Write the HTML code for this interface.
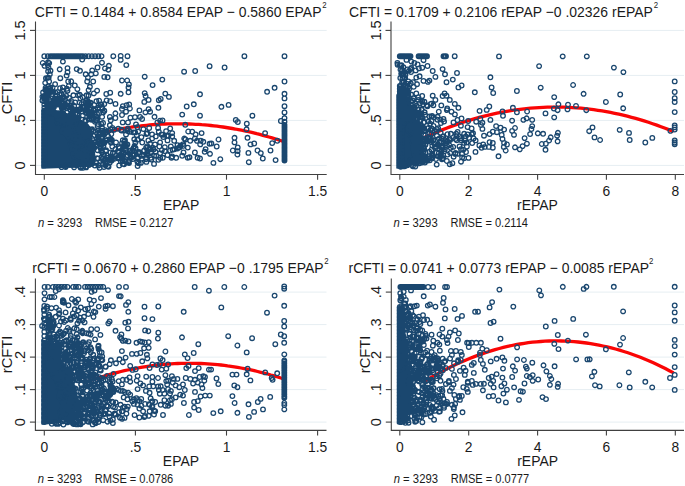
<!DOCTYPE html>
<html><head><meta charset="utf-8"><style>
html,body{margin:0;padding:0;background:#fff;width:685px;height:486px;overflow:hidden}
svg{display:block}
text{font-family:"Liberation Sans", sans-serif;fill:#1a1a1a}
.tk{font-size:14.6px}
.at{font-size:14.7px}
.tt{font-size:14.7px}
.sp{font-size:8.9px}
.nt{font-size:11.9px}
</style></head><body>
<svg width="685" height="486" viewBox="0 0 685 486">
<rect width="685" height="486" fill="#fff"/>
<line x1="36" y1="165.4" x2="326.7" y2="165.4" stroke="#e6eef2" stroke-width="1"/>
<line x1="36" y1="120.4" x2="326.7" y2="120.4" stroke="#e6eef2" stroke-width="1"/>
<line x1="36" y1="75.4" x2="326.7" y2="75.4" stroke="#e6eef2" stroke-width="1"/>
<line x1="36" y1="30.4" x2="326.7" y2="30.4" stroke="#e6eef2" stroke-width="1"/>
<path d="M100.8 133.2 L103.8 132.4 L106.9 131.7 L110.0 131.1 L113.0 130.4 L116.1 129.8 L119.1 129.2 L122.2 128.7 L125.2 128.1 L128.3 127.6 L131.4 127.2 L134.4 126.7 L137.5 126.3 L140.5 126.0 L143.6 125.6 L146.7 125.3 L149.7 125.0 L152.8 124.7 L155.8 124.5 L158.9 124.3 L161.9 124.1 L165.0 124.0 L168.1 123.9 L171.1 123.8 L174.2 123.8 L177.2 123.8 L180.3 123.8 L183.3 123.8 L186.4 123.9 L189.5 124.0 L192.5 124.1 L195.6 124.3 L198.6 124.4 L201.7 124.7 L204.8 124.9 L207.8 125.2 L210.9 125.5 L213.9 125.8 L217.0 126.2 L220.0 126.6 L223.1 127.0 L226.2 127.5 L229.2 128.0 L232.3 128.5 L235.3 129.0 L238.4 129.6 L241.4 130.2 L244.5 130.8 L247.6 131.5 L250.6 132.2 L253.7 132.9 L256.7 133.7 L259.8 134.4 L262.9 135.3 L265.9 136.1 L269.0 137.0 L272.0 137.9 L275.1 138.8 L278.1 139.8 L281.2 140.8 L284.3 141.8" fill="none" stroke="#fa0505" stroke-width="3.3"/>

<path d="M42.0 110.0 L52.0 110.0 L62.0 112.0 L72.0 116.0 L82.0 121.0 L89.0 131.0 L93.0 143.0 L95.0 158.0 L93.0 166.0 L70.0 167.0 L42.0 168.0Z" fill="#1a476f" stroke="#1a476f" stroke-width="1.5" stroke-linejoin="round"/>
<path d="M242.10 56.2a2.3 2.3 0 1 0 4.6 0a2.3 2.3 0 1 0 -4.6 0M282.20 56.2a2.3 2.3 0 1 0 4.6 0a2.3 2.3 0 1 0 -4.6 0M207.30 66.2a2.3 2.3 0 1 0 4.6 0a2.3 2.3 0 1 0 -4.6 0M222.30 67.5a2.3 2.3 0 1 0 4.6 0a2.3 2.3 0 1 0 -4.6 0M282.20 81.5a2.3 2.3 0 1 0 4.6 0a2.3 2.3 0 1 0 -4.6 0M272.30 87.8a2.3 2.3 0 1 0 4.6 0a2.3 2.3 0 1 0 -4.6 0M264.80 91.8a2.3 2.3 0 1 0 4.6 0a2.3 2.3 0 1 0 -4.6 0M282.20 93.8a2.3 2.3 0 1 0 4.6 0a2.3 2.3 0 1 0 -4.6 0M282.20 98.4a2.3 2.3 0 1 0 4.6 0a2.3 2.3 0 1 0 -4.6 0M282.20 106.2a2.3 2.3 0 1 0 4.6 0a2.3 2.3 0 1 0 -4.6 0M226.30 104.9a2.3 2.3 0 1 0 4.6 0a2.3 2.3 0 1 0 -4.6 0M219.10 106.8a2.3 2.3 0 1 0 4.6 0a2.3 2.3 0 1 0 -4.6 0M197.70 94.3a2.3 2.3 0 1 0 4.6 0a2.3 2.3 0 1 0 -4.6 0M197.70 115.7a2.3 2.3 0 1 0 4.6 0a2.3 2.3 0 1 0 -4.6 0M250.10 115.7a2.3 2.3 0 1 0 4.6 0a2.3 2.3 0 1 0 -4.6 0M233.50 120.0a2.3 2.3 0 1 0 4.6 0a2.3 2.3 0 1 0 -4.6 0M235.50 122.0a2.3 2.3 0 1 0 4.6 0a2.3 2.3 0 1 0 -4.6 0M244.50 123.7a2.3 2.3 0 1 0 4.6 0a2.3 2.3 0 1 0 -4.6 0M244.20 129.3a2.3 2.3 0 1 0 4.6 0a2.3 2.3 0 1 0 -4.6 0M278.60 121.0a2.3 2.3 0 1 0 4.6 0a2.3 2.3 0 1 0 -4.6 0M199.30 133.1a2.3 2.3 0 1 0 4.6 0a2.3 2.3 0 1 0 -4.6 0M262.80 133.1a2.3 2.3 0 1 0 4.6 0a2.3 2.3 0 1 0 -4.6 0M275.00 140.8a2.3 2.3 0 1 0 4.6 0a2.3 2.3 0 1 0 -4.6 0M232.20 137.8a2.3 2.3 0 1 0 4.6 0a2.3 2.3 0 1 0 -4.6 0M245.20 137.8a2.3 2.3 0 1 0 4.6 0a2.3 2.3 0 1 0 -4.6 0M216.20 139.5a2.3 2.3 0 1 0 4.6 0a2.3 2.3 0 1 0 -4.6 0M209.10 143.5a2.3 2.3 0 1 0 4.6 0a2.3 2.3 0 1 0 -4.6 0M201.00 141.8a2.3 2.3 0 1 0 4.6 0a2.3 2.3 0 1 0 -4.6 0M198.40 140.8a2.3 2.3 0 1 0 4.6 0a2.3 2.3 0 1 0 -4.6 0M232.20 142.4a2.3 2.3 0 1 0 4.6 0a2.3 2.3 0 1 0 -4.6 0M248.20 144.4a2.3 2.3 0 1 0 4.6 0a2.3 2.3 0 1 0 -4.6 0M251.90 143.5a2.3 2.3 0 1 0 4.6 0a2.3 2.3 0 1 0 -4.6 0M269.90 143.1a2.3 2.3 0 1 0 4.6 0a2.3 2.3 0 1 0 -4.6 0M214.40 146.5a2.3 2.3 0 1 0 4.6 0a2.3 2.3 0 1 0 -4.6 0M235.40 147.5a2.3 2.3 0 1 0 4.6 0a2.3 2.3 0 1 0 -4.6 0M230.50 150.5a2.3 2.3 0 1 0 4.6 0a2.3 2.3 0 1 0 -4.6 0M235.40 151.1a2.3 2.3 0 1 0 4.6 0a2.3 2.3 0 1 0 -4.6 0M235.10 154.5a2.3 2.3 0 1 0 4.6 0a2.3 2.3 0 1 0 -4.6 0M203.30 149.1a2.3 2.3 0 1 0 4.6 0a2.3 2.3 0 1 0 -4.6 0M202.40 151.8a2.3 2.3 0 1 0 4.6 0a2.3 2.3 0 1 0 -4.6 0M207.70 153.8a2.3 2.3 0 1 0 4.6 0a2.3 2.3 0 1 0 -4.6 0M255.20 150.5a2.3 2.3 0 1 0 4.6 0a2.3 2.3 0 1 0 -4.6 0M258.50 153.1a2.3 2.3 0 1 0 4.6 0a2.3 2.3 0 1 0 -4.6 0M268.20 150.5a2.3 2.3 0 1 0 4.6 0a2.3 2.3 0 1 0 -4.6 0M246.10 152.9a2.3 2.3 0 1 0 4.6 0a2.3 2.3 0 1 0 -4.6 0M260.50 158.5a2.3 2.3 0 1 0 4.6 0a2.3 2.3 0 1 0 -4.6 0M273.30 160.1a2.3 2.3 0 1 0 4.6 0a2.3 2.3 0 1 0 -4.6 0M246.50 162.2a2.3 2.3 0 1 0 4.6 0a2.3 2.3 0 1 0 -4.6 0M218.00 159.2a2.3 2.3 0 1 0 4.6 0a2.3 2.3 0 1 0 -4.6 0M211.10 162.9a2.3 2.3 0 1 0 4.6 0a2.3 2.3 0 1 0 -4.6 0M197.70 158.5a2.3 2.3 0 1 0 4.6 0a2.3 2.3 0 1 0 -4.6 0M282.20 112.4a2.3 2.3 0 1 0 4.6 0a2.3 2.3 0 1 0 -4.6 0M282.20 118.1a2.3 2.3 0 1 0 4.6 0a2.3 2.3 0 1 0 -4.6 0M282.20 121.7a2.3 2.3 0 1 0 4.6 0a2.3 2.3 0 1 0 -4.6 0M118.40 55.9a2.3 2.3 0 1 0 4.6 0a2.3 2.3 0 1 0 -4.6 0M118.40 59.9a2.3 2.3 0 1 0 4.6 0a2.3 2.3 0 1 0 -4.6 0M125.20 56.2a2.3 2.3 0 1 0 4.6 0a2.3 2.3 0 1 0 -4.6 0M124.00 65.1a2.3 2.3 0 1 0 4.6 0a2.3 2.3 0 1 0 -4.6 0M181.80 71.7a2.3 2.3 0 1 0 4.6 0a2.3 2.3 0 1 0 -4.6 0M192.90 71.0a2.3 2.3 0 1 0 4.6 0a2.3 2.3 0 1 0 -4.6 0M142.40 76.7a2.3 2.3 0 1 0 4.6 0a2.3 2.3 0 1 0 -4.6 0M119.70 80.5a2.3 2.3 0 1 0 4.6 0a2.3 2.3 0 1 0 -4.6 0M124.90 80.5a2.3 2.3 0 1 0 4.6 0a2.3 2.3 0 1 0 -4.6 0M126.60 84.4a2.3 2.3 0 1 0 4.6 0a2.3 2.3 0 1 0 -4.6 0M126.20 87.4a2.3 2.3 0 1 0 4.6 0a2.3 2.3 0 1 0 -4.6 0M126.20 92.3a2.3 2.3 0 1 0 4.6 0a2.3 2.3 0 1 0 -4.6 0M118.40 93.8a2.3 2.3 0 1 0 4.6 0a2.3 2.3 0 1 0 -4.6 0M160.00 79.6a2.3 2.3 0 1 0 4.6 0a2.3 2.3 0 1 0 -4.6 0M150.30 85.1a2.3 2.3 0 1 0 4.6 0a2.3 2.3 0 1 0 -4.6 0M142.40 93.1a2.3 2.3 0 1 0 4.6 0a2.3 2.3 0 1 0 -4.6 0M143.30 96.0a2.3 2.3 0 1 0 4.6 0a2.3 2.3 0 1 0 -4.6 0M146.30 99.9a2.3 2.3 0 1 0 4.6 0a2.3 2.3 0 1 0 -4.6 0M142.00 101.9a2.3 2.3 0 1 0 4.6 0a2.3 2.3 0 1 0 -4.6 0M163.00 93.6a2.3 2.3 0 1 0 4.6 0a2.3 2.3 0 1 0 -4.6 0M166.60 96.9a2.3 2.3 0 1 0 4.6 0a2.3 2.3 0 1 0 -4.6 0M158.40 98.9a2.3 2.3 0 1 0 4.6 0a2.3 2.3 0 1 0 -4.6 0M156.50 100.2a2.3 2.3 0 1 0 4.6 0a2.3 2.3 0 1 0 -4.6 0M191.50 104.3a2.3 2.3 0 1 0 4.6 0a2.3 2.3 0 1 0 -4.6 0M184.40 106.5a2.3 2.3 0 1 0 4.6 0a2.3 2.3 0 1 0 -4.6 0M124.30 105.2a2.3 2.3 0 1 0 4.6 0a2.3 2.3 0 1 0 -4.6 0M126.90 104.5a2.3 2.3 0 1 0 4.6 0a2.3 2.3 0 1 0 -4.6 0M119.70 108.9a2.3 2.3 0 1 0 4.6 0a2.3 2.3 0 1 0 -4.6 0M127.60 108.5a2.3 2.3 0 1 0 4.6 0a2.3 2.3 0 1 0 -4.6 0M146.30 109.1a2.3 2.3 0 1 0 4.6 0a2.3 2.3 0 1 0 -4.6 0M156.10 107.8a2.3 2.3 0 1 0 4.6 0a2.3 2.3 0 1 0 -4.6 0M137.10 110.4a2.3 2.3 0 1 0 4.6 0a2.3 2.3 0 1 0 -4.6 0M179.90 114.6a2.3 2.3 0 1 0 4.6 0a2.3 2.3 0 1 0 -4.6 0M152.20 116.8a2.3 2.3 0 1 0 4.6 0a2.3 2.3 0 1 0 -4.6 0M160.20 120.4a2.3 2.3 0 1 0 4.6 0a2.3 2.3 0 1 0 -4.6 0M155.10 122.4a2.3 2.3 0 1 0 4.6 0a2.3 2.3 0 1 0 -4.6 0M183.00 124.8a2.3 2.3 0 1 0 4.6 0a2.3 2.3 0 1 0 -4.6 0M155.80 128.0a2.3 2.3 0 1 0 4.6 0a2.3 2.3 0 1 0 -4.6 0M147.80 111.7a2.3 2.3 0 1 0 4.6 0a2.3 2.3 0 1 0 -4.6 0M143.10 112.4a2.3 2.3 0 1 0 4.6 0a2.3 2.3 0 1 0 -4.6 0M137.80 117.0a2.3 2.3 0 1 0 4.6 0a2.3 2.3 0 1 0 -4.6 0M139.80 119.0a2.3 2.3 0 1 0 4.6 0a2.3 2.3 0 1 0 -4.6 0M128.10 117.7a2.3 2.3 0 1 0 4.6 0a2.3 2.3 0 1 0 -4.6 0M125.70 122.4a2.3 2.3 0 1 0 4.6 0a2.3 2.3 0 1 0 -4.6 0M120.40 122.4a2.3 2.3 0 1 0 4.6 0a2.3 2.3 0 1 0 -4.6 0M123.70 111.7a2.3 2.3 0 1 0 4.6 0a2.3 2.3 0 1 0 -4.6 0M119.70 115.0a2.3 2.3 0 1 0 4.6 0a2.3 2.3 0 1 0 -4.6 0M133.70 124.4a2.3 2.3 0 1 0 4.6 0a2.3 2.3 0 1 0 -4.6 0M135.10 127.1a2.3 2.3 0 1 0 4.6 0a2.3 2.3 0 1 0 -4.6 0M141.10 129.1a2.3 2.3 0 1 0 4.6 0a2.3 2.3 0 1 0 -4.6 0M146.90 128.0a2.3 2.3 0 1 0 4.6 0a2.3 2.3 0 1 0 -4.6 0M145.10 133.1a2.3 2.3 0 1 0 4.6 0a2.3 2.3 0 1 0 -4.6 0M149.80 134.4a2.3 2.3 0 1 0 4.6 0a2.3 2.3 0 1 0 -4.6 0M149.80 138.4a2.3 2.3 0 1 0 4.6 0a2.3 2.3 0 1 0 -4.6 0M119.00 129.7a2.3 2.3 0 1 0 4.6 0a2.3 2.3 0 1 0 -4.6 0M127.70 131.7a2.3 2.3 0 1 0 4.6 0a2.3 2.3 0 1 0 -4.6 0M131.10 132.4a2.3 2.3 0 1 0 4.6 0a2.3 2.3 0 1 0 -4.6 0M123.70 134.4a2.3 2.3 0 1 0 4.6 0a2.3 2.3 0 1 0 -4.6 0M134.40 135.1a2.3 2.3 0 1 0 4.6 0a2.3 2.3 0 1 0 -4.6 0M139.10 137.1a2.3 2.3 0 1 0 4.6 0a2.3 2.3 0 1 0 -4.6 0M135.10 139.8a2.3 2.3 0 1 0 4.6 0a2.3 2.3 0 1 0 -4.6 0M133.10 142.4a2.3 2.3 0 1 0 4.6 0a2.3 2.3 0 1 0 -4.6 0M125.10 144.4a2.3 2.3 0 1 0 4.6 0a2.3 2.3 0 1 0 -4.6 0M121.70 146.5a2.3 2.3 0 1 0 4.6 0a2.3 2.3 0 1 0 -4.6 0M156.50 131.7a2.3 2.3 0 1 0 4.6 0a2.3 2.3 0 1 0 -4.6 0M159.20 134.4a2.3 2.3 0 1 0 4.6 0a2.3 2.3 0 1 0 -4.6 0M163.80 131.1a2.3 2.3 0 1 0 4.6 0a2.3 2.3 0 1 0 -4.6 0M164.50 135.8a2.3 2.3 0 1 0 4.6 0a2.3 2.3 0 1 0 -4.6 0M169.90 133.1a2.3 2.3 0 1 0 4.6 0a2.3 2.3 0 1 0 -4.6 0M169.90 136.4a2.3 2.3 0 1 0 4.6 0a2.3 2.3 0 1 0 -4.6 0M171.90 140.8a2.3 2.3 0 1 0 4.6 0a2.3 2.3 0 1 0 -4.6 0M165.20 140.4a2.3 2.3 0 1 0 4.6 0a2.3 2.3 0 1 0 -4.6 0M157.80 142.4a2.3 2.3 0 1 0 4.6 0a2.3 2.3 0 1 0 -4.6 0M147.80 143.8a2.3 2.3 0 1 0 4.6 0a2.3 2.3 0 1 0 -4.6 0M143.80 147.8a2.3 2.3 0 1 0 4.6 0a2.3 2.3 0 1 0 -4.6 0M147.10 149.1a2.3 2.3 0 1 0 4.6 0a2.3 2.3 0 1 0 -4.6 0M150.50 147.8a2.3 2.3 0 1 0 4.6 0a2.3 2.3 0 1 0 -4.6 0M157.10 146.5a2.3 2.3 0 1 0 4.6 0a2.3 2.3 0 1 0 -4.6 0M162.50 147.1a2.3 2.3 0 1 0 4.6 0a2.3 2.3 0 1 0 -4.6 0M168.50 146.5a2.3 2.3 0 1 0 4.6 0a2.3 2.3 0 1 0 -4.6 0M175.20 145.1a2.3 2.3 0 1 0 4.6 0a2.3 2.3 0 1 0 -4.6 0M181.20 145.8a2.3 2.3 0 1 0 4.6 0a2.3 2.3 0 1 0 -4.6 0M176.50 147.8a2.3 2.3 0 1 0 4.6 0a2.3 2.3 0 1 0 -4.6 0M185.90 131.5a2.3 2.3 0 1 0 4.6 0a2.3 2.3 0 1 0 -4.6 0M189.90 131.7a2.3 2.3 0 1 0 4.6 0a2.3 2.3 0 1 0 -4.6 0M193.30 134.4a2.3 2.3 0 1 0 4.6 0a2.3 2.3 0 1 0 -4.6 0M183.20 139.5a2.3 2.3 0 1 0 4.6 0a2.3 2.3 0 1 0 -4.6 0M187.90 140.8a2.3 2.3 0 1 0 4.6 0a2.3 2.3 0 1 0 -4.6 0M192.60 138.4a2.3 2.3 0 1 0 4.6 0a2.3 2.3 0 1 0 -4.6 0M194.60 140.8a2.3 2.3 0 1 0 4.6 0a2.3 2.3 0 1 0 -4.6 0M197.90 144.4a2.3 2.3 0 1 0 4.6 0a2.3 2.3 0 1 0 -4.6 0M207.30 143.8a2.3 2.3 0 1 0 4.6 0a2.3 2.3 0 1 0 -4.6 0M192.60 152.5a2.3 2.3 0 1 0 4.6 0a2.3 2.3 0 1 0 -4.6 0M181.20 152.5a2.3 2.3 0 1 0 4.6 0a2.3 2.3 0 1 0 -4.6 0M179.90 155.8a2.3 2.3 0 1 0 4.6 0a2.3 2.3 0 1 0 -4.6 0M187.20 157.2a2.3 2.3 0 1 0 4.6 0a2.3 2.3 0 1 0 -4.6 0M195.30 157.8a2.3 2.3 0 1 0 4.6 0a2.3 2.3 0 1 0 -4.6 0M173.90 157.8a2.3 2.3 0 1 0 4.6 0a2.3 2.3 0 1 0 -4.6 0M169.90 156.5a2.3 2.3 0 1 0 4.6 0a2.3 2.3 0 1 0 -4.6 0M167.80 150.5a2.3 2.3 0 1 0 4.6 0a2.3 2.3 0 1 0 -4.6 0M162.50 151.1a2.3 2.3 0 1 0 4.6 0a2.3 2.3 0 1 0 -4.6 0M157.80 153.1a2.3 2.3 0 1 0 4.6 0a2.3 2.3 0 1 0 -4.6 0M160.50 157.8a2.3 2.3 0 1 0 4.6 0a2.3 2.3 0 1 0 -4.6 0M157.80 157.8a2.3 2.3 0 1 0 4.6 0a2.3 2.3 0 1 0 -4.6 0M151.80 155.8a2.3 2.3 0 1 0 4.6 0a2.3 2.3 0 1 0 -4.6 0M148.50 157.8a2.3 2.3 0 1 0 4.6 0a2.3 2.3 0 1 0 -4.6 0M143.80 157.2a2.3 2.3 0 1 0 4.6 0a2.3 2.3 0 1 0 -4.6 0M139.80 155.8a2.3 2.3 0 1 0 4.6 0a2.3 2.3 0 1 0 -4.6 0M135.80 157.8a2.3 2.3 0 1 0 4.6 0a2.3 2.3 0 1 0 -4.6 0M131.70 151.1a2.3 2.3 0 1 0 4.6 0a2.3 2.3 0 1 0 -4.6 0M127.70 153.1a2.3 2.3 0 1 0 4.6 0a2.3 2.3 0 1 0 -4.6 0M123.70 156.5a2.3 2.3 0 1 0 4.6 0a2.3 2.3 0 1 0 -4.6 0M120.40 161.2a2.3 2.3 0 1 0 4.6 0a2.3 2.3 0 1 0 -4.6 0M137.80 152.5a2.3 2.3 0 1 0 4.6 0a2.3 2.3 0 1 0 -4.6 0M148.50 151.8a2.3 2.3 0 1 0 4.6 0a2.3 2.3 0 1 0 -4.6 0M153.10 151.8a2.3 2.3 0 1 0 4.6 0a2.3 2.3 0 1 0 -4.6 0M165.20 155.1a2.3 2.3 0 1 0 4.6 0a2.3 2.3 0 1 0 -4.6 0M60.60 61.6a2.3 2.3 0 1 0 4.6 0a2.3 2.3 0 1 0 -4.6 0M79.90 59.5a2.3 2.3 0 1 0 4.6 0a2.3 2.3 0 1 0 -4.6 0M99.70 62.7a2.3 2.3 0 1 0 4.6 0a2.3 2.3 0 1 0 -4.6 0M42.20 65.8a2.3 2.3 0 1 0 4.6 0a2.3 2.3 0 1 0 -4.6 0M45.50 65.1a2.3 2.3 0 1 0 4.6 0a2.3 2.3 0 1 0 -4.6 0M46.20 67.7a2.3 2.3 0 1 0 4.6 0a2.3 2.3 0 1 0 -4.6 0M48.20 70.8a2.3 2.3 0 1 0 4.6 0a2.3 2.3 0 1 0 -4.6 0M47.50 74.3a2.3 2.3 0 1 0 4.6 0a2.3 2.3 0 1 0 -4.6 0M57.40 69.3a2.3 2.3 0 1 0 4.6 0a2.3 2.3 0 1 0 -4.6 0M65.20 68.1a2.3 2.3 0 1 0 4.6 0a2.3 2.3 0 1 0 -4.6 0M65.20 72.3a2.3 2.3 0 1 0 4.6 0a2.3 2.3 0 1 0 -4.6 0M64.30 75.6a2.3 2.3 0 1 0 4.6 0a2.3 2.3 0 1 0 -4.6 0M74.40 69.1a2.3 2.3 0 1 0 4.6 0a2.3 2.3 0 1 0 -4.6 0M77.70 70.8a2.3 2.3 0 1 0 4.6 0a2.3 2.3 0 1 0 -4.6 0M83.40 74.3a2.3 2.3 0 1 0 4.6 0a2.3 2.3 0 1 0 -4.6 0M85.60 77.6a2.3 2.3 0 1 0 4.6 0a2.3 2.3 0 1 0 -4.6 0M89.90 70.4a2.3 2.3 0 1 0 4.6 0a2.3 2.3 0 1 0 -4.6 0M88.90 74.3a2.3 2.3 0 1 0 4.6 0a2.3 2.3 0 1 0 -4.6 0M93.50 73.4a2.3 2.3 0 1 0 4.6 0a2.3 2.3 0 1 0 -4.6 0M95.20 67.5a2.3 2.3 0 1 0 4.6 0a2.3 2.3 0 1 0 -4.6 0M102.70 68.4a2.3 2.3 0 1 0 4.6 0a2.3 2.3 0 1 0 -4.6 0M106.60 65.8a2.3 2.3 0 1 0 4.6 0a2.3 2.3 0 1 0 -4.6 0M106.00 69.7a2.3 2.3 0 1 0 4.6 0a2.3 2.3 0 1 0 -4.6 0M102.00 76.9a2.3 2.3 0 1 0 4.6 0a2.3 2.3 0 1 0 -4.6 0M105.30 77.3a2.3 2.3 0 1 0 4.6 0a2.3 2.3 0 1 0 -4.6 0M45.30 77.9a2.3 2.3 0 1 0 4.6 0a2.3 2.3 0 1 0 -4.6 0M42.90 82.8a2.3 2.3 0 1 0 4.6 0a2.3 2.3 0 1 0 -4.6 0M46.80 81.5a2.3 2.3 0 1 0 4.6 0a2.3 2.3 0 1 0 -4.6 0M52.80 84.2a2.3 2.3 0 1 0 4.6 0a2.3 2.3 0 1 0 -4.6 0M58.00 78.2a2.3 2.3 0 1 0 4.6 0a2.3 2.3 0 1 0 -4.6 0M65.90 81.5a2.3 2.3 0 1 0 4.6 0a2.3 2.3 0 1 0 -4.6 0M68.90 81.3a2.3 2.3 0 1 0 4.6 0a2.3 2.3 0 1 0 -4.6 0M72.50 85.5a2.3 2.3 0 1 0 4.6 0a2.3 2.3 0 1 0 -4.6 0M75.10 89.2a2.3 2.3 0 1 0 4.6 0a2.3 2.3 0 1 0 -4.6 0M84.90 81.5a2.3 2.3 0 1 0 4.6 0a2.3 2.3 0 1 0 -4.6 0M90.90 81.5a2.3 2.3 0 1 0 4.6 0a2.3 2.3 0 1 0 -4.6 0M87.60 86.8a2.3 2.3 0 1 0 4.6 0a2.3 2.3 0 1 0 -4.6 0M86.30 90.1a2.3 2.3 0 1 0 4.6 0a2.3 2.3 0 1 0 -4.6 0M94.80 90.7a2.3 2.3 0 1 0 4.6 0a2.3 2.3 0 1 0 -4.6 0M91.50 93.4a2.3 2.3 0 1 0 4.6 0a2.3 2.3 0 1 0 -4.6 0M104.00 94.0a2.3 2.3 0 1 0 4.6 0a2.3 2.3 0 1 0 -4.6 0M107.90 92.7a2.3 2.3 0 1 0 4.6 0a2.3 2.3 0 1 0 -4.6 0M42.90 90.1a2.3 2.3 0 1 0 4.6 0a2.3 2.3 0 1 0 -4.6 0M46.80 88.8a2.3 2.3 0 1 0 4.6 0a2.3 2.3 0 1 0 -4.6 0M46.80 92.7a2.3 2.3 0 1 0 4.6 0a2.3 2.3 0 1 0 -4.6 0M42.90 95.3a2.3 2.3 0 1 0 4.6 0a2.3 2.3 0 1 0 -4.6 0M55.40 92.0a2.3 2.3 0 1 0 4.6 0a2.3 2.3 0 1 0 -4.6 0M60.60 87.4a2.3 2.3 0 1 0 4.6 0a2.3 2.3 0 1 0 -4.6 0M64.60 88.8a2.3 2.3 0 1 0 4.6 0a2.3 2.3 0 1 0 -4.6 0M66.50 86.1a2.3 2.3 0 1 0 4.6 0a2.3 2.3 0 1 0 -4.6 0M60.00 90.7a2.3 2.3 0 1 0 4.6 0a2.3 2.3 0 1 0 -4.6 0M65.20 90.7a2.3 2.3 0 1 0 4.6 0a2.3 2.3 0 1 0 -4.6 0M53.40 96.0a2.3 2.3 0 1 0 4.6 0a2.3 2.3 0 1 0 -4.6 0M59.30 94.7a2.3 2.3 0 1 0 4.6 0a2.3 2.3 0 1 0 -4.6 0M63.90 96.0a2.3 2.3 0 1 0 4.6 0a2.3 2.3 0 1 0 -4.6 0M71.10 95.3a2.3 2.3 0 1 0 4.6 0a2.3 2.3 0 1 0 -4.6 0M75.70 95.3a2.3 2.3 0 1 0 4.6 0a2.3 2.3 0 1 0 -4.6 0M80.30 97.3a2.3 2.3 0 1 0 4.6 0a2.3 2.3 0 1 0 -4.6 0M84.30 95.3a2.3 2.3 0 1 0 4.6 0a2.3 2.3 0 1 0 -4.6 0M84.90 99.9a2.3 2.3 0 1 0 4.6 0a2.3 2.3 0 1 0 -4.6 0M94.10 101.2a2.3 2.3 0 1 0 4.6 0a2.3 2.3 0 1 0 -4.6 0M96.80 100.6a2.3 2.3 0 1 0 4.6 0a2.3 2.3 0 1 0 -4.6 0M102.00 103.9a2.3 2.3 0 1 0 4.6 0a2.3 2.3 0 1 0 -4.6 0M107.90 101.2a2.3 2.3 0 1 0 4.6 0a2.3 2.3 0 1 0 -4.6 0M113.20 103.9a2.3 2.3 0 1 0 4.6 0a2.3 2.3 0 1 0 -4.6 0M88.90 107.8a2.3 2.3 0 1 0 4.6 0a2.3 2.3 0 1 0 -4.6 0M95.50 107.8a2.3 2.3 0 1 0 4.6 0a2.3 2.3 0 1 0 -4.6 0M100.10 109.1a2.3 2.3 0 1 0 4.6 0a2.3 2.3 0 1 0 -4.6 0M111.00 56.2a2.3 2.3 0 1 0 4.6 0a2.3 2.3 0 1 0 -4.6 0M42.00 56.2a2.3 2.3 0 1 0 4.6 0a2.3 2.3 0 1 0 -4.6 0M45.50 56.2a2.3 2.3 0 1 0 4.6 0a2.3 2.3 0 1 0 -4.6 0M48.20 56.2a2.3 2.3 0 1 0 4.6 0a2.3 2.3 0 1 0 -4.6 0M49.61 56.2a2.3 2.3 0 1 0 4.6 0a2.3 2.3 0 1 0 -4.6 0M51.03 56.2a2.3 2.3 0 1 0 4.6 0a2.3 2.3 0 1 0 -4.6 0M52.44 56.2a2.3 2.3 0 1 0 4.6 0a2.3 2.3 0 1 0 -4.6 0M53.85 56.2a2.3 2.3 0 1 0 4.6 0a2.3 2.3 0 1 0 -4.6 0M55.27 56.2a2.3 2.3 0 1 0 4.6 0a2.3 2.3 0 1 0 -4.6 0M56.68 56.2a2.3 2.3 0 1 0 4.6 0a2.3 2.3 0 1 0 -4.6 0M58.09 56.2a2.3 2.3 0 1 0 4.6 0a2.3 2.3 0 1 0 -4.6 0M59.50 56.2a2.3 2.3 0 1 0 4.6 0a2.3 2.3 0 1 0 -4.6 0M60.92 56.2a2.3 2.3 0 1 0 4.6 0a2.3 2.3 0 1 0 -4.6 0M62.33 56.2a2.3 2.3 0 1 0 4.6 0a2.3 2.3 0 1 0 -4.6 0M63.74 56.2a2.3 2.3 0 1 0 4.6 0a2.3 2.3 0 1 0 -4.6 0M65.16 56.2a2.3 2.3 0 1 0 4.6 0a2.3 2.3 0 1 0 -4.6 0M66.57 56.2a2.3 2.3 0 1 0 4.6 0a2.3 2.3 0 1 0 -4.6 0M67.98 56.2a2.3 2.3 0 1 0 4.6 0a2.3 2.3 0 1 0 -4.6 0M69.40 56.2a2.3 2.3 0 1 0 4.6 0a2.3 2.3 0 1 0 -4.6 0M70.81 56.2a2.3 2.3 0 1 0 4.6 0a2.3 2.3 0 1 0 -4.6 0M72.22 56.2a2.3 2.3 0 1 0 4.6 0a2.3 2.3 0 1 0 -4.6 0M73.63 56.2a2.3 2.3 0 1 0 4.6 0a2.3 2.3 0 1 0 -4.6 0M75.05 56.2a2.3 2.3 0 1 0 4.6 0a2.3 2.3 0 1 0 -4.6 0M76.46 56.2a2.3 2.3 0 1 0 4.6 0a2.3 2.3 0 1 0 -4.6 0M77.87 56.2a2.3 2.3 0 1 0 4.6 0a2.3 2.3 0 1 0 -4.6 0M79.29 56.2a2.3 2.3 0 1 0 4.6 0a2.3 2.3 0 1 0 -4.6 0M80.70 56.2a2.3 2.3 0 1 0 4.6 0a2.3 2.3 0 1 0 -4.6 0M83.20 56.2a2.3 2.3 0 1 0 4.6 0a2.3 2.3 0 1 0 -4.6 0M86.40 56.2a2.3 2.3 0 1 0 4.6 0a2.3 2.3 0 1 0 -4.6 0M89.60 56.2a2.3 2.3 0 1 0 4.6 0a2.3 2.3 0 1 0 -4.6 0M92.80 56.2a2.3 2.3 0 1 0 4.6 0a2.3 2.3 0 1 0 -4.6 0M96.00 56.2a2.3 2.3 0 1 0 4.6 0a2.3 2.3 0 1 0 -4.6 0M99.20 56.2a2.3 2.3 0 1 0 4.6 0a2.3 2.3 0 1 0 -4.6 0M282.20 125.0a2.3 2.3 0 1 0 4.6 0a2.3 2.3 0 1 0 -4.6 0M282.20 126.3a2.3 2.3 0 1 0 4.6 0a2.3 2.3 0 1 0 -4.6 0M282.20 127.6a2.3 2.3 0 1 0 4.6 0a2.3 2.3 0 1 0 -4.6 0M282.20 128.9a2.3 2.3 0 1 0 4.6 0a2.3 2.3 0 1 0 -4.6 0M282.20 130.3a2.3 2.3 0 1 0 4.6 0a2.3 2.3 0 1 0 -4.6 0M282.20 131.6a2.3 2.3 0 1 0 4.6 0a2.3 2.3 0 1 0 -4.6 0M282.20 132.9a2.3 2.3 0 1 0 4.6 0a2.3 2.3 0 1 0 -4.6 0M282.20 134.2a2.3 2.3 0 1 0 4.6 0a2.3 2.3 0 1 0 -4.6 0M282.20 135.5a2.3 2.3 0 1 0 4.6 0a2.3 2.3 0 1 0 -4.6 0M282.20 136.8a2.3 2.3 0 1 0 4.6 0a2.3 2.3 0 1 0 -4.6 0M282.20 138.1a2.3 2.3 0 1 0 4.6 0a2.3 2.3 0 1 0 -4.6 0M282.20 139.5a2.3 2.3 0 1 0 4.6 0a2.3 2.3 0 1 0 -4.6 0M282.20 140.8a2.3 2.3 0 1 0 4.6 0a2.3 2.3 0 1 0 -4.6 0M282.20 142.1a2.3 2.3 0 1 0 4.6 0a2.3 2.3 0 1 0 -4.6 0M282.20 143.4a2.3 2.3 0 1 0 4.6 0a2.3 2.3 0 1 0 -4.6 0M282.20 144.7a2.3 2.3 0 1 0 4.6 0a2.3 2.3 0 1 0 -4.6 0M282.20 146.0a2.3 2.3 0 1 0 4.6 0a2.3 2.3 0 1 0 -4.6 0M282.20 147.4a2.3 2.3 0 1 0 4.6 0a2.3 2.3 0 1 0 -4.6 0M282.20 148.7a2.3 2.3 0 1 0 4.6 0a2.3 2.3 0 1 0 -4.6 0M282.20 150.0a2.3 2.3 0 1 0 4.6 0a2.3 2.3 0 1 0 -4.6 0M282.20 151.3a2.3 2.3 0 1 0 4.6 0a2.3 2.3 0 1 0 -4.6 0M282.20 152.6a2.3 2.3 0 1 0 4.6 0a2.3 2.3 0 1 0 -4.6 0M282.20 153.9a2.3 2.3 0 1 0 4.6 0a2.3 2.3 0 1 0 -4.6 0M282.20 155.2a2.3 2.3 0 1 0 4.6 0a2.3 2.3 0 1 0 -4.6 0M282.20 156.6a2.3 2.3 0 1 0 4.6 0a2.3 2.3 0 1 0 -4.6 0M282.20 157.9a2.3 2.3 0 1 0 4.6 0a2.3 2.3 0 1 0 -4.6 0M282.20 159.2a2.3 2.3 0 1 0 4.6 0a2.3 2.3 0 1 0 -4.6 0M282.20 160.5a2.3 2.3 0 1 0 4.6 0a2.3 2.3 0 1 0 -4.6 0M42.00 98.0a2.3 2.3 0 1 0 4.6 0a2.3 2.3 0 1 0 -4.6 0M42.00 101.2a2.3 2.3 0 1 0 4.6 0a2.3 2.3 0 1 0 -4.6 0M42.00 104.4a2.3 2.3 0 1 0 4.6 0a2.3 2.3 0 1 0 -4.6 0M42.00 107.6a2.3 2.3 0 1 0 4.6 0a2.3 2.3 0 1 0 -4.6 0M42.00 110.8a2.3 2.3 0 1 0 4.6 0a2.3 2.3 0 1 0 -4.6 0M42.00 114.0a2.3 2.3 0 1 0 4.6 0a2.3 2.3 0 1 0 -4.6 0M42.00 117.3a2.3 2.3 0 1 0 4.6 0a2.3 2.3 0 1 0 -4.6 0M42.00 120.5a2.3 2.3 0 1 0 4.6 0a2.3 2.3 0 1 0 -4.6 0M42.00 123.7a2.3 2.3 0 1 0 4.6 0a2.3 2.3 0 1 0 -4.6 0M42.00 126.9a2.3 2.3 0 1 0 4.6 0a2.3 2.3 0 1 0 -4.6 0M42.00 130.1a2.3 2.3 0 1 0 4.6 0a2.3 2.3 0 1 0 -4.6 0M42.00 133.3a2.3 2.3 0 1 0 4.6 0a2.3 2.3 0 1 0 -4.6 0M42.00 136.5a2.3 2.3 0 1 0 4.6 0a2.3 2.3 0 1 0 -4.6 0M42.00 139.7a2.3 2.3 0 1 0 4.6 0a2.3 2.3 0 1 0 -4.6 0M42.00 142.9a2.3 2.3 0 1 0 4.6 0a2.3 2.3 0 1 0 -4.6 0M42.00 146.1a2.3 2.3 0 1 0 4.6 0a2.3 2.3 0 1 0 -4.6 0M42.00 149.4a2.3 2.3 0 1 0 4.6 0a2.3 2.3 0 1 0 -4.6 0M42.00 152.6a2.3 2.3 0 1 0 4.6 0a2.3 2.3 0 1 0 -4.6 0M42.00 155.8a2.3 2.3 0 1 0 4.6 0a2.3 2.3 0 1 0 -4.6 0M42.00 159.0a2.3 2.3 0 1 0 4.6 0a2.3 2.3 0 1 0 -4.6 0M42.00 162.2a2.3 2.3 0 1 0 4.6 0a2.3 2.3 0 1 0 -4.6 0M42.00 165.4a2.3 2.3 0 1 0 4.6 0a2.3 2.3 0 1 0 -4.6 0M40.77 92.5a2.3 2.3 0 1 0 4.6 0a2.3 2.3 0 1 0 -4.6 0M45.81 71.2a2.3 2.3 0 1 0 4.6 0a2.3 2.3 0 1 0 -4.6 0M43.66 78.2a2.3 2.3 0 1 0 4.6 0a2.3 2.3 0 1 0 -4.6 0M44.91 90.4a2.3 2.3 0 1 0 4.6 0a2.3 2.3 0 1 0 -4.6 0M40.45 63.0a2.3 2.3 0 1 0 4.6 0a2.3 2.3 0 1 0 -4.6 0M46.39 77.6a2.3 2.3 0 1 0 4.6 0a2.3 2.3 0 1 0 -4.6 0M45.80 62.1a2.3 2.3 0 1 0 4.6 0a2.3 2.3 0 1 0 -4.6 0M43.26 88.0a2.3 2.3 0 1 0 4.6 0a2.3 2.3 0 1 0 -4.6 0M41.53 96.0a2.3 2.3 0 1 0 4.6 0a2.3 2.3 0 1 0 -4.6 0M46.91 63.1a2.3 2.3 0 1 0 4.6 0a2.3 2.3 0 1 0 -4.6 0M40.11 100.5a2.3 2.3 0 1 0 4.6 0a2.3 2.3 0 1 0 -4.6 0M54.73 98.6a2.3 2.3 0 1 0 4.6 0a2.3 2.3 0 1 0 -4.6 0M43.17 99.1a2.3 2.3 0 1 0 4.6 0a2.3 2.3 0 1 0 -4.6 0M40.16 96.7a2.3 2.3 0 1 0 4.6 0a2.3 2.3 0 1 0 -4.6 0M46.71 99.9a2.3 2.3 0 1 0 4.6 0a2.3 2.3 0 1 0 -4.6 0M43.43 96.8a2.3 2.3 0 1 0 4.6 0a2.3 2.3 0 1 0 -4.6 0M43.20 99.5a2.3 2.3 0 1 0 4.6 0a2.3 2.3 0 1 0 -4.6 0M44.34 94.3a2.3 2.3 0 1 0 4.6 0a2.3 2.3 0 1 0 -4.6 0M53.10 100.7a2.3 2.3 0 1 0 4.6 0a2.3 2.3 0 1 0 -4.6 0M49.98 96.2a2.3 2.3 0 1 0 4.6 0a2.3 2.3 0 1 0 -4.6 0M55.58 104.3a2.3 2.3 0 1 0 4.6 0a2.3 2.3 0 1 0 -4.6 0M41.63 98.0a2.3 2.3 0 1 0 4.6 0a2.3 2.3 0 1 0 -4.6 0M51.24 102.5a2.3 2.3 0 1 0 4.6 0a2.3 2.3 0 1 0 -4.6 0M54.68 99.1a2.3 2.3 0 1 0 4.6 0a2.3 2.3 0 1 0 -4.6 0M52.98 102.0a2.3 2.3 0 1 0 4.6 0a2.3 2.3 0 1 0 -4.6 0M44.55 101.1a2.3 2.3 0 1 0 4.6 0a2.3 2.3 0 1 0 -4.6 0M53.82 104.2a2.3 2.3 0 1 0 4.6 0a2.3 2.3 0 1 0 -4.6 0M92.85 108.9a2.3 2.3 0 1 0 4.6 0a2.3 2.3 0 1 0 -4.6 0M83.75 101.0a2.3 2.3 0 1 0 4.6 0a2.3 2.3 0 1 0 -4.6 0M77.38 94.8a2.3 2.3 0 1 0 4.6 0a2.3 2.3 0 1 0 -4.6 0M96.23 105.1a2.3 2.3 0 1 0 4.6 0a2.3 2.3 0 1 0 -4.6 0M86.59 102.9a2.3 2.3 0 1 0 4.6 0a2.3 2.3 0 1 0 -4.6 0M96.88 113.0a2.3 2.3 0 1 0 4.6 0a2.3 2.3 0 1 0 -4.6 0M102.01 110.7a2.3 2.3 0 1 0 4.6 0a2.3 2.3 0 1 0 -4.6 0M98.16 104.5a2.3 2.3 0 1 0 4.6 0a2.3 2.3 0 1 0 -4.6 0M85.77 101.9a2.3 2.3 0 1 0 4.6 0a2.3 2.3 0 1 0 -4.6 0M86.20 95.6a2.3 2.3 0 1 0 4.6 0a2.3 2.3 0 1 0 -4.6 0M88.32 102.8a2.3 2.3 0 1 0 4.6 0a2.3 2.3 0 1 0 -4.6 0M100.75 112.4a2.3 2.3 0 1 0 4.6 0a2.3 2.3 0 1 0 -4.6 0M185.45 157.8a2.3 2.3 0 1 0 4.6 0a2.3 2.3 0 1 0 -4.6 0M139.40 158.6a2.3 2.3 0 1 0 4.6 0a2.3 2.3 0 1 0 -4.6 0M119.12 130.5a2.3 2.3 0 1 0 4.6 0a2.3 2.3 0 1 0 -4.6 0M181.92 138.5a2.3 2.3 0 1 0 4.6 0a2.3 2.3 0 1 0 -4.6 0M127.01 151.2a2.3 2.3 0 1 0 4.6 0a2.3 2.3 0 1 0 -4.6 0M131.27 147.9a2.3 2.3 0 1 0 4.6 0a2.3 2.3 0 1 0 -4.6 0M131.99 139.3a2.3 2.3 0 1 0 4.6 0a2.3 2.3 0 1 0 -4.6 0M178.19 145.5a2.3 2.3 0 1 0 4.6 0a2.3 2.3 0 1 0 -4.6 0M145.07 146.1a2.3 2.3 0 1 0 4.6 0a2.3 2.3 0 1 0 -4.6 0M119.71 143.1a2.3 2.3 0 1 0 4.6 0a2.3 2.3 0 1 0 -4.6 0M153.48 136.4a2.3 2.3 0 1 0 4.6 0a2.3 2.3 0 1 0 -4.6 0M126.94 160.6a2.3 2.3 0 1 0 4.6 0a2.3 2.3 0 1 0 -4.6 0M161.06 137.1a2.3 2.3 0 1 0 4.6 0a2.3 2.3 0 1 0 -4.6 0M169.18 157.8a2.3 2.3 0 1 0 4.6 0a2.3 2.3 0 1 0 -4.6 0M119.47 130.6a2.3 2.3 0 1 0 4.6 0a2.3 2.3 0 1 0 -4.6 0M130.15 154.4a2.3 2.3 0 1 0 4.6 0a2.3 2.3 0 1 0 -4.6 0M131.32 154.0a2.3 2.3 0 1 0 4.6 0a2.3 2.3 0 1 0 -4.6 0M175.34 148.5a2.3 2.3 0 1 0 4.6 0a2.3 2.3 0 1 0 -4.6 0M136.45 163.2a2.3 2.3 0 1 0 4.6 0a2.3 2.3 0 1 0 -4.6 0M185.51 147.6a2.3 2.3 0 1 0 4.6 0a2.3 2.3 0 1 0 -4.6 0M136.67 152.0a2.3 2.3 0 1 0 4.6 0a2.3 2.3 0 1 0 -4.6 0M151.27 149.6a2.3 2.3 0 1 0 4.6 0a2.3 2.3 0 1 0 -4.6 0M145.01 151.5a2.3 2.3 0 1 0 4.6 0a2.3 2.3 0 1 0 -4.6 0M122.70 140.2a2.3 2.3 0 1 0 4.6 0a2.3 2.3 0 1 0 -4.6 0M143.74 159.2a2.3 2.3 0 1 0 4.6 0a2.3 2.3 0 1 0 -4.6 0M144.08 161.9a2.3 2.3 0 1 0 4.6 0a2.3 2.3 0 1 0 -4.6 0M180.93 144.1a2.3 2.3 0 1 0 4.6 0a2.3 2.3 0 1 0 -4.6 0M166.17 135.8a2.3 2.3 0 1 0 4.6 0a2.3 2.3 0 1 0 -4.6 0M177.54 147.3a2.3 2.3 0 1 0 4.6 0a2.3 2.3 0 1 0 -4.6 0M92.46 114.4a2.3 2.3 0 1 0 4.6 0a2.3 2.3 0 1 0 -4.6 0M81.89 127.0a2.3 2.3 0 1 0 4.6 0a2.3 2.3 0 1 0 -4.6 0M156.14 159.8a2.3 2.3 0 1 0 4.6 0a2.3 2.3 0 1 0 -4.6 0M69.61 112.9a2.3 2.3 0 1 0 4.6 0a2.3 2.3 0 1 0 -4.6 0M88.06 158.4a2.3 2.3 0 1 0 4.6 0a2.3 2.3 0 1 0 -4.6 0M106.20 166.8a2.3 2.3 0 1 0 4.6 0a2.3 2.3 0 1 0 -4.6 0M121.13 155.0a2.3 2.3 0 1 0 4.6 0a2.3 2.3 0 1 0 -4.6 0M61.16 131.2a2.3 2.3 0 1 0 4.6 0a2.3 2.3 0 1 0 -4.6 0M48.75 92.0a2.3 2.3 0 1 0 4.6 0a2.3 2.3 0 1 0 -4.6 0M123.06 150.1a2.3 2.3 0 1 0 4.6 0a2.3 2.3 0 1 0 -4.6 0M78.11 159.0a2.3 2.3 0 1 0 4.6 0a2.3 2.3 0 1 0 -4.6 0M145.22 153.9a2.3 2.3 0 1 0 4.6 0a2.3 2.3 0 1 0 -4.6 0M65.29 105.8a2.3 2.3 0 1 0 4.6 0a2.3 2.3 0 1 0 -4.6 0M92.50 165.6a2.3 2.3 0 1 0 4.6 0a2.3 2.3 0 1 0 -4.6 0M81.63 106.8a2.3 2.3 0 1 0 4.6 0a2.3 2.3 0 1 0 -4.6 0M81.83 134.9a2.3 2.3 0 1 0 4.6 0a2.3 2.3 0 1 0 -4.6 0M71.46 136.7a2.3 2.3 0 1 0 4.6 0a2.3 2.3 0 1 0 -4.6 0M113.74 142.4a2.3 2.3 0 1 0 4.6 0a2.3 2.3 0 1 0 -4.6 0M77.12 130.4a2.3 2.3 0 1 0 4.6 0a2.3 2.3 0 1 0 -4.6 0M126.71 163.1a2.3 2.3 0 1 0 4.6 0a2.3 2.3 0 1 0 -4.6 0M83.28 112.8a2.3 2.3 0 1 0 4.6 0a2.3 2.3 0 1 0 -4.6 0M86.83 130.6a2.3 2.3 0 1 0 4.6 0a2.3 2.3 0 1 0 -4.6 0M120.58 106.1a2.3 2.3 0 1 0 4.6 0a2.3 2.3 0 1 0 -4.6 0M52.85 92.2a2.3 2.3 0 1 0 4.6 0a2.3 2.3 0 1 0 -4.6 0M81.22 151.0a2.3 2.3 0 1 0 4.6 0a2.3 2.3 0 1 0 -4.6 0M47.80 111.9a2.3 2.3 0 1 0 4.6 0a2.3 2.3 0 1 0 -4.6 0M139.96 142.5a2.3 2.3 0 1 0 4.6 0a2.3 2.3 0 1 0 -4.6 0M113.54 155.8a2.3 2.3 0 1 0 4.6 0a2.3 2.3 0 1 0 -4.6 0M94.75 113.8a2.3 2.3 0 1 0 4.6 0a2.3 2.3 0 1 0 -4.6 0M97.45 132.8a2.3 2.3 0 1 0 4.6 0a2.3 2.3 0 1 0 -4.6 0M77.13 154.0a2.3 2.3 0 1 0 4.6 0a2.3 2.3 0 1 0 -4.6 0M95.44 136.2a2.3 2.3 0 1 0 4.6 0a2.3 2.3 0 1 0 -4.6 0M108.32 139.2a2.3 2.3 0 1 0 4.6 0a2.3 2.3 0 1 0 -4.6 0M132.26 146.0a2.3 2.3 0 1 0 4.6 0a2.3 2.3 0 1 0 -4.6 0M107.56 125.3a2.3 2.3 0 1 0 4.6 0a2.3 2.3 0 1 0 -4.6 0M96.88 132.0a2.3 2.3 0 1 0 4.6 0a2.3 2.3 0 1 0 -4.6 0M49.92 91.9a2.3 2.3 0 1 0 4.6 0a2.3 2.3 0 1 0 -4.6 0M66.44 106.5a2.3 2.3 0 1 0 4.6 0a2.3 2.3 0 1 0 -4.6 0M117.17 148.1a2.3 2.3 0 1 0 4.6 0a2.3 2.3 0 1 0 -4.6 0M75.72 147.5a2.3 2.3 0 1 0 4.6 0a2.3 2.3 0 1 0 -4.6 0M68.19 122.0a2.3 2.3 0 1 0 4.6 0a2.3 2.3 0 1 0 -4.6 0M70.35 109.4a2.3 2.3 0 1 0 4.6 0a2.3 2.3 0 1 0 -4.6 0M78.95 134.0a2.3 2.3 0 1 0 4.6 0a2.3 2.3 0 1 0 -4.6 0M93.14 109.3a2.3 2.3 0 1 0 4.6 0a2.3 2.3 0 1 0 -4.6 0M89.73 129.3a2.3 2.3 0 1 0 4.6 0a2.3 2.3 0 1 0 -4.6 0M100.76 122.9a2.3 2.3 0 1 0 4.6 0a2.3 2.3 0 1 0 -4.6 0M95.22 150.2a2.3 2.3 0 1 0 4.6 0a2.3 2.3 0 1 0 -4.6 0M107.21 139.1a2.3 2.3 0 1 0 4.6 0a2.3 2.3 0 1 0 -4.6 0M96.20 137.6a2.3 2.3 0 1 0 4.6 0a2.3 2.3 0 1 0 -4.6 0M135.73 152.8a2.3 2.3 0 1 0 4.6 0a2.3 2.3 0 1 0 -4.6 0M141.95 150.4a2.3 2.3 0 1 0 4.6 0a2.3 2.3 0 1 0 -4.6 0M100.92 160.9a2.3 2.3 0 1 0 4.6 0a2.3 2.3 0 1 0 -4.6 0M61.58 97.3a2.3 2.3 0 1 0 4.6 0a2.3 2.3 0 1 0 -4.6 0M90.28 147.6a2.3 2.3 0 1 0 4.6 0a2.3 2.3 0 1 0 -4.6 0M57.42 118.6a2.3 2.3 0 1 0 4.6 0a2.3 2.3 0 1 0 -4.6 0M56.60 101.3a2.3 2.3 0 1 0 4.6 0a2.3 2.3 0 1 0 -4.6 0M120.78 158.9a2.3 2.3 0 1 0 4.6 0a2.3 2.3 0 1 0 -4.6 0M87.88 154.7a2.3 2.3 0 1 0 4.6 0a2.3 2.3 0 1 0 -4.6 0M107.56 117.0a2.3 2.3 0 1 0 4.6 0a2.3 2.3 0 1 0 -4.6 0M73.59 153.3a2.3 2.3 0 1 0 4.6 0a2.3 2.3 0 1 0 -4.6 0M86.29 134.7a2.3 2.3 0 1 0 4.6 0a2.3 2.3 0 1 0 -4.6 0M118.55 161.3a2.3 2.3 0 1 0 4.6 0a2.3 2.3 0 1 0 -4.6 0M60.47 124.0a2.3 2.3 0 1 0 4.6 0a2.3 2.3 0 1 0 -4.6 0M58.85 93.5a2.3 2.3 0 1 0 4.6 0a2.3 2.3 0 1 0 -4.6 0M115.97 128.8a2.3 2.3 0 1 0 4.6 0a2.3 2.3 0 1 0 -4.6 0M89.27 119.8a2.3 2.3 0 1 0 4.6 0a2.3 2.3 0 1 0 -4.6 0M153.94 155.9a2.3 2.3 0 1 0 4.6 0a2.3 2.3 0 1 0 -4.6 0M134.99 158.3a2.3 2.3 0 1 0 4.6 0a2.3 2.3 0 1 0 -4.6 0M82.88 120.8a2.3 2.3 0 1 0 4.6 0a2.3 2.3 0 1 0 -4.6 0M101.57 167.0a2.3 2.3 0 1 0 4.6 0a2.3 2.3 0 1 0 -4.6 0M63.96 116.4a2.3 2.3 0 1 0 4.6 0a2.3 2.3 0 1 0 -4.6 0M56.26 114.3a2.3 2.3 0 1 0 4.6 0a2.3 2.3 0 1 0 -4.6 0M89.19 112.7a2.3 2.3 0 1 0 4.6 0a2.3 2.3 0 1 0 -4.6 0M108.34 129.1a2.3 2.3 0 1 0 4.6 0a2.3 2.3 0 1 0 -4.6 0M105.58 160.9a2.3 2.3 0 1 0 4.6 0a2.3 2.3 0 1 0 -4.6 0M90.34 163.3a2.3 2.3 0 1 0 4.6 0a2.3 2.3 0 1 0 -4.6 0M95.63 124.1a2.3 2.3 0 1 0 4.6 0a2.3 2.3 0 1 0 -4.6 0M67.51 119.7a2.3 2.3 0 1 0 4.6 0a2.3 2.3 0 1 0 -4.6 0M50.16 94.1a2.3 2.3 0 1 0 4.6 0a2.3 2.3 0 1 0 -4.6 0M125.25 129.2a2.3 2.3 0 1 0 4.6 0a2.3 2.3 0 1 0 -4.6 0M95.78 158.4a2.3 2.3 0 1 0 4.6 0a2.3 2.3 0 1 0 -4.6 0M82.74 158.7a2.3 2.3 0 1 0 4.6 0a2.3 2.3 0 1 0 -4.6 0M109.01 134.1a2.3 2.3 0 1 0 4.6 0a2.3 2.3 0 1 0 -4.6 0M91.22 119.0a2.3 2.3 0 1 0 4.6 0a2.3 2.3 0 1 0 -4.6 0M103.60 151.3a2.3 2.3 0 1 0 4.6 0a2.3 2.3 0 1 0 -4.6 0M77.27 156.3a2.3 2.3 0 1 0 4.6 0a2.3 2.3 0 1 0 -4.6 0M80.74 167.8a2.3 2.3 0 1 0 4.6 0a2.3 2.3 0 1 0 -4.6 0M109.98 146.6a2.3 2.3 0 1 0 4.6 0a2.3 2.3 0 1 0 -4.6 0M99.62 149.7a2.3 2.3 0 1 0 4.6 0a2.3 2.3 0 1 0 -4.6 0M76.37 125.3a2.3 2.3 0 1 0 4.6 0a2.3 2.3 0 1 0 -4.6 0M95.19 145.3a2.3 2.3 0 1 0 4.6 0a2.3 2.3 0 1 0 -4.6 0M88.42 163.6a2.3 2.3 0 1 0 4.6 0a2.3 2.3 0 1 0 -4.6 0M97.83 141.1a2.3 2.3 0 1 0 4.6 0a2.3 2.3 0 1 0 -4.6 0M77.93 108.9a2.3 2.3 0 1 0 4.6 0a2.3 2.3 0 1 0 -4.6 0M57.35 117.7a2.3 2.3 0 1 0 4.6 0a2.3 2.3 0 1 0 -4.6 0M69.65 128.7a2.3 2.3 0 1 0 4.6 0a2.3 2.3 0 1 0 -4.6 0M107.23 159.4a2.3 2.3 0 1 0 4.6 0a2.3 2.3 0 1 0 -4.6 0M71.39 148.3a2.3 2.3 0 1 0 4.6 0a2.3 2.3 0 1 0 -4.6 0M78.21 130.3a2.3 2.3 0 1 0 4.6 0a2.3 2.3 0 1 0 -4.6 0M141.72 155.1a2.3 2.3 0 1 0 4.6 0a2.3 2.3 0 1 0 -4.6 0M79.12 143.9a2.3 2.3 0 1 0 4.6 0a2.3 2.3 0 1 0 -4.6 0M60.50 102.0a2.3 2.3 0 1 0 4.6 0a2.3 2.3 0 1 0 -4.6 0M79.79 143.0a2.3 2.3 0 1 0 4.6 0a2.3 2.3 0 1 0 -4.6 0M71.36 116.2a2.3 2.3 0 1 0 4.6 0a2.3 2.3 0 1 0 -4.6 0M87.35 135.7a2.3 2.3 0 1 0 4.6 0a2.3 2.3 0 1 0 -4.6 0M51.20 112.7a2.3 2.3 0 1 0 4.6 0a2.3 2.3 0 1 0 -4.6 0M84.38 126.5a2.3 2.3 0 1 0 4.6 0a2.3 2.3 0 1 0 -4.6 0M60.20 97.5a2.3 2.3 0 1 0 4.6 0a2.3 2.3 0 1 0 -4.6 0M72.89 102.4a2.3 2.3 0 1 0 4.6 0a2.3 2.3 0 1 0 -4.6 0M157.77 120.6a2.3 2.3 0 1 0 4.6 0a2.3 2.3 0 1 0 -4.6 0M46.29 111.0a2.3 2.3 0 1 0 4.6 0a2.3 2.3 0 1 0 -4.6 0M54.61 104.4a2.3 2.3 0 1 0 4.6 0a2.3 2.3 0 1 0 -4.6 0M61.69 106.6a2.3 2.3 0 1 0 4.6 0a2.3 2.3 0 1 0 -4.6 0M61.64 118.7a2.3 2.3 0 1 0 4.6 0a2.3 2.3 0 1 0 -4.6 0M79.00 128.2a2.3 2.3 0 1 0 4.6 0a2.3 2.3 0 1 0 -4.6 0M125.32 131.0a2.3 2.3 0 1 0 4.6 0a2.3 2.3 0 1 0 -4.6 0M99.76 130.8a2.3 2.3 0 1 0 4.6 0a2.3 2.3 0 1 0 -4.6 0M78.65 129.5a2.3 2.3 0 1 0 4.6 0a2.3 2.3 0 1 0 -4.6 0M47.62 111.3a2.3 2.3 0 1 0 4.6 0a2.3 2.3 0 1 0 -4.6 0M71.60 155.0a2.3 2.3 0 1 0 4.6 0a2.3 2.3 0 1 0 -4.6 0M86.97 158.9a2.3 2.3 0 1 0 4.6 0a2.3 2.3 0 1 0 -4.6 0M78.50 140.7a2.3 2.3 0 1 0 4.6 0a2.3 2.3 0 1 0 -4.6 0M116.19 158.4a2.3 2.3 0 1 0 4.6 0a2.3 2.3 0 1 0 -4.6 0M43.78 89.4a2.3 2.3 0 1 0 4.6 0a2.3 2.3 0 1 0 -4.6 0M61.71 127.7a2.3 2.3 0 1 0 4.6 0a2.3 2.3 0 1 0 -4.6 0M78.65 166.7a2.3 2.3 0 1 0 4.6 0a2.3 2.3 0 1 0 -4.6 0M75.33 152.3a2.3 2.3 0 1 0 4.6 0a2.3 2.3 0 1 0 -4.6 0M172.16 149.3a2.3 2.3 0 1 0 4.6 0a2.3 2.3 0 1 0 -4.6 0M99.80 116.9a2.3 2.3 0 1 0 4.6 0a2.3 2.3 0 1 0 -4.6 0M125.61 128.6a2.3 2.3 0 1 0 4.6 0a2.3 2.3 0 1 0 -4.6 0M130.52 159.1a2.3 2.3 0 1 0 4.6 0a2.3 2.3 0 1 0 -4.6 0M135.35 166.0a2.3 2.3 0 1 0 4.6 0a2.3 2.3 0 1 0 -4.6 0M56.56 113.5a2.3 2.3 0 1 0 4.6 0a2.3 2.3 0 1 0 -4.6 0M57.76 88.2a2.3 2.3 0 1 0 4.6 0a2.3 2.3 0 1 0 -4.6 0M129.77 151.4a2.3 2.3 0 1 0 4.6 0a2.3 2.3 0 1 0 -4.6 0M63.76 165.7a2.3 2.3 0 1 0 4.6 0a2.3 2.3 0 1 0 -4.6 0M113.07 118.0a2.3 2.3 0 1 0 4.6 0a2.3 2.3 0 1 0 -4.6 0M66.35 134.0a2.3 2.3 0 1 0 4.6 0a2.3 2.3 0 1 0 -4.6 0M98.84 151.1a2.3 2.3 0 1 0 4.6 0a2.3 2.3 0 1 0 -4.6 0M93.62 131.9a2.3 2.3 0 1 0 4.6 0a2.3 2.3 0 1 0 -4.6 0M105.48 166.2a2.3 2.3 0 1 0 4.6 0a2.3 2.3 0 1 0 -4.6 0M83.95 108.8a2.3 2.3 0 1 0 4.6 0a2.3 2.3 0 1 0 -4.6 0M84.76 129.8a2.3 2.3 0 1 0 4.6 0a2.3 2.3 0 1 0 -4.6 0M108.40 120.2a2.3 2.3 0 1 0 4.6 0a2.3 2.3 0 1 0 -4.6 0M94.72 117.9a2.3 2.3 0 1 0 4.6 0a2.3 2.3 0 1 0 -4.6 0M116.83 155.3a2.3 2.3 0 1 0 4.6 0a2.3 2.3 0 1 0 -4.6 0M123.94 145.9a2.3 2.3 0 1 0 4.6 0a2.3 2.3 0 1 0 -4.6 0M62.11 106.9a2.3 2.3 0 1 0 4.6 0a2.3 2.3 0 1 0 -4.6 0M79.71 124.4a2.3 2.3 0 1 0 4.6 0a2.3 2.3 0 1 0 -4.6 0M60.50 106.7a2.3 2.3 0 1 0 4.6 0a2.3 2.3 0 1 0 -4.6 0M99.07 157.5a2.3 2.3 0 1 0 4.6 0a2.3 2.3 0 1 0 -4.6 0M93.06 142.0a2.3 2.3 0 1 0 4.6 0a2.3 2.3 0 1 0 -4.6 0M60.36 130.2a2.3 2.3 0 1 0 4.6 0a2.3 2.3 0 1 0 -4.6 0M74.82 117.3a2.3 2.3 0 1 0 4.6 0a2.3 2.3 0 1 0 -4.6 0M88.56 129.9a2.3 2.3 0 1 0 4.6 0a2.3 2.3 0 1 0 -4.6 0M81.15 152.4a2.3 2.3 0 1 0 4.6 0a2.3 2.3 0 1 0 -4.6 0M123.06 147.9a2.3 2.3 0 1 0 4.6 0a2.3 2.3 0 1 0 -4.6 0M84.41 152.6a2.3 2.3 0 1 0 4.6 0a2.3 2.3 0 1 0 -4.6 0M69.70 148.6a2.3 2.3 0 1 0 4.6 0a2.3 2.3 0 1 0 -4.6 0M105.88 136.3a2.3 2.3 0 1 0 4.6 0a2.3 2.3 0 1 0 -4.6 0M108.57 156.1a2.3 2.3 0 1 0 4.6 0a2.3 2.3 0 1 0 -4.6 0M60.42 131.9a2.3 2.3 0 1 0 4.6 0a2.3 2.3 0 1 0 -4.6 0M49.49 103.6a2.3 2.3 0 1 0 4.6 0a2.3 2.3 0 1 0 -4.6 0M100.69 164.5a2.3 2.3 0 1 0 4.6 0a2.3 2.3 0 1 0 -4.6 0M68.21 127.8a2.3 2.3 0 1 0 4.6 0a2.3 2.3 0 1 0 -4.6 0M69.12 115.5a2.3 2.3 0 1 0 4.6 0a2.3 2.3 0 1 0 -4.6 0M170.31 149.7a2.3 2.3 0 1 0 4.6 0a2.3 2.3 0 1 0 -4.6 0M104.41 162.6a2.3 2.3 0 1 0 4.6 0a2.3 2.3 0 1 0 -4.6 0M119.72 155.8a2.3 2.3 0 1 0 4.6 0a2.3 2.3 0 1 0 -4.6 0M97.25 167.9a2.3 2.3 0 1 0 4.6 0a2.3 2.3 0 1 0 -4.6 0M87.13 116.2a2.3 2.3 0 1 0 4.6 0a2.3 2.3 0 1 0 -4.6 0M125.53 155.5a2.3 2.3 0 1 0 4.6 0a2.3 2.3 0 1 0 -4.6 0M108.21 152.4a2.3 2.3 0 1 0 4.6 0a2.3 2.3 0 1 0 -4.6 0M64.43 112.7a2.3 2.3 0 1 0 4.6 0a2.3 2.3 0 1 0 -4.6 0M84.62 127.7a2.3 2.3 0 1 0 4.6 0a2.3 2.3 0 1 0 -4.6 0M48.55 91.2a2.3 2.3 0 1 0 4.6 0a2.3 2.3 0 1 0 -4.6 0M53.36 100.0a2.3 2.3 0 1 0 4.6 0a2.3 2.3 0 1 0 -4.6 0M79.45 125.4a2.3 2.3 0 1 0 4.6 0a2.3 2.3 0 1 0 -4.6 0M82.57 157.6a2.3 2.3 0 1 0 4.6 0a2.3 2.3 0 1 0 -4.6 0M47.40 111.9a2.3 2.3 0 1 0 4.6 0a2.3 2.3 0 1 0 -4.6 0M129.31 157.6a2.3 2.3 0 1 0 4.6 0a2.3 2.3 0 1 0 -4.6 0M59.49 107.9a2.3 2.3 0 1 0 4.6 0a2.3 2.3 0 1 0 -4.6 0M86.91 165.0a2.3 2.3 0 1 0 4.6 0a2.3 2.3 0 1 0 -4.6 0M72.05 162.5a2.3 2.3 0 1 0 4.6 0a2.3 2.3 0 1 0 -4.6 0M70.72 109.7a2.3 2.3 0 1 0 4.6 0a2.3 2.3 0 1 0 -4.6 0M91.61 118.1a2.3 2.3 0 1 0 4.6 0a2.3 2.3 0 1 0 -4.6 0M68.89 100.9a2.3 2.3 0 1 0 4.6 0a2.3 2.3 0 1 0 -4.6 0M82.01 162.5a2.3 2.3 0 1 0 4.6 0a2.3 2.3 0 1 0 -4.6 0M97.90 143.5a2.3 2.3 0 1 0 4.6 0a2.3 2.3 0 1 0 -4.6 0M83.72 135.6a2.3 2.3 0 1 0 4.6 0a2.3 2.3 0 1 0 -4.6 0M102.73 159.1a2.3 2.3 0 1 0 4.6 0a2.3 2.3 0 1 0 -4.6 0M101.00 143.4a2.3 2.3 0 1 0 4.6 0a2.3 2.3 0 1 0 -4.6 0M100.12 138.6a2.3 2.3 0 1 0 4.6 0a2.3 2.3 0 1 0 -4.6 0M87.32 134.3a2.3 2.3 0 1 0 4.6 0a2.3 2.3 0 1 0 -4.6 0M59.17 167.1a2.3 2.3 0 1 0 4.6 0a2.3 2.3 0 1 0 -4.6 0M90.89 110.1a2.3 2.3 0 1 0 4.6 0a2.3 2.3 0 1 0 -4.6 0M53.27 102.3a2.3 2.3 0 1 0 4.6 0a2.3 2.3 0 1 0 -4.6 0M75.11 118.4a2.3 2.3 0 1 0 4.6 0a2.3 2.3 0 1 0 -4.6 0M63.31 167.1a2.3 2.3 0 1 0 4.6 0a2.3 2.3 0 1 0 -4.6 0M83.34 126.8a2.3 2.3 0 1 0 4.6 0a2.3 2.3 0 1 0 -4.6 0M115.15 157.7a2.3 2.3 0 1 0 4.6 0a2.3 2.3 0 1 0 -4.6 0M84.67 135.5a2.3 2.3 0 1 0 4.6 0a2.3 2.3 0 1 0 -4.6 0M81.41 130.9a2.3 2.3 0 1 0 4.6 0a2.3 2.3 0 1 0 -4.6 0M108.35 157.4a2.3 2.3 0 1 0 4.6 0a2.3 2.3 0 1 0 -4.6 0M91.78 104.9a2.3 2.3 0 1 0 4.6 0a2.3 2.3 0 1 0 -4.6 0M110.16 127.9a2.3 2.3 0 1 0 4.6 0a2.3 2.3 0 1 0 -4.6 0M44.11 91.1a2.3 2.3 0 1 0 4.6 0a2.3 2.3 0 1 0 -4.6 0M113.10 113.3a2.3 2.3 0 1 0 4.6 0a2.3 2.3 0 1 0 -4.6 0M44.84 103.3a2.3 2.3 0 1 0 4.6 0a2.3 2.3 0 1 0 -4.6 0M81.80 131.2a2.3 2.3 0 1 0 4.6 0a2.3 2.3 0 1 0 -4.6 0M74.48 131.5a2.3 2.3 0 1 0 4.6 0a2.3 2.3 0 1 0 -4.6 0M86.45 119.4a2.3 2.3 0 1 0 4.6 0a2.3 2.3 0 1 0 -4.6 0M67.57 138.5a2.3 2.3 0 1 0 4.6 0a2.3 2.3 0 1 0 -4.6 0M88.12 134.3a2.3 2.3 0 1 0 4.6 0a2.3 2.3 0 1 0 -4.6 0M146.06 140.5a2.3 2.3 0 1 0 4.6 0a2.3 2.3 0 1 0 -4.6 0M69.81 147.2a2.3 2.3 0 1 0 4.6 0a2.3 2.3 0 1 0 -4.6 0M80.61 106.7a2.3 2.3 0 1 0 4.6 0a2.3 2.3 0 1 0 -4.6 0M68.83 114.7a2.3 2.3 0 1 0 4.6 0a2.3 2.3 0 1 0 -4.6 0M75.24 154.1a2.3 2.3 0 1 0 4.6 0a2.3 2.3 0 1 0 -4.6 0M65.37 132.5a2.3 2.3 0 1 0 4.6 0a2.3 2.3 0 1 0 -4.6 0M83.66 121.1a2.3 2.3 0 1 0 4.6 0a2.3 2.3 0 1 0 -4.6 0M68.42 115.2a2.3 2.3 0 1 0 4.6 0a2.3 2.3 0 1 0 -4.6 0M109.20 157.4a2.3 2.3 0 1 0 4.6 0a2.3 2.3 0 1 0 -4.6 0M47.91 108.2a2.3 2.3 0 1 0 4.6 0a2.3 2.3 0 1 0 -4.6 0M61.17 116.2a2.3 2.3 0 1 0 4.6 0a2.3 2.3 0 1 0 -4.6 0M61.87 104.7a2.3 2.3 0 1 0 4.6 0a2.3 2.3 0 1 0 -4.6 0M109.58 159.9a2.3 2.3 0 1 0 4.6 0a2.3 2.3 0 1 0 -4.6 0M53.27 102.8a2.3 2.3 0 1 0 4.6 0a2.3 2.3 0 1 0 -4.6 0M60.93 103.1a2.3 2.3 0 1 0 4.6 0a2.3 2.3 0 1 0 -4.6 0M69.02 114.1a2.3 2.3 0 1 0 4.6 0a2.3 2.3 0 1 0 -4.6 0M46.02 111.9a2.3 2.3 0 1 0 4.6 0a2.3 2.3 0 1 0 -4.6 0M48.37 90.3a2.3 2.3 0 1 0 4.6 0a2.3 2.3 0 1 0 -4.6 0M84.83 146.8a2.3 2.3 0 1 0 4.6 0a2.3 2.3 0 1 0 -4.6 0M85.94 111.7a2.3 2.3 0 1 0 4.6 0a2.3 2.3 0 1 0 -4.6 0M76.26 111.1a2.3 2.3 0 1 0 4.6 0a2.3 2.3 0 1 0 -4.6 0M122.20 141.4a2.3 2.3 0 1 0 4.6 0a2.3 2.3 0 1 0 -4.6 0M89.07 118.6a2.3 2.3 0 1 0 4.6 0a2.3 2.3 0 1 0 -4.6 0M116.84 157.7a2.3 2.3 0 1 0 4.6 0a2.3 2.3 0 1 0 -4.6 0M101.65 154.3a2.3 2.3 0 1 0 4.6 0a2.3 2.3 0 1 0 -4.6 0M75.03 145.9a2.3 2.3 0 1 0 4.6 0a2.3 2.3 0 1 0 -4.6 0M116.23 146.9a2.3 2.3 0 1 0 4.6 0a2.3 2.3 0 1 0 -4.6 0M100.74 154.3a2.3 2.3 0 1 0 4.6 0a2.3 2.3 0 1 0 -4.6 0M116.89 165.5a2.3 2.3 0 1 0 4.6 0a2.3 2.3 0 1 0 -4.6 0M59.61 107.5a2.3 2.3 0 1 0 4.6 0a2.3 2.3 0 1 0 -4.6 0M98.84 123.6a2.3 2.3 0 1 0 4.6 0a2.3 2.3 0 1 0 -4.6 0M65.60 136.5a2.3 2.3 0 1 0 4.6 0a2.3 2.3 0 1 0 -4.6 0M120.07 150.6a2.3 2.3 0 1 0 4.6 0a2.3 2.3 0 1 0 -4.6 0M59.06 117.2a2.3 2.3 0 1 0 4.6 0a2.3 2.3 0 1 0 -4.6 0M56.25 117.8a2.3 2.3 0 1 0 4.6 0a2.3 2.3 0 1 0 -4.6 0M67.18 122.8a2.3 2.3 0 1 0 4.6 0a2.3 2.3 0 1 0 -4.6 0M48.40 101.9a2.3 2.3 0 1 0 4.6 0a2.3 2.3 0 1 0 -4.6 0M115.48 151.5a2.3 2.3 0 1 0 4.6 0a2.3 2.3 0 1 0 -4.6 0M100.67 158.9a2.3 2.3 0 1 0 4.6 0a2.3 2.3 0 1 0 -4.6 0M64.88 130.4a2.3 2.3 0 1 0 4.6 0a2.3 2.3 0 1 0 -4.6 0M71.58 123.2a2.3 2.3 0 1 0 4.6 0a2.3 2.3 0 1 0 -4.6 0M57.04 94.4a2.3 2.3 0 1 0 4.6 0a2.3 2.3 0 1 0 -4.6 0M63.27 116.7a2.3 2.3 0 1 0 4.6 0a2.3 2.3 0 1 0 -4.6 0M101.15 146.7a2.3 2.3 0 1 0 4.6 0a2.3 2.3 0 1 0 -4.6 0M66.16 126.1a2.3 2.3 0 1 0 4.6 0a2.3 2.3 0 1 0 -4.6 0M102.88 130.1a2.3 2.3 0 1 0 4.6 0a2.3 2.3 0 1 0 -4.6 0M84.51 153.6a2.3 2.3 0 1 0 4.6 0a2.3 2.3 0 1 0 -4.6 0M84.96 134.6a2.3 2.3 0 1 0 4.6 0a2.3 2.3 0 1 0 -4.6 0M71.84 105.8a2.3 2.3 0 1 0 4.6 0a2.3 2.3 0 1 0 -4.6 0M120.49 140.2a2.3 2.3 0 1 0 4.6 0a2.3 2.3 0 1 0 -4.6 0M72.67 118.6a2.3 2.3 0 1 0 4.6 0a2.3 2.3 0 1 0 -4.6 0M144.34 154.9a2.3 2.3 0 1 0 4.6 0a2.3 2.3 0 1 0 -4.6 0M93.33 144.3a2.3 2.3 0 1 0 4.6 0a2.3 2.3 0 1 0 -4.6 0M99.68 152.3a2.3 2.3 0 1 0 4.6 0a2.3 2.3 0 1 0 -4.6 0M62.31 121.8a2.3 2.3 0 1 0 4.6 0a2.3 2.3 0 1 0 -4.6 0M60.45 97.0a2.3 2.3 0 1 0 4.6 0a2.3 2.3 0 1 0 -4.6 0M61.38 115.4a2.3 2.3 0 1 0 4.6 0a2.3 2.3 0 1 0 -4.6 0M74.02 126.7a2.3 2.3 0 1 0 4.6 0a2.3 2.3 0 1 0 -4.6 0M111.95 158.8a2.3 2.3 0 1 0 4.6 0a2.3 2.3 0 1 0 -4.6 0M148.63 149.3a2.3 2.3 0 1 0 4.6 0a2.3 2.3 0 1 0 -4.6 0M88.71 147.6a2.3 2.3 0 1 0 4.6 0a2.3 2.3 0 1 0 -4.6 0M91.18 131.0a2.3 2.3 0 1 0 4.6 0a2.3 2.3 0 1 0 -4.6 0M52.12 105.5a2.3 2.3 0 1 0 4.6 0a2.3 2.3 0 1 0 -4.6 0M144.19 134.0a2.3 2.3 0 1 0 4.6 0a2.3 2.3 0 1 0 -4.6 0M102.33 142.5a2.3 2.3 0 1 0 4.6 0a2.3 2.3 0 1 0 -4.6 0M75.36 138.4a2.3 2.3 0 1 0 4.6 0a2.3 2.3 0 1 0 -4.6 0M80.88 124.7a2.3 2.3 0 1 0 4.6 0a2.3 2.3 0 1 0 -4.6 0M79.40 136.9a2.3 2.3 0 1 0 4.6 0a2.3 2.3 0 1 0 -4.6 0M78.35 167.7a2.3 2.3 0 1 0 4.6 0a2.3 2.3 0 1 0 -4.6 0M102.47 134.0a2.3 2.3 0 1 0 4.6 0a2.3 2.3 0 1 0 -4.6 0M109.49 140.0a2.3 2.3 0 1 0 4.6 0a2.3 2.3 0 1 0 -4.6 0M77.13 154.8a2.3 2.3 0 1 0 4.6 0a2.3 2.3 0 1 0 -4.6 0M101.20 145.8a2.3 2.3 0 1 0 4.6 0a2.3 2.3 0 1 0 -4.6 0M113.07 149.1a2.3 2.3 0 1 0 4.6 0a2.3 2.3 0 1 0 -4.6 0M45.24 107.8a2.3 2.3 0 1 0 4.6 0a2.3 2.3 0 1 0 -4.6 0M132.90 132.4a2.3 2.3 0 1 0 4.6 0a2.3 2.3 0 1 0 -4.6 0M83.06 150.3a2.3 2.3 0 1 0 4.6 0a2.3 2.3 0 1 0 -4.6 0M55.27 114.9a2.3 2.3 0 1 0 4.6 0a2.3 2.3 0 1 0 -4.6 0M77.87 162.5a2.3 2.3 0 1 0 4.6 0a2.3 2.3 0 1 0 -4.6 0M100.01 152.3a2.3 2.3 0 1 0 4.6 0a2.3 2.3 0 1 0 -4.6 0M89.47 115.1a2.3 2.3 0 1 0 4.6 0a2.3 2.3 0 1 0 -4.6 0M85.22 103.8a2.3 2.3 0 1 0 4.6 0a2.3 2.3 0 1 0 -4.6 0M159.61 150.1a2.3 2.3 0 1 0 4.6 0a2.3 2.3 0 1 0 -4.6 0M83.97 149.7a2.3 2.3 0 1 0 4.6 0a2.3 2.3 0 1 0 -4.6 0M132.65 117.2a2.3 2.3 0 1 0 4.6 0a2.3 2.3 0 1 0 -4.6 0M99.96 128.3a2.3 2.3 0 1 0 4.6 0a2.3 2.3 0 1 0 -4.6 0M74.98 133.1a2.3 2.3 0 1 0 4.6 0a2.3 2.3 0 1 0 -4.6 0M89.94 138.7a2.3 2.3 0 1 0 4.6 0a2.3 2.3 0 1 0 -4.6 0M98.12 147.9a2.3 2.3 0 1 0 4.6 0a2.3 2.3 0 1 0 -4.6 0M81.43 136.5a2.3 2.3 0 1 0 4.6 0a2.3 2.3 0 1 0 -4.6 0M69.70 108.3a2.3 2.3 0 1 0 4.6 0a2.3 2.3 0 1 0 -4.6 0M77.80 154.1a2.3 2.3 0 1 0 4.6 0a2.3 2.3 0 1 0 -4.6 0M96.12 165.6a2.3 2.3 0 1 0 4.6 0a2.3 2.3 0 1 0 -4.6 0M49.55 111.1a2.3 2.3 0 1 0 4.6 0a2.3 2.3 0 1 0 -4.6 0M83.79 167.4a2.3 2.3 0 1 0 4.6 0a2.3 2.3 0 1 0 -4.6 0M85.34 110.7a2.3 2.3 0 1 0 4.6 0a2.3 2.3 0 1 0 -4.6 0M105.77 157.6a2.3 2.3 0 1 0 4.6 0a2.3 2.3 0 1 0 -4.6 0M62.73 105.8a2.3 2.3 0 1 0 4.6 0a2.3 2.3 0 1 0 -4.6 0M77.19 102.6a2.3 2.3 0 1 0 4.6 0a2.3 2.3 0 1 0 -4.6 0M72.06 138.3a2.3 2.3 0 1 0 4.6 0a2.3 2.3 0 1 0 -4.6 0M52.79 104.9a2.3 2.3 0 1 0 4.6 0a2.3 2.3 0 1 0 -4.6 0M135.90 131.6a2.3 2.3 0 1 0 4.6 0a2.3 2.3 0 1 0 -4.6 0M68.49 106.0a2.3 2.3 0 1 0 4.6 0a2.3 2.3 0 1 0 -4.6 0M121.93 160.5a2.3 2.3 0 1 0 4.6 0a2.3 2.3 0 1 0 -4.6 0M88.78 109.6a2.3 2.3 0 1 0 4.6 0a2.3 2.3 0 1 0 -4.6 0M102.03 110.9a2.3 2.3 0 1 0 4.6 0a2.3 2.3 0 1 0 -4.6 0M47.41 104.6a2.3 2.3 0 1 0 4.6 0a2.3 2.3 0 1 0 -4.6 0M151.75 163.9a2.3 2.3 0 1 0 4.6 0a2.3 2.3 0 1 0 -4.6 0M77.10 130.5a2.3 2.3 0 1 0 4.6 0a2.3 2.3 0 1 0 -4.6 0M112.08 129.7a2.3 2.3 0 1 0 4.6 0a2.3 2.3 0 1 0 -4.6 0M66.91 125.3a2.3 2.3 0 1 0 4.6 0a2.3 2.3 0 1 0 -4.6 0M50.37 112.0a2.3 2.3 0 1 0 4.6 0a2.3 2.3 0 1 0 -4.6 0M94.90 158.2a2.3 2.3 0 1 0 4.6 0a2.3 2.3 0 1 0 -4.6 0M60.61 119.7a2.3 2.3 0 1 0 4.6 0a2.3 2.3 0 1 0 -4.6 0M68.30 128.7a2.3 2.3 0 1 0 4.6 0a2.3 2.3 0 1 0 -4.6 0M51.88 113.7a2.3 2.3 0 1 0 4.6 0a2.3 2.3 0 1 0 -4.6 0M118.82 155.4a2.3 2.3 0 1 0 4.6 0a2.3 2.3 0 1 0 -4.6 0M121.08 152.0a2.3 2.3 0 1 0 4.6 0a2.3 2.3 0 1 0 -4.6 0M97.81 134.1a2.3 2.3 0 1 0 4.6 0a2.3 2.3 0 1 0 -4.6 0M109.74 158.8a2.3 2.3 0 1 0 4.6 0a2.3 2.3 0 1 0 -4.6 0M79.39 134.3a2.3 2.3 0 1 0 4.6 0a2.3 2.3 0 1 0 -4.6 0M76.56 109.5a2.3 2.3 0 1 0 4.6 0a2.3 2.3 0 1 0 -4.6 0M65.69 116.5a2.3 2.3 0 1 0 4.6 0a2.3 2.3 0 1 0 -4.6 0M104.59 140.4a2.3 2.3 0 1 0 4.6 0a2.3 2.3 0 1 0 -4.6 0M48.09 87.5a2.3 2.3 0 1 0 4.6 0a2.3 2.3 0 1 0 -4.6 0M83.81 130.1a2.3 2.3 0 1 0 4.6 0a2.3 2.3 0 1 0 -4.6 0M74.34 165.3a2.3 2.3 0 1 0 4.6 0a2.3 2.3 0 1 0 -4.6 0M152.68 144.4a2.3 2.3 0 1 0 4.6 0a2.3 2.3 0 1 0 -4.6 0M73.63 118.4a2.3 2.3 0 1 0 4.6 0a2.3 2.3 0 1 0 -4.6 0M72.35 162.9a2.3 2.3 0 1 0 4.6 0a2.3 2.3 0 1 0 -4.6 0M121.77 144.6a2.3 2.3 0 1 0 4.6 0a2.3 2.3 0 1 0 -4.6 0M80.64 115.4a2.3 2.3 0 1 0 4.6 0a2.3 2.3 0 1 0 -4.6 0M77.67 157.9a2.3 2.3 0 1 0 4.6 0a2.3 2.3 0 1 0 -4.6 0M57.96 98.5a2.3 2.3 0 1 0 4.6 0a2.3 2.3 0 1 0 -4.6 0M128.17 150.4a2.3 2.3 0 1 0 4.6 0a2.3 2.3 0 1 0 -4.6 0M78.08 98.4a2.3 2.3 0 1 0 4.6 0a2.3 2.3 0 1 0 -4.6 0M82.28 155.7a2.3 2.3 0 1 0 4.6 0a2.3 2.3 0 1 0 -4.6 0M95.29 126.1a2.3 2.3 0 1 0 4.6 0a2.3 2.3 0 1 0 -4.6 0M48.10 92.2a2.3 2.3 0 1 0 4.6 0a2.3 2.3 0 1 0 -4.6 0M100.93 134.3a2.3 2.3 0 1 0 4.6 0a2.3 2.3 0 1 0 -4.6 0M104.32 100.4a2.3 2.3 0 1 0 4.6 0a2.3 2.3 0 1 0 -4.6 0M46.81 108.8a2.3 2.3 0 1 0 4.6 0a2.3 2.3 0 1 0 -4.6 0M95.59 130.4a2.3 2.3 0 1 0 4.6 0a2.3 2.3 0 1 0 -4.6 0M74.84 145.6a2.3 2.3 0 1 0 4.6 0a2.3 2.3 0 1 0 -4.6 0M100.35 134.0a2.3 2.3 0 1 0 4.6 0a2.3 2.3 0 1 0 -4.6 0M84.43 158.4a2.3 2.3 0 1 0 4.6 0a2.3 2.3 0 1 0 -4.6 0M133.27 148.2a2.3 2.3 0 1 0 4.6 0a2.3 2.3 0 1 0 -4.6 0M76.76 141.7a2.3 2.3 0 1 0 4.6 0a2.3 2.3 0 1 0 -4.6 0M94.11 163.1a2.3 2.3 0 1 0 4.6 0a2.3 2.3 0 1 0 -4.6 0M62.59 100.0a2.3 2.3 0 1 0 4.6 0a2.3 2.3 0 1 0 -4.6 0M121.77 164.3a2.3 2.3 0 1 0 4.6 0a2.3 2.3 0 1 0 -4.6 0M94.25 145.8a2.3 2.3 0 1 0 4.6 0a2.3 2.3 0 1 0 -4.6 0M78.38 108.5a2.3 2.3 0 1 0 4.6 0a2.3 2.3 0 1 0 -4.6 0M44.84 95.8a2.3 2.3 0 1 0 4.6 0a2.3 2.3 0 1 0 -4.6 0M103.79 150.2a2.3 2.3 0 1 0 4.6 0a2.3 2.3 0 1 0 -4.6 0M49.84 109.1a2.3 2.3 0 1 0 4.6 0a2.3 2.3 0 1 0 -4.6 0M72.53 138.6a2.3 2.3 0 1 0 4.6 0a2.3 2.3 0 1 0 -4.6 0M109.45 158.6a2.3 2.3 0 1 0 4.6 0a2.3 2.3 0 1 0 -4.6 0M90.92 144.2a2.3 2.3 0 1 0 4.6 0a2.3 2.3 0 1 0 -4.6 0M99.29 141.1a2.3 2.3 0 1 0 4.6 0a2.3 2.3 0 1 0 -4.6 0M91.85 148.3a2.3 2.3 0 1 0 4.6 0a2.3 2.3 0 1 0 -4.6 0M98.84 137.2a2.3 2.3 0 1 0 4.6 0a2.3 2.3 0 1 0 -4.6 0M50.54 110.2a2.3 2.3 0 1 0 4.6 0a2.3 2.3 0 1 0 -4.6 0M69.38 103.1a2.3 2.3 0 1 0 4.6 0a2.3 2.3 0 1 0 -4.6 0M74.92 114.5a2.3 2.3 0 1 0 4.6 0a2.3 2.3 0 1 0 -4.6 0M79.31 104.0a2.3 2.3 0 1 0 4.6 0a2.3 2.3 0 1 0 -4.6 0M64.50 108.3a2.3 2.3 0 1 0 4.6 0a2.3 2.3 0 1 0 -4.6 0M85.82 147.2a2.3 2.3 0 1 0 4.6 0a2.3 2.3 0 1 0 -4.6 0M62.96 104.1a2.3 2.3 0 1 0 4.6 0a2.3 2.3 0 1 0 -4.6 0M160.05 134.9a2.3 2.3 0 1 0 4.6 0a2.3 2.3 0 1 0 -4.6 0M68.15 164.9a2.3 2.3 0 1 0 4.6 0a2.3 2.3 0 1 0 -4.6 0M87.44 113.0a2.3 2.3 0 1 0 4.6 0a2.3 2.3 0 1 0 -4.6 0M87.95 134.3a2.3 2.3 0 1 0 4.6 0a2.3 2.3 0 1 0 -4.6 0M88.35 109.2a2.3 2.3 0 1 0 4.6 0a2.3 2.3 0 1 0 -4.6 0M120.42 163.9a2.3 2.3 0 1 0 4.6 0a2.3 2.3 0 1 0 -4.6 0M52.47 98.5a2.3 2.3 0 1 0 4.6 0a2.3 2.3 0 1 0 -4.6 0M71.43 111.3a2.3 2.3 0 1 0 4.6 0a2.3 2.3 0 1 0 -4.6 0M48.37 110.5a2.3 2.3 0 1 0 4.6 0a2.3 2.3 0 1 0 -4.6 0M76.09 139.2a2.3 2.3 0 1 0 4.6 0a2.3 2.3 0 1 0 -4.6 0M60.90 113.3a2.3 2.3 0 1 0 4.6 0a2.3 2.3 0 1 0 -4.6 0M79.55 111.5a2.3 2.3 0 1 0 4.6 0a2.3 2.3 0 1 0 -4.6 0M81.08 151.5a2.3 2.3 0 1 0 4.6 0a2.3 2.3 0 1 0 -4.6 0M62.93 117.8a2.3 2.3 0 1 0 4.6 0a2.3 2.3 0 1 0 -4.6 0M83.11 120.1a2.3 2.3 0 1 0 4.6 0a2.3 2.3 0 1 0 -4.6 0M123.37 143.5a2.3 2.3 0 1 0 4.6 0a2.3 2.3 0 1 0 -4.6 0M45.04 105.8a2.3 2.3 0 1 0 4.6 0a2.3 2.3 0 1 0 -4.6 0M99.76 144.4a2.3 2.3 0 1 0 4.6 0a2.3 2.3 0 1 0 -4.6 0M47.92 87.6a2.3 2.3 0 1 0 4.6 0a2.3 2.3 0 1 0 -4.6 0M70.72 151.0a2.3 2.3 0 1 0 4.6 0a2.3 2.3 0 1 0 -4.6 0M92.72 121.8a2.3 2.3 0 1 0 4.6 0a2.3 2.3 0 1 0 -4.6 0M95.90 139.7a2.3 2.3 0 1 0 4.6 0a2.3 2.3 0 1 0 -4.6 0M74.07 163.7a2.3 2.3 0 1 0 4.6 0a2.3 2.3 0 1 0 -4.6 0M80.07 107.3a2.3 2.3 0 1 0 4.6 0a2.3 2.3 0 1 0 -4.6 0M83.11 110.4a2.3 2.3 0 1 0 4.6 0a2.3 2.3 0 1 0 -4.6 0M66.35 106.9a2.3 2.3 0 1 0 4.6 0a2.3 2.3 0 1 0 -4.6 0M56.19 99.3a2.3 2.3 0 1 0 4.6 0a2.3 2.3 0 1 0 -4.6 0M46.00 86.3a2.3 2.3 0 1 0 4.6 0a2.3 2.3 0 1 0 -4.6 0M94.76 120.0a2.3 2.3 0 1 0 4.6 0a2.3 2.3 0 1 0 -4.6 0M55.51 123.1a2.3 2.3 0 1 0 4.6 0a2.3 2.3 0 1 0 -4.6 0M120.56 153.3a2.3 2.3 0 1 0 4.6 0a2.3 2.3 0 1 0 -4.6 0M90.36 145.4a2.3 2.3 0 1 0 4.6 0a2.3 2.3 0 1 0 -4.6 0M71.94 156.5a2.3 2.3 0 1 0 4.6 0a2.3 2.3 0 1 0 -4.6 0M46.53 103.9a2.3 2.3 0 1 0 4.6 0a2.3 2.3 0 1 0 -4.6 0M82.58 155.8a2.3 2.3 0 1 0 4.6 0a2.3 2.3 0 1 0 -4.6 0M79.85 156.3a2.3 2.3 0 1 0 4.6 0a2.3 2.3 0 1 0 -4.6 0M63.39 133.6a2.3 2.3 0 1 0 4.6 0a2.3 2.3 0 1 0 -4.6 0M51.59 107.3a2.3 2.3 0 1 0 4.6 0a2.3 2.3 0 1 0 -4.6 0M48.89 113.6a2.3 2.3 0 1 0 4.6 0a2.3 2.3 0 1 0 -4.6 0M91.00 135.9a2.3 2.3 0 1 0 4.6 0a2.3 2.3 0 1 0 -4.6 0M68.67 121.5a2.3 2.3 0 1 0 4.6 0a2.3 2.3 0 1 0 -4.6 0M58.24 104.8a2.3 2.3 0 1 0 4.6 0a2.3 2.3 0 1 0 -4.6 0M93.19 142.3a2.3 2.3 0 1 0 4.6 0a2.3 2.3 0 1 0 -4.6 0M56.06 114.4a2.3 2.3 0 1 0 4.6 0a2.3 2.3 0 1 0 -4.6 0M108.67 141.7a2.3 2.3 0 1 0 4.6 0a2.3 2.3 0 1 0 -4.6 0M53.11 101.9a2.3 2.3 0 1 0 4.6 0a2.3 2.3 0 1 0 -4.6 0M66.83 132.5a2.3 2.3 0 1 0 4.6 0a2.3 2.3 0 1 0 -4.6 0M100.94 132.1a2.3 2.3 0 1 0 4.6 0a2.3 2.3 0 1 0 -4.6 0M103.47 140.4a2.3 2.3 0 1 0 4.6 0a2.3 2.3 0 1 0 -4.6 0M55.06 104.6a2.3 2.3 0 1 0 4.6 0a2.3 2.3 0 1 0 -4.6 0M71.33 154.6a2.3 2.3 0 1 0 4.6 0a2.3 2.3 0 1 0 -4.6 0M51.66 102.7a2.3 2.3 0 1 0 4.6 0a2.3 2.3 0 1 0 -4.6 0M83.56 110.6a2.3 2.3 0 1 0 4.6 0a2.3 2.3 0 1 0 -4.6 0M85.70 106.0a2.3 2.3 0 1 0 4.6 0a2.3 2.3 0 1 0 -4.6 0M106.30 131.0a2.3 2.3 0 1 0 4.6 0a2.3 2.3 0 1 0 -4.6 0M167.90 128.5a2.3 2.3 0 1 0 4.6 0a2.3 2.3 0 1 0 -4.6 0M66.72 98.0a2.3 2.3 0 1 0 4.6 0a2.3 2.3 0 1 0 -4.6 0M108.71 142.8a2.3 2.3 0 1 0 4.6 0a2.3 2.3 0 1 0 -4.6 0M96.51 165.0a2.3 2.3 0 1 0 4.6 0a2.3 2.3 0 1 0 -4.6 0M65.48 102.2a2.3 2.3 0 1 0 4.6 0a2.3 2.3 0 1 0 -4.6 0M87.38 143.1a2.3 2.3 0 1 0 4.6 0a2.3 2.3 0 1 0 -4.6 0M66.73 130.3a2.3 2.3 0 1 0 4.6 0a2.3 2.3 0 1 0 -4.6 0M61.80 130.6a2.3 2.3 0 1 0 4.6 0a2.3 2.3 0 1 0 -4.6 0M68.27 118.8a2.3 2.3 0 1 0 4.6 0a2.3 2.3 0 1 0 -4.6 0M54.79 118.3a2.3 2.3 0 1 0 4.6 0a2.3 2.3 0 1 0 -4.6 0M70.99 115.2a2.3 2.3 0 1 0 4.6 0a2.3 2.3 0 1 0 -4.6 0M138.50 162.9a2.3 2.3 0 1 0 4.6 0a2.3 2.3 0 1 0 -4.6 0M86.27 113.3a2.3 2.3 0 1 0 4.6 0a2.3 2.3 0 1 0 -4.6 0M50.27 87.5a2.3 2.3 0 1 0 4.6 0a2.3 2.3 0 1 0 -4.6 0M103.35 165.2a2.3 2.3 0 1 0 4.6 0a2.3 2.3 0 1 0 -4.6 0M99.94 107.6a2.3 2.3 0 1 0 4.6 0a2.3 2.3 0 1 0 -4.6 0M135.11 161.7a2.3 2.3 0 1 0 4.6 0a2.3 2.3 0 1 0 -4.6 0M115.54 157.4a2.3 2.3 0 1 0 4.6 0a2.3 2.3 0 1 0 -4.6 0M60.82 97.4a2.3 2.3 0 1 0 4.6 0a2.3 2.3 0 1 0 -4.6 0M157.92 158.0a2.3 2.3 0 1 0 4.6 0a2.3 2.3 0 1 0 -4.6 0M48.01 108.8a2.3 2.3 0 1 0 4.6 0a2.3 2.3 0 1 0 -4.6 0M44.66 97.9a2.3 2.3 0 1 0 4.6 0a2.3 2.3 0 1 0 -4.6 0M60.94 120.9a2.3 2.3 0 1 0 4.6 0a2.3 2.3 0 1 0 -4.6 0M75.36 144.4a2.3 2.3 0 1 0 4.6 0a2.3 2.3 0 1 0 -4.6 0M86.32 114.4a2.3 2.3 0 1 0 4.6 0a2.3 2.3 0 1 0 -4.6 0M76.17 118.1a2.3 2.3 0 1 0 4.6 0a2.3 2.3 0 1 0 -4.6 0M85.80 128.4a2.3 2.3 0 1 0 4.6 0a2.3 2.3 0 1 0 -4.6 0M88.55 146.5a2.3 2.3 0 1 0 4.6 0a2.3 2.3 0 1 0 -4.6 0M59.10 113.0a2.3 2.3 0 1 0 4.6 0a2.3 2.3 0 1 0 -4.6 0M82.93 140.8a2.3 2.3 0 1 0 4.6 0a2.3 2.3 0 1 0 -4.6 0M68.40 143.8a2.3 2.3 0 1 0 4.6 0a2.3 2.3 0 1 0 -4.6 0M64.64 133.6a2.3 2.3 0 1 0 4.6 0a2.3 2.3 0 1 0 -4.6 0M74.51 129.2a2.3 2.3 0 1 0 4.6 0a2.3 2.3 0 1 0 -4.6 0M72.03 127.9a2.3 2.3 0 1 0 4.6 0a2.3 2.3 0 1 0 -4.6 0M128.28 156.5a2.3 2.3 0 1 0 4.6 0a2.3 2.3 0 1 0 -4.6 0M73.32 113.3a2.3 2.3 0 1 0 4.6 0a2.3 2.3 0 1 0 -4.6 0M96.93 134.7a2.3 2.3 0 1 0 4.6 0a2.3 2.3 0 1 0 -4.6 0M83.87 110.6a2.3 2.3 0 1 0 4.6 0a2.3 2.3 0 1 0 -4.6 0M70.61 137.7a2.3 2.3 0 1 0 4.6 0a2.3 2.3 0 1 0 -4.6 0M71.41 110.3a2.3 2.3 0 1 0 4.6 0a2.3 2.3 0 1 0 -4.6 0M103.70 131.8a2.3 2.3 0 1 0 4.6 0a2.3 2.3 0 1 0 -4.6 0M70.84 124.0a2.3 2.3 0 1 0 4.6 0a2.3 2.3 0 1 0 -4.6 0M81.79 161.4a2.3 2.3 0 1 0 4.6 0a2.3 2.3 0 1 0 -4.6 0M126.59 161.7a2.3 2.3 0 1 0 4.6 0a2.3 2.3 0 1 0 -4.6 0M107.36 162.9a2.3 2.3 0 1 0 4.6 0a2.3 2.3 0 1 0 -4.6 0M93.76 120.5a2.3 2.3 0 1 0 4.6 0a2.3 2.3 0 1 0 -4.6 0M93.56 116.6a2.3 2.3 0 1 0 4.6 0a2.3 2.3 0 1 0 -4.6 0M64.31 133.7a2.3 2.3 0 1 0 4.6 0a2.3 2.3 0 1 0 -4.6 0M108.55 159.6a2.3 2.3 0 1 0 4.6 0a2.3 2.3 0 1 0 -4.6 0M71.80 167.3a2.3 2.3 0 1 0 4.6 0a2.3 2.3 0 1 0 -4.6 0M103.19 159.2a2.3 2.3 0 1 0 4.6 0a2.3 2.3 0 1 0 -4.6 0M101.46 141.9a2.3 2.3 0 1 0 4.6 0a2.3 2.3 0 1 0 -4.6 0M110.64 153.3a2.3 2.3 0 1 0 4.6 0a2.3 2.3 0 1 0 -4.6 0M109.37 160.7a2.3 2.3 0 1 0 4.6 0a2.3 2.3 0 1 0 -4.6 0M99.08 104.5a2.3 2.3 0 1 0 4.6 0a2.3 2.3 0 1 0 -4.6 0M65.02 135.4a2.3 2.3 0 1 0 4.6 0a2.3 2.3 0 1 0 -4.6 0M78.32 109.3a2.3 2.3 0 1 0 4.6 0a2.3 2.3 0 1 0 -4.6 0M110.57 152.8a2.3 2.3 0 1 0 4.6 0a2.3 2.3 0 1 0 -4.6 0M83.33 166.8a2.3 2.3 0 1 0 4.6 0a2.3 2.3 0 1 0 -4.6 0M71.13 164.7a2.3 2.3 0 1 0 4.6 0a2.3 2.3 0 1 0 -4.6 0M149.07 159.5a2.3 2.3 0 1 0 4.6 0a2.3 2.3 0 1 0 -4.6 0M76.02 137.8a2.3 2.3 0 1 0 4.6 0a2.3 2.3 0 1 0 -4.6 0M54.38 115.7a2.3 2.3 0 1 0 4.6 0a2.3 2.3 0 1 0 -4.6 0M86.43 140.1a2.3 2.3 0 1 0 4.6 0a2.3 2.3 0 1 0 -4.6 0M69.95 112.0a2.3 2.3 0 1 0 4.6 0a2.3 2.3 0 1 0 -4.6 0M81.53 133.8a2.3 2.3 0 1 0 4.6 0a2.3 2.3 0 1 0 -4.6 0M116.59 152.7a2.3 2.3 0 1 0 4.6 0a2.3 2.3 0 1 0 -4.6 0" fill="none" stroke="#1a476f" stroke-width="1.3"/>
<path d="M35.5 21.5V174.5H326.7" fill="none" stroke="#404040" stroke-width="1.1"/>
<line x1="30" y1="165.4" x2="35.5" y2="165.4" stroke="#404040" stroke-width="1.1"/>
<text transform="translate(25.00 165.40) scale(0.95 1) rotate(-90)" text-anchor="middle" class="tk">0</text>
<line x1="30" y1="120.4" x2="35.5" y2="120.4" stroke="#404040" stroke-width="1.1"/>
<text transform="translate(25.00 120.40) scale(0.95 1) rotate(-90)" text-anchor="middle" class="tk">.5</text>
<line x1="30" y1="75.4" x2="35.5" y2="75.4" stroke="#404040" stroke-width="1.1"/>
<text transform="translate(25.00 75.40) scale(0.95 1) rotate(-90)" text-anchor="middle" class="tk">1</text>
<line x1="30" y1="30.4" x2="35.5" y2="30.4" stroke="#404040" stroke-width="1.1"/>
<text transform="translate(25.00 30.40) scale(0.95 1) rotate(-90)" text-anchor="middle" class="tk">1.5</text>
<line x1="44.3" y1="174.5" x2="44.3" y2="179.7" stroke="#404040" stroke-width="1.1"/>
<text transform="translate(44.30 195.90) scale(0.95 1)" text-anchor="middle" class="tk">0</text>
<line x1="135.4" y1="174.5" x2="135.4" y2="179.7" stroke="#404040" stroke-width="1.1"/>
<text transform="translate(135.40 195.90) scale(0.95 1)" text-anchor="middle" class="tk">.5</text>
<line x1="226.5" y1="174.5" x2="226.5" y2="179.7" stroke="#404040" stroke-width="1.1"/>
<text transform="translate(226.50 195.90) scale(0.95 1)" text-anchor="middle" class="tk">1</text>
<line x1="317.6" y1="174.5" x2="317.6" y2="179.7" stroke="#404040" stroke-width="1.1"/>
<text transform="translate(317.60 195.90) scale(0.95 1)" text-anchor="middle" class="tk">1.5</text>
<text transform="translate(181.10 209.80) scale(0.95 1)" text-anchor="middle" class="at">EPAP</text>
<text transform="translate(11.90 98.00) scale(0.95 1) rotate(-90)" text-anchor="middle" class="at">CFTI</text>
<text transform="translate(34.80 16.70) scale(0.95 1)" text-anchor="start" class="tt">CFTI = 0.1484 + 0.8584 EPAP − 0.5860 EPAP</text>
<text transform="translate(322.30 7.70) scale(0.88 1)" text-anchor="start" class="sp">2</text>
<text transform="translate(37.90 226.70) scale(0.95 1)" text-anchor="start" class="nt"><tspan font-style="italic">n</tspan> = 3293</text>
<text transform="translate(94.90 226.70) scale(0.93 1)" text-anchor="start" class="nt">RMSE = 0.2127</text>
<line x1="391.5" y1="165.4" x2="684" y2="165.4" stroke="#e6eef2" stroke-width="1"/>
<line x1="391.5" y1="120.4" x2="684" y2="120.4" stroke="#e6eef2" stroke-width="1"/>
<line x1="391.5" y1="75.4" x2="684" y2="75.4" stroke="#e6eef2" stroke-width="1"/>
<line x1="391.5" y1="30.4" x2="684" y2="30.4" stroke="#e6eef2" stroke-width="1"/>
<path d="M421.2 139.1 L425.4 137.1 L429.6 135.2 L433.8 133.4 L438.0 131.6 L442.2 129.9 L446.4 128.2 L450.6 126.6 L454.8 125.1 L459.0 123.6 L463.2 122.2 L467.4 120.9 L471.6 119.6 L475.8 118.4 L480.1 117.2 L484.3 116.1 L488.5 115.1 L492.7 114.1 L496.9 113.2 L501.1 112.4 L505.3 111.6 L509.5 110.9 L513.7 110.2 L517.9 109.6 L522.1 109.1 L526.3 108.6 L530.5 108.2 L534.8 107.9 L539.0 107.6 L543.2 107.4 L547.4 107.2 L551.6 107.1 L555.8 107.1 L560.0 107.1 L564.2 107.2 L568.4 107.4 L572.6 107.6 L576.8 107.9 L581.0 108.2 L585.2 108.7 L589.4 109.1 L593.7 109.7 L597.9 110.3 L602.1 110.9 L606.3 111.6 L610.5 112.4 L614.7 113.3 L618.9 114.2 L623.1 115.1 L627.3 116.2 L631.5 117.3 L635.7 118.4 L639.9 119.6 L644.1 120.9 L648.4 122.3 L652.6 123.7 L656.8 125.1 L661.0 126.7 L665.2 128.3 L669.4 129.9 L673.6 131.6" fill="none" stroke="#fa0505" stroke-width="3.3"/>

<path d="M397.0 95.0 L404.0 93.0 L409.0 100.0 L412.0 110.0 L416.0 120.0 L420.0 130.0 L423.0 145.0 L423.0 155.0 L418.0 162.0 L405.0 167.5 L397.0 168.0Z" fill="#1a476f" stroke="#1a476f" stroke-width="1.5" stroke-linejoin="round"/>
<path d="M452.40 56.2a2.3 2.3 0 1 0 4.6 0a2.3 2.3 0 1 0 -4.6 0M404.20 59.9a2.3 2.3 0 1 0 4.6 0a2.3 2.3 0 1 0 -4.6 0M421.20 60.2a2.3 2.3 0 1 0 4.6 0a2.3 2.3 0 1 0 -4.6 0M409.10 61.6a2.3 2.3 0 1 0 4.6 0a2.3 2.3 0 1 0 -4.6 0M412.00 62.9a2.3 2.3 0 1 0 4.6 0a2.3 2.3 0 1 0 -4.6 0M415.30 64.5a2.3 2.3 0 1 0 4.6 0a2.3 2.3 0 1 0 -4.6 0M425.20 66.0a2.3 2.3 0 1 0 4.6 0a2.3 2.3 0 1 0 -4.6 0M419.90 67.7a2.3 2.3 0 1 0 4.6 0a2.3 2.3 0 1 0 -4.6 0M416.60 68.4a2.3 2.3 0 1 0 4.6 0a2.3 2.3 0 1 0 -4.6 0M413.40 70.4a2.3 2.3 0 1 0 4.6 0a2.3 2.3 0 1 0 -4.6 0M408.10 69.1a2.3 2.3 0 1 0 4.6 0a2.3 2.3 0 1 0 -4.6 0M397.60 65.1a2.3 2.3 0 1 0 4.6 0a2.3 2.3 0 1 0 -4.6 0M398.20 69.7a2.3 2.3 0 1 0 4.6 0a2.3 2.3 0 1 0 -4.6 0M398.90 73.6a2.3 2.3 0 1 0 4.6 0a2.3 2.3 0 1 0 -4.6 0M430.40 71.0a2.3 2.3 0 1 0 4.6 0a2.3 2.3 0 1 0 -4.6 0M440.30 69.1a2.3 2.3 0 1 0 4.6 0a2.3 2.3 0 1 0 -4.6 0M442.70 74.3a2.3 2.3 0 1 0 4.6 0a2.3 2.3 0 1 0 -4.6 0M454.70 73.0a2.3 2.3 0 1 0 4.6 0a2.3 2.3 0 1 0 -4.6 0M433.10 76.9a2.3 2.3 0 1 0 4.6 0a2.3 2.3 0 1 0 -4.6 0M427.10 80.6a2.3 2.3 0 1 0 4.6 0a2.3 2.3 0 1 0 -4.6 0M444.20 82.2a2.3 2.3 0 1 0 4.6 0a2.3 2.3 0 1 0 -4.6 0M450.50 79.6a2.3 2.3 0 1 0 4.6 0a2.3 2.3 0 1 0 -4.6 0M459.30 85.5a2.3 2.3 0 1 0 4.6 0a2.3 2.3 0 1 0 -4.6 0M456.10 87.4a2.3 2.3 0 1 0 4.6 0a2.3 2.3 0 1 0 -4.6 0M472.50 92.3a2.3 2.3 0 1 0 4.6 0a2.3 2.3 0 1 0 -4.6 0M442.30 93.4a2.3 2.3 0 1 0 4.6 0a2.3 2.3 0 1 0 -4.6 0M440.30 96.0a2.3 2.3 0 1 0 4.6 0a2.3 2.3 0 1 0 -4.6 0M444.20 95.7a2.3 2.3 0 1 0 4.6 0a2.3 2.3 0 1 0 -4.6 0M447.50 99.9a2.3 2.3 0 1 0 4.6 0a2.3 2.3 0 1 0 -4.6 0M452.50 103.9a2.3 2.3 0 1 0 4.6 0a2.3 2.3 0 1 0 -4.6 0M456.10 107.8a2.3 2.3 0 1 0 4.6 0a2.3 2.3 0 1 0 -4.6 0M430.40 95.7a2.3 2.3 0 1 0 4.6 0a2.3 2.3 0 1 0 -4.6 0M433.10 99.9a2.3 2.3 0 1 0 4.6 0a2.3 2.3 0 1 0 -4.6 0M429.10 103.6a2.3 2.3 0 1 0 4.6 0a2.3 2.3 0 1 0 -4.6 0M431.10 105.2a2.3 2.3 0 1 0 4.6 0a2.3 2.3 0 1 0 -4.6 0M439.00 105.4a2.3 2.3 0 1 0 4.6 0a2.3 2.3 0 1 0 -4.6 0M444.90 108.5a2.3 2.3 0 1 0 4.6 0a2.3 2.3 0 1 0 -4.6 0M419.90 96.0a2.3 2.3 0 1 0 4.6 0a2.3 2.3 0 1 0 -4.6 0M419.90 101.9a2.3 2.3 0 1 0 4.6 0a2.3 2.3 0 1 0 -4.6 0M424.50 105.2a2.3 2.3 0 1 0 4.6 0a2.3 2.3 0 1 0 -4.6 0M406.10 81.5a2.3 2.3 0 1 0 4.6 0a2.3 2.3 0 1 0 -4.6 0M410.70 82.2a2.3 2.3 0 1 0 4.6 0a2.3 2.3 0 1 0 -4.6 0M414.00 77.6a2.3 2.3 0 1 0 4.6 0a2.3 2.3 0 1 0 -4.6 0M417.30 76.3a2.3 2.3 0 1 0 4.6 0a2.3 2.3 0 1 0 -4.6 0M421.20 80.9a2.3 2.3 0 1 0 4.6 0a2.3 2.3 0 1 0 -4.6 0M414.70 84.2a2.3 2.3 0 1 0 4.6 0a2.3 2.3 0 1 0 -4.6 0M414.00 93.4a2.3 2.3 0 1 0 4.6 0a2.3 2.3 0 1 0 -4.6 0M406.80 88.8a2.3 2.3 0 1 0 4.6 0a2.3 2.3 0 1 0 -4.6 0M411.40 86.8a2.3 2.3 0 1 0 4.6 0a2.3 2.3 0 1 0 -4.6 0M408.70 72.0a2.3 2.3 0 1 0 4.6 0a2.3 2.3 0 1 0 -4.6 0M402.80 77.6a2.3 2.3 0 1 0 4.6 0a2.3 2.3 0 1 0 -4.6 0M416.00 99.9a2.3 2.3 0 1 0 4.6 0a2.3 2.3 0 1 0 -4.6 0M444.50 110.1a2.3 2.3 0 1 0 4.6 0a2.3 2.3 0 1 0 -4.6 0M449.20 111.7a2.3 2.3 0 1 0 4.6 0a2.3 2.3 0 1 0 -4.6 0M452.60 114.4a2.3 2.3 0 1 0 4.6 0a2.3 2.3 0 1 0 -4.6 0M459.20 118.4a2.3 2.3 0 1 0 4.6 0a2.3 2.3 0 1 0 -4.6 0M455.20 120.0a2.3 2.3 0 1 0 4.6 0a2.3 2.3 0 1 0 -4.6 0M451.20 122.4a2.3 2.3 0 1 0 4.6 0a2.3 2.3 0 1 0 -4.6 0M441.20 119.0a2.3 2.3 0 1 0 4.6 0a2.3 2.3 0 1 0 -4.6 0M436.50 111.7a2.3 2.3 0 1 0 4.6 0a2.3 2.3 0 1 0 -4.6 0M465.90 121.0a2.3 2.3 0 1 0 4.6 0a2.3 2.3 0 1 0 -4.6 0M473.90 121.7a2.3 2.3 0 1 0 4.6 0a2.3 2.3 0 1 0 -4.6 0M478.00 119.0a2.3 2.3 0 1 0 4.6 0a2.3 2.3 0 1 0 -4.6 0M478.70 125.0a2.3 2.3 0 1 0 4.6 0a2.3 2.3 0 1 0 -4.6 0M465.30 127.1a2.3 2.3 0 1 0 4.6 0a2.3 2.3 0 1 0 -4.6 0M469.30 128.4a2.3 2.3 0 1 0 4.6 0a2.3 2.3 0 1 0 -4.6 0M458.60 125.7a2.3 2.3 0 1 0 4.6 0a2.3 2.3 0 1 0 -4.6 0M461.90 133.8a2.3 2.3 0 1 0 4.6 0a2.3 2.3 0 1 0 -4.6 0M465.30 134.4a2.3 2.3 0 1 0 4.6 0a2.3 2.3 0 1 0 -4.6 0M469.30 134.2a2.3 2.3 0 1 0 4.6 0a2.3 2.3 0 1 0 -4.6 0M466.60 137.8a2.3 2.3 0 1 0 4.6 0a2.3 2.3 0 1 0 -4.6 0M471.30 138.4a2.3 2.3 0 1 0 4.6 0a2.3 2.3 0 1 0 -4.6 0M473.30 140.4a2.3 2.3 0 1 0 4.6 0a2.3 2.3 0 1 0 -4.6 0M469.90 143.1a2.3 2.3 0 1 0 4.6 0a2.3 2.3 0 1 0 -4.6 0M462.60 140.4a2.3 2.3 0 1 0 4.6 0a2.3 2.3 0 1 0 -4.6 0M457.20 136.4a2.3 2.3 0 1 0 4.6 0a2.3 2.3 0 1 0 -4.6 0M453.90 133.8a2.3 2.3 0 1 0 4.6 0a2.3 2.3 0 1 0 -4.6 0M453.20 139.1a2.3 2.3 0 1 0 4.6 0a2.3 2.3 0 1 0 -4.6 0M457.20 146.5a2.3 2.3 0 1 0 4.6 0a2.3 2.3 0 1 0 -4.6 0M464.60 146.5a2.3 2.3 0 1 0 4.6 0a2.3 2.3 0 1 0 -4.6 0M479.30 147.8a2.3 2.3 0 1 0 4.6 0a2.3 2.3 0 1 0 -4.6 0M448.50 147.8a2.3 2.3 0 1 0 4.6 0a2.3 2.3 0 1 0 -4.6 0M453.20 152.9a2.3 2.3 0 1 0 4.6 0a2.3 2.3 0 1 0 -4.6 0M459.90 153.8a2.3 2.3 0 1 0 4.6 0a2.3 2.3 0 1 0 -4.6 0M447.90 153.1a2.3 2.3 0 1 0 4.6 0a2.3 2.3 0 1 0 -4.6 0M448.50 133.8a2.3 2.3 0 1 0 4.6 0a2.3 2.3 0 1 0 -4.6 0M447.20 138.4a2.3 2.3 0 1 0 4.6 0a2.3 2.3 0 1 0 -4.6 0M496.70 56.4a2.3 2.3 0 1 0 4.6 0a2.3 2.3 0 1 0 -4.6 0M560.40 56.4a2.3 2.3 0 1 0 4.6 0a2.3 2.3 0 1 0 -4.6 0M584.50 56.4a2.3 2.3 0 1 0 4.6 0a2.3 2.3 0 1 0 -4.6 0M536.80 66.1a2.3 2.3 0 1 0 4.6 0a2.3 2.3 0 1 0 -4.6 0M488.10 77.3a2.3 2.3 0 1 0 4.6 0a2.3 2.3 0 1 0 -4.6 0M489.30 87.4a2.3 2.3 0 1 0 4.6 0a2.3 2.3 0 1 0 -4.6 0M490.90 93.0a2.3 2.3 0 1 0 4.6 0a2.3 2.3 0 1 0 -4.6 0M514.60 91.0a2.3 2.3 0 1 0 4.6 0a2.3 2.3 0 1 0 -4.6 0M538.40 87.7a2.3 2.3 0 1 0 4.6 0a2.3 2.3 0 1 0 -4.6 0M570.80 85.0a2.3 2.3 0 1 0 4.6 0a2.3 2.3 0 1 0 -4.6 0M581.30 93.8a2.3 2.3 0 1 0 4.6 0a2.3 2.3 0 1 0 -4.6 0M551.90 97.1a2.3 2.3 0 1 0 4.6 0a2.3 2.3 0 1 0 -4.6 0M487.00 106.5a2.3 2.3 0 1 0 4.6 0a2.3 2.3 0 1 0 -4.6 0M484.40 109.9a2.3 2.3 0 1 0 4.6 0a2.3 2.3 0 1 0 -4.6 0M500.20 111.5a2.3 2.3 0 1 0 4.6 0a2.3 2.3 0 1 0 -4.6 0M500.70 115.8a2.3 2.3 0 1 0 4.6 0a2.3 2.3 0 1 0 -4.6 0M510.60 107.8a2.3 2.3 0 1 0 4.6 0a2.3 2.3 0 1 0 -4.6 0M514.60 112.3a2.3 2.3 0 1 0 4.6 0a2.3 2.3 0 1 0 -4.6 0M524.80 111.5a2.3 2.3 0 1 0 4.6 0a2.3 2.3 0 1 0 -4.6 0M543.20 113.4a2.3 2.3 0 1 0 4.6 0a2.3 2.3 0 1 0 -4.6 0M556.10 104.3a2.3 2.3 0 1 0 4.6 0a2.3 2.3 0 1 0 -4.6 0M551.60 108.6a2.3 2.3 0 1 0 4.6 0a2.3 2.3 0 1 0 -4.6 0M555.30 110.2a2.3 2.3 0 1 0 4.6 0a2.3 2.3 0 1 0 -4.6 0M565.70 104.6a2.3 2.3 0 1 0 4.6 0a2.3 2.3 0 1 0 -4.6 0M565.20 109.4a2.3 2.3 0 1 0 4.6 0a2.3 2.3 0 1 0 -4.6 0M573.70 105.9a2.3 2.3 0 1 0 4.6 0a2.3 2.3 0 1 0 -4.6 0M584.00 110.2a2.3 2.3 0 1 0 4.6 0a2.3 2.3 0 1 0 -4.6 0M551.90 117.4a2.3 2.3 0 1 0 4.6 0a2.3 2.3 0 1 0 -4.6 0M524.30 118.3a2.3 2.3 0 1 0 4.6 0a2.3 2.3 0 1 0 -4.6 0M488.10 119.9a2.3 2.3 0 1 0 4.6 0a2.3 2.3 0 1 0 -4.6 0M509.80 120.7a2.3 2.3 0 1 0 4.6 0a2.3 2.3 0 1 0 -4.6 0M521.10 119.9a2.3 2.3 0 1 0 4.6 0a2.3 2.3 0 1 0 -4.6 0M529.90 119.9a2.3 2.3 0 1 0 4.6 0a2.3 2.3 0 1 0 -4.6 0M480.10 122.8a2.3 2.3 0 1 0 4.6 0a2.3 2.3 0 1 0 -4.6 0M480.10 128.9a2.3 2.3 0 1 0 4.6 0a2.3 2.3 0 1 0 -4.6 0M493.80 126.1a2.3 2.3 0 1 0 4.6 0a2.3 2.3 0 1 0 -4.6 0M498.30 127.7a2.3 2.3 0 1 0 4.6 0a2.3 2.3 0 1 0 -4.6 0M501.80 129.6a2.3 2.3 0 1 0 4.6 0a2.3 2.3 0 1 0 -4.6 0M490.50 131.7a2.3 2.3 0 1 0 4.6 0a2.3 2.3 0 1 0 -4.6 0M494.60 132.2a2.3 2.3 0 1 0 4.6 0a2.3 2.3 0 1 0 -4.6 0M487.30 134.1a2.3 2.3 0 1 0 4.6 0a2.3 2.3 0 1 0 -4.6 0M481.70 135.7a2.3 2.3 0 1 0 4.6 0a2.3 2.3 0 1 0 -4.6 0M499.40 134.9a2.3 2.3 0 1 0 4.6 0a2.3 2.3 0 1 0 -4.6 0M500.20 138.9a2.3 2.3 0 1 0 4.6 0a2.3 2.3 0 1 0 -4.6 0M501.80 142.9a2.3 2.3 0 1 0 4.6 0a2.3 2.3 0 1 0 -4.6 0M504.70 144.5a2.3 2.3 0 1 0 4.6 0a2.3 2.3 0 1 0 -4.6 0M501.50 146.9a2.3 2.3 0 1 0 4.6 0a2.3 2.3 0 1 0 -4.6 0M503.40 150.5a2.3 2.3 0 1 0 4.6 0a2.3 2.3 0 1 0 -4.6 0M512.70 128.0a2.3 2.3 0 1 0 4.6 0a2.3 2.3 0 1 0 -4.6 0M509.80 130.9a2.3 2.3 0 1 0 4.6 0a2.3 2.3 0 1 0 -4.6 0M511.70 134.9a2.3 2.3 0 1 0 4.6 0a2.3 2.3 0 1 0 -4.6 0M529.90 126.1a2.3 2.3 0 1 0 4.6 0a2.3 2.3 0 1 0 -4.6 0M529.10 129.0a2.3 2.3 0 1 0 4.6 0a2.3 2.3 0 1 0 -4.6 0M527.80 134.1a2.3 2.3 0 1 0 4.6 0a2.3 2.3 0 1 0 -4.6 0M522.30 138.1a2.3 2.3 0 1 0 4.6 0a2.3 2.3 0 1 0 -4.6 0M524.60 143.7a2.3 2.3 0 1 0 4.6 0a2.3 2.3 0 1 0 -4.6 0M520.30 146.1a2.3 2.3 0 1 0 4.6 0a2.3 2.3 0 1 0 -4.6 0M517.50 149.3a2.3 2.3 0 1 0 4.6 0a2.3 2.3 0 1 0 -4.6 0M512.70 147.3a2.3 2.3 0 1 0 4.6 0a2.3 2.3 0 1 0 -4.6 0M535.50 133.3a2.3 2.3 0 1 0 4.6 0a2.3 2.3 0 1 0 -4.6 0M540.80 133.8a2.3 2.3 0 1 0 4.6 0a2.3 2.3 0 1 0 -4.6 0M546.80 140.5a2.3 2.3 0 1 0 4.6 0a2.3 2.3 0 1 0 -4.6 0M548.40 137.3a2.3 2.3 0 1 0 4.6 0a2.3 2.3 0 1 0 -4.6 0M539.50 144.0a2.3 2.3 0 1 0 4.6 0a2.3 2.3 0 1 0 -4.6 0M543.50 143.7a2.3 2.3 0 1 0 4.6 0a2.3 2.3 0 1 0 -4.6 0M543.20 149.8a2.3 2.3 0 1 0 4.6 0a2.3 2.3 0 1 0 -4.6 0M555.60 132.8a2.3 2.3 0 1 0 4.6 0a2.3 2.3 0 1 0 -4.6 0M554.80 135.7a2.3 2.3 0 1 0 4.6 0a2.3 2.3 0 1 0 -4.6 0M555.30 141.3a2.3 2.3 0 1 0 4.6 0a2.3 2.3 0 1 0 -4.6 0M586.90 131.2a2.3 2.3 0 1 0 4.6 0a2.3 2.3 0 1 0 -4.6 0M496.20 156.3a2.3 2.3 0 1 0 4.6 0a2.3 2.3 0 1 0 -4.6 0M480.90 144.5a2.3 2.3 0 1 0 4.6 0a2.3 2.3 0 1 0 -4.6 0M482.50 146.9a2.3 2.3 0 1 0 4.6 0a2.3 2.3 0 1 0 -4.6 0M487.30 142.1a2.3 2.3 0 1 0 4.6 0a2.3 2.3 0 1 0 -4.6 0M490.50 142.9a2.3 2.3 0 1 0 4.6 0a2.3 2.3 0 1 0 -4.6 0M490.50 147.7a2.3 2.3 0 1 0 4.6 0a2.3 2.3 0 1 0 -4.6 0M486.50 146.9a2.3 2.3 0 1 0 4.6 0a2.3 2.3 0 1 0 -4.6 0M611.60 67.6a2.3 2.3 0 1 0 4.6 0a2.3 2.3 0 1 0 -4.6 0M621.10 72.1a2.3 2.3 0 1 0 4.6 0a2.3 2.3 0 1 0 -4.6 0M617.90 94.5a2.3 2.3 0 1 0 4.6 0a2.3 2.3 0 1 0 -4.6 0M603.60 102.0a2.3 2.3 0 1 0 4.6 0a2.3 2.3 0 1 0 -4.6 0M620.90 108.3a2.3 2.3 0 1 0 4.6 0a2.3 2.3 0 1 0 -4.6 0M672.40 81.4a2.3 2.3 0 1 0 4.6 0a2.3 2.3 0 1 0 -4.6 0M672.40 92.0a2.3 2.3 0 1 0 4.6 0a2.3 2.3 0 1 0 -4.6 0M672.40 98.2a2.3 2.3 0 1 0 4.6 0a2.3 2.3 0 1 0 -4.6 0M672.40 102.0a2.3 2.3 0 1 0 4.6 0a2.3 2.3 0 1 0 -4.6 0M672.40 112.1a2.3 2.3 0 1 0 4.6 0a2.3 2.3 0 1 0 -4.6 0M672.40 125.4a2.3 2.3 0 1 0 4.6 0a2.3 2.3 0 1 0 -4.6 0M672.40 127.4a2.3 2.3 0 1 0 4.6 0a2.3 2.3 0 1 0 -4.6 0M672.40 129.6a2.3 2.3 0 1 0 4.6 0a2.3 2.3 0 1 0 -4.6 0M668.10 130.9a2.3 2.3 0 1 0 4.6 0a2.3 2.3 0 1 0 -4.6 0M672.40 140.5a2.3 2.3 0 1 0 4.6 0a2.3 2.3 0 1 0 -4.6 0M672.40 142.5a2.3 2.3 0 1 0 4.6 0a2.3 2.3 0 1 0 -4.6 0M672.40 144.2a2.3 2.3 0 1 0 4.6 0a2.3 2.3 0 1 0 -4.6 0M590.20 127.4a2.3 2.3 0 1 0 4.6 0a2.3 2.3 0 1 0 -4.6 0M592.20 137.4a2.3 2.3 0 1 0 4.6 0a2.3 2.3 0 1 0 -4.6 0M597.80 140.0a2.3 2.3 0 1 0 4.6 0a2.3 2.3 0 1 0 -4.6 0M617.40 129.9a2.3 2.3 0 1 0 4.6 0a2.3 2.3 0 1 0 -4.6 0M626.70 132.9a2.3 2.3 0 1 0 4.6 0a2.3 2.3 0 1 0 -4.6 0M627.40 140.0a2.3 2.3 0 1 0 4.6 0a2.3 2.3 0 1 0 -4.6 0M643.00 142.5a2.3 2.3 0 1 0 4.6 0a2.3 2.3 0 1 0 -4.6 0M650.00 137.9a2.3 2.3 0 1 0 4.6 0a2.3 2.3 0 1 0 -4.6 0M397.50 56.2a2.3 2.3 0 1 0 4.6 0a2.3 2.3 0 1 0 -4.6 0M398.84 56.2a2.3 2.3 0 1 0 4.6 0a2.3 2.3 0 1 0 -4.6 0M400.18 56.2a2.3 2.3 0 1 0 4.6 0a2.3 2.3 0 1 0 -4.6 0M401.51 56.2a2.3 2.3 0 1 0 4.6 0a2.3 2.3 0 1 0 -4.6 0M402.85 56.2a2.3 2.3 0 1 0 4.6 0a2.3 2.3 0 1 0 -4.6 0M404.19 56.2a2.3 2.3 0 1 0 4.6 0a2.3 2.3 0 1 0 -4.6 0M405.52 56.2a2.3 2.3 0 1 0 4.6 0a2.3 2.3 0 1 0 -4.6 0M406.86 56.2a2.3 2.3 0 1 0 4.6 0a2.3 2.3 0 1 0 -4.6 0M408.20 56.2a2.3 2.3 0 1 0 4.6 0a2.3 2.3 0 1 0 -4.6 0M416.30 56.2a2.3 2.3 0 1 0 4.6 0a2.3 2.3 0 1 0 -4.6 0M417.70 56.2a2.3 2.3 0 1 0 4.6 0a2.3 2.3 0 1 0 -4.6 0M419.10 56.2a2.3 2.3 0 1 0 4.6 0a2.3 2.3 0 1 0 -4.6 0M420.50 56.2a2.3 2.3 0 1 0 4.6 0a2.3 2.3 0 1 0 -4.6 0M421.90 56.2a2.3 2.3 0 1 0 4.6 0a2.3 2.3 0 1 0 -4.6 0M423.30 56.2a2.3 2.3 0 1 0 4.6 0a2.3 2.3 0 1 0 -4.6 0M424.70 56.2a2.3 2.3 0 1 0 4.6 0a2.3 2.3 0 1 0 -4.6 0M441.20 56.2a2.3 2.3 0 1 0 4.6 0a2.3 2.3 0 1 0 -4.6 0M442.45 56.2a2.3 2.3 0 1 0 4.6 0a2.3 2.3 0 1 0 -4.6 0M443.70 56.2a2.3 2.3 0 1 0 4.6 0a2.3 2.3 0 1 0 -4.6 0M397.50 86.0a2.3 2.3 0 1 0 4.6 0a2.3 2.3 0 1 0 -4.6 0M397.50 88.7a2.3 2.3 0 1 0 4.6 0a2.3 2.3 0 1 0 -4.6 0M397.50 91.5a2.3 2.3 0 1 0 4.6 0a2.3 2.3 0 1 0 -4.6 0M397.50 94.2a2.3 2.3 0 1 0 4.6 0a2.3 2.3 0 1 0 -4.6 0M397.50 97.0a2.3 2.3 0 1 0 4.6 0a2.3 2.3 0 1 0 -4.6 0M397.50 99.7a2.3 2.3 0 1 0 4.6 0a2.3 2.3 0 1 0 -4.6 0M397.50 102.4a2.3 2.3 0 1 0 4.6 0a2.3 2.3 0 1 0 -4.6 0M397.50 105.2a2.3 2.3 0 1 0 4.6 0a2.3 2.3 0 1 0 -4.6 0M397.50 107.9a2.3 2.3 0 1 0 4.6 0a2.3 2.3 0 1 0 -4.6 0M397.50 110.6a2.3 2.3 0 1 0 4.6 0a2.3 2.3 0 1 0 -4.6 0M397.50 113.4a2.3 2.3 0 1 0 4.6 0a2.3 2.3 0 1 0 -4.6 0M397.50 116.1a2.3 2.3 0 1 0 4.6 0a2.3 2.3 0 1 0 -4.6 0M397.50 118.9a2.3 2.3 0 1 0 4.6 0a2.3 2.3 0 1 0 -4.6 0M397.50 121.6a2.3 2.3 0 1 0 4.6 0a2.3 2.3 0 1 0 -4.6 0M397.50 124.3a2.3 2.3 0 1 0 4.6 0a2.3 2.3 0 1 0 -4.6 0M397.50 127.1a2.3 2.3 0 1 0 4.6 0a2.3 2.3 0 1 0 -4.6 0M397.50 129.8a2.3 2.3 0 1 0 4.6 0a2.3 2.3 0 1 0 -4.6 0M397.50 132.5a2.3 2.3 0 1 0 4.6 0a2.3 2.3 0 1 0 -4.6 0M397.50 135.3a2.3 2.3 0 1 0 4.6 0a2.3 2.3 0 1 0 -4.6 0M397.50 138.0a2.3 2.3 0 1 0 4.6 0a2.3 2.3 0 1 0 -4.6 0M397.50 140.8a2.3 2.3 0 1 0 4.6 0a2.3 2.3 0 1 0 -4.6 0M397.50 143.5a2.3 2.3 0 1 0 4.6 0a2.3 2.3 0 1 0 -4.6 0M397.50 146.2a2.3 2.3 0 1 0 4.6 0a2.3 2.3 0 1 0 -4.6 0M397.50 149.0a2.3 2.3 0 1 0 4.6 0a2.3 2.3 0 1 0 -4.6 0M397.50 151.7a2.3 2.3 0 1 0 4.6 0a2.3 2.3 0 1 0 -4.6 0M397.50 154.4a2.3 2.3 0 1 0 4.6 0a2.3 2.3 0 1 0 -4.6 0M397.50 157.2a2.3 2.3 0 1 0 4.6 0a2.3 2.3 0 1 0 -4.6 0M397.50 159.9a2.3 2.3 0 1 0 4.6 0a2.3 2.3 0 1 0 -4.6 0M397.50 162.7a2.3 2.3 0 1 0 4.6 0a2.3 2.3 0 1 0 -4.6 0M397.50 165.4a2.3 2.3 0 1 0 4.6 0a2.3 2.3 0 1 0 -4.6 0M399.20 95.0a2.3 2.3 0 1 0 4.6 0a2.3 2.3 0 1 0 -4.6 0M399.20 98.4a2.3 2.3 0 1 0 4.6 0a2.3 2.3 0 1 0 -4.6 0M399.20 101.7a2.3 2.3 0 1 0 4.6 0a2.3 2.3 0 1 0 -4.6 0M399.20 105.1a2.3 2.3 0 1 0 4.6 0a2.3 2.3 0 1 0 -4.6 0M399.20 108.4a2.3 2.3 0 1 0 4.6 0a2.3 2.3 0 1 0 -4.6 0M399.20 111.8a2.3 2.3 0 1 0 4.6 0a2.3 2.3 0 1 0 -4.6 0M399.20 115.1a2.3 2.3 0 1 0 4.6 0a2.3 2.3 0 1 0 -4.6 0M399.20 118.5a2.3 2.3 0 1 0 4.6 0a2.3 2.3 0 1 0 -4.6 0M399.20 121.8a2.3 2.3 0 1 0 4.6 0a2.3 2.3 0 1 0 -4.6 0M399.20 125.2a2.3 2.3 0 1 0 4.6 0a2.3 2.3 0 1 0 -4.6 0M399.20 128.5a2.3 2.3 0 1 0 4.6 0a2.3 2.3 0 1 0 -4.6 0M399.20 131.9a2.3 2.3 0 1 0 4.6 0a2.3 2.3 0 1 0 -4.6 0M399.20 135.2a2.3 2.3 0 1 0 4.6 0a2.3 2.3 0 1 0 -4.6 0M399.20 138.6a2.3 2.3 0 1 0 4.6 0a2.3 2.3 0 1 0 -4.6 0M399.20 141.9a2.3 2.3 0 1 0 4.6 0a2.3 2.3 0 1 0 -4.6 0M399.20 145.3a2.3 2.3 0 1 0 4.6 0a2.3 2.3 0 1 0 -4.6 0M399.20 148.6a2.3 2.3 0 1 0 4.6 0a2.3 2.3 0 1 0 -4.6 0M399.20 152.0a2.3 2.3 0 1 0 4.6 0a2.3 2.3 0 1 0 -4.6 0M399.20 155.3a2.3 2.3 0 1 0 4.6 0a2.3 2.3 0 1 0 -4.6 0M399.20 158.7a2.3 2.3 0 1 0 4.6 0a2.3 2.3 0 1 0 -4.6 0M399.20 162.0a2.3 2.3 0 1 0 4.6 0a2.3 2.3 0 1 0 -4.6 0M399.20 165.4a2.3 2.3 0 1 0 4.6 0a2.3 2.3 0 1 0 -4.6 0M405.22 93.3a2.3 2.3 0 1 0 4.6 0a2.3 2.3 0 1 0 -4.6 0M395.32 64.8a2.3 2.3 0 1 0 4.6 0a2.3 2.3 0 1 0 -4.6 0M403.89 86.3a2.3 2.3 0 1 0 4.6 0a2.3 2.3 0 1 0 -4.6 0M402.07 72.2a2.3 2.3 0 1 0 4.6 0a2.3 2.3 0 1 0 -4.6 0M401.37 82.0a2.3 2.3 0 1 0 4.6 0a2.3 2.3 0 1 0 -4.6 0M401.09 67.2a2.3 2.3 0 1 0 4.6 0a2.3 2.3 0 1 0 -4.6 0M399.44 75.0a2.3 2.3 0 1 0 4.6 0a2.3 2.3 0 1 0 -4.6 0M402.65 94.8a2.3 2.3 0 1 0 4.6 0a2.3 2.3 0 1 0 -4.6 0M399.59 70.9a2.3 2.3 0 1 0 4.6 0a2.3 2.3 0 1 0 -4.6 0M395.10 62.9a2.3 2.3 0 1 0 4.6 0a2.3 2.3 0 1 0 -4.6 0M408.64 115.6a2.3 2.3 0 1 0 4.6 0a2.3 2.3 0 1 0 -4.6 0M437.77 149.3a2.3 2.3 0 1 0 4.6 0a2.3 2.3 0 1 0 -4.6 0M419.15 157.7a2.3 2.3 0 1 0 4.6 0a2.3 2.3 0 1 0 -4.6 0M413.01 140.2a2.3 2.3 0 1 0 4.6 0a2.3 2.3 0 1 0 -4.6 0M400.25 100.0a2.3 2.3 0 1 0 4.6 0a2.3 2.3 0 1 0 -4.6 0M399.39 88.8a2.3 2.3 0 1 0 4.6 0a2.3 2.3 0 1 0 -4.6 0M446.92 140.0a2.3 2.3 0 1 0 4.6 0a2.3 2.3 0 1 0 -4.6 0M429.14 116.1a2.3 2.3 0 1 0 4.6 0a2.3 2.3 0 1 0 -4.6 0M408.95 68.0a2.3 2.3 0 1 0 4.6 0a2.3 2.3 0 1 0 -4.6 0M417.76 124.1a2.3 2.3 0 1 0 4.6 0a2.3 2.3 0 1 0 -4.6 0M431.54 117.2a2.3 2.3 0 1 0 4.6 0a2.3 2.3 0 1 0 -4.6 0M400.54 104.9a2.3 2.3 0 1 0 4.6 0a2.3 2.3 0 1 0 -4.6 0M438.62 123.0a2.3 2.3 0 1 0 4.6 0a2.3 2.3 0 1 0 -4.6 0M427.53 160.2a2.3 2.3 0 1 0 4.6 0a2.3 2.3 0 1 0 -4.6 0M419.22 117.3a2.3 2.3 0 1 0 4.6 0a2.3 2.3 0 1 0 -4.6 0M406.67 118.8a2.3 2.3 0 1 0 4.6 0a2.3 2.3 0 1 0 -4.6 0M434.58 135.8a2.3 2.3 0 1 0 4.6 0a2.3 2.3 0 1 0 -4.6 0M409.28 108.3a2.3 2.3 0 1 0 4.6 0a2.3 2.3 0 1 0 -4.6 0M445.31 154.6a2.3 2.3 0 1 0 4.6 0a2.3 2.3 0 1 0 -4.6 0M408.73 126.3a2.3 2.3 0 1 0 4.6 0a2.3 2.3 0 1 0 -4.6 0M418.00 121.4a2.3 2.3 0 1 0 4.6 0a2.3 2.3 0 1 0 -4.6 0M414.10 163.5a2.3 2.3 0 1 0 4.6 0a2.3 2.3 0 1 0 -4.6 0M419.06 114.8a2.3 2.3 0 1 0 4.6 0a2.3 2.3 0 1 0 -4.6 0M411.60 140.8a2.3 2.3 0 1 0 4.6 0a2.3 2.3 0 1 0 -4.6 0M422.37 130.2a2.3 2.3 0 1 0 4.6 0a2.3 2.3 0 1 0 -4.6 0M440.79 158.0a2.3 2.3 0 1 0 4.6 0a2.3 2.3 0 1 0 -4.6 0M416.33 110.0a2.3 2.3 0 1 0 4.6 0a2.3 2.3 0 1 0 -4.6 0M419.90 162.6a2.3 2.3 0 1 0 4.6 0a2.3 2.3 0 1 0 -4.6 0M411.02 108.4a2.3 2.3 0 1 0 4.6 0a2.3 2.3 0 1 0 -4.6 0M405.66 87.0a2.3 2.3 0 1 0 4.6 0a2.3 2.3 0 1 0 -4.6 0M421.03 127.4a2.3 2.3 0 1 0 4.6 0a2.3 2.3 0 1 0 -4.6 0M416.64 149.5a2.3 2.3 0 1 0 4.6 0a2.3 2.3 0 1 0 -4.6 0M420.47 129.0a2.3 2.3 0 1 0 4.6 0a2.3 2.3 0 1 0 -4.6 0M423.01 159.2a2.3 2.3 0 1 0 4.6 0a2.3 2.3 0 1 0 -4.6 0M432.08 143.8a2.3 2.3 0 1 0 4.6 0a2.3 2.3 0 1 0 -4.6 0M439.54 150.8a2.3 2.3 0 1 0 4.6 0a2.3 2.3 0 1 0 -4.6 0M407.96 160.4a2.3 2.3 0 1 0 4.6 0a2.3 2.3 0 1 0 -4.6 0M408.79 114.7a2.3 2.3 0 1 0 4.6 0a2.3 2.3 0 1 0 -4.6 0M413.67 158.5a2.3 2.3 0 1 0 4.6 0a2.3 2.3 0 1 0 -4.6 0M408.90 113.7a2.3 2.3 0 1 0 4.6 0a2.3 2.3 0 1 0 -4.6 0M401.95 84.6a2.3 2.3 0 1 0 4.6 0a2.3 2.3 0 1 0 -4.6 0M406.37 128.8a2.3 2.3 0 1 0 4.6 0a2.3 2.3 0 1 0 -4.6 0M412.62 162.4a2.3 2.3 0 1 0 4.6 0a2.3 2.3 0 1 0 -4.6 0M414.41 148.5a2.3 2.3 0 1 0 4.6 0a2.3 2.3 0 1 0 -4.6 0M419.89 156.8a2.3 2.3 0 1 0 4.6 0a2.3 2.3 0 1 0 -4.6 0M434.13 131.2a2.3 2.3 0 1 0 4.6 0a2.3 2.3 0 1 0 -4.6 0M413.79 143.1a2.3 2.3 0 1 0 4.6 0a2.3 2.3 0 1 0 -4.6 0M412.97 112.0a2.3 2.3 0 1 0 4.6 0a2.3 2.3 0 1 0 -4.6 0M411.33 125.5a2.3 2.3 0 1 0 4.6 0a2.3 2.3 0 1 0 -4.6 0M415.48 126.6a2.3 2.3 0 1 0 4.6 0a2.3 2.3 0 1 0 -4.6 0M414.28 149.9a2.3 2.3 0 1 0 4.6 0a2.3 2.3 0 1 0 -4.6 0M418.17 138.0a2.3 2.3 0 1 0 4.6 0a2.3 2.3 0 1 0 -4.6 0M461.76 158.2a2.3 2.3 0 1 0 4.6 0a2.3 2.3 0 1 0 -4.6 0M413.93 135.9a2.3 2.3 0 1 0 4.6 0a2.3 2.3 0 1 0 -4.6 0M429.82 116.0a2.3 2.3 0 1 0 4.6 0a2.3 2.3 0 1 0 -4.6 0M403.84 118.7a2.3 2.3 0 1 0 4.6 0a2.3 2.3 0 1 0 -4.6 0M421.28 157.0a2.3 2.3 0 1 0 4.6 0a2.3 2.3 0 1 0 -4.6 0M417.43 144.7a2.3 2.3 0 1 0 4.6 0a2.3 2.3 0 1 0 -4.6 0M429.93 157.5a2.3 2.3 0 1 0 4.6 0a2.3 2.3 0 1 0 -4.6 0M401.89 116.3a2.3 2.3 0 1 0 4.6 0a2.3 2.3 0 1 0 -4.6 0M429.95 158.1a2.3 2.3 0 1 0 4.6 0a2.3 2.3 0 1 0 -4.6 0M430.26 157.7a2.3 2.3 0 1 0 4.6 0a2.3 2.3 0 1 0 -4.6 0M411.99 149.5a2.3 2.3 0 1 0 4.6 0a2.3 2.3 0 1 0 -4.6 0M404.14 125.0a2.3 2.3 0 1 0 4.6 0a2.3 2.3 0 1 0 -4.6 0M399.18 65.2a2.3 2.3 0 1 0 4.6 0a2.3 2.3 0 1 0 -4.6 0M415.54 126.3a2.3 2.3 0 1 0 4.6 0a2.3 2.3 0 1 0 -4.6 0M421.96 149.2a2.3 2.3 0 1 0 4.6 0a2.3 2.3 0 1 0 -4.6 0M417.07 147.2a2.3 2.3 0 1 0 4.6 0a2.3 2.3 0 1 0 -4.6 0M415.70 123.5a2.3 2.3 0 1 0 4.6 0a2.3 2.3 0 1 0 -4.6 0M410.63 104.6a2.3 2.3 0 1 0 4.6 0a2.3 2.3 0 1 0 -4.6 0M446.92 145.1a2.3 2.3 0 1 0 4.6 0a2.3 2.3 0 1 0 -4.6 0M414.50 135.9a2.3 2.3 0 1 0 4.6 0a2.3 2.3 0 1 0 -4.6 0M422.09 122.0a2.3 2.3 0 1 0 4.6 0a2.3 2.3 0 1 0 -4.6 0M407.44 162.6a2.3 2.3 0 1 0 4.6 0a2.3 2.3 0 1 0 -4.6 0M439.83 145.9a2.3 2.3 0 1 0 4.6 0a2.3 2.3 0 1 0 -4.6 0M414.37 105.8a2.3 2.3 0 1 0 4.6 0a2.3 2.3 0 1 0 -4.6 0M400.83 97.5a2.3 2.3 0 1 0 4.6 0a2.3 2.3 0 1 0 -4.6 0M400.01 74.5a2.3 2.3 0 1 0 4.6 0a2.3 2.3 0 1 0 -4.6 0M413.38 120.1a2.3 2.3 0 1 0 4.6 0a2.3 2.3 0 1 0 -4.6 0M416.08 97.2a2.3 2.3 0 1 0 4.6 0a2.3 2.3 0 1 0 -4.6 0M412.64 107.9a2.3 2.3 0 1 0 4.6 0a2.3 2.3 0 1 0 -4.6 0M412.48 162.4a2.3 2.3 0 1 0 4.6 0a2.3 2.3 0 1 0 -4.6 0M422.79 114.8a2.3 2.3 0 1 0 4.6 0a2.3 2.3 0 1 0 -4.6 0M442.76 140.4a2.3 2.3 0 1 0 4.6 0a2.3 2.3 0 1 0 -4.6 0M408.89 162.8a2.3 2.3 0 1 0 4.6 0a2.3 2.3 0 1 0 -4.6 0M406.05 93.5a2.3 2.3 0 1 0 4.6 0a2.3 2.3 0 1 0 -4.6 0M398.29 106.3a2.3 2.3 0 1 0 4.6 0a2.3 2.3 0 1 0 -4.6 0M421.27 122.5a2.3 2.3 0 1 0 4.6 0a2.3 2.3 0 1 0 -4.6 0M438.31 155.7a2.3 2.3 0 1 0 4.6 0a2.3 2.3 0 1 0 -4.6 0M409.01 116.1a2.3 2.3 0 1 0 4.6 0a2.3 2.3 0 1 0 -4.6 0M421.43 131.0a2.3 2.3 0 1 0 4.6 0a2.3 2.3 0 1 0 -4.6 0M400.34 91.0a2.3 2.3 0 1 0 4.6 0a2.3 2.3 0 1 0 -4.6 0M453.01 154.0a2.3 2.3 0 1 0 4.6 0a2.3 2.3 0 1 0 -4.6 0M401.10 94.6a2.3 2.3 0 1 0 4.6 0a2.3 2.3 0 1 0 -4.6 0M405.64 118.3a2.3 2.3 0 1 0 4.6 0a2.3 2.3 0 1 0 -4.6 0M416.33 127.5a2.3 2.3 0 1 0 4.6 0a2.3 2.3 0 1 0 -4.6 0M401.33 74.1a2.3 2.3 0 1 0 4.6 0a2.3 2.3 0 1 0 -4.6 0M414.21 150.1a2.3 2.3 0 1 0 4.6 0a2.3 2.3 0 1 0 -4.6 0M421.86 139.3a2.3 2.3 0 1 0 4.6 0a2.3 2.3 0 1 0 -4.6 0M406.04 130.5a2.3 2.3 0 1 0 4.6 0a2.3 2.3 0 1 0 -4.6 0M420.02 141.7a2.3 2.3 0 1 0 4.6 0a2.3 2.3 0 1 0 -4.6 0M427.83 123.6a2.3 2.3 0 1 0 4.6 0a2.3 2.3 0 1 0 -4.6 0M420.75 140.7a2.3 2.3 0 1 0 4.6 0a2.3 2.3 0 1 0 -4.6 0M441.86 151.4a2.3 2.3 0 1 0 4.6 0a2.3 2.3 0 1 0 -4.6 0M419.01 148.1a2.3 2.3 0 1 0 4.6 0a2.3 2.3 0 1 0 -4.6 0M414.90 112.6a2.3 2.3 0 1 0 4.6 0a2.3 2.3 0 1 0 -4.6 0M400.78 104.8a2.3 2.3 0 1 0 4.6 0a2.3 2.3 0 1 0 -4.6 0M405.59 110.4a2.3 2.3 0 1 0 4.6 0a2.3 2.3 0 1 0 -4.6 0M409.30 119.3a2.3 2.3 0 1 0 4.6 0a2.3 2.3 0 1 0 -4.6 0M414.68 124.5a2.3 2.3 0 1 0 4.6 0a2.3 2.3 0 1 0 -4.6 0M410.67 129.8a2.3 2.3 0 1 0 4.6 0a2.3 2.3 0 1 0 -4.6 0M426.02 158.6a2.3 2.3 0 1 0 4.6 0a2.3 2.3 0 1 0 -4.6 0M421.64 160.7a2.3 2.3 0 1 0 4.6 0a2.3 2.3 0 1 0 -4.6 0M429.19 142.4a2.3 2.3 0 1 0 4.6 0a2.3 2.3 0 1 0 -4.6 0M404.16 105.4a2.3 2.3 0 1 0 4.6 0a2.3 2.3 0 1 0 -4.6 0M413.84 149.0a2.3 2.3 0 1 0 4.6 0a2.3 2.3 0 1 0 -4.6 0M450.86 146.9a2.3 2.3 0 1 0 4.6 0a2.3 2.3 0 1 0 -4.6 0M412.42 144.4a2.3 2.3 0 1 0 4.6 0a2.3 2.3 0 1 0 -4.6 0M403.33 109.5a2.3 2.3 0 1 0 4.6 0a2.3 2.3 0 1 0 -4.6 0M440.27 147.7a2.3 2.3 0 1 0 4.6 0a2.3 2.3 0 1 0 -4.6 0M415.10 158.6a2.3 2.3 0 1 0 4.6 0a2.3 2.3 0 1 0 -4.6 0M401.71 71.9a2.3 2.3 0 1 0 4.6 0a2.3 2.3 0 1 0 -4.6 0M403.74 114.6a2.3 2.3 0 1 0 4.6 0a2.3 2.3 0 1 0 -4.6 0M424.71 141.4a2.3 2.3 0 1 0 4.6 0a2.3 2.3 0 1 0 -4.6 0M424.83 160.8a2.3 2.3 0 1 0 4.6 0a2.3 2.3 0 1 0 -4.6 0M399.98 106.3a2.3 2.3 0 1 0 4.6 0a2.3 2.3 0 1 0 -4.6 0M412.34 154.4a2.3 2.3 0 1 0 4.6 0a2.3 2.3 0 1 0 -4.6 0M419.76 129.3a2.3 2.3 0 1 0 4.6 0a2.3 2.3 0 1 0 -4.6 0M401.81 90.1a2.3 2.3 0 1 0 4.6 0a2.3 2.3 0 1 0 -4.6 0M414.98 134.5a2.3 2.3 0 1 0 4.6 0a2.3 2.3 0 1 0 -4.6 0M408.75 94.5a2.3 2.3 0 1 0 4.6 0a2.3 2.3 0 1 0 -4.6 0M458.59 140.1a2.3 2.3 0 1 0 4.6 0a2.3 2.3 0 1 0 -4.6 0M429.18 149.7a2.3 2.3 0 1 0 4.6 0a2.3 2.3 0 1 0 -4.6 0M414.72 84.2a2.3 2.3 0 1 0 4.6 0a2.3 2.3 0 1 0 -4.6 0M399.60 105.4a2.3 2.3 0 1 0 4.6 0a2.3 2.3 0 1 0 -4.6 0M416.90 134.2a2.3 2.3 0 1 0 4.6 0a2.3 2.3 0 1 0 -4.6 0M445.22 141.5a2.3 2.3 0 1 0 4.6 0a2.3 2.3 0 1 0 -4.6 0M417.16 145.6a2.3 2.3 0 1 0 4.6 0a2.3 2.3 0 1 0 -4.6 0M436.00 144.4a2.3 2.3 0 1 0 4.6 0a2.3 2.3 0 1 0 -4.6 0M426.28 127.9a2.3 2.3 0 1 0 4.6 0a2.3 2.3 0 1 0 -4.6 0M444.38 141.7a2.3 2.3 0 1 0 4.6 0a2.3 2.3 0 1 0 -4.6 0M412.55 161.7a2.3 2.3 0 1 0 4.6 0a2.3 2.3 0 1 0 -4.6 0M422.16 156.1a2.3 2.3 0 1 0 4.6 0a2.3 2.3 0 1 0 -4.6 0M403.50 115.9a2.3 2.3 0 1 0 4.6 0a2.3 2.3 0 1 0 -4.6 0M429.84 153.7a2.3 2.3 0 1 0 4.6 0a2.3 2.3 0 1 0 -4.6 0M438.87 147.1a2.3 2.3 0 1 0 4.6 0a2.3 2.3 0 1 0 -4.6 0M447.86 139.9a2.3 2.3 0 1 0 4.6 0a2.3 2.3 0 1 0 -4.6 0M421.58 146.5a2.3 2.3 0 1 0 4.6 0a2.3 2.3 0 1 0 -4.6 0M440.28 158.6a2.3 2.3 0 1 0 4.6 0a2.3 2.3 0 1 0 -4.6 0M402.10 104.5a2.3 2.3 0 1 0 4.6 0a2.3 2.3 0 1 0 -4.6 0M411.22 149.5a2.3 2.3 0 1 0 4.6 0a2.3 2.3 0 1 0 -4.6 0M407.35 118.6a2.3 2.3 0 1 0 4.6 0a2.3 2.3 0 1 0 -4.6 0M406.10 163.8a2.3 2.3 0 1 0 4.6 0a2.3 2.3 0 1 0 -4.6 0M413.43 156.9a2.3 2.3 0 1 0 4.6 0a2.3 2.3 0 1 0 -4.6 0M414.15 154.5a2.3 2.3 0 1 0 4.6 0a2.3 2.3 0 1 0 -4.6 0M409.69 122.8a2.3 2.3 0 1 0 4.6 0a2.3 2.3 0 1 0 -4.6 0M401.31 96.6a2.3 2.3 0 1 0 4.6 0a2.3 2.3 0 1 0 -4.6 0M415.43 141.6a2.3 2.3 0 1 0 4.6 0a2.3 2.3 0 1 0 -4.6 0M407.97 117.8a2.3 2.3 0 1 0 4.6 0a2.3 2.3 0 1 0 -4.6 0M414.11 161.7a2.3 2.3 0 1 0 4.6 0a2.3 2.3 0 1 0 -4.6 0M412.51 150.9a2.3 2.3 0 1 0 4.6 0a2.3 2.3 0 1 0 -4.6 0M402.13 96.8a2.3 2.3 0 1 0 4.6 0a2.3 2.3 0 1 0 -4.6 0M427.14 151.7a2.3 2.3 0 1 0 4.6 0a2.3 2.3 0 1 0 -4.6 0M408.74 101.3a2.3 2.3 0 1 0 4.6 0a2.3 2.3 0 1 0 -4.6 0M404.40 111.7a2.3 2.3 0 1 0 4.6 0a2.3 2.3 0 1 0 -4.6 0M419.76 127.2a2.3 2.3 0 1 0 4.6 0a2.3 2.3 0 1 0 -4.6 0M406.10 105.4a2.3 2.3 0 1 0 4.6 0a2.3 2.3 0 1 0 -4.6 0M400.46 165.3a2.3 2.3 0 1 0 4.6 0a2.3 2.3 0 1 0 -4.6 0M411.65 107.1a2.3 2.3 0 1 0 4.6 0a2.3 2.3 0 1 0 -4.6 0M400.39 102.7a2.3 2.3 0 1 0 4.6 0a2.3 2.3 0 1 0 -4.6 0M404.22 164.2a2.3 2.3 0 1 0 4.6 0a2.3 2.3 0 1 0 -4.6 0M412.05 152.5a2.3 2.3 0 1 0 4.6 0a2.3 2.3 0 1 0 -4.6 0M417.46 103.3a2.3 2.3 0 1 0 4.6 0a2.3 2.3 0 1 0 -4.6 0M420.61 159.9a2.3 2.3 0 1 0 4.6 0a2.3 2.3 0 1 0 -4.6 0M427.32 156.0a2.3 2.3 0 1 0 4.6 0a2.3 2.3 0 1 0 -4.6 0M417.33 163.3a2.3 2.3 0 1 0 4.6 0a2.3 2.3 0 1 0 -4.6 0M398.79 90.8a2.3 2.3 0 1 0 4.6 0a2.3 2.3 0 1 0 -4.6 0M439.65 159.3a2.3 2.3 0 1 0 4.6 0a2.3 2.3 0 1 0 -4.6 0M413.05 122.3a2.3 2.3 0 1 0 4.6 0a2.3 2.3 0 1 0 -4.6 0M444.62 146.0a2.3 2.3 0 1 0 4.6 0a2.3 2.3 0 1 0 -4.6 0M414.76 152.5a2.3 2.3 0 1 0 4.6 0a2.3 2.3 0 1 0 -4.6 0M423.16 144.8a2.3 2.3 0 1 0 4.6 0a2.3 2.3 0 1 0 -4.6 0M458.90 140.2a2.3 2.3 0 1 0 4.6 0a2.3 2.3 0 1 0 -4.6 0M398.02 78.0a2.3 2.3 0 1 0 4.6 0a2.3 2.3 0 1 0 -4.6 0M412.07 146.3a2.3 2.3 0 1 0 4.6 0a2.3 2.3 0 1 0 -4.6 0M416.99 114.1a2.3 2.3 0 1 0 4.6 0a2.3 2.3 0 1 0 -4.6 0M405.38 97.1a2.3 2.3 0 1 0 4.6 0a2.3 2.3 0 1 0 -4.6 0M421.61 139.6a2.3 2.3 0 1 0 4.6 0a2.3 2.3 0 1 0 -4.6 0M434.48 129.2a2.3 2.3 0 1 0 4.6 0a2.3 2.3 0 1 0 -4.6 0M403.19 91.5a2.3 2.3 0 1 0 4.6 0a2.3 2.3 0 1 0 -4.6 0M408.31 112.5a2.3 2.3 0 1 0 4.6 0a2.3 2.3 0 1 0 -4.6 0M417.29 159.5a2.3 2.3 0 1 0 4.6 0a2.3 2.3 0 1 0 -4.6 0M428.09 130.0a2.3 2.3 0 1 0 4.6 0a2.3 2.3 0 1 0 -4.6 0M425.25 160.6a2.3 2.3 0 1 0 4.6 0a2.3 2.3 0 1 0 -4.6 0M438.33 132.8a2.3 2.3 0 1 0 4.6 0a2.3 2.3 0 1 0 -4.6 0M408.68 104.4a2.3 2.3 0 1 0 4.6 0a2.3 2.3 0 1 0 -4.6 0M435.25 119.7a2.3 2.3 0 1 0 4.6 0a2.3 2.3 0 1 0 -4.6 0M420.72 147.6a2.3 2.3 0 1 0 4.6 0a2.3 2.3 0 1 0 -4.6 0M405.14 83.9a2.3 2.3 0 1 0 4.6 0a2.3 2.3 0 1 0 -4.6 0M405.61 105.9a2.3 2.3 0 1 0 4.6 0a2.3 2.3 0 1 0 -4.6 0M425.16 106.3a2.3 2.3 0 1 0 4.6 0a2.3 2.3 0 1 0 -4.6 0M429.00 134.3a2.3 2.3 0 1 0 4.6 0a2.3 2.3 0 1 0 -4.6 0M425.62 138.1a2.3 2.3 0 1 0 4.6 0a2.3 2.3 0 1 0 -4.6 0M477.27 110.9a2.3 2.3 0 1 0 4.6 0a2.3 2.3 0 1 0 -4.6 0M436.53 153.1a2.3 2.3 0 1 0 4.6 0a2.3 2.3 0 1 0 -4.6 0M398.89 88.3a2.3 2.3 0 1 0 4.6 0a2.3 2.3 0 1 0 -4.6 0M415.11 113.6a2.3 2.3 0 1 0 4.6 0a2.3 2.3 0 1 0 -4.6 0M404.78 90.0a2.3 2.3 0 1 0 4.6 0a2.3 2.3 0 1 0 -4.6 0M400.21 78.3a2.3 2.3 0 1 0 4.6 0a2.3 2.3 0 1 0 -4.6 0M413.02 124.8a2.3 2.3 0 1 0 4.6 0a2.3 2.3 0 1 0 -4.6 0M415.78 136.5a2.3 2.3 0 1 0 4.6 0a2.3 2.3 0 1 0 -4.6 0M421.52 148.6a2.3 2.3 0 1 0 4.6 0a2.3 2.3 0 1 0 -4.6 0M406.80 125.9a2.3 2.3 0 1 0 4.6 0a2.3 2.3 0 1 0 -4.6 0M451.33 156.7a2.3 2.3 0 1 0 4.6 0a2.3 2.3 0 1 0 -4.6 0M410.52 166.2a2.3 2.3 0 1 0 4.6 0a2.3 2.3 0 1 0 -4.6 0M421.06 127.4a2.3 2.3 0 1 0 4.6 0a2.3 2.3 0 1 0 -4.6 0M438.07 119.4a2.3 2.3 0 1 0 4.6 0a2.3 2.3 0 1 0 -4.6 0M414.75 122.0a2.3 2.3 0 1 0 4.6 0a2.3 2.3 0 1 0 -4.6 0M402.85 107.4a2.3 2.3 0 1 0 4.6 0a2.3 2.3 0 1 0 -4.6 0M433.69 159.0a2.3 2.3 0 1 0 4.6 0a2.3 2.3 0 1 0 -4.6 0M420.41 118.0a2.3 2.3 0 1 0 4.6 0a2.3 2.3 0 1 0 -4.6 0M428.42 137.8a2.3 2.3 0 1 0 4.6 0a2.3 2.3 0 1 0 -4.6 0M415.07 118.9a2.3 2.3 0 1 0 4.6 0a2.3 2.3 0 1 0 -4.6 0M409.97 124.0a2.3 2.3 0 1 0 4.6 0a2.3 2.3 0 1 0 -4.6 0M443.44 143.4a2.3 2.3 0 1 0 4.6 0a2.3 2.3 0 1 0 -4.6 0M418.96 150.7a2.3 2.3 0 1 0 4.6 0a2.3 2.3 0 1 0 -4.6 0M410.43 119.0a2.3 2.3 0 1 0 4.6 0a2.3 2.3 0 1 0 -4.6 0M423.21 152.4a2.3 2.3 0 1 0 4.6 0a2.3 2.3 0 1 0 -4.6 0M427.22 158.3a2.3 2.3 0 1 0 4.6 0a2.3 2.3 0 1 0 -4.6 0M422.49 158.7a2.3 2.3 0 1 0 4.6 0a2.3 2.3 0 1 0 -4.6 0M402.58 117.3a2.3 2.3 0 1 0 4.6 0a2.3 2.3 0 1 0 -4.6 0M463.71 152.0a2.3 2.3 0 1 0 4.6 0a2.3 2.3 0 1 0 -4.6 0M434.35 152.7a2.3 2.3 0 1 0 4.6 0a2.3 2.3 0 1 0 -4.6 0M422.06 131.1a2.3 2.3 0 1 0 4.6 0a2.3 2.3 0 1 0 -4.6 0M454.48 140.3a2.3 2.3 0 1 0 4.6 0a2.3 2.3 0 1 0 -4.6 0M408.52 136.5a2.3 2.3 0 1 0 4.6 0a2.3 2.3 0 1 0 -4.6 0M405.14 110.1a2.3 2.3 0 1 0 4.6 0a2.3 2.3 0 1 0 -4.6 0M414.80 140.3a2.3 2.3 0 1 0 4.6 0a2.3 2.3 0 1 0 -4.6 0M398.75 85.6a2.3 2.3 0 1 0 4.6 0a2.3 2.3 0 1 0 -4.6 0M459.84 157.4a2.3 2.3 0 1 0 4.6 0a2.3 2.3 0 1 0 -4.6 0M436.61 138.7a2.3 2.3 0 1 0 4.6 0a2.3 2.3 0 1 0 -4.6 0M402.62 118.1a2.3 2.3 0 1 0 4.6 0a2.3 2.3 0 1 0 -4.6 0M413.12 147.7a2.3 2.3 0 1 0 4.6 0a2.3 2.3 0 1 0 -4.6 0M466.18 157.9a2.3 2.3 0 1 0 4.6 0a2.3 2.3 0 1 0 -4.6 0M432.43 147.6a2.3 2.3 0 1 0 4.6 0a2.3 2.3 0 1 0 -4.6 0M401.40 109.5a2.3 2.3 0 1 0 4.6 0a2.3 2.3 0 1 0 -4.6 0M405.18 92.0a2.3 2.3 0 1 0 4.6 0a2.3 2.3 0 1 0 -4.6 0M421.18 143.6a2.3 2.3 0 1 0 4.6 0a2.3 2.3 0 1 0 -4.6 0M410.67 138.9a2.3 2.3 0 1 0 4.6 0a2.3 2.3 0 1 0 -4.6 0M403.65 92.4a2.3 2.3 0 1 0 4.6 0a2.3 2.3 0 1 0 -4.6 0M429.16 121.2a2.3 2.3 0 1 0 4.6 0a2.3 2.3 0 1 0 -4.6 0M417.10 154.1a2.3 2.3 0 1 0 4.6 0a2.3 2.3 0 1 0 -4.6 0M406.82 70.6a2.3 2.3 0 1 0 4.6 0a2.3 2.3 0 1 0 -4.6 0M422.60 160.9a2.3 2.3 0 1 0 4.6 0a2.3 2.3 0 1 0 -4.6 0M435.84 128.1a2.3 2.3 0 1 0 4.6 0a2.3 2.3 0 1 0 -4.6 0M420.50 152.0a2.3 2.3 0 1 0 4.6 0a2.3 2.3 0 1 0 -4.6 0M412.98 166.6a2.3 2.3 0 1 0 4.6 0a2.3 2.3 0 1 0 -4.6 0M410.43 143.4a2.3 2.3 0 1 0 4.6 0a2.3 2.3 0 1 0 -4.6 0M422.12 101.7a2.3 2.3 0 1 0 4.6 0a2.3 2.3 0 1 0 -4.6 0M409.28 131.3a2.3 2.3 0 1 0 4.6 0a2.3 2.3 0 1 0 -4.6 0M399.86 69.8a2.3 2.3 0 1 0 4.6 0a2.3 2.3 0 1 0 -4.6 0M403.13 100.9a2.3 2.3 0 1 0 4.6 0a2.3 2.3 0 1 0 -4.6 0M427.12 133.4a2.3 2.3 0 1 0 4.6 0a2.3 2.3 0 1 0 -4.6 0M402.44 166.2a2.3 2.3 0 1 0 4.6 0a2.3 2.3 0 1 0 -4.6 0M440.28 136.6a2.3 2.3 0 1 0 4.6 0a2.3 2.3 0 1 0 -4.6 0M434.38 164.6a2.3 2.3 0 1 0 4.6 0a2.3 2.3 0 1 0 -4.6 0M427.03 138.7a2.3 2.3 0 1 0 4.6 0a2.3 2.3 0 1 0 -4.6 0M425.52 81.9a2.3 2.3 0 1 0 4.6 0a2.3 2.3 0 1 0 -4.6 0M419.35 109.1a2.3 2.3 0 1 0 4.6 0a2.3 2.3 0 1 0 -4.6 0M463.41 136.4a2.3 2.3 0 1 0 4.6 0a2.3 2.3 0 1 0 -4.6 0M454.05 136.3a2.3 2.3 0 1 0 4.6 0a2.3 2.3 0 1 0 -4.6 0M429.97 145.6a2.3 2.3 0 1 0 4.6 0a2.3 2.3 0 1 0 -4.6 0M445.24 134.1a2.3 2.3 0 1 0 4.6 0a2.3 2.3 0 1 0 -4.6 0M435.87 156.3a2.3 2.3 0 1 0 4.6 0a2.3 2.3 0 1 0 -4.6 0M403.97 114.4a2.3 2.3 0 1 0 4.6 0a2.3 2.3 0 1 0 -4.6 0M413.78 129.4a2.3 2.3 0 1 0 4.6 0a2.3 2.3 0 1 0 -4.6 0M431.23 126.0a2.3 2.3 0 1 0 4.6 0a2.3 2.3 0 1 0 -4.6 0M397.99 109.1a2.3 2.3 0 1 0 4.6 0a2.3 2.3 0 1 0 -4.6 0M416.72 158.7a2.3 2.3 0 1 0 4.6 0a2.3 2.3 0 1 0 -4.6 0M399.84 107.4a2.3 2.3 0 1 0 4.6 0a2.3 2.3 0 1 0 -4.6 0M414.74 163.4a2.3 2.3 0 1 0 4.6 0a2.3 2.3 0 1 0 -4.6 0M416.35 143.4a2.3 2.3 0 1 0 4.6 0a2.3 2.3 0 1 0 -4.6 0M414.09 136.9a2.3 2.3 0 1 0 4.6 0a2.3 2.3 0 1 0 -4.6 0M417.83 116.9a2.3 2.3 0 1 0 4.6 0a2.3 2.3 0 1 0 -4.6 0M427.08 116.4a2.3 2.3 0 1 0 4.6 0a2.3 2.3 0 1 0 -4.6 0M403.70 101.1a2.3 2.3 0 1 0 4.6 0a2.3 2.3 0 1 0 -4.6 0M458.65 149.1a2.3 2.3 0 1 0 4.6 0a2.3 2.3 0 1 0 -4.6 0M401.52 111.3a2.3 2.3 0 1 0 4.6 0a2.3 2.3 0 1 0 -4.6 0M423.44 138.5a2.3 2.3 0 1 0 4.6 0a2.3 2.3 0 1 0 -4.6 0M416.05 123.8a2.3 2.3 0 1 0 4.6 0a2.3 2.3 0 1 0 -4.6 0M417.51 133.1a2.3 2.3 0 1 0 4.6 0a2.3 2.3 0 1 0 -4.6 0M422.36 112.3a2.3 2.3 0 1 0 4.6 0a2.3 2.3 0 1 0 -4.6 0M429.67 155.8a2.3 2.3 0 1 0 4.6 0a2.3 2.3 0 1 0 -4.6 0M399.09 113.3a2.3 2.3 0 1 0 4.6 0a2.3 2.3 0 1 0 -4.6 0M401.83 79.0a2.3 2.3 0 1 0 4.6 0a2.3 2.3 0 1 0 -4.6 0M428.37 103.9a2.3 2.3 0 1 0 4.6 0a2.3 2.3 0 1 0 -4.6 0M412.48 132.7a2.3 2.3 0 1 0 4.6 0a2.3 2.3 0 1 0 -4.6 0M429.37 140.3a2.3 2.3 0 1 0 4.6 0a2.3 2.3 0 1 0 -4.6 0M418.38 138.8a2.3 2.3 0 1 0 4.6 0a2.3 2.3 0 1 0 -4.6 0M411.28 98.4a2.3 2.3 0 1 0 4.6 0a2.3 2.3 0 1 0 -4.6 0M413.67 155.8a2.3 2.3 0 1 0 4.6 0a2.3 2.3 0 1 0 -4.6 0M397.98 65.4a2.3 2.3 0 1 0 4.6 0a2.3 2.3 0 1 0 -4.6 0M417.20 144.2a2.3 2.3 0 1 0 4.6 0a2.3 2.3 0 1 0 -4.6 0M412.74 103.7a2.3 2.3 0 1 0 4.6 0a2.3 2.3 0 1 0 -4.6 0M399.85 82.4a2.3 2.3 0 1 0 4.6 0a2.3 2.3 0 1 0 -4.6 0M408.30 111.7a2.3 2.3 0 1 0 4.6 0a2.3 2.3 0 1 0 -4.6 0M420.85 104.3a2.3 2.3 0 1 0 4.6 0a2.3 2.3 0 1 0 -4.6 0M412.78 113.9a2.3 2.3 0 1 0 4.6 0a2.3 2.3 0 1 0 -4.6 0M433.87 146.6a2.3 2.3 0 1 0 4.6 0a2.3 2.3 0 1 0 -4.6 0M470.72 133.3a2.3 2.3 0 1 0 4.6 0a2.3 2.3 0 1 0 -4.6 0M407.74 118.0a2.3 2.3 0 1 0 4.6 0a2.3 2.3 0 1 0 -4.6 0M413.95 141.4a2.3 2.3 0 1 0 4.6 0a2.3 2.3 0 1 0 -4.6 0M419.33 109.8a2.3 2.3 0 1 0 4.6 0a2.3 2.3 0 1 0 -4.6 0M405.59 105.3a2.3 2.3 0 1 0 4.6 0a2.3 2.3 0 1 0 -4.6 0M438.14 156.0a2.3 2.3 0 1 0 4.6 0a2.3 2.3 0 1 0 -4.6 0M413.37 122.3a2.3 2.3 0 1 0 4.6 0a2.3 2.3 0 1 0 -4.6 0M413.94 138.4a2.3 2.3 0 1 0 4.6 0a2.3 2.3 0 1 0 -4.6 0M458.68 161.7a2.3 2.3 0 1 0 4.6 0a2.3 2.3 0 1 0 -4.6 0M418.22 139.5a2.3 2.3 0 1 0 4.6 0a2.3 2.3 0 1 0 -4.6 0M425.94 121.6a2.3 2.3 0 1 0 4.6 0a2.3 2.3 0 1 0 -4.6 0M423.47 159.5a2.3 2.3 0 1 0 4.6 0a2.3 2.3 0 1 0 -4.6 0M411.81 114.6a2.3 2.3 0 1 0 4.6 0a2.3 2.3 0 1 0 -4.6 0M421.31 159.2a2.3 2.3 0 1 0 4.6 0a2.3 2.3 0 1 0 -4.6 0M406.74 116.1a2.3 2.3 0 1 0 4.6 0a2.3 2.3 0 1 0 -4.6 0M437.27 141.7a2.3 2.3 0 1 0 4.6 0a2.3 2.3 0 1 0 -4.6 0M437.50 142.9a2.3 2.3 0 1 0 4.6 0a2.3 2.3 0 1 0 -4.6 0M402.56 96.6a2.3 2.3 0 1 0 4.6 0a2.3 2.3 0 1 0 -4.6 0M416.72 131.3a2.3 2.3 0 1 0 4.6 0a2.3 2.3 0 1 0 -4.6 0M435.16 145.1a2.3 2.3 0 1 0 4.6 0a2.3 2.3 0 1 0 -4.6 0M418.92 161.1a2.3 2.3 0 1 0 4.6 0a2.3 2.3 0 1 0 -4.6 0M403.13 112.6a2.3 2.3 0 1 0 4.6 0a2.3 2.3 0 1 0 -4.6 0M473.20 151.9a2.3 2.3 0 1 0 4.6 0a2.3 2.3 0 1 0 -4.6 0M405.08 165.2a2.3 2.3 0 1 0 4.6 0a2.3 2.3 0 1 0 -4.6 0M442.55 149.2a2.3 2.3 0 1 0 4.6 0a2.3 2.3 0 1 0 -4.6 0M415.71 113.0a2.3 2.3 0 1 0 4.6 0a2.3 2.3 0 1 0 -4.6 0M458.41 138.1a2.3 2.3 0 1 0 4.6 0a2.3 2.3 0 1 0 -4.6 0M429.82 155.7a2.3 2.3 0 1 0 4.6 0a2.3 2.3 0 1 0 -4.6 0M422.65 162.5a2.3 2.3 0 1 0 4.6 0a2.3 2.3 0 1 0 -4.6 0M408.45 83.5a2.3 2.3 0 1 0 4.6 0a2.3 2.3 0 1 0 -4.6 0M438.58 154.7a2.3 2.3 0 1 0 4.6 0a2.3 2.3 0 1 0 -4.6 0M435.29 116.8a2.3 2.3 0 1 0 4.6 0a2.3 2.3 0 1 0 -4.6 0M406.13 127.3a2.3 2.3 0 1 0 4.6 0a2.3 2.3 0 1 0 -4.6 0M440.98 136.3a2.3 2.3 0 1 0 4.6 0a2.3 2.3 0 1 0 -4.6 0M411.32 146.3a2.3 2.3 0 1 0 4.6 0a2.3 2.3 0 1 0 -4.6 0M419.93 100.9a2.3 2.3 0 1 0 4.6 0a2.3 2.3 0 1 0 -4.6 0M414.07 132.1a2.3 2.3 0 1 0 4.6 0a2.3 2.3 0 1 0 -4.6 0M427.95 141.6a2.3 2.3 0 1 0 4.6 0a2.3 2.3 0 1 0 -4.6 0M400.11 92.9a2.3 2.3 0 1 0 4.6 0a2.3 2.3 0 1 0 -4.6 0M397.77 165.7a2.3 2.3 0 1 0 4.6 0a2.3 2.3 0 1 0 -4.6 0M407.76 108.0a2.3 2.3 0 1 0 4.6 0a2.3 2.3 0 1 0 -4.6 0M420.90 151.9a2.3 2.3 0 1 0 4.6 0a2.3 2.3 0 1 0 -4.6 0M408.79 130.8a2.3 2.3 0 1 0 4.6 0a2.3 2.3 0 1 0 -4.6 0M404.87 165.1a2.3 2.3 0 1 0 4.6 0a2.3 2.3 0 1 0 -4.6 0M464.31 142.6a2.3 2.3 0 1 0 4.6 0a2.3 2.3 0 1 0 -4.6 0M450.07 163.2a2.3 2.3 0 1 0 4.6 0a2.3 2.3 0 1 0 -4.6 0M441.75 121.5a2.3 2.3 0 1 0 4.6 0a2.3 2.3 0 1 0 -4.6 0M429.43 128.5a2.3 2.3 0 1 0 4.6 0a2.3 2.3 0 1 0 -4.6 0M406.57 112.0a2.3 2.3 0 1 0 4.6 0a2.3 2.3 0 1 0 -4.6 0M398.37 166.7a2.3 2.3 0 1 0 4.6 0a2.3 2.3 0 1 0 -4.6 0M439.43 147.0a2.3 2.3 0 1 0 4.6 0a2.3 2.3 0 1 0 -4.6 0M405.14 69.4a2.3 2.3 0 1 0 4.6 0a2.3 2.3 0 1 0 -4.6 0M455.33 131.9a2.3 2.3 0 1 0 4.6 0a2.3 2.3 0 1 0 -4.6 0M403.14 75.0a2.3 2.3 0 1 0 4.6 0a2.3 2.3 0 1 0 -4.6 0M477.11 145.4a2.3 2.3 0 1 0 4.6 0a2.3 2.3 0 1 0 -4.6 0M439.54 138.7a2.3 2.3 0 1 0 4.6 0a2.3 2.3 0 1 0 -4.6 0M410.98 160.8a2.3 2.3 0 1 0 4.6 0a2.3 2.3 0 1 0 -4.6 0M417.26 157.5a2.3 2.3 0 1 0 4.6 0a2.3 2.3 0 1 0 -4.6 0M401.79 103.4a2.3 2.3 0 1 0 4.6 0a2.3 2.3 0 1 0 -4.6 0M404.93 98.2a2.3 2.3 0 1 0 4.6 0a2.3 2.3 0 1 0 -4.6 0M461.84 142.9a2.3 2.3 0 1 0 4.6 0a2.3 2.3 0 1 0 -4.6 0M422.54 140.8a2.3 2.3 0 1 0 4.6 0a2.3 2.3 0 1 0 -4.6 0M415.75 136.9a2.3 2.3 0 1 0 4.6 0a2.3 2.3 0 1 0 -4.6 0M425.21 128.4a2.3 2.3 0 1 0 4.6 0a2.3 2.3 0 1 0 -4.6 0M398.68 85.1a2.3 2.3 0 1 0 4.6 0a2.3 2.3 0 1 0 -4.6 0M400.25 73.1a2.3 2.3 0 1 0 4.6 0a2.3 2.3 0 1 0 -4.6 0M444.54 161.0a2.3 2.3 0 1 0 4.6 0a2.3 2.3 0 1 0 -4.6 0M411.59 130.4a2.3 2.3 0 1 0 4.6 0a2.3 2.3 0 1 0 -4.6 0M460.96 149.8a2.3 2.3 0 1 0 4.6 0a2.3 2.3 0 1 0 -4.6 0M404.09 96.8a2.3 2.3 0 1 0 4.6 0a2.3 2.3 0 1 0 -4.6 0M447.45 164.2a2.3 2.3 0 1 0 4.6 0a2.3 2.3 0 1 0 -4.6 0M439.07 153.1a2.3 2.3 0 1 0 4.6 0a2.3 2.3 0 1 0 -4.6 0M401.05 102.8a2.3 2.3 0 1 0 4.6 0a2.3 2.3 0 1 0 -4.6 0M401.95 120.6a2.3 2.3 0 1 0 4.6 0a2.3 2.3 0 1 0 -4.6 0M417.39 129.0a2.3 2.3 0 1 0 4.6 0a2.3 2.3 0 1 0 -4.6 0M406.05 93.3a2.3 2.3 0 1 0 4.6 0a2.3 2.3 0 1 0 -4.6 0M427.35 156.0a2.3 2.3 0 1 0 4.6 0a2.3 2.3 0 1 0 -4.6 0M430.36 154.6a2.3 2.3 0 1 0 4.6 0a2.3 2.3 0 1 0 -4.6 0M399.15 96.9a2.3 2.3 0 1 0 4.6 0a2.3 2.3 0 1 0 -4.6 0M421.29 134.4a2.3 2.3 0 1 0 4.6 0a2.3 2.3 0 1 0 -4.6 0M418.80 134.1a2.3 2.3 0 1 0 4.6 0a2.3 2.3 0 1 0 -4.6 0M406.56 109.7a2.3 2.3 0 1 0 4.6 0a2.3 2.3 0 1 0 -4.6 0M412.32 125.2a2.3 2.3 0 1 0 4.6 0a2.3 2.3 0 1 0 -4.6 0M406.75 97.4a2.3 2.3 0 1 0 4.6 0a2.3 2.3 0 1 0 -4.6 0M438.32 156.6a2.3 2.3 0 1 0 4.6 0a2.3 2.3 0 1 0 -4.6 0M414.17 131.5a2.3 2.3 0 1 0 4.6 0a2.3 2.3 0 1 0 -4.6 0M410.64 121.0a2.3 2.3 0 1 0 4.6 0a2.3 2.3 0 1 0 -4.6 0M409.21 164.7a2.3 2.3 0 1 0 4.6 0a2.3 2.3 0 1 0 -4.6 0M431.06 140.2a2.3 2.3 0 1 0 4.6 0a2.3 2.3 0 1 0 -4.6 0M420.90 155.6a2.3 2.3 0 1 0 4.6 0a2.3 2.3 0 1 0 -4.6 0M413.82 113.2a2.3 2.3 0 1 0 4.6 0a2.3 2.3 0 1 0 -4.6 0M415.88 126.8a2.3 2.3 0 1 0 4.6 0a2.3 2.3 0 1 0 -4.6 0M416.90 154.8a2.3 2.3 0 1 0 4.6 0a2.3 2.3 0 1 0 -4.6 0M412.33 154.3a2.3 2.3 0 1 0 4.6 0a2.3 2.3 0 1 0 -4.6 0M455.12 153.9a2.3 2.3 0 1 0 4.6 0a2.3 2.3 0 1 0 -4.6 0M410.39 100.4a2.3 2.3 0 1 0 4.6 0a2.3 2.3 0 1 0 -4.6 0M422.09 157.6a2.3 2.3 0 1 0 4.6 0a2.3 2.3 0 1 0 -4.6 0M401.48 166.3a2.3 2.3 0 1 0 4.6 0a2.3 2.3 0 1 0 -4.6 0" fill="none" stroke="#1a476f" stroke-width="1.3"/>
<path d="M391 21.5V174.5H684" fill="none" stroke="#404040" stroke-width="1.1"/>
<line x1="385.5" y1="165.4" x2="391" y2="165.4" stroke="#404040" stroke-width="1.1"/>
<text transform="translate(380.50 165.40) scale(0.95 1) rotate(-90)" text-anchor="middle" class="tk">0</text>
<line x1="385.5" y1="120.4" x2="391" y2="120.4" stroke="#404040" stroke-width="1.1"/>
<text transform="translate(380.50 120.40) scale(0.95 1) rotate(-90)" text-anchor="middle" class="tk">.5</text>
<line x1="385.5" y1="75.4" x2="391" y2="75.4" stroke="#404040" stroke-width="1.1"/>
<text transform="translate(380.50 75.40) scale(0.95 1) rotate(-90)" text-anchor="middle" class="tk">1</text>
<line x1="385.5" y1="30.4" x2="391" y2="30.4" stroke="#404040" stroke-width="1.1"/>
<text transform="translate(380.50 30.40) scale(0.95 1) rotate(-90)" text-anchor="middle" class="tk">1.5</text>
<line x1="399.8" y1="174.5" x2="399.8" y2="179.7" stroke="#404040" stroke-width="1.1"/>
<text transform="translate(399.80 195.90) scale(0.95 1)" text-anchor="middle" class="tk">0</text>
<line x1="468.7" y1="174.5" x2="468.7" y2="179.7" stroke="#404040" stroke-width="1.1"/>
<text transform="translate(468.68 195.90) scale(0.95 1)" text-anchor="middle" class="tk">2</text>
<line x1="537.6" y1="174.5" x2="537.6" y2="179.7" stroke="#404040" stroke-width="1.1"/>
<text transform="translate(537.56 195.90) scale(0.95 1)" text-anchor="middle" class="tk">4</text>
<line x1="606.4" y1="174.5" x2="606.4" y2="179.7" stroke="#404040" stroke-width="1.1"/>
<text transform="translate(606.44 195.90) scale(0.95 1)" text-anchor="middle" class="tk">6</text>
<line x1="675.3" y1="174.5" x2="675.3" y2="179.7" stroke="#404040" stroke-width="1.1"/>
<text transform="translate(675.32 195.90) scale(0.95 1)" text-anchor="middle" class="tk">8</text>
<text transform="translate(537.50 209.80) scale(0.95 1)" text-anchor="middle" class="at">rEPAP</text>
<text transform="translate(370.00 98.00) scale(0.95 1) rotate(-90)" text-anchor="middle" class="at">CFTI</text>
<text transform="translate(349.10 16.70) scale(0.95 1)" text-anchor="start" class="tt">CFTI = 0.1709 + 0.2106 rEPAP −0 .02326 rEPAP</text>
<text transform="translate(653.70 7.70) scale(0.88 1)" text-anchor="start" class="sp">2</text>
<text transform="translate(393.40 226.70) scale(0.95 1)" text-anchor="start" class="nt"><tspan font-style="italic">n</tspan> = 3293</text>
<text transform="translate(450.40 226.70) scale(0.93 1)" text-anchor="start" class="nt">RMSE = 0.2114</text>
<line x1="35.9" y1="422.1" x2="326.5" y2="422.1" stroke="#e6eef2" stroke-width="1"/>
<line x1="35.9" y1="389.6" x2="326.5" y2="389.6" stroke="#e6eef2" stroke-width="1"/>
<line x1="35.9" y1="357.1" x2="326.5" y2="357.1" stroke="#e6eef2" stroke-width="1"/>
<line x1="35.9" y1="324.6" x2="326.5" y2="324.6" stroke="#e6eef2" stroke-width="1"/>
<line x1="35.9" y1="292.1" x2="326.5" y2="292.1" stroke="#e6eef2" stroke-width="1"/>
<path d="M84.4 382.7 L87.7 381.5 L91.0 380.3 L94.4 379.2 L97.7 378.1 L101.0 377.0 L104.4 376.0 L107.7 375.0 L111.0 374.1 L114.4 373.2 L117.7 372.3 L121.0 371.5 L124.4 370.7 L127.7 370.0 L131.0 369.3 L134.4 368.6 L137.7 368.0 L141.0 367.4 L144.3 366.9 L147.7 366.4 L151.0 365.9 L154.3 365.5 L157.7 365.1 L161.0 364.7 L164.3 364.4 L167.7 364.1 L171.0 363.9 L174.3 363.7 L177.7 363.5 L181.0 363.4 L184.3 363.3 L187.7 363.3 L191.0 363.3 L194.3 363.3 L197.6 363.4 L201.0 363.5 L204.3 363.7 L207.6 363.9 L211.0 364.1 L214.3 364.4 L217.6 364.7 L221.0 365.0 L224.3 365.4 L227.6 365.9 L231.0 366.3 L234.3 366.8 L237.6 367.4 L241.0 368.0 L244.3 368.6 L247.6 369.2 L250.9 369.9 L254.3 370.7 L257.6 371.5 L260.9 372.3 L264.3 373.1 L267.6 374.0 L270.9 375.0 L274.3 375.9 L277.6 377.0 L280.9 378.0 L284.3 379.1" fill="none" stroke="#fa0505" stroke-width="3.3"/>

<path d="M42.0 340.0 L50.0 342.0 L58.0 355.0 L66.0 368.0 L74.0 385.0 L78.0 400.0 L75.0 412.0 L65.0 418.0 L55.0 423.0 L42.0 424.0Z" fill="#1a476f" stroke="#1a476f" stroke-width="1.5" stroke-linejoin="round"/>
<path d="M116.70 286.9a2.3 2.3 0 1 0 4.6 0a2.3 2.3 0 1 0 -4.6 0M123.70 286.9a2.3 2.3 0 1 0 4.6 0a2.3 2.3 0 1 0 -4.6 0M42.20 293.1a2.3 2.3 0 1 0 4.6 0a2.3 2.3 0 1 0 -4.6 0M42.20 299.3a2.3 2.3 0 1 0 4.6 0a2.3 2.3 0 1 0 -4.6 0M47.50 297.0a2.3 2.3 0 1 0 4.6 0a2.3 2.3 0 1 0 -4.6 0M49.50 297.0a2.3 2.3 0 1 0 4.6 0a2.3 2.3 0 1 0 -4.6 0M52.10 297.0a2.3 2.3 0 1 0 4.6 0a2.3 2.3 0 1 0 -4.6 0M53.40 291.1a2.3 2.3 0 1 0 4.6 0a2.3 2.3 0 1 0 -4.6 0M56.70 289.2a2.3 2.3 0 1 0 4.6 0a2.3 2.3 0 1 0 -4.6 0M60.60 300.1a2.3 2.3 0 1 0 4.6 0a2.3 2.3 0 1 0 -4.6 0M73.80 302.7a2.3 2.3 0 1 0 4.6 0a2.3 2.3 0 1 0 -4.6 0M92.20 290.5a2.3 2.3 0 1 0 4.6 0a2.3 2.3 0 1 0 -4.6 0M105.70 290.1a2.3 2.3 0 1 0 4.6 0a2.3 2.3 0 1 0 -4.6 0M98.70 298.1a2.3 2.3 0 1 0 4.6 0a2.3 2.3 0 1 0 -4.6 0M116.70 296.1a2.3 2.3 0 1 0 4.6 0a2.3 2.3 0 1 0 -4.6 0M96.50 306.6a2.3 2.3 0 1 0 4.6 0a2.3 2.3 0 1 0 -4.6 0M103.30 306.2a2.3 2.3 0 1 0 4.6 0a2.3 2.3 0 1 0 -4.6 0M105.30 305.6a2.3 2.3 0 1 0 4.6 0a2.3 2.3 0 1 0 -4.6 0M110.60 306.2a2.3 2.3 0 1 0 4.6 0a2.3 2.3 0 1 0 -4.6 0M103.30 308.9a2.3 2.3 0 1 0 4.6 0a2.3 2.3 0 1 0 -4.6 0M123.70 304.9a2.3 2.3 0 1 0 4.6 0a2.3 2.3 0 1 0 -4.6 0M72.50 309.3a2.3 2.3 0 1 0 4.6 0a2.3 2.3 0 1 0 -4.6 0M83.00 309.3a2.3 2.3 0 1 0 4.6 0a2.3 2.3 0 1 0 -4.6 0M91.50 311.5a2.3 2.3 0 1 0 4.6 0a2.3 2.3 0 1 0 -4.6 0M86.00 314.1a2.3 2.3 0 1 0 4.6 0a2.3 2.3 0 1 0 -4.6 0M91.20 316.8a2.3 2.3 0 1 0 4.6 0a2.3 2.3 0 1 0 -4.6 0M81.70 316.8a2.3 2.3 0 1 0 4.6 0a2.3 2.3 0 1 0 -4.6 0M74.40 315.4a2.3 2.3 0 1 0 4.6 0a2.3 2.3 0 1 0 -4.6 0M71.80 316.4a2.3 2.3 0 1 0 4.6 0a2.3 2.3 0 1 0 -4.6 0M77.70 317.7a2.3 2.3 0 1 0 4.6 0a2.3 2.3 0 1 0 -4.6 0M68.50 319.8a2.3 2.3 0 1 0 4.6 0a2.3 2.3 0 1 0 -4.6 0M80.30 320.3a2.3 2.3 0 1 0 4.6 0a2.3 2.3 0 1 0 -4.6 0M82.30 322.4a2.3 2.3 0 1 0 4.6 0a2.3 2.3 0 1 0 -4.6 0M75.10 323.3a2.3 2.3 0 1 0 4.6 0a2.3 2.3 0 1 0 -4.6 0M63.30 312.4a2.3 2.3 0 1 0 4.6 0a2.3 2.3 0 1 0 -4.6 0M56.70 310.2a2.3 2.3 0 1 0 4.6 0a2.3 2.3 0 1 0 -4.6 0M57.10 313.2a2.3 2.3 0 1 0 4.6 0a2.3 2.3 0 1 0 -4.6 0M49.20 308.2a2.3 2.3 0 1 0 4.6 0a2.3 2.3 0 1 0 -4.6 0M41.60 309.5a2.3 2.3 0 1 0 4.6 0a2.3 2.3 0 1 0 -4.6 0M46.80 314.8a2.3 2.3 0 1 0 4.6 0a2.3 2.3 0 1 0 -4.6 0M53.40 316.8a2.3 2.3 0 1 0 4.6 0a2.3 2.3 0 1 0 -4.6 0M60.60 318.7a2.3 2.3 0 1 0 4.6 0a2.3 2.3 0 1 0 -4.6 0M58.70 321.4a2.3 2.3 0 1 0 4.6 0a2.3 2.3 0 1 0 -4.6 0M61.90 322.0a2.3 2.3 0 1 0 4.6 0a2.3 2.3 0 1 0 -4.6 0M51.40 322.7a2.3 2.3 0 1 0 4.6 0a2.3 2.3 0 1 0 -4.6 0M106.00 323.3a2.3 2.3 0 1 0 4.6 0a2.3 2.3 0 1 0 -4.6 0M107.30 321.4a2.3 2.3 0 1 0 4.6 0a2.3 2.3 0 1 0 -4.6 0M123.00 322.7a2.3 2.3 0 1 0 4.6 0a2.3 2.3 0 1 0 -4.6 0M113.20 330.8a2.3 2.3 0 1 0 4.6 0a2.3 2.3 0 1 0 -4.6 0M88.90 329.2a2.3 2.3 0 1 0 4.6 0a2.3 2.3 0 1 0 -4.6 0M94.80 329.2a2.3 2.3 0 1 0 4.6 0a2.3 2.3 0 1 0 -4.6 0M98.10 334.9a2.3 2.3 0 1 0 4.6 0a2.3 2.3 0 1 0 -4.6 0M119.10 334.5a2.3 2.3 0 1 0 4.6 0a2.3 2.3 0 1 0 -4.6 0M117.80 337.1a2.3 2.3 0 1 0 4.6 0a2.3 2.3 0 1 0 -4.6 0M74.40 329.2a2.3 2.3 0 1 0 4.6 0a2.3 2.3 0 1 0 -4.6 0M74.40 334.2a2.3 2.3 0 1 0 4.6 0a2.3 2.3 0 1 0 -4.6 0M80.30 333.2a2.3 2.3 0 1 0 4.6 0a2.3 2.3 0 1 0 -4.6 0M84.30 333.2a2.3 2.3 0 1 0 4.6 0a2.3 2.3 0 1 0 -4.6 0M67.20 329.9a2.3 2.3 0 1 0 4.6 0a2.3 2.3 0 1 0 -4.6 0M68.50 335.8a2.3 2.3 0 1 0 4.6 0a2.3 2.3 0 1 0 -4.6 0M60.60 334.5a2.3 2.3 0 1 0 4.6 0a2.3 2.3 0 1 0 -4.6 0M192.40 287.0a2.3 2.3 0 1 0 4.6 0a2.3 2.3 0 1 0 -4.6 0M206.60 290.7a2.3 2.3 0 1 0 4.6 0a2.3 2.3 0 1 0 -4.6 0M118.40 296.3a2.3 2.3 0 1 0 4.6 0a2.3 2.3 0 1 0 -4.6 0M126.00 302.1a2.3 2.3 0 1 0 4.6 0a2.3 2.3 0 1 0 -4.6 0M142.20 306.7a2.3 2.3 0 1 0 4.6 0a2.3 2.3 0 1 0 -4.6 0M156.00 306.5a2.3 2.3 0 1 0 4.6 0a2.3 2.3 0 1 0 -4.6 0M126.00 311.8a2.3 2.3 0 1 0 4.6 0a2.3 2.3 0 1 0 -4.6 0M181.40 311.8a2.3 2.3 0 1 0 4.6 0a2.3 2.3 0 1 0 -4.6 0M142.20 318.2a2.3 2.3 0 1 0 4.6 0a2.3 2.3 0 1 0 -4.6 0M150.10 319.1a2.3 2.3 0 1 0 4.6 0a2.3 2.3 0 1 0 -4.6 0M126.20 321.8a2.3 2.3 0 1 0 4.6 0a2.3 2.3 0 1 0 -4.6 0M125.70 328.4a2.3 2.3 0 1 0 4.6 0a2.3 2.3 0 1 0 -4.6 0M142.80 330.4a2.3 2.3 0 1 0 4.6 0a2.3 2.3 0 1 0 -4.6 0M146.00 331.2a2.3 2.3 0 1 0 4.6 0a2.3 2.3 0 1 0 -4.6 0M156.00 332.7a2.3 2.3 0 1 0 4.6 0a2.3 2.3 0 1 0 -4.6 0M155.60 338.6a2.3 2.3 0 1 0 4.6 0a2.3 2.3 0 1 0 -4.6 0M179.70 337.3a2.3 2.3 0 1 0 4.6 0a2.3 2.3 0 1 0 -4.6 0M196.00 344.2a2.3 2.3 0 1 0 4.6 0a2.3 2.3 0 1 0 -4.6 0M119.10 338.6a2.3 2.3 0 1 0 4.6 0a2.3 2.3 0 1 0 -4.6 0M123.20 340.7a2.3 2.3 0 1 0 4.6 0a2.3 2.3 0 1 0 -4.6 0M126.20 341.4a2.3 2.3 0 1 0 4.6 0a2.3 2.3 0 1 0 -4.6 0M134.20 342.8a2.3 2.3 0 1 0 4.6 0a2.3 2.3 0 1 0 -4.6 0M137.70 341.4a2.3 2.3 0 1 0 4.6 0a2.3 2.3 0 1 0 -4.6 0M142.50 342.5a2.3 2.3 0 1 0 4.6 0a2.3 2.3 0 1 0 -4.6 0M146.40 342.1a2.3 2.3 0 1 0 4.6 0a2.3 2.3 0 1 0 -4.6 0M120.50 340.9a2.3 2.3 0 1 0 4.6 0a2.3 2.3 0 1 0 -4.6 0M139.90 341.9a2.3 2.3 0 1 0 4.6 0a2.3 2.3 0 1 0 -4.6 0M141.80 348.3a2.3 2.3 0 1 0 4.6 0a2.3 2.3 0 1 0 -4.6 0M146.40 347.8a2.3 2.3 0 1 0 4.6 0a2.3 2.3 0 1 0 -4.6 0M119.60 351.1a2.3 2.3 0 1 0 4.6 0a2.3 2.3 0 1 0 -4.6 0M163.10 351.5a2.3 2.3 0 1 0 4.6 0a2.3 2.3 0 1 0 -4.6 0M129.70 353.9a2.3 2.3 0 1 0 4.6 0a2.3 2.3 0 1 0 -4.6 0M134.40 353.9a2.3 2.3 0 1 0 4.6 0a2.3 2.3 0 1 0 -4.6 0M138.10 353.0a2.3 2.3 0 1 0 4.6 0a2.3 2.3 0 1 0 -4.6 0M144.60 354.8a2.3 2.3 0 1 0 4.6 0a2.3 2.3 0 1 0 -4.6 0M182.50 354.4a2.3 2.3 0 1 0 4.6 0a2.3 2.3 0 1 0 -4.6 0M191.40 353.0a2.3 2.3 0 1 0 4.6 0a2.3 2.3 0 1 0 -4.6 0M123.30 357.6a2.3 2.3 0 1 0 4.6 0a2.3 2.3 0 1 0 -4.6 0M120.50 362.2a2.3 2.3 0 1 0 4.6 0a2.3 2.3 0 1 0 -4.6 0M139.90 361.3a2.3 2.3 0 1 0 4.6 0a2.3 2.3 0 1 0 -4.6 0M158.10 358.5a2.3 2.3 0 1 0 4.6 0a2.3 2.3 0 1 0 -4.6 0M160.30 360.0a2.3 2.3 0 1 0 4.6 0a2.3 2.3 0 1 0 -4.6 0M185.30 358.1a2.3 2.3 0 1 0 4.6 0a2.3 2.3 0 1 0 -4.6 0M127.90 365.9a2.3 2.3 0 1 0 4.6 0a2.3 2.3 0 1 0 -4.6 0M133.40 369.3a2.3 2.3 0 1 0 4.6 0a2.3 2.3 0 1 0 -4.6 0M147.30 368.1a2.3 2.3 0 1 0 4.6 0a2.3 2.3 0 1 0 -4.6 0M150.10 364.4a2.3 2.3 0 1 0 4.6 0a2.3 2.3 0 1 0 -4.6 0M154.70 365.0a2.3 2.3 0 1 0 4.6 0a2.3 2.3 0 1 0 -4.6 0M157.50 364.1a2.3 2.3 0 1 0 4.6 0a2.3 2.3 0 1 0 -4.6 0M165.80 364.4a2.3 2.3 0 1 0 4.6 0a2.3 2.3 0 1 0 -4.6 0M159.40 369.6a2.3 2.3 0 1 0 4.6 0a2.3 2.3 0 1 0 -4.6 0M164.00 368.7a2.3 2.3 0 1 0 4.6 0a2.3 2.3 0 1 0 -4.6 0M184.00 368.1a2.3 2.3 0 1 0 4.6 0a2.3 2.3 0 1 0 -4.6 0M186.20 365.9a2.3 2.3 0 1 0 4.6 0a2.3 2.3 0 1 0 -4.6 0M196.40 368.1a2.3 2.3 0 1 0 4.6 0a2.3 2.3 0 1 0 -4.6 0M192.70 371.1a2.3 2.3 0 1 0 4.6 0a2.3 2.3 0 1 0 -4.6 0M206.60 369.6a2.3 2.3 0 1 0 4.6 0a2.3 2.3 0 1 0 -4.6 0M135.30 376.1a2.3 2.3 0 1 0 4.6 0a2.3 2.3 0 1 0 -4.6 0M150.10 377.0a2.3 2.3 0 1 0 4.6 0a2.3 2.3 0 1 0 -4.6 0M155.70 378.0a2.3 2.3 0 1 0 4.6 0a2.3 2.3 0 1 0 -4.6 0M163.10 375.2a2.3 2.3 0 1 0 4.6 0a2.3 2.3 0 1 0 -4.6 0M169.60 376.1a2.3 2.3 0 1 0 4.6 0a2.3 2.3 0 1 0 -4.6 0M171.40 378.9a2.3 2.3 0 1 0 4.6 0a2.3 2.3 0 1 0 -4.6 0M175.10 378.9a2.3 2.3 0 1 0 4.6 0a2.3 2.3 0 1 0 -4.6 0M183.40 378.0a2.3 2.3 0 1 0 4.6 0a2.3 2.3 0 1 0 -4.6 0M188.10 378.9a2.3 2.3 0 1 0 4.6 0a2.3 2.3 0 1 0 -4.6 0M192.70 379.8a2.3 2.3 0 1 0 4.6 0a2.3 2.3 0 1 0 -4.6 0M197.30 377.0a2.3 2.3 0 1 0 4.6 0a2.3 2.3 0 1 0 -4.6 0M201.00 376.1a2.3 2.3 0 1 0 4.6 0a2.3 2.3 0 1 0 -4.6 0M120.50 379.8a2.3 2.3 0 1 0 4.6 0a2.3 2.3 0 1 0 -4.6 0M124.20 379.8a2.3 2.3 0 1 0 4.6 0a2.3 2.3 0 1 0 -4.6 0M127.90 381.7a2.3 2.3 0 1 0 4.6 0a2.3 2.3 0 1 0 -4.6 0M134.40 380.7a2.3 2.3 0 1 0 4.6 0a2.3 2.3 0 1 0 -4.6 0M138.10 383.5a2.3 2.3 0 1 0 4.6 0a2.3 2.3 0 1 0 -4.6 0M140.80 385.4a2.3 2.3 0 1 0 4.6 0a2.3 2.3 0 1 0 -4.6 0M150.10 381.7a2.3 2.3 0 1 0 4.6 0a2.3 2.3 0 1 0 -4.6 0M151.00 386.3a2.3 2.3 0 1 0 4.6 0a2.3 2.3 0 1 0 -4.6 0M165.80 380.7a2.3 2.3 0 1 0 4.6 0a2.3 2.3 0 1 0 -4.6 0M164.90 384.4a2.3 2.3 0 1 0 4.6 0a2.3 2.3 0 1 0 -4.6 0M170.50 382.6a2.3 2.3 0 1 0 4.6 0a2.3 2.3 0 1 0 -4.6 0M173.30 385.4a2.3 2.3 0 1 0 4.6 0a2.3 2.3 0 1 0 -4.6 0M180.70 384.4a2.3 2.3 0 1 0 4.6 0a2.3 2.3 0 1 0 -4.6 0M177.00 387.2a2.3 2.3 0 1 0 4.6 0a2.3 2.3 0 1 0 -4.6 0M182.50 390.0a2.3 2.3 0 1 0 4.6 0a2.3 2.3 0 1 0 -4.6 0M190.80 383.5a2.3 2.3 0 1 0 4.6 0a2.3 2.3 0 1 0 -4.6 0M195.50 382.6a2.3 2.3 0 1 0 4.6 0a2.3 2.3 0 1 0 -4.6 0M199.20 384.4a2.3 2.3 0 1 0 4.6 0a2.3 2.3 0 1 0 -4.6 0M202.00 380.7a2.3 2.3 0 1 0 4.6 0a2.3 2.3 0 1 0 -4.6 0M200.10 388.1a2.3 2.3 0 1 0 4.6 0a2.3 2.3 0 1 0 -4.6 0M119.60 384.4a2.3 2.3 0 1 0 4.6 0a2.3 2.3 0 1 0 -4.6 0M118.60 390.9a2.3 2.3 0 1 0 4.6 0a2.3 2.3 0 1 0 -4.6 0M135.30 389.1a2.3 2.3 0 1 0 4.6 0a2.3 2.3 0 1 0 -4.6 0M158.40 386.3a2.3 2.3 0 1 0 4.6 0a2.3 2.3 0 1 0 -4.6 0M160.30 390.0a2.3 2.3 0 1 0 4.6 0a2.3 2.3 0 1 0 -4.6 0M156.60 390.0a2.3 2.3 0 1 0 4.6 0a2.3 2.3 0 1 0 -4.6 0M165.80 389.1a2.3 2.3 0 1 0 4.6 0a2.3 2.3 0 1 0 -4.6 0M168.60 390.9a2.3 2.3 0 1 0 4.6 0a2.3 2.3 0 1 0 -4.6 0M143.60 390.9a2.3 2.3 0 1 0 4.6 0a2.3 2.3 0 1 0 -4.6 0M147.30 392.8a2.3 2.3 0 1 0 4.6 0a2.3 2.3 0 1 0 -4.6 0M126.00 392.8a2.3 2.3 0 1 0 4.6 0a2.3 2.3 0 1 0 -4.6 0M127.90 394.6a2.3 2.3 0 1 0 4.6 0a2.3 2.3 0 1 0 -4.6 0M157.50 393.7a2.3 2.3 0 1 0 4.6 0a2.3 2.3 0 1 0 -4.6 0M162.10 393.7a2.3 2.3 0 1 0 4.6 0a2.3 2.3 0 1 0 -4.6 0M167.70 393.7a2.3 2.3 0 1 0 4.6 0a2.3 2.3 0 1 0 -4.6 0M177.90 394.6a2.3 2.3 0 1 0 4.6 0a2.3 2.3 0 1 0 -4.6 0M180.70 395.6a2.3 2.3 0 1 0 4.6 0a2.3 2.3 0 1 0 -4.6 0M192.70 391.9a2.3 2.3 0 1 0 4.6 0a2.3 2.3 0 1 0 -4.6 0M198.30 396.5a2.3 2.3 0 1 0 4.6 0a2.3 2.3 0 1 0 -4.6 0M202.90 395.6a2.3 2.3 0 1 0 4.6 0a2.3 2.3 0 1 0 -4.6 0M207.50 395.6a2.3 2.3 0 1 0 4.6 0a2.3 2.3 0 1 0 -4.6 0M121.40 397.4a2.3 2.3 0 1 0 4.6 0a2.3 2.3 0 1 0 -4.6 0M125.10 399.3a2.3 2.3 0 1 0 4.6 0a2.3 2.3 0 1 0 -4.6 0M131.60 399.3a2.3 2.3 0 1 0 4.6 0a2.3 2.3 0 1 0 -4.6 0M135.30 400.2a2.3 2.3 0 1 0 4.6 0a2.3 2.3 0 1 0 -4.6 0M137.10 401.1a2.3 2.3 0 1 0 4.6 0a2.3 2.3 0 1 0 -4.6 0M148.30 398.3a2.3 2.3 0 1 0 4.6 0a2.3 2.3 0 1 0 -4.6 0M150.10 401.1a2.3 2.3 0 1 0 4.6 0a2.3 2.3 0 1 0 -4.6 0M152.90 402.0a2.3 2.3 0 1 0 4.6 0a2.3 2.3 0 1 0 -4.6 0M162.10 400.2a2.3 2.3 0 1 0 4.6 0a2.3 2.3 0 1 0 -4.6 0M167.70 400.2a2.3 2.3 0 1 0 4.6 0a2.3 2.3 0 1 0 -4.6 0M169.60 399.3a2.3 2.3 0 1 0 4.6 0a2.3 2.3 0 1 0 -4.6 0M173.30 397.4a2.3 2.3 0 1 0 4.6 0a2.3 2.3 0 1 0 -4.6 0M181.60 403.0a2.3 2.3 0 1 0 4.6 0a2.3 2.3 0 1 0 -4.6 0M191.80 402.0a2.3 2.3 0 1 0 4.6 0a2.3 2.3 0 1 0 -4.6 0M195.50 401.1a2.3 2.3 0 1 0 4.6 0a2.3 2.3 0 1 0 -4.6 0M131.60 403.9a2.3 2.3 0 1 0 4.6 0a2.3 2.3 0 1 0 -4.6 0M135.30 404.8a2.3 2.3 0 1 0 4.6 0a2.3 2.3 0 1 0 -4.6 0M139.00 405.7a2.3 2.3 0 1 0 4.6 0a2.3 2.3 0 1 0 -4.6 0M142.70 403.9a2.3 2.3 0 1 0 4.6 0a2.3 2.3 0 1 0 -4.6 0M147.30 404.8a2.3 2.3 0 1 0 4.6 0a2.3 2.3 0 1 0 -4.6 0M150.10 405.7a2.3 2.3 0 1 0 4.6 0a2.3 2.3 0 1 0 -4.6 0M158.40 404.8a2.3 2.3 0 1 0 4.6 0a2.3 2.3 0 1 0 -4.6 0M163.10 405.7a2.3 2.3 0 1 0 4.6 0a2.3 2.3 0 1 0 -4.6 0M165.80 405.7a2.3 2.3 0 1 0 4.6 0a2.3 2.3 0 1 0 -4.6 0M168.60 403.9a2.3 2.3 0 1 0 4.6 0a2.3 2.3 0 1 0 -4.6 0M191.80 407.6a2.3 2.3 0 1 0 4.6 0a2.3 2.3 0 1 0 -4.6 0M196.40 410.0a2.3 2.3 0 1 0 4.6 0a2.3 2.3 0 1 0 -4.6 0M120.50 407.6a2.3 2.3 0 1 0 4.6 0a2.3 2.3 0 1 0 -4.6 0M119.60 411.3a2.3 2.3 0 1 0 4.6 0a2.3 2.3 0 1 0 -4.6 0M137.10 408.5a2.3 2.3 0 1 0 4.6 0a2.3 2.3 0 1 0 -4.6 0M140.80 411.3a2.3 2.3 0 1 0 4.6 0a2.3 2.3 0 1 0 -4.6 0M147.30 411.3a2.3 2.3 0 1 0 4.6 0a2.3 2.3 0 1 0 -4.6 0M152.90 411.3a2.3 2.3 0 1 0 4.6 0a2.3 2.3 0 1 0 -4.6 0M142.70 415.9a2.3 2.3 0 1 0 4.6 0a2.3 2.3 0 1 0 -4.6 0M146.40 415.9a2.3 2.3 0 1 0 4.6 0a2.3 2.3 0 1 0 -4.6 0M160.70 415.0a2.3 2.3 0 1 0 4.6 0a2.3 2.3 0 1 0 -4.6 0M186.60 415.0a2.3 2.3 0 1 0 4.6 0a2.3 2.3 0 1 0 -4.6 0M117.70 417.8a2.3 2.3 0 1 0 4.6 0a2.3 2.3 0 1 0 -4.6 0M222.00 287.0a2.3 2.3 0 1 0 4.6 0a2.3 2.3 0 1 0 -4.6 0M242.00 287.0a2.3 2.3 0 1 0 4.6 0a2.3 2.3 0 1 0 -4.6 0M281.90 286.5a2.3 2.3 0 1 0 4.6 0a2.3 2.3 0 1 0 -4.6 0M281.90 288.7a2.3 2.3 0 1 0 4.6 0a2.3 2.3 0 1 0 -4.6 0M272.30 295.6a2.3 2.3 0 1 0 4.6 0a2.3 2.3 0 1 0 -4.6 0M219.00 307.4a2.3 2.3 0 1 0 4.6 0a2.3 2.3 0 1 0 -4.6 0M264.70 312.7a2.3 2.3 0 1 0 4.6 0a2.3 2.3 0 1 0 -4.6 0M281.90 305.8a2.3 2.3 0 1 0 4.6 0a2.3 2.3 0 1 0 -4.6 0M281.90 321.0a2.3 2.3 0 1 0 4.6 0a2.3 2.3 0 1 0 -4.6 0M281.90 326.5a2.3 2.3 0 1 0 4.6 0a2.3 2.3 0 1 0 -4.6 0M278.50 334.5a2.3 2.3 0 1 0 4.6 0a2.3 2.3 0 1 0 -4.6 0M281.90 336.2a2.3 2.3 0 1 0 4.6 0a2.3 2.3 0 1 0 -4.6 0M281.90 342.8a2.3 2.3 0 1 0 4.6 0a2.3 2.3 0 1 0 -4.6 0M225.90 336.2a2.3 2.3 0 1 0 4.6 0a2.3 2.3 0 1 0 -4.6 0M249.80 338.2a2.3 2.3 0 1 0 4.6 0a2.3 2.3 0 1 0 -4.6 0M235.10 345.5a2.3 2.3 0 1 0 4.6 0a2.3 2.3 0 1 0 -4.6 0M273.00 344.2a2.3 2.3 0 1 0 4.6 0a2.3 2.3 0 1 0 -4.6 0M244.40 352.4a2.3 2.3 0 1 0 4.6 0a2.3 2.3 0 1 0 -4.6 0M282.00 354.4a2.3 2.3 0 1 0 4.6 0a2.3 2.3 0 1 0 -4.6 0M282.00 360.4a2.3 2.3 0 1 0 4.6 0a2.3 2.3 0 1 0 -4.6 0M282.00 366.0a2.3 2.3 0 1 0 4.6 0a2.3 2.3 0 1 0 -4.6 0M282.00 367.8a2.3 2.3 0 1 0 4.6 0a2.3 2.3 0 1 0 -4.6 0M282.00 397.0a2.3 2.3 0 1 0 4.6 0a2.3 2.3 0 1 0 -4.6 0M282.00 403.0a2.3 2.3 0 1 0 4.6 0a2.3 2.3 0 1 0 -4.6 0M282.00 405.0a2.3 2.3 0 1 0 4.6 0a2.3 2.3 0 1 0 -4.6 0M282.00 409.4a2.3 2.3 0 1 0 4.6 0a2.3 2.3 0 1 0 -4.6 0M208.80 369.6a2.3 2.3 0 1 0 4.6 0a2.3 2.3 0 1 0 -4.6 0M202.70 377.0a2.3 2.3 0 1 0 4.6 0a2.3 2.3 0 1 0 -4.6 0M214.20 378.5a2.3 2.3 0 1 0 4.6 0a2.3 2.3 0 1 0 -4.6 0M216.00 384.1a2.3 2.3 0 1 0 4.6 0a2.3 2.3 0 1 0 -4.6 0M230.10 374.6a2.3 2.3 0 1 0 4.6 0a2.3 2.3 0 1 0 -4.6 0M234.20 374.6a2.3 2.3 0 1 0 4.6 0a2.3 2.3 0 1 0 -4.6 0M244.40 374.3a2.3 2.3 0 1 0 4.6 0a2.3 2.3 0 1 0 -4.6 0M245.30 368.7a2.3 2.3 0 1 0 4.6 0a2.3 2.3 0 1 0 -4.6 0M248.10 380.4a2.3 2.3 0 1 0 4.6 0a2.3 2.3 0 1 0 -4.6 0M232.00 385.4a2.3 2.3 0 1 0 4.6 0a2.3 2.3 0 1 0 -4.6 0M235.10 387.2a2.3 2.3 0 1 0 4.6 0a2.3 2.3 0 1 0 -4.6 0M262.90 372.4a2.3 2.3 0 1 0 4.6 0a2.3 2.3 0 1 0 -4.6 0M269.40 378.0a2.3 2.3 0 1 0 4.6 0a2.3 2.3 0 1 0 -4.6 0M270.30 379.8a2.3 2.3 0 1 0 4.6 0a2.3 2.3 0 1 0 -4.6 0M274.90 373.3a2.3 2.3 0 1 0 4.6 0a2.3 2.3 0 1 0 -4.6 0M230.10 396.1a2.3 2.3 0 1 0 4.6 0a2.3 2.3 0 1 0 -4.6 0M232.30 403.0a2.3 2.3 0 1 0 4.6 0a2.3 2.3 0 1 0 -4.6 0M246.20 404.3a2.3 2.3 0 1 0 4.6 0a2.3 2.3 0 1 0 -4.6 0M258.30 398.9a2.3 2.3 0 1 0 4.6 0a2.3 2.3 0 1 0 -4.6 0M255.50 402.0a2.3 2.3 0 1 0 4.6 0a2.3 2.3 0 1 0 -4.6 0M267.90 396.9a2.3 2.3 0 1 0 4.6 0a2.3 2.3 0 1 0 -4.6 0M260.70 409.4a2.3 2.3 0 1 0 4.6 0a2.3 2.3 0 1 0 -4.6 0M251.80 411.9a2.3 2.3 0 1 0 4.6 0a2.3 2.3 0 1 0 -4.6 0M246.60 416.9a2.3 2.3 0 1 0 4.6 0a2.3 2.3 0 1 0 -4.6 0M235.10 412.8a2.3 2.3 0 1 0 4.6 0a2.3 2.3 0 1 0 -4.6 0M218.40 411.3a2.3 2.3 0 1 0 4.6 0a2.3 2.3 0 1 0 -4.6 0M211.00 413.1a2.3 2.3 0 1 0 4.6 0a2.3 2.3 0 1 0 -4.6 0M42.30 286.9a2.3 2.3 0 1 0 4.6 0a2.3 2.3 0 1 0 -4.6 0M45.70 286.9a2.3 2.3 0 1 0 4.6 0a2.3 2.3 0 1 0 -4.6 0M50.70 286.9a2.3 2.3 0 1 0 4.6 0a2.3 2.3 0 1 0 -4.6 0M53.60 286.9a2.3 2.3 0 1 0 4.6 0a2.3 2.3 0 1 0 -4.6 0M56.50 286.9a2.3 2.3 0 1 0 4.6 0a2.3 2.3 0 1 0 -4.6 0M59.40 286.9a2.3 2.3 0 1 0 4.6 0a2.3 2.3 0 1 0 -4.6 0M62.30 286.9a2.3 2.3 0 1 0 4.6 0a2.3 2.3 0 1 0 -4.6 0M65.20 286.9a2.3 2.3 0 1 0 4.6 0a2.3 2.3 0 1 0 -4.6 0M70.90 286.9a2.3 2.3 0 1 0 4.6 0a2.3 2.3 0 1 0 -4.6 0M73.65 286.9a2.3 2.3 0 1 0 4.6 0a2.3 2.3 0 1 0 -4.6 0M76.40 286.9a2.3 2.3 0 1 0 4.6 0a2.3 2.3 0 1 0 -4.6 0M82.70 286.9a2.3 2.3 0 1 0 4.6 0a2.3 2.3 0 1 0 -4.6 0M85.30 286.9a2.3 2.3 0 1 0 4.6 0a2.3 2.3 0 1 0 -4.6 0M87.90 286.9a2.3 2.3 0 1 0 4.6 0a2.3 2.3 0 1 0 -4.6 0M90.50 286.9a2.3 2.3 0 1 0 4.6 0a2.3 2.3 0 1 0 -4.6 0M93.10 286.9a2.3 2.3 0 1 0 4.6 0a2.3 2.3 0 1 0 -4.6 0M95.70 286.9a2.3 2.3 0 1 0 4.6 0a2.3 2.3 0 1 0 -4.6 0M98.30 286.9a2.3 2.3 0 1 0 4.6 0a2.3 2.3 0 1 0 -4.6 0M100.90 286.9a2.3 2.3 0 1 0 4.6 0a2.3 2.3 0 1 0 -4.6 0M282.00 362.0a2.3 2.3 0 1 0 4.6 0a2.3 2.3 0 1 0 -4.6 0M282.00 363.7a2.3 2.3 0 1 0 4.6 0a2.3 2.3 0 1 0 -4.6 0M282.00 365.4a2.3 2.3 0 1 0 4.6 0a2.3 2.3 0 1 0 -4.6 0M282.00 367.1a2.3 2.3 0 1 0 4.6 0a2.3 2.3 0 1 0 -4.6 0M282.00 368.9a2.3 2.3 0 1 0 4.6 0a2.3 2.3 0 1 0 -4.6 0M282.00 370.6a2.3 2.3 0 1 0 4.6 0a2.3 2.3 0 1 0 -4.6 0M282.00 372.3a2.3 2.3 0 1 0 4.6 0a2.3 2.3 0 1 0 -4.6 0M282.00 374.0a2.3 2.3 0 1 0 4.6 0a2.3 2.3 0 1 0 -4.6 0M282.00 375.7a2.3 2.3 0 1 0 4.6 0a2.3 2.3 0 1 0 -4.6 0M282.00 377.4a2.3 2.3 0 1 0 4.6 0a2.3 2.3 0 1 0 -4.6 0M282.00 379.1a2.3 2.3 0 1 0 4.6 0a2.3 2.3 0 1 0 -4.6 0M282.00 380.9a2.3 2.3 0 1 0 4.6 0a2.3 2.3 0 1 0 -4.6 0M282.00 382.6a2.3 2.3 0 1 0 4.6 0a2.3 2.3 0 1 0 -4.6 0M282.00 384.3a2.3 2.3 0 1 0 4.6 0a2.3 2.3 0 1 0 -4.6 0M282.00 386.0a2.3 2.3 0 1 0 4.6 0a2.3 2.3 0 1 0 -4.6 0M282.00 387.7a2.3 2.3 0 1 0 4.6 0a2.3 2.3 0 1 0 -4.6 0M282.00 389.4a2.3 2.3 0 1 0 4.6 0a2.3 2.3 0 1 0 -4.6 0M282.00 391.1a2.3 2.3 0 1 0 4.6 0a2.3 2.3 0 1 0 -4.6 0M282.00 392.9a2.3 2.3 0 1 0 4.6 0a2.3 2.3 0 1 0 -4.6 0M282.00 394.6a2.3 2.3 0 1 0 4.6 0a2.3 2.3 0 1 0 -4.6 0M282.00 396.3a2.3 2.3 0 1 0 4.6 0a2.3 2.3 0 1 0 -4.6 0M282.00 398.0a2.3 2.3 0 1 0 4.6 0a2.3 2.3 0 1 0 -4.6 0M42.00 306.0a2.3 2.3 0 1 0 4.6 0a2.3 2.3 0 1 0 -4.6 0M42.00 310.3a2.3 2.3 0 1 0 4.6 0a2.3 2.3 0 1 0 -4.6 0M42.00 314.6a2.3 2.3 0 1 0 4.6 0a2.3 2.3 0 1 0 -4.6 0M42.00 318.9a2.3 2.3 0 1 0 4.6 0a2.3 2.3 0 1 0 -4.6 0M42.00 323.2a2.3 2.3 0 1 0 4.6 0a2.3 2.3 0 1 0 -4.6 0M42.00 327.5a2.3 2.3 0 1 0 4.6 0a2.3 2.3 0 1 0 -4.6 0M42.00 331.8a2.3 2.3 0 1 0 4.6 0a2.3 2.3 0 1 0 -4.6 0M42.00 336.1a2.3 2.3 0 1 0 4.6 0a2.3 2.3 0 1 0 -4.6 0M42.00 340.4a2.3 2.3 0 1 0 4.6 0a2.3 2.3 0 1 0 -4.6 0M42.00 344.7a2.3 2.3 0 1 0 4.6 0a2.3 2.3 0 1 0 -4.6 0M42.00 349.0a2.3 2.3 0 1 0 4.6 0a2.3 2.3 0 1 0 -4.6 0M42.00 353.3a2.3 2.3 0 1 0 4.6 0a2.3 2.3 0 1 0 -4.6 0M42.00 357.6a2.3 2.3 0 1 0 4.6 0a2.3 2.3 0 1 0 -4.6 0M42.00 361.9a2.3 2.3 0 1 0 4.6 0a2.3 2.3 0 1 0 -4.6 0M42.00 366.1a2.3 2.3 0 1 0 4.6 0a2.3 2.3 0 1 0 -4.6 0M42.00 370.4a2.3 2.3 0 1 0 4.6 0a2.3 2.3 0 1 0 -4.6 0M42.00 374.7a2.3 2.3 0 1 0 4.6 0a2.3 2.3 0 1 0 -4.6 0M42.00 379.0a2.3 2.3 0 1 0 4.6 0a2.3 2.3 0 1 0 -4.6 0M42.00 383.3a2.3 2.3 0 1 0 4.6 0a2.3 2.3 0 1 0 -4.6 0M42.00 387.6a2.3 2.3 0 1 0 4.6 0a2.3 2.3 0 1 0 -4.6 0M42.00 391.9a2.3 2.3 0 1 0 4.6 0a2.3 2.3 0 1 0 -4.6 0M42.00 396.2a2.3 2.3 0 1 0 4.6 0a2.3 2.3 0 1 0 -4.6 0M42.00 400.5a2.3 2.3 0 1 0 4.6 0a2.3 2.3 0 1 0 -4.6 0M42.00 404.8a2.3 2.3 0 1 0 4.6 0a2.3 2.3 0 1 0 -4.6 0M42.00 409.1a2.3 2.3 0 1 0 4.6 0a2.3 2.3 0 1 0 -4.6 0M42.00 413.4a2.3 2.3 0 1 0 4.6 0a2.3 2.3 0 1 0 -4.6 0M42.00 417.7a2.3 2.3 0 1 0 4.6 0a2.3 2.3 0 1 0 -4.6 0M42.00 422.0a2.3 2.3 0 1 0 4.6 0a2.3 2.3 0 1 0 -4.6 0M41.60 318.6a2.3 2.3 0 1 0 4.6 0a2.3 2.3 0 1 0 -4.6 0M42.66 320.1a2.3 2.3 0 1 0 4.6 0a2.3 2.3 0 1 0 -4.6 0M44.71 306.6a2.3 2.3 0 1 0 4.6 0a2.3 2.3 0 1 0 -4.6 0M39.81 325.9a2.3 2.3 0 1 0 4.6 0a2.3 2.3 0 1 0 -4.6 0M41.77 310.9a2.3 2.3 0 1 0 4.6 0a2.3 2.3 0 1 0 -4.6 0M47.67 316.8a2.3 2.3 0 1 0 4.6 0a2.3 2.3 0 1 0 -4.6 0M46.39 316.9a2.3 2.3 0 1 0 4.6 0a2.3 2.3 0 1 0 -4.6 0M44.81 308.8a2.3 2.3 0 1 0 4.6 0a2.3 2.3 0 1 0 -4.6 0M44.78 326.7a2.3 2.3 0 1 0 4.6 0a2.3 2.3 0 1 0 -4.6 0M43.89 323.5a2.3 2.3 0 1 0 4.6 0a2.3 2.3 0 1 0 -4.6 0M45.07 306.6a2.3 2.3 0 1 0 4.6 0a2.3 2.3 0 1 0 -4.6 0M45.77 319.8a2.3 2.3 0 1 0 4.6 0a2.3 2.3 0 1 0 -4.6 0M61.26 301.1a2.3 2.3 0 1 0 4.6 0a2.3 2.3 0 1 0 -4.6 0M80.05 330.8a2.3 2.3 0 1 0 4.6 0a2.3 2.3 0 1 0 -4.6 0M79.84 332.2a2.3 2.3 0 1 0 4.6 0a2.3 2.3 0 1 0 -4.6 0M65.47 328.0a2.3 2.3 0 1 0 4.6 0a2.3 2.3 0 1 0 -4.6 0M53.82 307.6a2.3 2.3 0 1 0 4.6 0a2.3 2.3 0 1 0 -4.6 0M75.90 310.5a2.3 2.3 0 1 0 4.6 0a2.3 2.3 0 1 0 -4.6 0M70.53 313.5a2.3 2.3 0 1 0 4.6 0a2.3 2.3 0 1 0 -4.6 0M63.49 320.5a2.3 2.3 0 1 0 4.6 0a2.3 2.3 0 1 0 -4.6 0M86.43 333.8a2.3 2.3 0 1 0 4.6 0a2.3 2.3 0 1 0 -4.6 0M60.52 302.2a2.3 2.3 0 1 0 4.6 0a2.3 2.3 0 1 0 -4.6 0M66.17 305.3a2.3 2.3 0 1 0 4.6 0a2.3 2.3 0 1 0 -4.6 0M61.64 302.7a2.3 2.3 0 1 0 4.6 0a2.3 2.3 0 1 0 -4.6 0M56.58 314.3a2.3 2.3 0 1 0 4.6 0a2.3 2.3 0 1 0 -4.6 0M68.42 318.2a2.3 2.3 0 1 0 4.6 0a2.3 2.3 0 1 0 -4.6 0M76.67 320.8a2.3 2.3 0 1 0 4.6 0a2.3 2.3 0 1 0 -4.6 0M85.66 308.6a2.3 2.3 0 1 0 4.6 0a2.3 2.3 0 1 0 -4.6 0M69.58 299.0a2.3 2.3 0 1 0 4.6 0a2.3 2.3 0 1 0 -4.6 0M78.46 307.4a2.3 2.3 0 1 0 4.6 0a2.3 2.3 0 1 0 -4.6 0M89.31 291.8a2.3 2.3 0 1 0 4.6 0a2.3 2.3 0 1 0 -4.6 0M89.07 304.0a2.3 2.3 0 1 0 4.6 0a2.3 2.3 0 1 0 -4.6 0M91.66 300.6a2.3 2.3 0 1 0 4.6 0a2.3 2.3 0 1 0 -4.6 0M93.05 312.1a2.3 2.3 0 1 0 4.6 0a2.3 2.3 0 1 0 -4.6 0M87.33 299.6a2.3 2.3 0 1 0 4.6 0a2.3 2.3 0 1 0 -4.6 0M75.90 299.4a2.3 2.3 0 1 0 4.6 0a2.3 2.3 0 1 0 -4.6 0M72.72 301.3a2.3 2.3 0 1 0 4.6 0a2.3 2.3 0 1 0 -4.6 0M87.33 361.5a2.3 2.3 0 1 0 4.6 0a2.3 2.3 0 1 0 -4.6 0M77.48 345.1a2.3 2.3 0 1 0 4.6 0a2.3 2.3 0 1 0 -4.6 0M96.24 345.6a2.3 2.3 0 1 0 4.6 0a2.3 2.3 0 1 0 -4.6 0M72.82 351.9a2.3 2.3 0 1 0 4.6 0a2.3 2.3 0 1 0 -4.6 0M77.93 348.7a2.3 2.3 0 1 0 4.6 0a2.3 2.3 0 1 0 -4.6 0M97.37 352.0a2.3 2.3 0 1 0 4.6 0a2.3 2.3 0 1 0 -4.6 0M78.49 358.8a2.3 2.3 0 1 0 4.6 0a2.3 2.3 0 1 0 -4.6 0M99.33 352.4a2.3 2.3 0 1 0 4.6 0a2.3 2.3 0 1 0 -4.6 0M74.25 341.9a2.3 2.3 0 1 0 4.6 0a2.3 2.3 0 1 0 -4.6 0M85.83 344.1a2.3 2.3 0 1 0 4.6 0a2.3 2.3 0 1 0 -4.6 0M96.36 364.8a2.3 2.3 0 1 0 4.6 0a2.3 2.3 0 1 0 -4.6 0M72.68 346.9a2.3 2.3 0 1 0 4.6 0a2.3 2.3 0 1 0 -4.6 0M96.37 358.5a2.3 2.3 0 1 0 4.6 0a2.3 2.3 0 1 0 -4.6 0M96.34 349.0a2.3 2.3 0 1 0 4.6 0a2.3 2.3 0 1 0 -4.6 0M70.63 347.3a2.3 2.3 0 1 0 4.6 0a2.3 2.3 0 1 0 -4.6 0M95.87 346.7a2.3 2.3 0 1 0 4.6 0a2.3 2.3 0 1 0 -4.6 0M78.86 351.3a2.3 2.3 0 1 0 4.6 0a2.3 2.3 0 1 0 -4.6 0M81.65 351.1a2.3 2.3 0 1 0 4.6 0a2.3 2.3 0 1 0 -4.6 0M94.03 364.8a2.3 2.3 0 1 0 4.6 0a2.3 2.3 0 1 0 -4.6 0M90.89 354.6a2.3 2.3 0 1 0 4.6 0a2.3 2.3 0 1 0 -4.6 0M76.68 348.9a2.3 2.3 0 1 0 4.6 0a2.3 2.3 0 1 0 -4.6 0M74.34 340.2a2.3 2.3 0 1 0 4.6 0a2.3 2.3 0 1 0 -4.6 0M88.07 347.2a2.3 2.3 0 1 0 4.6 0a2.3 2.3 0 1 0 -4.6 0M100.04 360.2a2.3 2.3 0 1 0 4.6 0a2.3 2.3 0 1 0 -4.6 0M99.89 356.5a2.3 2.3 0 1 0 4.6 0a2.3 2.3 0 1 0 -4.6 0M72.23 347.6a2.3 2.3 0 1 0 4.6 0a2.3 2.3 0 1 0 -4.6 0M90.89 354.8a2.3 2.3 0 1 0 4.6 0a2.3 2.3 0 1 0 -4.6 0M88.96 348.9a2.3 2.3 0 1 0 4.6 0a2.3 2.3 0 1 0 -4.6 0M83.83 363.0a2.3 2.3 0 1 0 4.6 0a2.3 2.3 0 1 0 -4.6 0M79.07 344.3a2.3 2.3 0 1 0 4.6 0a2.3 2.3 0 1 0 -4.6 0M86.02 364.1a2.3 2.3 0 1 0 4.6 0a2.3 2.3 0 1 0 -4.6 0M89.59 365.6a2.3 2.3 0 1 0 4.6 0a2.3 2.3 0 1 0 -4.6 0M67.60 346.7a2.3 2.3 0 1 0 4.6 0a2.3 2.3 0 1 0 -4.6 0M75.91 354.9a2.3 2.3 0 1 0 4.6 0a2.3 2.3 0 1 0 -4.6 0M81.77 353.1a2.3 2.3 0 1 0 4.6 0a2.3 2.3 0 1 0 -4.6 0M67.78 342.1a2.3 2.3 0 1 0 4.6 0a2.3 2.3 0 1 0 -4.6 0M70.44 340.2a2.3 2.3 0 1 0 4.6 0a2.3 2.3 0 1 0 -4.6 0M68.97 354.1a2.3 2.3 0 1 0 4.6 0a2.3 2.3 0 1 0 -4.6 0M77.70 348.1a2.3 2.3 0 1 0 4.6 0a2.3 2.3 0 1 0 -4.6 0M79.05 358.7a2.3 2.3 0 1 0 4.6 0a2.3 2.3 0 1 0 -4.6 0M67.48 357.8a2.3 2.3 0 1 0 4.6 0a2.3 2.3 0 1 0 -4.6 0M106.23 392.9a2.3 2.3 0 1 0 4.6 0a2.3 2.3 0 1 0 -4.6 0M111.07 392.0a2.3 2.3 0 1 0 4.6 0a2.3 2.3 0 1 0 -4.6 0M60.72 404.6a2.3 2.3 0 1 0 4.6 0a2.3 2.3 0 1 0 -4.6 0M57.81 411.8a2.3 2.3 0 1 0 4.6 0a2.3 2.3 0 1 0 -4.6 0M60.50 407.9a2.3 2.3 0 1 0 4.6 0a2.3 2.3 0 1 0 -4.6 0M108.08 394.2a2.3 2.3 0 1 0 4.6 0a2.3 2.3 0 1 0 -4.6 0M137.07 417.5a2.3 2.3 0 1 0 4.6 0a2.3 2.3 0 1 0 -4.6 0M85.26 378.1a2.3 2.3 0 1 0 4.6 0a2.3 2.3 0 1 0 -4.6 0M90.53 360.2a2.3 2.3 0 1 0 4.6 0a2.3 2.3 0 1 0 -4.6 0M65.30 391.6a2.3 2.3 0 1 0 4.6 0a2.3 2.3 0 1 0 -4.6 0M124.14 413.6a2.3 2.3 0 1 0 4.6 0a2.3 2.3 0 1 0 -4.6 0M57.40 397.7a2.3 2.3 0 1 0 4.6 0a2.3 2.3 0 1 0 -4.6 0M68.41 346.5a2.3 2.3 0 1 0 4.6 0a2.3 2.3 0 1 0 -4.6 0M48.52 369.1a2.3 2.3 0 1 0 4.6 0a2.3 2.3 0 1 0 -4.6 0M66.71 356.4a2.3 2.3 0 1 0 4.6 0a2.3 2.3 0 1 0 -4.6 0M94.53 396.1a2.3 2.3 0 1 0 4.6 0a2.3 2.3 0 1 0 -4.6 0M116.50 389.9a2.3 2.3 0 1 0 4.6 0a2.3 2.3 0 1 0 -4.6 0M86.55 364.5a2.3 2.3 0 1 0 4.6 0a2.3 2.3 0 1 0 -4.6 0M71.33 380.3a2.3 2.3 0 1 0 4.6 0a2.3 2.3 0 1 0 -4.6 0M93.39 376.0a2.3 2.3 0 1 0 4.6 0a2.3 2.3 0 1 0 -4.6 0M79.22 388.9a2.3 2.3 0 1 0 4.6 0a2.3 2.3 0 1 0 -4.6 0M88.66 394.5a2.3 2.3 0 1 0 4.6 0a2.3 2.3 0 1 0 -4.6 0M62.95 353.3a2.3 2.3 0 1 0 4.6 0a2.3 2.3 0 1 0 -4.6 0M75.86 399.9a2.3 2.3 0 1 0 4.6 0a2.3 2.3 0 1 0 -4.6 0M86.31 361.0a2.3 2.3 0 1 0 4.6 0a2.3 2.3 0 1 0 -4.6 0M59.38 346.8a2.3 2.3 0 1 0 4.6 0a2.3 2.3 0 1 0 -4.6 0M59.45 401.0a2.3 2.3 0 1 0 4.6 0a2.3 2.3 0 1 0 -4.6 0M68.25 338.1a2.3 2.3 0 1 0 4.6 0a2.3 2.3 0 1 0 -4.6 0M69.32 374.2a2.3 2.3 0 1 0 4.6 0a2.3 2.3 0 1 0 -4.6 0M50.22 371.3a2.3 2.3 0 1 0 4.6 0a2.3 2.3 0 1 0 -4.6 0M50.91 326.3a2.3 2.3 0 1 0 4.6 0a2.3 2.3 0 1 0 -4.6 0M65.32 370.9a2.3 2.3 0 1 0 4.6 0a2.3 2.3 0 1 0 -4.6 0M82.87 367.5a2.3 2.3 0 1 0 4.6 0a2.3 2.3 0 1 0 -4.6 0M110.28 381.5a2.3 2.3 0 1 0 4.6 0a2.3 2.3 0 1 0 -4.6 0M46.03 340.3a2.3 2.3 0 1 0 4.6 0a2.3 2.3 0 1 0 -4.6 0M63.20 367.0a2.3 2.3 0 1 0 4.6 0a2.3 2.3 0 1 0 -4.6 0M66.22 370.2a2.3 2.3 0 1 0 4.6 0a2.3 2.3 0 1 0 -4.6 0M48.44 365.7a2.3 2.3 0 1 0 4.6 0a2.3 2.3 0 1 0 -4.6 0M65.80 384.3a2.3 2.3 0 1 0 4.6 0a2.3 2.3 0 1 0 -4.6 0M79.26 401.9a2.3 2.3 0 1 0 4.6 0a2.3 2.3 0 1 0 -4.6 0M78.13 404.8a2.3 2.3 0 1 0 4.6 0a2.3 2.3 0 1 0 -4.6 0M163.95 381.1a2.3 2.3 0 1 0 4.6 0a2.3 2.3 0 1 0 -4.6 0M49.40 327.6a2.3 2.3 0 1 0 4.6 0a2.3 2.3 0 1 0 -4.6 0M50.17 323.7a2.3 2.3 0 1 0 4.6 0a2.3 2.3 0 1 0 -4.6 0M119.75 418.8a2.3 2.3 0 1 0 4.6 0a2.3 2.3 0 1 0 -4.6 0M81.50 408.5a2.3 2.3 0 1 0 4.6 0a2.3 2.3 0 1 0 -4.6 0M73.69 401.0a2.3 2.3 0 1 0 4.6 0a2.3 2.3 0 1 0 -4.6 0M48.50 367.7a2.3 2.3 0 1 0 4.6 0a2.3 2.3 0 1 0 -4.6 0M54.49 360.5a2.3 2.3 0 1 0 4.6 0a2.3 2.3 0 1 0 -4.6 0M58.51 378.6a2.3 2.3 0 1 0 4.6 0a2.3 2.3 0 1 0 -4.6 0M55.57 387.1a2.3 2.3 0 1 0 4.6 0a2.3 2.3 0 1 0 -4.6 0M51.66 334.3a2.3 2.3 0 1 0 4.6 0a2.3 2.3 0 1 0 -4.6 0M96.89 401.2a2.3 2.3 0 1 0 4.6 0a2.3 2.3 0 1 0 -4.6 0M70.01 413.1a2.3 2.3 0 1 0 4.6 0a2.3 2.3 0 1 0 -4.6 0M118.22 404.8a2.3 2.3 0 1 0 4.6 0a2.3 2.3 0 1 0 -4.6 0M55.12 354.9a2.3 2.3 0 1 0 4.6 0a2.3 2.3 0 1 0 -4.6 0M54.43 376.9a2.3 2.3 0 1 0 4.6 0a2.3 2.3 0 1 0 -4.6 0M97.29 387.1a2.3 2.3 0 1 0 4.6 0a2.3 2.3 0 1 0 -4.6 0M71.83 355.3a2.3 2.3 0 1 0 4.6 0a2.3 2.3 0 1 0 -4.6 0M86.59 363.9a2.3 2.3 0 1 0 4.6 0a2.3 2.3 0 1 0 -4.6 0M81.33 417.5a2.3 2.3 0 1 0 4.6 0a2.3 2.3 0 1 0 -4.6 0M57.40 394.9a2.3 2.3 0 1 0 4.6 0a2.3 2.3 0 1 0 -4.6 0M109.07 386.1a2.3 2.3 0 1 0 4.6 0a2.3 2.3 0 1 0 -4.6 0M87.76 397.0a2.3 2.3 0 1 0 4.6 0a2.3 2.3 0 1 0 -4.6 0M65.38 351.2a2.3 2.3 0 1 0 4.6 0a2.3 2.3 0 1 0 -4.6 0M75.30 403.9a2.3 2.3 0 1 0 4.6 0a2.3 2.3 0 1 0 -4.6 0M61.74 374.5a2.3 2.3 0 1 0 4.6 0a2.3 2.3 0 1 0 -4.6 0M57.15 351.2a2.3 2.3 0 1 0 4.6 0a2.3 2.3 0 1 0 -4.6 0M51.07 363.7a2.3 2.3 0 1 0 4.6 0a2.3 2.3 0 1 0 -4.6 0M100.91 420.2a2.3 2.3 0 1 0 4.6 0a2.3 2.3 0 1 0 -4.6 0M84.12 373.6a2.3 2.3 0 1 0 4.6 0a2.3 2.3 0 1 0 -4.6 0M132.25 415.1a2.3 2.3 0 1 0 4.6 0a2.3 2.3 0 1 0 -4.6 0M69.50 416.1a2.3 2.3 0 1 0 4.6 0a2.3 2.3 0 1 0 -4.6 0M92.46 406.2a2.3 2.3 0 1 0 4.6 0a2.3 2.3 0 1 0 -4.6 0M78.75 419.2a2.3 2.3 0 1 0 4.6 0a2.3 2.3 0 1 0 -4.6 0M84.42 359.8a2.3 2.3 0 1 0 4.6 0a2.3 2.3 0 1 0 -4.6 0M61.74 344.6a2.3 2.3 0 1 0 4.6 0a2.3 2.3 0 1 0 -4.6 0M55.37 342.5a2.3 2.3 0 1 0 4.6 0a2.3 2.3 0 1 0 -4.6 0M55.40 374.0a2.3 2.3 0 1 0 4.6 0a2.3 2.3 0 1 0 -4.6 0M46.35 348.1a2.3 2.3 0 1 0 4.6 0a2.3 2.3 0 1 0 -4.6 0M54.16 346.5a2.3 2.3 0 1 0 4.6 0a2.3 2.3 0 1 0 -4.6 0M78.38 376.2a2.3 2.3 0 1 0 4.6 0a2.3 2.3 0 1 0 -4.6 0M74.49 420.0a2.3 2.3 0 1 0 4.6 0a2.3 2.3 0 1 0 -4.6 0M93.26 423.2a2.3 2.3 0 1 0 4.6 0a2.3 2.3 0 1 0 -4.6 0M61.72 333.5a2.3 2.3 0 1 0 4.6 0a2.3 2.3 0 1 0 -4.6 0M88.70 415.4a2.3 2.3 0 1 0 4.6 0a2.3 2.3 0 1 0 -4.6 0M69.12 418.0a2.3 2.3 0 1 0 4.6 0a2.3 2.3 0 1 0 -4.6 0M110.90 406.7a2.3 2.3 0 1 0 4.6 0a2.3 2.3 0 1 0 -4.6 0M67.59 420.6a2.3 2.3 0 1 0 4.6 0a2.3 2.3 0 1 0 -4.6 0M66.19 346.3a2.3 2.3 0 1 0 4.6 0a2.3 2.3 0 1 0 -4.6 0M52.17 422.2a2.3 2.3 0 1 0 4.6 0a2.3 2.3 0 1 0 -4.6 0M56.99 375.6a2.3 2.3 0 1 0 4.6 0a2.3 2.3 0 1 0 -4.6 0M63.55 381.9a2.3 2.3 0 1 0 4.6 0a2.3 2.3 0 1 0 -4.6 0M89.43 382.0a2.3 2.3 0 1 0 4.6 0a2.3 2.3 0 1 0 -4.6 0M80.69 422.0a2.3 2.3 0 1 0 4.6 0a2.3 2.3 0 1 0 -4.6 0M60.73 371.3a2.3 2.3 0 1 0 4.6 0a2.3 2.3 0 1 0 -4.6 0M87.30 386.7a2.3 2.3 0 1 0 4.6 0a2.3 2.3 0 1 0 -4.6 0M54.15 363.3a2.3 2.3 0 1 0 4.6 0a2.3 2.3 0 1 0 -4.6 0M92.55 422.5a2.3 2.3 0 1 0 4.6 0a2.3 2.3 0 1 0 -4.6 0M71.89 376.4a2.3 2.3 0 1 0 4.6 0a2.3 2.3 0 1 0 -4.6 0M98.29 410.4a2.3 2.3 0 1 0 4.6 0a2.3 2.3 0 1 0 -4.6 0M72.53 357.5a2.3 2.3 0 1 0 4.6 0a2.3 2.3 0 1 0 -4.6 0M99.55 390.7a2.3 2.3 0 1 0 4.6 0a2.3 2.3 0 1 0 -4.6 0M49.12 355.4a2.3 2.3 0 1 0 4.6 0a2.3 2.3 0 1 0 -4.6 0M93.13 372.5a2.3 2.3 0 1 0 4.6 0a2.3 2.3 0 1 0 -4.6 0M57.54 422.3a2.3 2.3 0 1 0 4.6 0a2.3 2.3 0 1 0 -4.6 0M55.89 365.0a2.3 2.3 0 1 0 4.6 0a2.3 2.3 0 1 0 -4.6 0M116.81 412.2a2.3 2.3 0 1 0 4.6 0a2.3 2.3 0 1 0 -4.6 0M109.59 379.1a2.3 2.3 0 1 0 4.6 0a2.3 2.3 0 1 0 -4.6 0M74.03 367.9a2.3 2.3 0 1 0 4.6 0a2.3 2.3 0 1 0 -4.6 0M82.12 413.8a2.3 2.3 0 1 0 4.6 0a2.3 2.3 0 1 0 -4.6 0M50.30 371.1a2.3 2.3 0 1 0 4.6 0a2.3 2.3 0 1 0 -4.6 0M149.58 406.7a2.3 2.3 0 1 0 4.6 0a2.3 2.3 0 1 0 -4.6 0M94.66 359.4a2.3 2.3 0 1 0 4.6 0a2.3 2.3 0 1 0 -4.6 0M99.65 378.2a2.3 2.3 0 1 0 4.6 0a2.3 2.3 0 1 0 -4.6 0M93.80 375.5a2.3 2.3 0 1 0 4.6 0a2.3 2.3 0 1 0 -4.6 0M87.04 396.0a2.3 2.3 0 1 0 4.6 0a2.3 2.3 0 1 0 -4.6 0M58.83 374.2a2.3 2.3 0 1 0 4.6 0a2.3 2.3 0 1 0 -4.6 0M66.75 360.0a2.3 2.3 0 1 0 4.6 0a2.3 2.3 0 1 0 -4.6 0M95.51 379.4a2.3 2.3 0 1 0 4.6 0a2.3 2.3 0 1 0 -4.6 0M52.39 369.4a2.3 2.3 0 1 0 4.6 0a2.3 2.3 0 1 0 -4.6 0M108.59 360.3a2.3 2.3 0 1 0 4.6 0a2.3 2.3 0 1 0 -4.6 0M60.00 419.0a2.3 2.3 0 1 0 4.6 0a2.3 2.3 0 1 0 -4.6 0M68.40 378.8a2.3 2.3 0 1 0 4.6 0a2.3 2.3 0 1 0 -4.6 0M57.72 392.9a2.3 2.3 0 1 0 4.6 0a2.3 2.3 0 1 0 -4.6 0M73.20 366.7a2.3 2.3 0 1 0 4.6 0a2.3 2.3 0 1 0 -4.6 0M85.57 399.2a2.3 2.3 0 1 0 4.6 0a2.3 2.3 0 1 0 -4.6 0M91.13 410.7a2.3 2.3 0 1 0 4.6 0a2.3 2.3 0 1 0 -4.6 0M107.21 391.2a2.3 2.3 0 1 0 4.6 0a2.3 2.3 0 1 0 -4.6 0M117.15 359.3a2.3 2.3 0 1 0 4.6 0a2.3 2.3 0 1 0 -4.6 0M66.43 386.2a2.3 2.3 0 1 0 4.6 0a2.3 2.3 0 1 0 -4.6 0M65.03 422.4a2.3 2.3 0 1 0 4.6 0a2.3 2.3 0 1 0 -4.6 0M104.82 396.6a2.3 2.3 0 1 0 4.6 0a2.3 2.3 0 1 0 -4.6 0M45.94 348.0a2.3 2.3 0 1 0 4.6 0a2.3 2.3 0 1 0 -4.6 0M85.69 421.4a2.3 2.3 0 1 0 4.6 0a2.3 2.3 0 1 0 -4.6 0M100.00 389.1a2.3 2.3 0 1 0 4.6 0a2.3 2.3 0 1 0 -4.6 0M73.10 366.2a2.3 2.3 0 1 0 4.6 0a2.3 2.3 0 1 0 -4.6 0M57.40 351.6a2.3 2.3 0 1 0 4.6 0a2.3 2.3 0 1 0 -4.6 0M48.72 320.8a2.3 2.3 0 1 0 4.6 0a2.3 2.3 0 1 0 -4.6 0M69.67 378.6a2.3 2.3 0 1 0 4.6 0a2.3 2.3 0 1 0 -4.6 0M61.09 424.5a2.3 2.3 0 1 0 4.6 0a2.3 2.3 0 1 0 -4.6 0M90.38 424.4a2.3 2.3 0 1 0 4.6 0a2.3 2.3 0 1 0 -4.6 0M151.72 414.5a2.3 2.3 0 1 0 4.6 0a2.3 2.3 0 1 0 -4.6 0M82.35 350.5a2.3 2.3 0 1 0 4.6 0a2.3 2.3 0 1 0 -4.6 0M108.22 420.5a2.3 2.3 0 1 0 4.6 0a2.3 2.3 0 1 0 -4.6 0M77.02 356.1a2.3 2.3 0 1 0 4.6 0a2.3 2.3 0 1 0 -4.6 0M70.44 353.9a2.3 2.3 0 1 0 4.6 0a2.3 2.3 0 1 0 -4.6 0M74.93 380.3a2.3 2.3 0 1 0 4.6 0a2.3 2.3 0 1 0 -4.6 0M75.16 337.3a2.3 2.3 0 1 0 4.6 0a2.3 2.3 0 1 0 -4.6 0M67.49 371.4a2.3 2.3 0 1 0 4.6 0a2.3 2.3 0 1 0 -4.6 0M69.70 382.5a2.3 2.3 0 1 0 4.6 0a2.3 2.3 0 1 0 -4.6 0M69.41 412.9a2.3 2.3 0 1 0 4.6 0a2.3 2.3 0 1 0 -4.6 0M63.41 341.0a2.3 2.3 0 1 0 4.6 0a2.3 2.3 0 1 0 -4.6 0M86.34 350.3a2.3 2.3 0 1 0 4.6 0a2.3 2.3 0 1 0 -4.6 0M54.33 344.7a2.3 2.3 0 1 0 4.6 0a2.3 2.3 0 1 0 -4.6 0M64.59 421.1a2.3 2.3 0 1 0 4.6 0a2.3 2.3 0 1 0 -4.6 0M70.16 416.3a2.3 2.3 0 1 0 4.6 0a2.3 2.3 0 1 0 -4.6 0M59.58 351.7a2.3 2.3 0 1 0 4.6 0a2.3 2.3 0 1 0 -4.6 0M105.05 400.9a2.3 2.3 0 1 0 4.6 0a2.3 2.3 0 1 0 -4.6 0M66.47 408.3a2.3 2.3 0 1 0 4.6 0a2.3 2.3 0 1 0 -4.6 0M103.34 394.2a2.3 2.3 0 1 0 4.6 0a2.3 2.3 0 1 0 -4.6 0M67.06 402.7a2.3 2.3 0 1 0 4.6 0a2.3 2.3 0 1 0 -4.6 0M55.24 375.6a2.3 2.3 0 1 0 4.6 0a2.3 2.3 0 1 0 -4.6 0M52.19 358.4a2.3 2.3 0 1 0 4.6 0a2.3 2.3 0 1 0 -4.6 0M49.19 340.4a2.3 2.3 0 1 0 4.6 0a2.3 2.3 0 1 0 -4.6 0M50.29 372.4a2.3 2.3 0 1 0 4.6 0a2.3 2.3 0 1 0 -4.6 0M71.85 393.1a2.3 2.3 0 1 0 4.6 0a2.3 2.3 0 1 0 -4.6 0M47.44 338.4a2.3 2.3 0 1 0 4.6 0a2.3 2.3 0 1 0 -4.6 0M61.36 408.2a2.3 2.3 0 1 0 4.6 0a2.3 2.3 0 1 0 -4.6 0M109.38 389.3a2.3 2.3 0 1 0 4.6 0a2.3 2.3 0 1 0 -4.6 0M80.03 343.0a2.3 2.3 0 1 0 4.6 0a2.3 2.3 0 1 0 -4.6 0M109.20 392.4a2.3 2.3 0 1 0 4.6 0a2.3 2.3 0 1 0 -4.6 0M86.73 399.6a2.3 2.3 0 1 0 4.6 0a2.3 2.3 0 1 0 -4.6 0M57.94 355.4a2.3 2.3 0 1 0 4.6 0a2.3 2.3 0 1 0 -4.6 0M90.17 418.9a2.3 2.3 0 1 0 4.6 0a2.3 2.3 0 1 0 -4.6 0M101.60 388.3a2.3 2.3 0 1 0 4.6 0a2.3 2.3 0 1 0 -4.6 0M105.63 406.5a2.3 2.3 0 1 0 4.6 0a2.3 2.3 0 1 0 -4.6 0M54.58 369.7a2.3 2.3 0 1 0 4.6 0a2.3 2.3 0 1 0 -4.6 0M61.92 377.8a2.3 2.3 0 1 0 4.6 0a2.3 2.3 0 1 0 -4.6 0M45.76 336.9a2.3 2.3 0 1 0 4.6 0a2.3 2.3 0 1 0 -4.6 0M81.04 388.3a2.3 2.3 0 1 0 4.6 0a2.3 2.3 0 1 0 -4.6 0M73.62 424.2a2.3 2.3 0 1 0 4.6 0a2.3 2.3 0 1 0 -4.6 0M98.00 392.8a2.3 2.3 0 1 0 4.6 0a2.3 2.3 0 1 0 -4.6 0M78.26 350.5a2.3 2.3 0 1 0 4.6 0a2.3 2.3 0 1 0 -4.6 0M67.71 403.0a2.3 2.3 0 1 0 4.6 0a2.3 2.3 0 1 0 -4.6 0M50.89 346.3a2.3 2.3 0 1 0 4.6 0a2.3 2.3 0 1 0 -4.6 0M89.19 372.1a2.3 2.3 0 1 0 4.6 0a2.3 2.3 0 1 0 -4.6 0M65.85 406.1a2.3 2.3 0 1 0 4.6 0a2.3 2.3 0 1 0 -4.6 0M70.88 387.5a2.3 2.3 0 1 0 4.6 0a2.3 2.3 0 1 0 -4.6 0M98.83 386.5a2.3 2.3 0 1 0 4.6 0a2.3 2.3 0 1 0 -4.6 0M80.54 422.3a2.3 2.3 0 1 0 4.6 0a2.3 2.3 0 1 0 -4.6 0M71.75 394.7a2.3 2.3 0 1 0 4.6 0a2.3 2.3 0 1 0 -4.6 0M91.25 380.7a2.3 2.3 0 1 0 4.6 0a2.3 2.3 0 1 0 -4.6 0M59.26 378.8a2.3 2.3 0 1 0 4.6 0a2.3 2.3 0 1 0 -4.6 0M77.15 417.2a2.3 2.3 0 1 0 4.6 0a2.3 2.3 0 1 0 -4.6 0M103.39 398.4a2.3 2.3 0 1 0 4.6 0a2.3 2.3 0 1 0 -4.6 0M138.91 398.9a2.3 2.3 0 1 0 4.6 0a2.3 2.3 0 1 0 -4.6 0M54.37 345.0a2.3 2.3 0 1 0 4.6 0a2.3 2.3 0 1 0 -4.6 0M59.75 376.0a2.3 2.3 0 1 0 4.6 0a2.3 2.3 0 1 0 -4.6 0M73.18 402.4a2.3 2.3 0 1 0 4.6 0a2.3 2.3 0 1 0 -4.6 0M66.36 399.6a2.3 2.3 0 1 0 4.6 0a2.3 2.3 0 1 0 -4.6 0M56.35 355.3a2.3 2.3 0 1 0 4.6 0a2.3 2.3 0 1 0 -4.6 0M54.13 336.3a2.3 2.3 0 1 0 4.6 0a2.3 2.3 0 1 0 -4.6 0M48.86 329.7a2.3 2.3 0 1 0 4.6 0a2.3 2.3 0 1 0 -4.6 0M113.70 363.3a2.3 2.3 0 1 0 4.6 0a2.3 2.3 0 1 0 -4.6 0M56.63 344.6a2.3 2.3 0 1 0 4.6 0a2.3 2.3 0 1 0 -4.6 0M60.47 421.4a2.3 2.3 0 1 0 4.6 0a2.3 2.3 0 1 0 -4.6 0M61.01 403.2a2.3 2.3 0 1 0 4.6 0a2.3 2.3 0 1 0 -4.6 0M59.59 343.0a2.3 2.3 0 1 0 4.6 0a2.3 2.3 0 1 0 -4.6 0M74.61 405.2a2.3 2.3 0 1 0 4.6 0a2.3 2.3 0 1 0 -4.6 0M81.33 406.7a2.3 2.3 0 1 0 4.6 0a2.3 2.3 0 1 0 -4.6 0M84.80 379.7a2.3 2.3 0 1 0 4.6 0a2.3 2.3 0 1 0 -4.6 0M122.24 417.9a2.3 2.3 0 1 0 4.6 0a2.3 2.3 0 1 0 -4.6 0M66.74 421.9a2.3 2.3 0 1 0 4.6 0a2.3 2.3 0 1 0 -4.6 0M110.77 402.2a2.3 2.3 0 1 0 4.6 0a2.3 2.3 0 1 0 -4.6 0M57.52 342.6a2.3 2.3 0 1 0 4.6 0a2.3 2.3 0 1 0 -4.6 0M58.90 358.4a2.3 2.3 0 1 0 4.6 0a2.3 2.3 0 1 0 -4.6 0M54.69 381.1a2.3 2.3 0 1 0 4.6 0a2.3 2.3 0 1 0 -4.6 0M50.90 368.9a2.3 2.3 0 1 0 4.6 0a2.3 2.3 0 1 0 -4.6 0M67.38 392.6a2.3 2.3 0 1 0 4.6 0a2.3 2.3 0 1 0 -4.6 0M91.22 390.1a2.3 2.3 0 1 0 4.6 0a2.3 2.3 0 1 0 -4.6 0M105.57 398.0a2.3 2.3 0 1 0 4.6 0a2.3 2.3 0 1 0 -4.6 0M76.46 423.0a2.3 2.3 0 1 0 4.6 0a2.3 2.3 0 1 0 -4.6 0M82.59 416.4a2.3 2.3 0 1 0 4.6 0a2.3 2.3 0 1 0 -4.6 0M62.36 360.9a2.3 2.3 0 1 0 4.6 0a2.3 2.3 0 1 0 -4.6 0M59.86 409.5a2.3 2.3 0 1 0 4.6 0a2.3 2.3 0 1 0 -4.6 0M85.11 365.5a2.3 2.3 0 1 0 4.6 0a2.3 2.3 0 1 0 -4.6 0M96.11 418.9a2.3 2.3 0 1 0 4.6 0a2.3 2.3 0 1 0 -4.6 0M103.76 409.8a2.3 2.3 0 1 0 4.6 0a2.3 2.3 0 1 0 -4.6 0M66.93 407.1a2.3 2.3 0 1 0 4.6 0a2.3 2.3 0 1 0 -4.6 0M73.26 411.1a2.3 2.3 0 1 0 4.6 0a2.3 2.3 0 1 0 -4.6 0M76.40 415.2a2.3 2.3 0 1 0 4.6 0a2.3 2.3 0 1 0 -4.6 0M66.55 384.7a2.3 2.3 0 1 0 4.6 0a2.3 2.3 0 1 0 -4.6 0M64.75 354.6a2.3 2.3 0 1 0 4.6 0a2.3 2.3 0 1 0 -4.6 0M141.97 417.1a2.3 2.3 0 1 0 4.6 0a2.3 2.3 0 1 0 -4.6 0M101.11 414.0a2.3 2.3 0 1 0 4.6 0a2.3 2.3 0 1 0 -4.6 0M82.66 401.0a2.3 2.3 0 1 0 4.6 0a2.3 2.3 0 1 0 -4.6 0M108.02 390.0a2.3 2.3 0 1 0 4.6 0a2.3 2.3 0 1 0 -4.6 0M63.87 353.4a2.3 2.3 0 1 0 4.6 0a2.3 2.3 0 1 0 -4.6 0M79.12 415.2a2.3 2.3 0 1 0 4.6 0a2.3 2.3 0 1 0 -4.6 0M61.42 333.8a2.3 2.3 0 1 0 4.6 0a2.3 2.3 0 1 0 -4.6 0M90.23 375.2a2.3 2.3 0 1 0 4.6 0a2.3 2.3 0 1 0 -4.6 0M55.57 362.3a2.3 2.3 0 1 0 4.6 0a2.3 2.3 0 1 0 -4.6 0M58.92 332.6a2.3 2.3 0 1 0 4.6 0a2.3 2.3 0 1 0 -4.6 0M99.28 409.5a2.3 2.3 0 1 0 4.6 0a2.3 2.3 0 1 0 -4.6 0M80.54 403.0a2.3 2.3 0 1 0 4.6 0a2.3 2.3 0 1 0 -4.6 0M56.46 374.2a2.3 2.3 0 1 0 4.6 0a2.3 2.3 0 1 0 -4.6 0M79.04 384.4a2.3 2.3 0 1 0 4.6 0a2.3 2.3 0 1 0 -4.6 0M52.64 343.5a2.3 2.3 0 1 0 4.6 0a2.3 2.3 0 1 0 -4.6 0M76.86 414.4a2.3 2.3 0 1 0 4.6 0a2.3 2.3 0 1 0 -4.6 0M72.00 412.0a2.3 2.3 0 1 0 4.6 0a2.3 2.3 0 1 0 -4.6 0M120.54 390.9a2.3 2.3 0 1 0 4.6 0a2.3 2.3 0 1 0 -4.6 0M48.69 364.6a2.3 2.3 0 1 0 4.6 0a2.3 2.3 0 1 0 -4.6 0M76.78 399.1a2.3 2.3 0 1 0 4.6 0a2.3 2.3 0 1 0 -4.6 0M81.42 406.0a2.3 2.3 0 1 0 4.6 0a2.3 2.3 0 1 0 -4.6 0M56.00 347.8a2.3 2.3 0 1 0 4.6 0a2.3 2.3 0 1 0 -4.6 0M98.11 414.8a2.3 2.3 0 1 0 4.6 0a2.3 2.3 0 1 0 -4.6 0M70.50 357.7a2.3 2.3 0 1 0 4.6 0a2.3 2.3 0 1 0 -4.6 0M48.41 370.1a2.3 2.3 0 1 0 4.6 0a2.3 2.3 0 1 0 -4.6 0M80.42 373.5a2.3 2.3 0 1 0 4.6 0a2.3 2.3 0 1 0 -4.6 0M88.53 352.4a2.3 2.3 0 1 0 4.6 0a2.3 2.3 0 1 0 -4.6 0M107.26 381.9a2.3 2.3 0 1 0 4.6 0a2.3 2.3 0 1 0 -4.6 0M61.22 414.2a2.3 2.3 0 1 0 4.6 0a2.3 2.3 0 1 0 -4.6 0M102.30 392.2a2.3 2.3 0 1 0 4.6 0a2.3 2.3 0 1 0 -4.6 0M81.41 367.6a2.3 2.3 0 1 0 4.6 0a2.3 2.3 0 1 0 -4.6 0M76.92 405.9a2.3 2.3 0 1 0 4.6 0a2.3 2.3 0 1 0 -4.6 0M91.30 374.4a2.3 2.3 0 1 0 4.6 0a2.3 2.3 0 1 0 -4.6 0M83.51 384.6a2.3 2.3 0 1 0 4.6 0a2.3 2.3 0 1 0 -4.6 0M84.83 406.7a2.3 2.3 0 1 0 4.6 0a2.3 2.3 0 1 0 -4.6 0M70.24 398.6a2.3 2.3 0 1 0 4.6 0a2.3 2.3 0 1 0 -4.6 0M81.97 401.8a2.3 2.3 0 1 0 4.6 0a2.3 2.3 0 1 0 -4.6 0M56.75 345.6a2.3 2.3 0 1 0 4.6 0a2.3 2.3 0 1 0 -4.6 0M62.00 359.1a2.3 2.3 0 1 0 4.6 0a2.3 2.3 0 1 0 -4.6 0M47.32 347.0a2.3 2.3 0 1 0 4.6 0a2.3 2.3 0 1 0 -4.6 0M79.28 344.4a2.3 2.3 0 1 0 4.6 0a2.3 2.3 0 1 0 -4.6 0M89.40 373.0a2.3 2.3 0 1 0 4.6 0a2.3 2.3 0 1 0 -4.6 0M86.25 385.0a2.3 2.3 0 1 0 4.6 0a2.3 2.3 0 1 0 -4.6 0M76.17 395.2a2.3 2.3 0 1 0 4.6 0a2.3 2.3 0 1 0 -4.6 0M64.65 355.8a2.3 2.3 0 1 0 4.6 0a2.3 2.3 0 1 0 -4.6 0M91.14 381.1a2.3 2.3 0 1 0 4.6 0a2.3 2.3 0 1 0 -4.6 0M48.51 327.2a2.3 2.3 0 1 0 4.6 0a2.3 2.3 0 1 0 -4.6 0M74.70 396.0a2.3 2.3 0 1 0 4.6 0a2.3 2.3 0 1 0 -4.6 0M92.78 339.4a2.3 2.3 0 1 0 4.6 0a2.3 2.3 0 1 0 -4.6 0M134.10 398.1a2.3 2.3 0 1 0 4.6 0a2.3 2.3 0 1 0 -4.6 0M53.27 351.9a2.3 2.3 0 1 0 4.6 0a2.3 2.3 0 1 0 -4.6 0M112.19 413.8a2.3 2.3 0 1 0 4.6 0a2.3 2.3 0 1 0 -4.6 0M46.84 338.1a2.3 2.3 0 1 0 4.6 0a2.3 2.3 0 1 0 -4.6 0M97.56 415.7a2.3 2.3 0 1 0 4.6 0a2.3 2.3 0 1 0 -4.6 0M77.90 371.4a2.3 2.3 0 1 0 4.6 0a2.3 2.3 0 1 0 -4.6 0M56.69 325.5a2.3 2.3 0 1 0 4.6 0a2.3 2.3 0 1 0 -4.6 0M146.63 404.1a2.3 2.3 0 1 0 4.6 0a2.3 2.3 0 1 0 -4.6 0M80.48 417.3a2.3 2.3 0 1 0 4.6 0a2.3 2.3 0 1 0 -4.6 0M103.22 411.0a2.3 2.3 0 1 0 4.6 0a2.3 2.3 0 1 0 -4.6 0M55.11 339.3a2.3 2.3 0 1 0 4.6 0a2.3 2.3 0 1 0 -4.6 0M111.24 374.0a2.3 2.3 0 1 0 4.6 0a2.3 2.3 0 1 0 -4.6 0M48.93 368.6a2.3 2.3 0 1 0 4.6 0a2.3 2.3 0 1 0 -4.6 0M79.21 372.8a2.3 2.3 0 1 0 4.6 0a2.3 2.3 0 1 0 -4.6 0M78.10 391.4a2.3 2.3 0 1 0 4.6 0a2.3 2.3 0 1 0 -4.6 0M75.26 373.2a2.3 2.3 0 1 0 4.6 0a2.3 2.3 0 1 0 -4.6 0M78.54 374.7a2.3 2.3 0 1 0 4.6 0a2.3 2.3 0 1 0 -4.6 0M91.08 419.1a2.3 2.3 0 1 0 4.6 0a2.3 2.3 0 1 0 -4.6 0M107.37 364.1a2.3 2.3 0 1 0 4.6 0a2.3 2.3 0 1 0 -4.6 0M67.58 350.4a2.3 2.3 0 1 0 4.6 0a2.3 2.3 0 1 0 -4.6 0M88.63 366.0a2.3 2.3 0 1 0 4.6 0a2.3 2.3 0 1 0 -4.6 0M112.71 407.6a2.3 2.3 0 1 0 4.6 0a2.3 2.3 0 1 0 -4.6 0M46.10 361.0a2.3 2.3 0 1 0 4.6 0a2.3 2.3 0 1 0 -4.6 0M67.03 384.7a2.3 2.3 0 1 0 4.6 0a2.3 2.3 0 1 0 -4.6 0M78.77 384.5a2.3 2.3 0 1 0 4.6 0a2.3 2.3 0 1 0 -4.6 0M101.10 380.5a2.3 2.3 0 1 0 4.6 0a2.3 2.3 0 1 0 -4.6 0M84.07 376.7a2.3 2.3 0 1 0 4.6 0a2.3 2.3 0 1 0 -4.6 0M59.87 374.8a2.3 2.3 0 1 0 4.6 0a2.3 2.3 0 1 0 -4.6 0M73.72 414.9a2.3 2.3 0 1 0 4.6 0a2.3 2.3 0 1 0 -4.6 0M73.57 347.6a2.3 2.3 0 1 0 4.6 0a2.3 2.3 0 1 0 -4.6 0M74.25 348.8a2.3 2.3 0 1 0 4.6 0a2.3 2.3 0 1 0 -4.6 0M130.03 401.3a2.3 2.3 0 1 0 4.6 0a2.3 2.3 0 1 0 -4.6 0M49.13 347.9a2.3 2.3 0 1 0 4.6 0a2.3 2.3 0 1 0 -4.6 0M64.18 408.2a2.3 2.3 0 1 0 4.6 0a2.3 2.3 0 1 0 -4.6 0M66.76 371.1a2.3 2.3 0 1 0 4.6 0a2.3 2.3 0 1 0 -4.6 0M91.75 394.5a2.3 2.3 0 1 0 4.6 0a2.3 2.3 0 1 0 -4.6 0M82.79 375.7a2.3 2.3 0 1 0 4.6 0a2.3 2.3 0 1 0 -4.6 0M66.64 420.7a2.3 2.3 0 1 0 4.6 0a2.3 2.3 0 1 0 -4.6 0M72.77 349.1a2.3 2.3 0 1 0 4.6 0a2.3 2.3 0 1 0 -4.6 0M97.00 377.2a2.3 2.3 0 1 0 4.6 0a2.3 2.3 0 1 0 -4.6 0M50.39 362.0a2.3 2.3 0 1 0 4.6 0a2.3 2.3 0 1 0 -4.6 0M55.37 359.6a2.3 2.3 0 1 0 4.6 0a2.3 2.3 0 1 0 -4.6 0M69.31 414.0a2.3 2.3 0 1 0 4.6 0a2.3 2.3 0 1 0 -4.6 0M76.17 372.2a2.3 2.3 0 1 0 4.6 0a2.3 2.3 0 1 0 -4.6 0M116.41 381.1a2.3 2.3 0 1 0 4.6 0a2.3 2.3 0 1 0 -4.6 0M98.14 402.3a2.3 2.3 0 1 0 4.6 0a2.3 2.3 0 1 0 -4.6 0M127.23 377.5a2.3 2.3 0 1 0 4.6 0a2.3 2.3 0 1 0 -4.6 0M67.30 344.0a2.3 2.3 0 1 0 4.6 0a2.3 2.3 0 1 0 -4.6 0M63.33 348.2a2.3 2.3 0 1 0 4.6 0a2.3 2.3 0 1 0 -4.6 0M62.09 377.7a2.3 2.3 0 1 0 4.6 0a2.3 2.3 0 1 0 -4.6 0M99.38 382.6a2.3 2.3 0 1 0 4.6 0a2.3 2.3 0 1 0 -4.6 0M51.75 337.1a2.3 2.3 0 1 0 4.6 0a2.3 2.3 0 1 0 -4.6 0M68.54 345.0a2.3 2.3 0 1 0 4.6 0a2.3 2.3 0 1 0 -4.6 0M80.77 402.7a2.3 2.3 0 1 0 4.6 0a2.3 2.3 0 1 0 -4.6 0M84.74 390.6a2.3 2.3 0 1 0 4.6 0a2.3 2.3 0 1 0 -4.6 0M103.13 393.5a2.3 2.3 0 1 0 4.6 0a2.3 2.3 0 1 0 -4.6 0M78.08 372.5a2.3 2.3 0 1 0 4.6 0a2.3 2.3 0 1 0 -4.6 0M46.55 324.7a2.3 2.3 0 1 0 4.6 0a2.3 2.3 0 1 0 -4.6 0M73.49 422.5a2.3 2.3 0 1 0 4.6 0a2.3 2.3 0 1 0 -4.6 0M75.94 343.0a2.3 2.3 0 1 0 4.6 0a2.3 2.3 0 1 0 -4.6 0M84.86 420.9a2.3 2.3 0 1 0 4.6 0a2.3 2.3 0 1 0 -4.6 0M67.15 331.8a2.3 2.3 0 1 0 4.6 0a2.3 2.3 0 1 0 -4.6 0M60.28 412.3a2.3 2.3 0 1 0 4.6 0a2.3 2.3 0 1 0 -4.6 0M99.02 395.2a2.3 2.3 0 1 0 4.6 0a2.3 2.3 0 1 0 -4.6 0M71.48 405.8a2.3 2.3 0 1 0 4.6 0a2.3 2.3 0 1 0 -4.6 0M89.82 405.0a2.3 2.3 0 1 0 4.6 0a2.3 2.3 0 1 0 -4.6 0M46.53 363.2a2.3 2.3 0 1 0 4.6 0a2.3 2.3 0 1 0 -4.6 0M59.45 359.8a2.3 2.3 0 1 0 4.6 0a2.3 2.3 0 1 0 -4.6 0M54.73 356.9a2.3 2.3 0 1 0 4.6 0a2.3 2.3 0 1 0 -4.6 0M79.65 401.1a2.3 2.3 0 1 0 4.6 0a2.3 2.3 0 1 0 -4.6 0M78.25 354.4a2.3 2.3 0 1 0 4.6 0a2.3 2.3 0 1 0 -4.6 0M88.27 334.6a2.3 2.3 0 1 0 4.6 0a2.3 2.3 0 1 0 -4.6 0M91.63 392.1a2.3 2.3 0 1 0 4.6 0a2.3 2.3 0 1 0 -4.6 0M55.74 378.6a2.3 2.3 0 1 0 4.6 0a2.3 2.3 0 1 0 -4.6 0M51.35 321.9a2.3 2.3 0 1 0 4.6 0a2.3 2.3 0 1 0 -4.6 0M100.10 408.0a2.3 2.3 0 1 0 4.6 0a2.3 2.3 0 1 0 -4.6 0M107.45 394.9a2.3 2.3 0 1 0 4.6 0a2.3 2.3 0 1 0 -4.6 0M90.77 366.3a2.3 2.3 0 1 0 4.6 0a2.3 2.3 0 1 0 -4.6 0M78.83 419.0a2.3 2.3 0 1 0 4.6 0a2.3 2.3 0 1 0 -4.6 0M71.69 388.2a2.3 2.3 0 1 0 4.6 0a2.3 2.3 0 1 0 -4.6 0M88.80 377.7a2.3 2.3 0 1 0 4.6 0a2.3 2.3 0 1 0 -4.6 0M47.11 362.6a2.3 2.3 0 1 0 4.6 0a2.3 2.3 0 1 0 -4.6 0M80.47 358.0a2.3 2.3 0 1 0 4.6 0a2.3 2.3 0 1 0 -4.6 0M79.44 389.0a2.3 2.3 0 1 0 4.6 0a2.3 2.3 0 1 0 -4.6 0M73.82 419.8a2.3 2.3 0 1 0 4.6 0a2.3 2.3 0 1 0 -4.6 0M63.97 375.0a2.3 2.3 0 1 0 4.6 0a2.3 2.3 0 1 0 -4.6 0M85.49 414.3a2.3 2.3 0 1 0 4.6 0a2.3 2.3 0 1 0 -4.6 0M68.09 363.1a2.3 2.3 0 1 0 4.6 0a2.3 2.3 0 1 0 -4.6 0M46.59 320.0a2.3 2.3 0 1 0 4.6 0a2.3 2.3 0 1 0 -4.6 0M98.73 404.9a2.3 2.3 0 1 0 4.6 0a2.3 2.3 0 1 0 -4.6 0M61.50 363.4a2.3 2.3 0 1 0 4.6 0a2.3 2.3 0 1 0 -4.6 0M74.19 362.9a2.3 2.3 0 1 0 4.6 0a2.3 2.3 0 1 0 -4.6 0M151.74 410.5a2.3 2.3 0 1 0 4.6 0a2.3 2.3 0 1 0 -4.6 0M49.47 326.3a2.3 2.3 0 1 0 4.6 0a2.3 2.3 0 1 0 -4.6 0M58.91 395.3a2.3 2.3 0 1 0 4.6 0a2.3 2.3 0 1 0 -4.6 0M61.84 415.4a2.3 2.3 0 1 0 4.6 0a2.3 2.3 0 1 0 -4.6 0M71.15 362.8a2.3 2.3 0 1 0 4.6 0a2.3 2.3 0 1 0 -4.6 0M85.07 368.2a2.3 2.3 0 1 0 4.6 0a2.3 2.3 0 1 0 -4.6 0M85.28 396.4a2.3 2.3 0 1 0 4.6 0a2.3 2.3 0 1 0 -4.6 0M92.56 404.1a2.3 2.3 0 1 0 4.6 0a2.3 2.3 0 1 0 -4.6 0M67.46 378.6a2.3 2.3 0 1 0 4.6 0a2.3 2.3 0 1 0 -4.6 0M54.28 422.9a2.3 2.3 0 1 0 4.6 0a2.3 2.3 0 1 0 -4.6 0M67.16 356.8a2.3 2.3 0 1 0 4.6 0a2.3 2.3 0 1 0 -4.6 0M87.41 413.3a2.3 2.3 0 1 0 4.6 0a2.3 2.3 0 1 0 -4.6 0M86.29 363.7a2.3 2.3 0 1 0 4.6 0a2.3 2.3 0 1 0 -4.6 0M108.02 385.8a2.3 2.3 0 1 0 4.6 0a2.3 2.3 0 1 0 -4.6 0M88.57 403.2a2.3 2.3 0 1 0 4.6 0a2.3 2.3 0 1 0 -4.6 0M57.34 348.6a2.3 2.3 0 1 0 4.6 0a2.3 2.3 0 1 0 -4.6 0M93.34 394.7a2.3 2.3 0 1 0 4.6 0a2.3 2.3 0 1 0 -4.6 0M60.58 405.7a2.3 2.3 0 1 0 4.6 0a2.3 2.3 0 1 0 -4.6 0M55.41 338.0a2.3 2.3 0 1 0 4.6 0a2.3 2.3 0 1 0 -4.6 0M88.21 363.7a2.3 2.3 0 1 0 4.6 0a2.3 2.3 0 1 0 -4.6 0M94.74 386.4a2.3 2.3 0 1 0 4.6 0a2.3 2.3 0 1 0 -4.6 0M98.78 378.6a2.3 2.3 0 1 0 4.6 0a2.3 2.3 0 1 0 -4.6 0M47.06 335.0a2.3 2.3 0 1 0 4.6 0a2.3 2.3 0 1 0 -4.6 0M73.76 379.2a2.3 2.3 0 1 0 4.6 0a2.3 2.3 0 1 0 -4.6 0M67.72 369.2a2.3 2.3 0 1 0 4.6 0a2.3 2.3 0 1 0 -4.6 0M94.49 398.6a2.3 2.3 0 1 0 4.6 0a2.3 2.3 0 1 0 -4.6 0M88.48 375.2a2.3 2.3 0 1 0 4.6 0a2.3 2.3 0 1 0 -4.6 0M77.60 423.1a2.3 2.3 0 1 0 4.6 0a2.3 2.3 0 1 0 -4.6 0M79.35 357.5a2.3 2.3 0 1 0 4.6 0a2.3 2.3 0 1 0 -4.6 0M73.14 388.4a2.3 2.3 0 1 0 4.6 0a2.3 2.3 0 1 0 -4.6 0M68.16 400.2a2.3 2.3 0 1 0 4.6 0a2.3 2.3 0 1 0 -4.6 0M63.82 330.6a2.3 2.3 0 1 0 4.6 0a2.3 2.3 0 1 0 -4.6 0M145.05 358.3a2.3 2.3 0 1 0 4.6 0a2.3 2.3 0 1 0 -4.6 0M79.95 373.3a2.3 2.3 0 1 0 4.6 0a2.3 2.3 0 1 0 -4.6 0M63.67 408.4a2.3 2.3 0 1 0 4.6 0a2.3 2.3 0 1 0 -4.6 0M79.08 351.9a2.3 2.3 0 1 0 4.6 0a2.3 2.3 0 1 0 -4.6 0M79.13 388.4a2.3 2.3 0 1 0 4.6 0a2.3 2.3 0 1 0 -4.6 0M79.76 409.5a2.3 2.3 0 1 0 4.6 0a2.3 2.3 0 1 0 -4.6 0M46.98 360.4a2.3 2.3 0 1 0 4.6 0a2.3 2.3 0 1 0 -4.6 0M72.55 345.1a2.3 2.3 0 1 0 4.6 0a2.3 2.3 0 1 0 -4.6 0M99.17 359.3a2.3 2.3 0 1 0 4.6 0a2.3 2.3 0 1 0 -4.6 0M88.24 377.2a2.3 2.3 0 1 0 4.6 0a2.3 2.3 0 1 0 -4.6 0M90.43 368.4a2.3 2.3 0 1 0 4.6 0a2.3 2.3 0 1 0 -4.6 0M90.66 367.4a2.3 2.3 0 1 0 4.6 0a2.3 2.3 0 1 0 -4.6 0M74.11 355.0a2.3 2.3 0 1 0 4.6 0a2.3 2.3 0 1 0 -4.6 0M67.09 372.0a2.3 2.3 0 1 0 4.6 0a2.3 2.3 0 1 0 -4.6 0M69.12 417.0a2.3 2.3 0 1 0 4.6 0a2.3 2.3 0 1 0 -4.6 0M92.04 374.4a2.3 2.3 0 1 0 4.6 0a2.3 2.3 0 1 0 -4.6 0M77.65 398.3a2.3 2.3 0 1 0 4.6 0a2.3 2.3 0 1 0 -4.6 0M70.22 368.3a2.3 2.3 0 1 0 4.6 0a2.3 2.3 0 1 0 -4.6 0M95.34 419.5a2.3 2.3 0 1 0 4.6 0a2.3 2.3 0 1 0 -4.6 0M61.94 341.4a2.3 2.3 0 1 0 4.6 0a2.3 2.3 0 1 0 -4.6 0M69.14 408.0a2.3 2.3 0 1 0 4.6 0a2.3 2.3 0 1 0 -4.6 0M122.47 392.0a2.3 2.3 0 1 0 4.6 0a2.3 2.3 0 1 0 -4.6 0M46.97 326.5a2.3 2.3 0 1 0 4.6 0a2.3 2.3 0 1 0 -4.6 0M105.18 421.7a2.3 2.3 0 1 0 4.6 0a2.3 2.3 0 1 0 -4.6 0M92.69 387.1a2.3 2.3 0 1 0 4.6 0a2.3 2.3 0 1 0 -4.6 0M97.87 369.5a2.3 2.3 0 1 0 4.6 0a2.3 2.3 0 1 0 -4.6 0M74.76 414.5a2.3 2.3 0 1 0 4.6 0a2.3 2.3 0 1 0 -4.6 0M102.34 397.6a2.3 2.3 0 1 0 4.6 0a2.3 2.3 0 1 0 -4.6 0M58.62 417.8a2.3 2.3 0 1 0 4.6 0a2.3 2.3 0 1 0 -4.6 0M73.21 398.2a2.3 2.3 0 1 0 4.6 0a2.3 2.3 0 1 0 -4.6 0M83.22 400.5a2.3 2.3 0 1 0 4.6 0a2.3 2.3 0 1 0 -4.6 0M68.52 401.5a2.3 2.3 0 1 0 4.6 0a2.3 2.3 0 1 0 -4.6 0M59.20 358.2a2.3 2.3 0 1 0 4.6 0a2.3 2.3 0 1 0 -4.6 0M86.31 413.2a2.3 2.3 0 1 0 4.6 0a2.3 2.3 0 1 0 -4.6 0M104.71 376.0a2.3 2.3 0 1 0 4.6 0a2.3 2.3 0 1 0 -4.6 0M53.25 353.1a2.3 2.3 0 1 0 4.6 0a2.3 2.3 0 1 0 -4.6 0M124.50 409.1a2.3 2.3 0 1 0 4.6 0a2.3 2.3 0 1 0 -4.6 0M79.93 378.1a2.3 2.3 0 1 0 4.6 0a2.3 2.3 0 1 0 -4.6 0M67.16 346.2a2.3 2.3 0 1 0 4.6 0a2.3 2.3 0 1 0 -4.6 0M47.88 339.6a2.3 2.3 0 1 0 4.6 0a2.3 2.3 0 1 0 -4.6 0M47.81 319.4a2.3 2.3 0 1 0 4.6 0a2.3 2.3 0 1 0 -4.6 0M80.46 392.2a2.3 2.3 0 1 0 4.6 0a2.3 2.3 0 1 0 -4.6 0M78.69 410.0a2.3 2.3 0 1 0 4.6 0a2.3 2.3 0 1 0 -4.6 0M97.48 366.8a2.3 2.3 0 1 0 4.6 0a2.3 2.3 0 1 0 -4.6 0M82.86 400.1a2.3 2.3 0 1 0 4.6 0a2.3 2.3 0 1 0 -4.6 0M108.18 383.4a2.3 2.3 0 1 0 4.6 0a2.3 2.3 0 1 0 -4.6 0M57.34 342.5a2.3 2.3 0 1 0 4.6 0a2.3 2.3 0 1 0 -4.6 0M86.06 384.1a2.3 2.3 0 1 0 4.6 0a2.3 2.3 0 1 0 -4.6 0M114.45 388.8a2.3 2.3 0 1 0 4.6 0a2.3 2.3 0 1 0 -4.6 0M88.34 386.6a2.3 2.3 0 1 0 4.6 0a2.3 2.3 0 1 0 -4.6 0M58.61 414.3a2.3 2.3 0 1 0 4.6 0a2.3 2.3 0 1 0 -4.6 0M75.37 369.5a2.3 2.3 0 1 0 4.6 0a2.3 2.3 0 1 0 -4.6 0M87.67 359.4a2.3 2.3 0 1 0 4.6 0a2.3 2.3 0 1 0 -4.6 0M96.19 359.1a2.3 2.3 0 1 0 4.6 0a2.3 2.3 0 1 0 -4.6 0M54.07 359.6a2.3 2.3 0 1 0 4.6 0a2.3 2.3 0 1 0 -4.6 0M65.10 390.6a2.3 2.3 0 1 0 4.6 0a2.3 2.3 0 1 0 -4.6 0M57.24 373.6a2.3 2.3 0 1 0 4.6 0a2.3 2.3 0 1 0 -4.6 0M73.57 351.7a2.3 2.3 0 1 0 4.6 0a2.3 2.3 0 1 0 -4.6 0M90.58 378.5a2.3 2.3 0 1 0 4.6 0a2.3 2.3 0 1 0 -4.6 0M74.99 404.8a2.3 2.3 0 1 0 4.6 0a2.3 2.3 0 1 0 -4.6 0M69.09 394.4a2.3 2.3 0 1 0 4.6 0a2.3 2.3 0 1 0 -4.6 0M55.89 385.3a2.3 2.3 0 1 0 4.6 0a2.3 2.3 0 1 0 -4.6 0M90.68 409.1a2.3 2.3 0 1 0 4.6 0a2.3 2.3 0 1 0 -4.6 0M130.24 369.9a2.3 2.3 0 1 0 4.6 0a2.3 2.3 0 1 0 -4.6 0M61.50 420.1a2.3 2.3 0 1 0 4.6 0a2.3 2.3 0 1 0 -4.6 0M66.91 372.0a2.3 2.3 0 1 0 4.6 0a2.3 2.3 0 1 0 -4.6 0M88.99 414.9a2.3 2.3 0 1 0 4.6 0a2.3 2.3 0 1 0 -4.6 0M82.46 401.7a2.3 2.3 0 1 0 4.6 0a2.3 2.3 0 1 0 -4.6 0M52.44 368.3a2.3 2.3 0 1 0 4.6 0a2.3 2.3 0 1 0 -4.6 0M56.06 371.8a2.3 2.3 0 1 0 4.6 0a2.3 2.3 0 1 0 -4.6 0M92.43 412.4a2.3 2.3 0 1 0 4.6 0a2.3 2.3 0 1 0 -4.6 0M65.84 369.7a2.3 2.3 0 1 0 4.6 0a2.3 2.3 0 1 0 -4.6 0M87.18 409.0a2.3 2.3 0 1 0 4.6 0a2.3 2.3 0 1 0 -4.6 0M80.92 342.1a2.3 2.3 0 1 0 4.6 0a2.3 2.3 0 1 0 -4.6 0M71.75 375.7a2.3 2.3 0 1 0 4.6 0a2.3 2.3 0 1 0 -4.6 0M86.54 383.1a2.3 2.3 0 1 0 4.6 0a2.3 2.3 0 1 0 -4.6 0M77.68 403.1a2.3 2.3 0 1 0 4.6 0a2.3 2.3 0 1 0 -4.6 0M76.24 418.2a2.3 2.3 0 1 0 4.6 0a2.3 2.3 0 1 0 -4.6 0M64.11 340.2a2.3 2.3 0 1 0 4.6 0a2.3 2.3 0 1 0 -4.6 0M73.05 412.3a2.3 2.3 0 1 0 4.6 0a2.3 2.3 0 1 0 -4.6 0M73.59 345.1a2.3 2.3 0 1 0 4.6 0a2.3 2.3 0 1 0 -4.6 0M65.38 365.0a2.3 2.3 0 1 0 4.6 0a2.3 2.3 0 1 0 -4.6 0M110.83 391.5a2.3 2.3 0 1 0 4.6 0a2.3 2.3 0 1 0 -4.6 0M75.27 361.4a2.3 2.3 0 1 0 4.6 0a2.3 2.3 0 1 0 -4.6 0M88.91 370.2a2.3 2.3 0 1 0 4.6 0a2.3 2.3 0 1 0 -4.6 0M99.99 406.0a2.3 2.3 0 1 0 4.6 0a2.3 2.3 0 1 0 -4.6 0M78.56 374.8a2.3 2.3 0 1 0 4.6 0a2.3 2.3 0 1 0 -4.6 0M50.50 352.3a2.3 2.3 0 1 0 4.6 0a2.3 2.3 0 1 0 -4.6 0M71.41 397.9a2.3 2.3 0 1 0 4.6 0a2.3 2.3 0 1 0 -4.6 0M46.25 331.0a2.3 2.3 0 1 0 4.6 0a2.3 2.3 0 1 0 -4.6 0M110.56 423.1a2.3 2.3 0 1 0 4.6 0a2.3 2.3 0 1 0 -4.6 0M74.16 364.9a2.3 2.3 0 1 0 4.6 0a2.3 2.3 0 1 0 -4.6 0M72.45 339.9a2.3 2.3 0 1 0 4.6 0a2.3 2.3 0 1 0 -4.6 0M51.45 353.5a2.3 2.3 0 1 0 4.6 0a2.3 2.3 0 1 0 -4.6 0M103.39 400.1a2.3 2.3 0 1 0 4.6 0a2.3 2.3 0 1 0 -4.6 0M71.33 424.0a2.3 2.3 0 1 0 4.6 0a2.3 2.3 0 1 0 -4.6 0M65.90 417.2a2.3 2.3 0 1 0 4.6 0a2.3 2.3 0 1 0 -4.6 0M74.47 405.1a2.3 2.3 0 1 0 4.6 0a2.3 2.3 0 1 0 -4.6 0M90.82 415.6a2.3 2.3 0 1 0 4.6 0a2.3 2.3 0 1 0 -4.6 0M50.02 329.3a2.3 2.3 0 1 0 4.6 0a2.3 2.3 0 1 0 -4.6 0M101.31 395.7a2.3 2.3 0 1 0 4.6 0a2.3 2.3 0 1 0 -4.6 0M84.19 385.6a2.3 2.3 0 1 0 4.6 0a2.3 2.3 0 1 0 -4.6 0M58.61 393.3a2.3 2.3 0 1 0 4.6 0a2.3 2.3 0 1 0 -4.6 0M57.64 331.4a2.3 2.3 0 1 0 4.6 0a2.3 2.3 0 1 0 -4.6 0M48.78 348.8a2.3 2.3 0 1 0 4.6 0a2.3 2.3 0 1 0 -4.6 0M76.44 408.6a2.3 2.3 0 1 0 4.6 0a2.3 2.3 0 1 0 -4.6 0M93.14 408.2a2.3 2.3 0 1 0 4.6 0a2.3 2.3 0 1 0 -4.6 0M91.74 408.3a2.3 2.3 0 1 0 4.6 0a2.3 2.3 0 1 0 -4.6 0M76.02 403.2a2.3 2.3 0 1 0 4.6 0a2.3 2.3 0 1 0 -4.6 0M69.91 422.2a2.3 2.3 0 1 0 4.6 0a2.3 2.3 0 1 0 -4.6 0M103.78 391.4a2.3 2.3 0 1 0 4.6 0a2.3 2.3 0 1 0 -4.6 0M89.83 399.8a2.3 2.3 0 1 0 4.6 0a2.3 2.3 0 1 0 -4.6 0M83.33 349.0a2.3 2.3 0 1 0 4.6 0a2.3 2.3 0 1 0 -4.6 0M64.93 360.1a2.3 2.3 0 1 0 4.6 0a2.3 2.3 0 1 0 -4.6 0M60.79 403.6a2.3 2.3 0 1 0 4.6 0a2.3 2.3 0 1 0 -4.6 0M50.80 371.9a2.3 2.3 0 1 0 4.6 0a2.3 2.3 0 1 0 -4.6 0M69.31 350.3a2.3 2.3 0 1 0 4.6 0a2.3 2.3 0 1 0 -4.6 0M49.65 352.6a2.3 2.3 0 1 0 4.6 0a2.3 2.3 0 1 0 -4.6 0M97.31 365.9a2.3 2.3 0 1 0 4.6 0a2.3 2.3 0 1 0 -4.6 0M65.72 417.1a2.3 2.3 0 1 0 4.6 0a2.3 2.3 0 1 0 -4.6 0M46.61 344.0a2.3 2.3 0 1 0 4.6 0a2.3 2.3 0 1 0 -4.6 0M66.31 420.3a2.3 2.3 0 1 0 4.6 0a2.3 2.3 0 1 0 -4.6 0M92.35 397.7a2.3 2.3 0 1 0 4.6 0a2.3 2.3 0 1 0 -4.6 0M47.36 322.0a2.3 2.3 0 1 0 4.6 0a2.3 2.3 0 1 0 -4.6 0M51.75 365.4a2.3 2.3 0 1 0 4.6 0a2.3 2.3 0 1 0 -4.6 0M71.83 375.4a2.3 2.3 0 1 0 4.6 0a2.3 2.3 0 1 0 -4.6 0M110.58 419.5a2.3 2.3 0 1 0 4.6 0a2.3 2.3 0 1 0 -4.6 0M66.13 374.2a2.3 2.3 0 1 0 4.6 0a2.3 2.3 0 1 0 -4.6 0M68.72 399.0a2.3 2.3 0 1 0 4.6 0a2.3 2.3 0 1 0 -4.6 0M69.40 409.6a2.3 2.3 0 1 0 4.6 0a2.3 2.3 0 1 0 -4.6 0M77.73 413.7a2.3 2.3 0 1 0 4.6 0a2.3 2.3 0 1 0 -4.6 0M86.11 421.8a2.3 2.3 0 1 0 4.6 0a2.3 2.3 0 1 0 -4.6 0M82.91 361.8a2.3 2.3 0 1 0 4.6 0a2.3 2.3 0 1 0 -4.6 0M58.12 375.3a2.3 2.3 0 1 0 4.6 0a2.3 2.3 0 1 0 -4.6 0M49.98 370.9a2.3 2.3 0 1 0 4.6 0a2.3 2.3 0 1 0 -4.6 0M53.04 355.6a2.3 2.3 0 1 0 4.6 0a2.3 2.3 0 1 0 -4.6 0M65.49 409.5a2.3 2.3 0 1 0 4.6 0a2.3 2.3 0 1 0 -4.6 0M88.10 386.1a2.3 2.3 0 1 0 4.6 0a2.3 2.3 0 1 0 -4.6 0M52.98 361.6a2.3 2.3 0 1 0 4.6 0a2.3 2.3 0 1 0 -4.6 0M96.07 422.0a2.3 2.3 0 1 0 4.6 0a2.3 2.3 0 1 0 -4.6 0M104.24 405.8a2.3 2.3 0 1 0 4.6 0a2.3 2.3 0 1 0 -4.6 0M77.80 408.9a2.3 2.3 0 1 0 4.6 0a2.3 2.3 0 1 0 -4.6 0M51.18 324.1a2.3 2.3 0 1 0 4.6 0a2.3 2.3 0 1 0 -4.6 0M97.10 417.5a2.3 2.3 0 1 0 4.6 0a2.3 2.3 0 1 0 -4.6 0M103.24 413.8a2.3 2.3 0 1 0 4.6 0a2.3 2.3 0 1 0 -4.6 0M98.40 379.0a2.3 2.3 0 1 0 4.6 0a2.3 2.3 0 1 0 -4.6 0M56.48 333.2a2.3 2.3 0 1 0 4.6 0a2.3 2.3 0 1 0 -4.6 0M46.74 328.3a2.3 2.3 0 1 0 4.6 0a2.3 2.3 0 1 0 -4.6 0M91.39 420.8a2.3 2.3 0 1 0 4.6 0a2.3 2.3 0 1 0 -4.6 0M65.03 399.2a2.3 2.3 0 1 0 4.6 0a2.3 2.3 0 1 0 -4.6 0M80.99 380.3a2.3 2.3 0 1 0 4.6 0a2.3 2.3 0 1 0 -4.6 0M76.98 378.3a2.3 2.3 0 1 0 4.6 0a2.3 2.3 0 1 0 -4.6 0M93.68 411.7a2.3 2.3 0 1 0 4.6 0a2.3 2.3 0 1 0 -4.6 0M51.20 376.2a2.3 2.3 0 1 0 4.6 0a2.3 2.3 0 1 0 -4.6 0M67.77 401.6a2.3 2.3 0 1 0 4.6 0a2.3 2.3 0 1 0 -4.6 0M72.08 328.3a2.3 2.3 0 1 0 4.6 0a2.3 2.3 0 1 0 -4.6 0M68.27 421.9a2.3 2.3 0 1 0 4.6 0a2.3 2.3 0 1 0 -4.6 0M82.58 365.4a2.3 2.3 0 1 0 4.6 0a2.3 2.3 0 1 0 -4.6 0M79.42 365.4a2.3 2.3 0 1 0 4.6 0a2.3 2.3 0 1 0 -4.6 0M107.75 392.7a2.3 2.3 0 1 0 4.6 0a2.3 2.3 0 1 0 -4.6 0M91.49 402.8a2.3 2.3 0 1 0 4.6 0a2.3 2.3 0 1 0 -4.6 0M59.52 386.7a2.3 2.3 0 1 0 4.6 0a2.3 2.3 0 1 0 -4.6 0M98.78 405.9a2.3 2.3 0 1 0 4.6 0a2.3 2.3 0 1 0 -4.6 0M96.45 402.8a2.3 2.3 0 1 0 4.6 0a2.3 2.3 0 1 0 -4.6 0M75.42 424.3a2.3 2.3 0 1 0 4.6 0a2.3 2.3 0 1 0 -4.6 0M125.51 406.6a2.3 2.3 0 1 0 4.6 0a2.3 2.3 0 1 0 -4.6 0M79.65 390.1a2.3 2.3 0 1 0 4.6 0a2.3 2.3 0 1 0 -4.6 0M86.71 342.1a2.3 2.3 0 1 0 4.6 0a2.3 2.3 0 1 0 -4.6 0M106.74 413.5a2.3 2.3 0 1 0 4.6 0a2.3 2.3 0 1 0 -4.6 0M54.87 366.9a2.3 2.3 0 1 0 4.6 0a2.3 2.3 0 1 0 -4.6 0M68.05 360.1a2.3 2.3 0 1 0 4.6 0a2.3 2.3 0 1 0 -4.6 0M52.18 340.8a2.3 2.3 0 1 0 4.6 0a2.3 2.3 0 1 0 -4.6 0M56.68 347.0a2.3 2.3 0 1 0 4.6 0a2.3 2.3 0 1 0 -4.6 0M62.53 407.3a2.3 2.3 0 1 0 4.6 0a2.3 2.3 0 1 0 -4.6 0M99.29 411.0a2.3 2.3 0 1 0 4.6 0a2.3 2.3 0 1 0 -4.6 0M86.88 404.7a2.3 2.3 0 1 0 4.6 0a2.3 2.3 0 1 0 -4.6 0M54.57 353.1a2.3 2.3 0 1 0 4.6 0a2.3 2.3 0 1 0 -4.6 0M111.31 389.3a2.3 2.3 0 1 0 4.6 0a2.3 2.3 0 1 0 -4.6 0M49.11 363.0a2.3 2.3 0 1 0 4.6 0a2.3 2.3 0 1 0 -4.6 0M96.76 393.0a2.3 2.3 0 1 0 4.6 0a2.3 2.3 0 1 0 -4.6 0M46.90 333.9a2.3 2.3 0 1 0 4.6 0a2.3 2.3 0 1 0 -4.6 0M92.16 358.4a2.3 2.3 0 1 0 4.6 0a2.3 2.3 0 1 0 -4.6 0M103.12 366.6a2.3 2.3 0 1 0 4.6 0a2.3 2.3 0 1 0 -4.6 0M64.93 384.8a2.3 2.3 0 1 0 4.6 0a2.3 2.3 0 1 0 -4.6 0M78.92 384.5a2.3 2.3 0 1 0 4.6 0a2.3 2.3 0 1 0 -4.6 0M103.17 379.7a2.3 2.3 0 1 0 4.6 0a2.3 2.3 0 1 0 -4.6 0M60.34 366.4a2.3 2.3 0 1 0 4.6 0a2.3 2.3 0 1 0 -4.6 0M103.52 366.8a2.3 2.3 0 1 0 4.6 0a2.3 2.3 0 1 0 -4.6 0M59.27 335.7a2.3 2.3 0 1 0 4.6 0a2.3 2.3 0 1 0 -4.6 0M63.20 369.9a2.3 2.3 0 1 0 4.6 0a2.3 2.3 0 1 0 -4.6 0M80.11 395.3a2.3 2.3 0 1 0 4.6 0a2.3 2.3 0 1 0 -4.6 0M68.96 367.6a2.3 2.3 0 1 0 4.6 0a2.3 2.3 0 1 0 -4.6 0M69.98 404.5a2.3 2.3 0 1 0 4.6 0a2.3 2.3 0 1 0 -4.6 0M65.47 380.9a2.3 2.3 0 1 0 4.6 0a2.3 2.3 0 1 0 -4.6 0M67.29 356.8a2.3 2.3 0 1 0 4.6 0a2.3 2.3 0 1 0 -4.6 0M63.21 383.1a2.3 2.3 0 1 0 4.6 0a2.3 2.3 0 1 0 -4.6 0M96.42 383.2a2.3 2.3 0 1 0 4.6 0a2.3 2.3 0 1 0 -4.6 0M58.20 362.9a2.3 2.3 0 1 0 4.6 0a2.3 2.3 0 1 0 -4.6 0M70.64 423.6a2.3 2.3 0 1 0 4.6 0a2.3 2.3 0 1 0 -4.6 0M59.53 401.0a2.3 2.3 0 1 0 4.6 0a2.3 2.3 0 1 0 -4.6 0M146.93 386.4a2.3 2.3 0 1 0 4.6 0a2.3 2.3 0 1 0 -4.6 0M85.63 418.9a2.3 2.3 0 1 0 4.6 0a2.3 2.3 0 1 0 -4.6 0M102.28 414.0a2.3 2.3 0 1 0 4.6 0a2.3 2.3 0 1 0 -4.6 0M67.96 411.1a2.3 2.3 0 1 0 4.6 0a2.3 2.3 0 1 0 -4.6 0M93.94 396.0a2.3 2.3 0 1 0 4.6 0a2.3 2.3 0 1 0 -4.6 0M74.55 411.4a2.3 2.3 0 1 0 4.6 0a2.3 2.3 0 1 0 -4.6 0M87.23 408.1a2.3 2.3 0 1 0 4.6 0a2.3 2.3 0 1 0 -4.6 0M106.90 377.7a2.3 2.3 0 1 0 4.6 0a2.3 2.3 0 1 0 -4.6 0M74.84 354.8a2.3 2.3 0 1 0 4.6 0a2.3 2.3 0 1 0 -4.6 0M82.57 367.1a2.3 2.3 0 1 0 4.6 0a2.3 2.3 0 1 0 -4.6 0M95.86 394.6a2.3 2.3 0 1 0 4.6 0a2.3 2.3 0 1 0 -4.6 0M56.05 423.8a2.3 2.3 0 1 0 4.6 0a2.3 2.3 0 1 0 -4.6 0M58.30 344.7a2.3 2.3 0 1 0 4.6 0a2.3 2.3 0 1 0 -4.6 0M62.69 402.9a2.3 2.3 0 1 0 4.6 0a2.3 2.3 0 1 0 -4.6 0M48.45 353.1a2.3 2.3 0 1 0 4.6 0a2.3 2.3 0 1 0 -4.6 0M64.18 416.8a2.3 2.3 0 1 0 4.6 0a2.3 2.3 0 1 0 -4.6 0M88.02 358.1a2.3 2.3 0 1 0 4.6 0a2.3 2.3 0 1 0 -4.6 0M79.27 379.2a2.3 2.3 0 1 0 4.6 0a2.3 2.3 0 1 0 -4.6 0M53.33 378.0a2.3 2.3 0 1 0 4.6 0a2.3 2.3 0 1 0 -4.6 0M113.36 414.6a2.3 2.3 0 1 0 4.6 0a2.3 2.3 0 1 0 -4.6 0M48.33 353.1a2.3 2.3 0 1 0 4.6 0a2.3 2.3 0 1 0 -4.6 0M53.64 345.7a2.3 2.3 0 1 0 4.6 0a2.3 2.3 0 1 0 -4.6 0M77.29 367.1a2.3 2.3 0 1 0 4.6 0a2.3 2.3 0 1 0 -4.6 0M54.35 360.1a2.3 2.3 0 1 0 4.6 0a2.3 2.3 0 1 0 -4.6 0M50.51 339.1a2.3 2.3 0 1 0 4.6 0a2.3 2.3 0 1 0 -4.6 0M47.97 337.1a2.3 2.3 0 1 0 4.6 0a2.3 2.3 0 1 0 -4.6 0M68.42 370.8a2.3 2.3 0 1 0 4.6 0a2.3 2.3 0 1 0 -4.6 0M109.90 391.3a2.3 2.3 0 1 0 4.6 0a2.3 2.3 0 1 0 -4.6 0M88.27 392.9a2.3 2.3 0 1 0 4.6 0a2.3 2.3 0 1 0 -4.6 0M79.93 374.5a2.3 2.3 0 1 0 4.6 0a2.3 2.3 0 1 0 -4.6 0M78.31 424.3a2.3 2.3 0 1 0 4.6 0a2.3 2.3 0 1 0 -4.6 0M55.83 378.0a2.3 2.3 0 1 0 4.6 0a2.3 2.3 0 1 0 -4.6 0M96.91 383.4a2.3 2.3 0 1 0 4.6 0a2.3 2.3 0 1 0 -4.6 0M93.32 381.2a2.3 2.3 0 1 0 4.6 0a2.3 2.3 0 1 0 -4.6 0M109.92 401.6a2.3 2.3 0 1 0 4.6 0a2.3 2.3 0 1 0 -4.6 0M92.20 413.2a2.3 2.3 0 1 0 4.6 0a2.3 2.3 0 1 0 -4.6 0M155.83 386.5a2.3 2.3 0 1 0 4.6 0a2.3 2.3 0 1 0 -4.6 0M122.34 406.7a2.3 2.3 0 1 0 4.6 0a2.3 2.3 0 1 0 -4.6 0M109.89 387.2a2.3 2.3 0 1 0 4.6 0a2.3 2.3 0 1 0 -4.6 0M70.78 419.2a2.3 2.3 0 1 0 4.6 0a2.3 2.3 0 1 0 -4.6 0M83.22 383.2a2.3 2.3 0 1 0 4.6 0a2.3 2.3 0 1 0 -4.6 0M72.93 371.9a2.3 2.3 0 1 0 4.6 0a2.3 2.3 0 1 0 -4.6 0M86.58 410.3a2.3 2.3 0 1 0 4.6 0a2.3 2.3 0 1 0 -4.6 0M143.92 376.7a2.3 2.3 0 1 0 4.6 0a2.3 2.3 0 1 0 -4.6 0M61.78 356.6a2.3 2.3 0 1 0 4.6 0a2.3 2.3 0 1 0 -4.6 0M98.45 370.5a2.3 2.3 0 1 0 4.6 0a2.3 2.3 0 1 0 -4.6 0M76.02 369.2a2.3 2.3 0 1 0 4.6 0a2.3 2.3 0 1 0 -4.6 0M89.11 399.5a2.3 2.3 0 1 0 4.6 0a2.3 2.3 0 1 0 -4.6 0M86.23 363.8a2.3 2.3 0 1 0 4.6 0a2.3 2.3 0 1 0 -4.6 0M83.66 374.0a2.3 2.3 0 1 0 4.6 0a2.3 2.3 0 1 0 -4.6 0M71.60 363.0a2.3 2.3 0 1 0 4.6 0a2.3 2.3 0 1 0 -4.6 0M55.42 350.3a2.3 2.3 0 1 0 4.6 0a2.3 2.3 0 1 0 -4.6 0M54.21 364.9a2.3 2.3 0 1 0 4.6 0a2.3 2.3 0 1 0 -4.6 0M81.62 416.8a2.3 2.3 0 1 0 4.6 0a2.3 2.3 0 1 0 -4.6 0M91.33 413.3a2.3 2.3 0 1 0 4.6 0a2.3 2.3 0 1 0 -4.6 0M77.86 368.4a2.3 2.3 0 1 0 4.6 0a2.3 2.3 0 1 0 -4.6 0M59.97 390.1a2.3 2.3 0 1 0 4.6 0a2.3 2.3 0 1 0 -4.6 0M61.93 392.8a2.3 2.3 0 1 0 4.6 0a2.3 2.3 0 1 0 -4.6 0M92.65 384.4a2.3 2.3 0 1 0 4.6 0a2.3 2.3 0 1 0 -4.6 0M70.24 376.8a2.3 2.3 0 1 0 4.6 0a2.3 2.3 0 1 0 -4.6 0M65.42 375.8a2.3 2.3 0 1 0 4.6 0a2.3 2.3 0 1 0 -4.6 0M91.52 410.7a2.3 2.3 0 1 0 4.6 0a2.3 2.3 0 1 0 -4.6 0M75.34 362.6a2.3 2.3 0 1 0 4.6 0a2.3 2.3 0 1 0 -4.6 0M49.53 423.8a2.3 2.3 0 1 0 4.6 0a2.3 2.3 0 1 0 -4.6 0M87.83 395.3a2.3 2.3 0 1 0 4.6 0a2.3 2.3 0 1 0 -4.6 0M63.15 358.1a2.3 2.3 0 1 0 4.6 0a2.3 2.3 0 1 0 -4.6 0M47.86 365.6a2.3 2.3 0 1 0 4.6 0a2.3 2.3 0 1 0 -4.6 0M62.41 384.6a2.3 2.3 0 1 0 4.6 0a2.3 2.3 0 1 0 -4.6 0M65.86 419.5a2.3 2.3 0 1 0 4.6 0a2.3 2.3 0 1 0 -4.6 0M97.46 356.2a2.3 2.3 0 1 0 4.6 0a2.3 2.3 0 1 0 -4.6 0M63.82 355.6a2.3 2.3 0 1 0 4.6 0a2.3 2.3 0 1 0 -4.6 0M77.79 419.1a2.3 2.3 0 1 0 4.6 0a2.3 2.3 0 1 0 -4.6 0M53.96 423.8a2.3 2.3 0 1 0 4.6 0a2.3 2.3 0 1 0 -4.6 0M113.36 402.5a2.3 2.3 0 1 0 4.6 0a2.3 2.3 0 1 0 -4.6 0M84.31 402.9a2.3 2.3 0 1 0 4.6 0a2.3 2.3 0 1 0 -4.6 0M99.42 385.8a2.3 2.3 0 1 0 4.6 0a2.3 2.3 0 1 0 -4.6 0M56.41 350.6a2.3 2.3 0 1 0 4.6 0a2.3 2.3 0 1 0 -4.6 0M107.21 416.8a2.3 2.3 0 1 0 4.6 0a2.3 2.3 0 1 0 -4.6 0M56.55 356.9a2.3 2.3 0 1 0 4.6 0a2.3 2.3 0 1 0 -4.6 0" fill="none" stroke="#1a476f" stroke-width="1.3"/>
<path d="M35.4 278.4V430.4H326.5" fill="none" stroke="#404040" stroke-width="1.1"/>
<line x1="29.9" y1="422.1" x2="35.4" y2="422.1" stroke="#404040" stroke-width="1.1"/>
<text transform="translate(24.90 422.10) scale(0.95 1) rotate(-90)" text-anchor="middle" class="tk">0</text>
<line x1="29.9" y1="389.6" x2="35.4" y2="389.6" stroke="#404040" stroke-width="1.1"/>
<text transform="translate(24.90 389.60) scale(0.95 1) rotate(-90)" text-anchor="middle" class="tk">.1</text>
<line x1="29.9" y1="357.1" x2="35.4" y2="357.1" stroke="#404040" stroke-width="1.1"/>
<text transform="translate(24.90 357.10) scale(0.95 1) rotate(-90)" text-anchor="middle" class="tk">.2</text>
<line x1="29.9" y1="324.6" x2="35.4" y2="324.6" stroke="#404040" stroke-width="1.1"/>
<text transform="translate(24.90 324.60) scale(0.95 1) rotate(-90)" text-anchor="middle" class="tk">.3</text>
<line x1="29.9" y1="292.1" x2="35.4" y2="292.1" stroke="#404040" stroke-width="1.1"/>
<text transform="translate(24.90 292.10) scale(0.95 1) rotate(-90)" text-anchor="middle" class="tk">.4</text>
<line x1="44.3" y1="430.4" x2="44.3" y2="435.6" stroke="#404040" stroke-width="1.1"/>
<text transform="translate(44.30 451.80) scale(0.95 1)" text-anchor="middle" class="tk">0</text>
<line x1="135.4" y1="430.4" x2="135.4" y2="435.6" stroke="#404040" stroke-width="1.1"/>
<text transform="translate(135.40 451.80) scale(0.95 1)" text-anchor="middle" class="tk">.5</text>
<line x1="226.5" y1="430.4" x2="226.5" y2="435.6" stroke="#404040" stroke-width="1.1"/>
<text transform="translate(226.50 451.80) scale(0.95 1)" text-anchor="middle" class="tk">1</text>
<line x1="317.6" y1="430.4" x2="317.6" y2="435.6" stroke="#404040" stroke-width="1.1"/>
<text transform="translate(317.60 451.80) scale(0.95 1)" text-anchor="middle" class="tk">1.5</text>
<text transform="translate(180.95 465.70) scale(0.95 1)" text-anchor="middle" class="at">EPAP</text>
<text transform="translate(11.90 354.40) scale(0.95 1) rotate(-90)" text-anchor="middle" class="at">rCFTI</text>
<text transform="translate(32.30 272.60) scale(0.95 1)" text-anchor="start" class="tt">rCFTI = 0.0670 + 0.2860 EPAP −0 .1795 EPAP</text>
<text transform="translate(324.20 263.60) scale(0.88 1)" text-anchor="start" class="sp">2</text>
<text transform="translate(37.80 482.60) scale(0.95 1)" text-anchor="start" class="nt"><tspan font-style="italic">n</tspan> = 3293</text>
<text transform="translate(94.80 482.60) scale(0.93 1)" text-anchor="start" class="nt">RMSE = 0.0786</text>
<line x1="391.8" y1="422.1" x2="684" y2="422.1" stroke="#e6eef2" stroke-width="1"/>
<line x1="391.8" y1="389.6" x2="684" y2="389.6" stroke="#e6eef2" stroke-width="1"/>
<line x1="391.8" y1="357.1" x2="684" y2="357.1" stroke="#e6eef2" stroke-width="1"/>
<line x1="391.8" y1="324.6" x2="684" y2="324.6" stroke="#e6eef2" stroke-width="1"/>
<line x1="391.8" y1="292.1" x2="684" y2="292.1" stroke="#e6eef2" stroke-width="1"/>
<path d="M424.6 381.4 L428.7 378.9 L432.9 376.4 L437.0 374.1 L441.2 371.8 L445.3 369.6 L449.5 367.5 L453.6 365.5 L457.8 363.5 L461.9 361.7 L466.1 359.9 L470.2 358.2 L474.4 356.6 L478.5 355.0 L482.7 353.6 L486.8 352.2 L491.0 350.9 L495.1 349.6 L499.3 348.5 L503.4 347.4 L507.6 346.4 L511.7 345.5 L515.9 344.7 L520.0 344.0 L524.2 343.3 L528.3 342.7 L532.5 342.2 L536.6 341.8 L540.8 341.5 L544.9 341.2 L549.1 341.0 L553.2 340.9 L557.4 340.9 L561.5 341.0 L565.7 341.1 L569.8 341.3 L574.0 341.6 L578.1 342.0 L582.3 342.5 L586.4 343.0 L590.6 343.6 L594.7 344.3 L598.9 345.1 L603.0 346.0 L607.2 346.9 L611.3 347.9 L615.5 349.0 L619.6 350.2 L623.8 351.5 L627.9 352.8 L632.1 354.2 L636.2 355.7 L640.4 357.3 L644.5 359.0 L648.7 360.7 L652.8 362.6 L657.0 364.5 L661.1 366.5 L665.3 368.5 L669.4 370.7 L673.6 372.9" fill="none" stroke="#fa0505" stroke-width="3.3"/>

<path d="M397.5 307.0 L402.0 307.0 L404.0 325.0 L406.0 345.0 L408.0 365.0 L410.0 385.0 L410.0 400.0 L408.0 412.0 L404.0 420.0 L397.5 423.5Z" fill="#1a476f" stroke="#1a476f" stroke-width="1.5" stroke-linejoin="round"/>
<path d="M425.80 287.0a2.3 2.3 0 1 0 4.6 0a2.3 2.3 0 1 0 -4.6 0M430.80 287.0a2.3 2.3 0 1 0 4.6 0a2.3 2.3 0 1 0 -4.6 0M442.80 287.0a2.3 2.3 0 1 0 4.6 0a2.3 2.3 0 1 0 -4.6 0M444.70 287.0a2.3 2.3 0 1 0 4.6 0a2.3 2.3 0 1 0 -4.6 0M408.70 290.4a2.3 2.3 0 1 0 4.6 0a2.3 2.3 0 1 0 -4.6 0M421.40 296.3a2.3 2.3 0 1 0 4.6 0a2.3 2.3 0 1 0 -4.6 0M441.40 298.0a2.3 2.3 0 1 0 4.6 0a2.3 2.3 0 1 0 -4.6 0M440.70 302.8a2.3 2.3 0 1 0 4.6 0a2.3 2.3 0 1 0 -4.6 0M403.50 300.0a2.3 2.3 0 1 0 4.6 0a2.3 2.3 0 1 0 -4.6 0M398.00 300.0a2.3 2.3 0 1 0 4.6 0a2.3 2.3 0 1 0 -4.6 0M398.70 296.6a2.3 2.3 0 1 0 4.6 0a2.3 2.3 0 1 0 -4.6 0M401.40 296.6a2.3 2.3 0 1 0 4.6 0a2.3 2.3 0 1 0 -4.6 0M398.00 293.2a2.3 2.3 0 1 0 4.6 0a2.3 2.3 0 1 0 -4.6 0M401.40 291.8a2.3 2.3 0 1 0 4.6 0a2.3 2.3 0 1 0 -4.6 0M408.30 306.3a2.3 2.3 0 1 0 4.6 0a2.3 2.3 0 1 0 -4.6 0M412.40 306.3a2.3 2.3 0 1 0 4.6 0a2.3 2.3 0 1 0 -4.6 0M414.50 305.6a2.3 2.3 0 1 0 4.6 0a2.3 2.3 0 1 0 -4.6 0M425.50 305.6a2.3 2.3 0 1 0 4.6 0a2.3 2.3 0 1 0 -4.6 0M427.60 304.5a2.3 2.3 0 1 0 4.6 0a2.3 2.3 0 1 0 -4.6 0M433.10 306.7a2.3 2.3 0 1 0 4.6 0a2.3 2.3 0 1 0 -4.6 0M443.20 309.4a2.3 2.3 0 1 0 4.6 0a2.3 2.3 0 1 0 -4.6 0M452.40 309.0a2.3 2.3 0 1 0 4.6 0a2.3 2.3 0 1 0 -4.6 0M472.80 311.8a2.3 2.3 0 1 0 4.6 0a2.3 2.3 0 1 0 -4.6 0M459.70 315.9a2.3 2.3 0 1 0 4.6 0a2.3 2.3 0 1 0 -4.6 0M455.20 318.9a2.3 2.3 0 1 0 4.6 0a2.3 2.3 0 1 0 -4.6 0M442.50 318.4a2.3 2.3 0 1 0 4.6 0a2.3 2.3 0 1 0 -4.6 0M420.70 315.2a2.3 2.3 0 1 0 4.6 0a2.3 2.3 0 1 0 -4.6 0M416.60 316.6a2.3 2.3 0 1 0 4.6 0a2.3 2.3 0 1 0 -4.6 0M415.20 319.3a2.3 2.3 0 1 0 4.6 0a2.3 2.3 0 1 0 -4.6 0M412.40 322.8a2.3 2.3 0 1 0 4.6 0a2.3 2.3 0 1 0 -4.6 0M417.30 322.1a2.3 2.3 0 1 0 4.6 0a2.3 2.3 0 1 0 -4.6 0M427.60 323.5a2.3 2.3 0 1 0 4.6 0a2.3 2.3 0 1 0 -4.6 0M403.50 307.6a2.3 2.3 0 1 0 4.6 0a2.3 2.3 0 1 0 -4.6 0M404.20 311.1a2.3 2.3 0 1 0 4.6 0a2.3 2.3 0 1 0 -4.6 0M406.20 313.1a2.3 2.3 0 1 0 4.6 0a2.3 2.3 0 1 0 -4.6 0M409.00 311.1a2.3 2.3 0 1 0 4.6 0a2.3 2.3 0 1 0 -4.6 0M410.40 315.2a2.3 2.3 0 1 0 4.6 0a2.3 2.3 0 1 0 -4.6 0M407.60 318.0a2.3 2.3 0 1 0 4.6 0a2.3 2.3 0 1 0 -4.6 0M408.30 322.1a2.3 2.3 0 1 0 4.6 0a2.3 2.3 0 1 0 -4.6 0M411.10 324.9a2.3 2.3 0 1 0 4.6 0a2.3 2.3 0 1 0 -4.6 0M406.20 326.2a2.3 2.3 0 1 0 4.6 0a2.3 2.3 0 1 0 -4.6 0M418.00 329.7a2.3 2.3 0 1 0 4.6 0a2.3 2.3 0 1 0 -4.6 0M420.00 330.4a2.3 2.3 0 1 0 4.6 0a2.3 2.3 0 1 0 -4.6 0M440.00 328.7a2.3 2.3 0 1 0 4.6 0a2.3 2.3 0 1 0 -4.6 0M437.20 334.5a2.3 2.3 0 1 0 4.6 0a2.3 2.3 0 1 0 -4.6 0M440.00 336.6a2.3 2.3 0 1 0 4.6 0a2.3 2.3 0 1 0 -4.6 0M447.60 332.4a2.3 2.3 0 1 0 4.6 0a2.3 2.3 0 1 0 -4.6 0M446.20 336.6a2.3 2.3 0 1 0 4.6 0a2.3 2.3 0 1 0 -4.6 0M444.60 340.0a2.3 2.3 0 1 0 4.6 0a2.3 2.3 0 1 0 -4.6 0M452.80 330.4a2.3 2.3 0 1 0 4.6 0a2.3 2.3 0 1 0 -4.6 0M456.50 333.5a2.3 2.3 0 1 0 4.6 0a2.3 2.3 0 1 0 -4.6 0M455.60 340.0a2.3 2.3 0 1 0 4.6 0a2.3 2.3 0 1 0 -4.6 0M423.50 335.9a2.3 2.3 0 1 0 4.6 0a2.3 2.3 0 1 0 -4.6 0M424.20 338.6a2.3 2.3 0 1 0 4.6 0a2.3 2.3 0 1 0 -4.6 0M414.50 337.3a2.3 2.3 0 1 0 4.6 0a2.3 2.3 0 1 0 -4.6 0M417.30 340.7a2.3 2.3 0 1 0 4.6 0a2.3 2.3 0 1 0 -4.6 0M420.70 341.4a2.3 2.3 0 1 0 4.6 0a2.3 2.3 0 1 0 -4.6 0M431.00 340.7a2.3 2.3 0 1 0 4.6 0a2.3 2.3 0 1 0 -4.6 0M435.20 342.8a2.3 2.3 0 1 0 4.6 0a2.3 2.3 0 1 0 -4.6 0M464.80 342.8a2.3 2.3 0 1 0 4.6 0a2.3 2.3 0 1 0 -4.6 0M469.60 342.8a2.3 2.3 0 1 0 4.6 0a2.3 2.3 0 1 0 -4.6 0M474.00 342.8a2.3 2.3 0 1 0 4.6 0a2.3 2.3 0 1 0 -4.6 0M478.60 342.8a2.3 2.3 0 1 0 4.6 0a2.3 2.3 0 1 0 -4.6 0M466.50 343.0a2.3 2.3 0 1 0 4.6 0a2.3 2.3 0 1 0 -4.6 0M466.50 347.0a2.3 2.3 0 1 0 4.6 0a2.3 2.3 0 1 0 -4.6 0M448.60 351.0a2.3 2.3 0 1 0 4.6 0a2.3 2.3 0 1 0 -4.6 0M453.60 351.0a2.3 2.3 0 1 0 4.6 0a2.3 2.3 0 1 0 -4.6 0M458.50 352.0a2.3 2.3 0 1 0 4.6 0a2.3 2.3 0 1 0 -4.6 0M449.60 355.0a2.3 2.3 0 1 0 4.6 0a2.3 2.3 0 1 0 -4.6 0M459.50 355.0a2.3 2.3 0 1 0 4.6 0a2.3 2.3 0 1 0 -4.6 0M458.50 360.0a2.3 2.3 0 1 0 4.6 0a2.3 2.3 0 1 0 -4.6 0M469.50 364.9a2.3 2.3 0 1 0 4.6 0a2.3 2.3 0 1 0 -4.6 0M471.50 362.9a2.3 2.3 0 1 0 4.6 0a2.3 2.3 0 1 0 -4.6 0M477.50 355.0a2.3 2.3 0 1 0 4.6 0a2.3 2.3 0 1 0 -4.6 0M478.50 360.0a2.3 2.3 0 1 0 4.6 0a2.3 2.3 0 1 0 -4.6 0M457.60 370.9a2.3 2.3 0 1 0 4.6 0a2.3 2.3 0 1 0 -4.6 0M462.50 374.9a2.3 2.3 0 1 0 4.6 0a2.3 2.3 0 1 0 -4.6 0M471.50 372.9a2.3 2.3 0 1 0 4.6 0a2.3 2.3 0 1 0 -4.6 0M449.60 368.9a2.3 2.3 0 1 0 4.6 0a2.3 2.3 0 1 0 -4.6 0M451.60 374.9a2.3 2.3 0 1 0 4.6 0a2.3 2.3 0 1 0 -4.6 0M465.50 382.9a2.3 2.3 0 1 0 4.6 0a2.3 2.3 0 1 0 -4.6 0M469.50 380.9a2.3 2.3 0 1 0 4.6 0a2.3 2.3 0 1 0 -4.6 0M473.50 383.9a2.3 2.3 0 1 0 4.6 0a2.3 2.3 0 1 0 -4.6 0M470.50 384.9a2.3 2.3 0 1 0 4.6 0a2.3 2.3 0 1 0 -4.6 0M464.50 388.9a2.3 2.3 0 1 0 4.6 0a2.3 2.3 0 1 0 -4.6 0M465.50 391.9a2.3 2.3 0 1 0 4.6 0a2.3 2.3 0 1 0 -4.6 0M478.50 383.9a2.3 2.3 0 1 0 4.6 0a2.3 2.3 0 1 0 -4.6 0M459.50 395.9a2.3 2.3 0 1 0 4.6 0a2.3 2.3 0 1 0 -4.6 0M457.60 399.9a2.3 2.3 0 1 0 4.6 0a2.3 2.3 0 1 0 -4.6 0M453.60 398.9a2.3 2.3 0 1 0 4.6 0a2.3 2.3 0 1 0 -4.6 0M449.60 404.8a2.3 2.3 0 1 0 4.6 0a2.3 2.3 0 1 0 -4.6 0M443.60 403.8a2.3 2.3 0 1 0 4.6 0a2.3 2.3 0 1 0 -4.6 0M432.60 410.8a2.3 2.3 0 1 0 4.6 0a2.3 2.3 0 1 0 -4.6 0M439.60 402.9a2.3 2.3 0 1 0 4.6 0a2.3 2.3 0 1 0 -4.6 0M437.60 398.9a2.3 2.3 0 1 0 4.6 0a2.3 2.3 0 1 0 -4.6 0M447.60 390.9a2.3 2.3 0 1 0 4.6 0a2.3 2.3 0 1 0 -4.6 0M449.60 387.9a2.3 2.3 0 1 0 4.6 0a2.3 2.3 0 1 0 -4.6 0M443.60 383.9a2.3 2.3 0 1 0 4.6 0a2.3 2.3 0 1 0 -4.6 0M446.60 380.9a2.3 2.3 0 1 0 4.6 0a2.3 2.3 0 1 0 -4.6 0M497.10 289.6a2.3 2.3 0 1 0 4.6 0a2.3 2.3 0 1 0 -4.6 0M537.00 290.4a2.3 2.3 0 1 0 4.6 0a2.3 2.3 0 1 0 -4.6 0M538.70 295.3a2.3 2.3 0 1 0 4.6 0a2.3 2.3 0 1 0 -4.6 0M560.50 286.8a2.3 2.3 0 1 0 4.6 0a2.3 2.3 0 1 0 -4.6 0M581.40 288.9a2.3 2.3 0 1 0 4.6 0a2.3 2.3 0 1 0 -4.6 0M584.10 286.8a2.3 2.3 0 1 0 4.6 0a2.3 2.3 0 1 0 -4.6 0M489.80 302.1a2.3 2.3 0 1 0 4.6 0a2.3 2.3 0 1 0 -4.6 0M487.30 307.4a2.3 2.3 0 1 0 4.6 0a2.3 2.3 0 1 0 -4.6 0M511.00 306.6a2.3 2.3 0 1 0 4.6 0a2.3 2.3 0 1 0 -4.6 0M488.20 323.0a2.3 2.3 0 1 0 4.6 0a2.3 2.3 0 1 0 -4.6 0M491.30 321.7a2.3 2.3 0 1 0 4.6 0a2.3 2.3 0 1 0 -4.6 0M475.70 311.7a2.3 2.3 0 1 0 4.6 0a2.3 2.3 0 1 0 -4.6 0M543.50 326.5a2.3 2.3 0 1 0 4.6 0a2.3 2.3 0 1 0 -4.6 0M552.30 320.9a2.3 2.3 0 1 0 4.6 0a2.3 2.3 0 1 0 -4.6 0M570.90 318.9a2.3 2.3 0 1 0 4.6 0a2.3 2.3 0 1 0 -4.6 0M555.50 335.0a2.3 2.3 0 1 0 4.6 0a2.3 2.3 0 1 0 -4.6 0M583.60 334.7a2.3 2.3 0 1 0 4.6 0a2.3 2.3 0 1 0 -4.6 0M498.20 338.7a2.3 2.3 0 1 0 4.6 0a2.3 2.3 0 1 0 -4.6 0M552.00 343.8a2.3 2.3 0 1 0 4.6 0a2.3 2.3 0 1 0 -4.6 0M565.60 340.6a2.3 2.3 0 1 0 4.6 0a2.3 2.3 0 1 0 -4.6 0M480.00 348.7a2.3 2.3 0 1 0 4.6 0a2.3 2.3 0 1 0 -4.6 0M484.50 350.2a2.3 2.3 0 1 0 4.6 0a2.3 2.3 0 1 0 -4.6 0M477.70 352.6a2.3 2.3 0 1 0 4.6 0a2.3 2.3 0 1 0 -4.6 0M514.80 347.3a2.3 2.3 0 1 0 4.6 0a2.3 2.3 0 1 0 -4.6 0M556.20 349.1a2.3 2.3 0 1 0 4.6 0a2.3 2.3 0 1 0 -4.6 0M573.80 359.4a2.3 2.3 0 1 0 4.6 0a2.3 2.3 0 1 0 -4.6 0M585.10 359.4a2.3 2.3 0 1 0 4.6 0a2.3 2.3 0 1 0 -4.6 0M480.60 363.9a2.3 2.3 0 1 0 4.6 0a2.3 2.3 0 1 0 -4.6 0M482.50 369.8a2.3 2.3 0 1 0 4.6 0a2.3 2.3 0 1 0 -4.6 0M488.40 361.4a2.3 2.3 0 1 0 4.6 0a2.3 2.3 0 1 0 -4.6 0M494.30 358.8a2.3 2.3 0 1 0 4.6 0a2.3 2.3 0 1 0 -4.6 0M500.10 357.5a2.3 2.3 0 1 0 4.6 0a2.3 2.3 0 1 0 -4.6 0M502.10 360.8a2.3 2.3 0 1 0 4.6 0a2.3 2.3 0 1 0 -4.6 0M514.80 359.4a2.3 2.3 0 1 0 4.6 0a2.3 2.3 0 1 0 -4.6 0M521.60 360.0a2.3 2.3 0 1 0 4.6 0a2.3 2.3 0 1 0 -4.6 0M530.00 362.7a2.3 2.3 0 1 0 4.6 0a2.3 2.3 0 1 0 -4.6 0M510.50 366.3a2.3 2.3 0 1 0 4.6 0a2.3 2.3 0 1 0 -4.6 0M512.80 370.6a2.3 2.3 0 1 0 4.6 0a2.3 2.3 0 1 0 -4.6 0M523.60 366.7a2.3 2.3 0 1 0 4.6 0a2.3 2.3 0 1 0 -4.6 0M524.50 368.6a2.3 2.3 0 1 0 4.6 0a2.3 2.3 0 1 0 -4.6 0M500.70 368.6a2.3 2.3 0 1 0 4.6 0a2.3 2.3 0 1 0 -4.6 0M541.20 365.3a2.3 2.3 0 1 0 4.6 0a2.3 2.3 0 1 0 -4.6 0M544.10 371.3a2.3 2.3 0 1 0 4.6 0a2.3 2.3 0 1 0 -4.6 0M552.30 366.3a2.3 2.3 0 1 0 4.6 0a2.3 2.3 0 1 0 -4.6 0M486.40 378.0a2.3 2.3 0 1 0 4.6 0a2.3 2.3 0 1 0 -4.6 0M489.40 376.6a2.3 2.3 0 1 0 4.6 0a2.3 2.3 0 1 0 -4.6 0M494.30 374.1a2.3 2.3 0 1 0 4.6 0a2.3 2.3 0 1 0 -4.6 0M500.10 377.6a2.3 2.3 0 1 0 4.6 0a2.3 2.3 0 1 0 -4.6 0M509.90 377.0a2.3 2.3 0 1 0 4.6 0a2.3 2.3 0 1 0 -4.6 0M524.50 376.0a2.3 2.3 0 1 0 4.6 0a2.3 2.3 0 1 0 -4.6 0M527.50 377.0a2.3 2.3 0 1 0 4.6 0a2.3 2.3 0 1 0 -4.6 0M530.40 375.1a2.3 2.3 0 1 0 4.6 0a2.3 2.3 0 1 0 -4.6 0M530.40 380.9a2.3 2.3 0 1 0 4.6 0a2.3 2.3 0 1 0 -4.6 0M535.90 379.5a2.3 2.3 0 1 0 4.6 0a2.3 2.3 0 1 0 -4.6 0M522.20 383.5a2.3 2.3 0 1 0 4.6 0a2.3 2.3 0 1 0 -4.6 0M547.60 376.0a2.3 2.3 0 1 0 4.6 0a2.3 2.3 0 1 0 -4.6 0M549.00 379.0a2.3 2.3 0 1 0 4.6 0a2.3 2.3 0 1 0 -4.6 0M547.60 384.8a2.3 2.3 0 1 0 4.6 0a2.3 2.3 0 1 0 -4.6 0M555.80 383.8a2.3 2.3 0 1 0 4.6 0a2.3 2.3 0 1 0 -4.6 0M555.40 386.8a2.3 2.3 0 1 0 4.6 0a2.3 2.3 0 1 0 -4.6 0M481.60 383.8a2.3 2.3 0 1 0 4.6 0a2.3 2.3 0 1 0 -4.6 0M488.40 383.8a2.3 2.3 0 1 0 4.6 0a2.3 2.3 0 1 0 -4.6 0M490.90 380.9a2.3 2.3 0 1 0 4.6 0a2.3 2.3 0 1 0 -4.6 0M491.30 387.4a2.3 2.3 0 1 0 4.6 0a2.3 2.3 0 1 0 -4.6 0M499.10 386.2a2.3 2.3 0 1 0 4.6 0a2.3 2.3 0 1 0 -4.6 0M502.10 383.5a2.3 2.3 0 1 0 4.6 0a2.3 2.3 0 1 0 -4.6 0M504.60 389.7a2.3 2.3 0 1 0 4.6 0a2.3 2.3 0 1 0 -4.6 0M511.80 387.4a2.3 2.3 0 1 0 4.6 0a2.3 2.3 0 1 0 -4.6 0M480.60 390.3a2.3 2.3 0 1 0 4.6 0a2.3 2.3 0 1 0 -4.6 0M501.10 393.6a2.3 2.3 0 1 0 4.6 0a2.3 2.3 0 1 0 -4.6 0M518.30 391.3a2.3 2.3 0 1 0 4.6 0a2.3 2.3 0 1 0 -4.6 0M520.60 391.7a2.3 2.3 0 1 0 4.6 0a2.3 2.3 0 1 0 -4.6 0M486.40 396.5a2.3 2.3 0 1 0 4.6 0a2.3 2.3 0 1 0 -4.6 0M490.90 396.0a2.3 2.3 0 1 0 4.6 0a2.3 2.3 0 1 0 -4.6 0M496.20 400.5a2.3 2.3 0 1 0 4.6 0a2.3 2.3 0 1 0 -4.6 0M503.60 402.4a2.3 2.3 0 1 0 4.6 0a2.3 2.3 0 1 0 -4.6 0M516.70 399.9a2.3 2.3 0 1 0 4.6 0a2.3 2.3 0 1 0 -4.6 0M540.20 397.1a2.3 2.3 0 1 0 4.6 0a2.3 2.3 0 1 0 -4.6 0M543.70 399.1a2.3 2.3 0 1 0 4.6 0a2.3 2.3 0 1 0 -4.6 0M611.50 286.8a2.3 2.3 0 1 0 4.6 0a2.3 2.3 0 1 0 -4.6 0M672.40 286.8a2.3 2.3 0 1 0 4.6 0a2.3 2.3 0 1 0 -4.6 0M620.80 311.4a2.3 2.3 0 1 0 4.6 0a2.3 2.3 0 1 0 -4.6 0M672.40 305.5a2.3 2.3 0 1 0 4.6 0a2.3 2.3 0 1 0 -4.6 0M672.40 312.4a2.3 2.3 0 1 0 4.6 0a2.3 2.3 0 1 0 -4.6 0M672.40 320.8a2.3 2.3 0 1 0 4.6 0a2.3 2.3 0 1 0 -4.6 0M620.80 338.0a2.3 2.3 0 1 0 4.6 0a2.3 2.3 0 1 0 -4.6 0M617.70 344.6a2.3 2.3 0 1 0 4.6 0a2.3 2.3 0 1 0 -4.6 0M603.60 349.3a2.3 2.3 0 1 0 4.6 0a2.3 2.3 0 1 0 -4.6 0M672.40 339.9a2.3 2.3 0 1 0 4.6 0a2.3 2.3 0 1 0 -4.6 0M672.40 346.1a2.3 2.3 0 1 0 4.6 0a2.3 2.3 0 1 0 -4.6 0M672.40 354.6a2.3 2.3 0 1 0 4.6 0a2.3 2.3 0 1 0 -4.6 0M587.40 359.3a2.3 2.3 0 1 0 4.6 0a2.3 2.3 0 1 0 -4.6 0M672.40 367.1a2.3 2.3 0 1 0 4.6 0a2.3 2.3 0 1 0 -4.6 0M592.10 371.8a2.3 2.3 0 1 0 4.6 0a2.3 2.3 0 1 0 -4.6 0M589.60 376.4a2.3 2.3 0 1 0 4.6 0a2.3 2.3 0 1 0 -4.6 0M626.50 372.4a2.3 2.3 0 1 0 4.6 0a2.3 2.3 0 1 0 -4.6 0M667.70 378.0a2.3 2.3 0 1 0 4.6 0a2.3 2.3 0 1 0 -4.6 0M672.40 374.9a2.3 2.3 0 1 0 4.6 0a2.3 2.3 0 1 0 -4.6 0M592.70 385.2a2.3 2.3 0 1 0 4.6 0a2.3 2.3 0 1 0 -4.6 0M597.40 386.4a2.3 2.3 0 1 0 4.6 0a2.3 2.3 0 1 0 -4.6 0M617.10 385.2a2.3 2.3 0 1 0 4.6 0a2.3 2.3 0 1 0 -4.6 0M627.40 387.4a2.3 2.3 0 1 0 4.6 0a2.3 2.3 0 1 0 -4.6 0M643.00 381.8a2.3 2.3 0 1 0 4.6 0a2.3 2.3 0 1 0 -4.6 0M649.90 387.4a2.3 2.3 0 1 0 4.6 0a2.3 2.3 0 1 0 -4.6 0M672.40 389.9a2.3 2.3 0 1 0 4.6 0a2.3 2.3 0 1 0 -4.6 0M398.10 287.0a2.3 2.3 0 1 0 4.6 0a2.3 2.3 0 1 0 -4.6 0M399.20 287.0a2.3 2.3 0 1 0 4.6 0a2.3 2.3 0 1 0 -4.6 0M400.31 287.0a2.3 2.3 0 1 0 4.6 0a2.3 2.3 0 1 0 -4.6 0M401.41 287.0a2.3 2.3 0 1 0 4.6 0a2.3 2.3 0 1 0 -4.6 0M402.52 287.0a2.3 2.3 0 1 0 4.6 0a2.3 2.3 0 1 0 -4.6 0M403.62 287.0a2.3 2.3 0 1 0 4.6 0a2.3 2.3 0 1 0 -4.6 0M404.73 287.0a2.3 2.3 0 1 0 4.6 0a2.3 2.3 0 1 0 -4.6 0M405.83 287.0a2.3 2.3 0 1 0 4.6 0a2.3 2.3 0 1 0 -4.6 0M406.94 287.0a2.3 2.3 0 1 0 4.6 0a2.3 2.3 0 1 0 -4.6 0M408.04 287.0a2.3 2.3 0 1 0 4.6 0a2.3 2.3 0 1 0 -4.6 0M409.15 287.0a2.3 2.3 0 1 0 4.6 0a2.3 2.3 0 1 0 -4.6 0M410.25 287.0a2.3 2.3 0 1 0 4.6 0a2.3 2.3 0 1 0 -4.6 0M411.36 287.0a2.3 2.3 0 1 0 4.6 0a2.3 2.3 0 1 0 -4.6 0M412.46 287.0a2.3 2.3 0 1 0 4.6 0a2.3 2.3 0 1 0 -4.6 0M413.57 287.0a2.3 2.3 0 1 0 4.6 0a2.3 2.3 0 1 0 -4.6 0M414.67 287.0a2.3 2.3 0 1 0 4.6 0a2.3 2.3 0 1 0 -4.6 0M415.78 287.0a2.3 2.3 0 1 0 4.6 0a2.3 2.3 0 1 0 -4.6 0M416.88 287.0a2.3 2.3 0 1 0 4.6 0a2.3 2.3 0 1 0 -4.6 0M417.99 287.0a2.3 2.3 0 1 0 4.6 0a2.3 2.3 0 1 0 -4.6 0M419.09 287.0a2.3 2.3 0 1 0 4.6 0a2.3 2.3 0 1 0 -4.6 0M420.20 287.0a2.3 2.3 0 1 0 4.6 0a2.3 2.3 0 1 0 -4.6 0M421.30 287.0a2.3 2.3 0 1 0 4.6 0a2.3 2.3 0 1 0 -4.6 0M397.50 307.0a2.3 2.3 0 1 0 4.6 0a2.3 2.3 0 1 0 -4.6 0M397.50 310.3a2.3 2.3 0 1 0 4.6 0a2.3 2.3 0 1 0 -4.6 0M397.50 313.6a2.3 2.3 0 1 0 4.6 0a2.3 2.3 0 1 0 -4.6 0M397.50 316.9a2.3 2.3 0 1 0 4.6 0a2.3 2.3 0 1 0 -4.6 0M397.50 320.1a2.3 2.3 0 1 0 4.6 0a2.3 2.3 0 1 0 -4.6 0M397.50 323.4a2.3 2.3 0 1 0 4.6 0a2.3 2.3 0 1 0 -4.6 0M397.50 326.7a2.3 2.3 0 1 0 4.6 0a2.3 2.3 0 1 0 -4.6 0M397.50 330.0a2.3 2.3 0 1 0 4.6 0a2.3 2.3 0 1 0 -4.6 0M397.50 333.3a2.3 2.3 0 1 0 4.6 0a2.3 2.3 0 1 0 -4.6 0M397.50 336.6a2.3 2.3 0 1 0 4.6 0a2.3 2.3 0 1 0 -4.6 0M397.50 339.9a2.3 2.3 0 1 0 4.6 0a2.3 2.3 0 1 0 -4.6 0M397.50 343.1a2.3 2.3 0 1 0 4.6 0a2.3 2.3 0 1 0 -4.6 0M397.50 346.4a2.3 2.3 0 1 0 4.6 0a2.3 2.3 0 1 0 -4.6 0M397.50 349.7a2.3 2.3 0 1 0 4.6 0a2.3 2.3 0 1 0 -4.6 0M397.50 353.0a2.3 2.3 0 1 0 4.6 0a2.3 2.3 0 1 0 -4.6 0M397.50 356.3a2.3 2.3 0 1 0 4.6 0a2.3 2.3 0 1 0 -4.6 0M397.50 359.6a2.3 2.3 0 1 0 4.6 0a2.3 2.3 0 1 0 -4.6 0M397.50 362.9a2.3 2.3 0 1 0 4.6 0a2.3 2.3 0 1 0 -4.6 0M397.50 366.1a2.3 2.3 0 1 0 4.6 0a2.3 2.3 0 1 0 -4.6 0M397.50 369.4a2.3 2.3 0 1 0 4.6 0a2.3 2.3 0 1 0 -4.6 0M397.50 372.7a2.3 2.3 0 1 0 4.6 0a2.3 2.3 0 1 0 -4.6 0M397.50 376.0a2.3 2.3 0 1 0 4.6 0a2.3 2.3 0 1 0 -4.6 0M397.50 379.3a2.3 2.3 0 1 0 4.6 0a2.3 2.3 0 1 0 -4.6 0M397.50 382.6a2.3 2.3 0 1 0 4.6 0a2.3 2.3 0 1 0 -4.6 0M397.50 385.9a2.3 2.3 0 1 0 4.6 0a2.3 2.3 0 1 0 -4.6 0M397.50 389.1a2.3 2.3 0 1 0 4.6 0a2.3 2.3 0 1 0 -4.6 0M397.50 392.4a2.3 2.3 0 1 0 4.6 0a2.3 2.3 0 1 0 -4.6 0M397.50 395.7a2.3 2.3 0 1 0 4.6 0a2.3 2.3 0 1 0 -4.6 0M397.50 399.0a2.3 2.3 0 1 0 4.6 0a2.3 2.3 0 1 0 -4.6 0M397.50 402.3a2.3 2.3 0 1 0 4.6 0a2.3 2.3 0 1 0 -4.6 0M397.50 405.6a2.3 2.3 0 1 0 4.6 0a2.3 2.3 0 1 0 -4.6 0M397.50 408.9a2.3 2.3 0 1 0 4.6 0a2.3 2.3 0 1 0 -4.6 0M397.50 412.1a2.3 2.3 0 1 0 4.6 0a2.3 2.3 0 1 0 -4.6 0M397.50 415.4a2.3 2.3 0 1 0 4.6 0a2.3 2.3 0 1 0 -4.6 0M397.50 418.7a2.3 2.3 0 1 0 4.6 0a2.3 2.3 0 1 0 -4.6 0M397.50 422.0a2.3 2.3 0 1 0 4.6 0a2.3 2.3 0 1 0 -4.6 0M399.20 307.0a2.3 2.3 0 1 0 4.6 0a2.3 2.3 0 1 0 -4.6 0M399.20 311.3a2.3 2.3 0 1 0 4.6 0a2.3 2.3 0 1 0 -4.6 0M399.20 315.5a2.3 2.3 0 1 0 4.6 0a2.3 2.3 0 1 0 -4.6 0M399.20 319.8a2.3 2.3 0 1 0 4.6 0a2.3 2.3 0 1 0 -4.6 0M399.20 324.0a2.3 2.3 0 1 0 4.6 0a2.3 2.3 0 1 0 -4.6 0M399.20 328.3a2.3 2.3 0 1 0 4.6 0a2.3 2.3 0 1 0 -4.6 0M399.20 332.6a2.3 2.3 0 1 0 4.6 0a2.3 2.3 0 1 0 -4.6 0M399.20 336.8a2.3 2.3 0 1 0 4.6 0a2.3 2.3 0 1 0 -4.6 0M399.20 341.1a2.3 2.3 0 1 0 4.6 0a2.3 2.3 0 1 0 -4.6 0M399.20 345.3a2.3 2.3 0 1 0 4.6 0a2.3 2.3 0 1 0 -4.6 0M399.20 349.6a2.3 2.3 0 1 0 4.6 0a2.3 2.3 0 1 0 -4.6 0M399.20 353.9a2.3 2.3 0 1 0 4.6 0a2.3 2.3 0 1 0 -4.6 0M399.20 358.1a2.3 2.3 0 1 0 4.6 0a2.3 2.3 0 1 0 -4.6 0M399.20 362.4a2.3 2.3 0 1 0 4.6 0a2.3 2.3 0 1 0 -4.6 0M399.20 366.6a2.3 2.3 0 1 0 4.6 0a2.3 2.3 0 1 0 -4.6 0M399.20 370.9a2.3 2.3 0 1 0 4.6 0a2.3 2.3 0 1 0 -4.6 0M399.20 375.1a2.3 2.3 0 1 0 4.6 0a2.3 2.3 0 1 0 -4.6 0M399.20 379.4a2.3 2.3 0 1 0 4.6 0a2.3 2.3 0 1 0 -4.6 0M399.20 383.7a2.3 2.3 0 1 0 4.6 0a2.3 2.3 0 1 0 -4.6 0M399.20 387.9a2.3 2.3 0 1 0 4.6 0a2.3 2.3 0 1 0 -4.6 0M399.20 392.2a2.3 2.3 0 1 0 4.6 0a2.3 2.3 0 1 0 -4.6 0M399.20 396.4a2.3 2.3 0 1 0 4.6 0a2.3 2.3 0 1 0 -4.6 0M399.20 400.7a2.3 2.3 0 1 0 4.6 0a2.3 2.3 0 1 0 -4.6 0M399.20 405.0a2.3 2.3 0 1 0 4.6 0a2.3 2.3 0 1 0 -4.6 0M399.20 409.2a2.3 2.3 0 1 0 4.6 0a2.3 2.3 0 1 0 -4.6 0M399.20 413.5a2.3 2.3 0 1 0 4.6 0a2.3 2.3 0 1 0 -4.6 0M399.20 417.7a2.3 2.3 0 1 0 4.6 0a2.3 2.3 0 1 0 -4.6 0M399.20 422.0a2.3 2.3 0 1 0 4.6 0a2.3 2.3 0 1 0 -4.6 0M429.37 358.7a2.3 2.3 0 1 0 4.6 0a2.3 2.3 0 1 0 -4.6 0M433.21 360.0a2.3 2.3 0 1 0 4.6 0a2.3 2.3 0 1 0 -4.6 0M425.30 366.4a2.3 2.3 0 1 0 4.6 0a2.3 2.3 0 1 0 -4.6 0M442.06 361.8a2.3 2.3 0 1 0 4.6 0a2.3 2.3 0 1 0 -4.6 0M436.58 363.2a2.3 2.3 0 1 0 4.6 0a2.3 2.3 0 1 0 -4.6 0M427.84 358.8a2.3 2.3 0 1 0 4.6 0a2.3 2.3 0 1 0 -4.6 0M428.85 380.1a2.3 2.3 0 1 0 4.6 0a2.3 2.3 0 1 0 -4.6 0M442.91 361.0a2.3 2.3 0 1 0 4.6 0a2.3 2.3 0 1 0 -4.6 0M431.14 372.3a2.3 2.3 0 1 0 4.6 0a2.3 2.3 0 1 0 -4.6 0M438.24 373.5a2.3 2.3 0 1 0 4.6 0a2.3 2.3 0 1 0 -4.6 0M435.84 360.6a2.3 2.3 0 1 0 4.6 0a2.3 2.3 0 1 0 -4.6 0M435.07 358.3a2.3 2.3 0 1 0 4.6 0a2.3 2.3 0 1 0 -4.6 0M436.84 363.8a2.3 2.3 0 1 0 4.6 0a2.3 2.3 0 1 0 -4.6 0M435.90 366.8a2.3 2.3 0 1 0 4.6 0a2.3 2.3 0 1 0 -4.6 0M419.06 400.2a2.3 2.3 0 1 0 4.6 0a2.3 2.3 0 1 0 -4.6 0M400.94 376.5a2.3 2.3 0 1 0 4.6 0a2.3 2.3 0 1 0 -4.6 0M411.89 377.3a2.3 2.3 0 1 0 4.6 0a2.3 2.3 0 1 0 -4.6 0M422.61 391.9a2.3 2.3 0 1 0 4.6 0a2.3 2.3 0 1 0 -4.6 0M436.80 411.8a2.3 2.3 0 1 0 4.6 0a2.3 2.3 0 1 0 -4.6 0M402.01 326.1a2.3 2.3 0 1 0 4.6 0a2.3 2.3 0 1 0 -4.6 0M410.13 355.3a2.3 2.3 0 1 0 4.6 0a2.3 2.3 0 1 0 -4.6 0M449.14 418.9a2.3 2.3 0 1 0 4.6 0a2.3 2.3 0 1 0 -4.6 0M400.84 318.5a2.3 2.3 0 1 0 4.6 0a2.3 2.3 0 1 0 -4.6 0M423.09 333.9a2.3 2.3 0 1 0 4.6 0a2.3 2.3 0 1 0 -4.6 0M401.85 304.0a2.3 2.3 0 1 0 4.6 0a2.3 2.3 0 1 0 -4.6 0M406.26 364.2a2.3 2.3 0 1 0 4.6 0a2.3 2.3 0 1 0 -4.6 0M414.63 349.1a2.3 2.3 0 1 0 4.6 0a2.3 2.3 0 1 0 -4.6 0M455.87 360.3a2.3 2.3 0 1 0 4.6 0a2.3 2.3 0 1 0 -4.6 0M415.51 327.8a2.3 2.3 0 1 0 4.6 0a2.3 2.3 0 1 0 -4.6 0M413.90 407.5a2.3 2.3 0 1 0 4.6 0a2.3 2.3 0 1 0 -4.6 0M401.29 414.9a2.3 2.3 0 1 0 4.6 0a2.3 2.3 0 1 0 -4.6 0M421.26 380.4a2.3 2.3 0 1 0 4.6 0a2.3 2.3 0 1 0 -4.6 0M443.53 384.1a2.3 2.3 0 1 0 4.6 0a2.3 2.3 0 1 0 -4.6 0M400.82 411.2a2.3 2.3 0 1 0 4.6 0a2.3 2.3 0 1 0 -4.6 0M465.50 381.7a2.3 2.3 0 1 0 4.6 0a2.3 2.3 0 1 0 -4.6 0M409.41 377.7a2.3 2.3 0 1 0 4.6 0a2.3 2.3 0 1 0 -4.6 0M397.93 414.1a2.3 2.3 0 1 0 4.6 0a2.3 2.3 0 1 0 -4.6 0M420.85 410.3a2.3 2.3 0 1 0 4.6 0a2.3 2.3 0 1 0 -4.6 0M430.71 363.9a2.3 2.3 0 1 0 4.6 0a2.3 2.3 0 1 0 -4.6 0M400.09 372.5a2.3 2.3 0 1 0 4.6 0a2.3 2.3 0 1 0 -4.6 0M423.08 394.5a2.3 2.3 0 1 0 4.6 0a2.3 2.3 0 1 0 -4.6 0M398.44 403.4a2.3 2.3 0 1 0 4.6 0a2.3 2.3 0 1 0 -4.6 0M403.66 366.0a2.3 2.3 0 1 0 4.6 0a2.3 2.3 0 1 0 -4.6 0M431.77 419.7a2.3 2.3 0 1 0 4.6 0a2.3 2.3 0 1 0 -4.6 0M405.71 375.9a2.3 2.3 0 1 0 4.6 0a2.3 2.3 0 1 0 -4.6 0M427.27 398.4a2.3 2.3 0 1 0 4.6 0a2.3 2.3 0 1 0 -4.6 0M460.99 387.2a2.3 2.3 0 1 0 4.6 0a2.3 2.3 0 1 0 -4.6 0M419.53 366.2a2.3 2.3 0 1 0 4.6 0a2.3 2.3 0 1 0 -4.6 0M447.79 358.5a2.3 2.3 0 1 0 4.6 0a2.3 2.3 0 1 0 -4.6 0M414.88 404.6a2.3 2.3 0 1 0 4.6 0a2.3 2.3 0 1 0 -4.6 0M419.10 407.2a2.3 2.3 0 1 0 4.6 0a2.3 2.3 0 1 0 -4.6 0M407.03 307.5a2.3 2.3 0 1 0 4.6 0a2.3 2.3 0 1 0 -4.6 0M423.74 370.1a2.3 2.3 0 1 0 4.6 0a2.3 2.3 0 1 0 -4.6 0M420.57 335.2a2.3 2.3 0 1 0 4.6 0a2.3 2.3 0 1 0 -4.6 0M399.11 417.6a2.3 2.3 0 1 0 4.6 0a2.3 2.3 0 1 0 -4.6 0M408.79 371.2a2.3 2.3 0 1 0 4.6 0a2.3 2.3 0 1 0 -4.6 0M420.56 376.6a2.3 2.3 0 1 0 4.6 0a2.3 2.3 0 1 0 -4.6 0M398.62 320.4a2.3 2.3 0 1 0 4.6 0a2.3 2.3 0 1 0 -4.6 0M402.44 420.7a2.3 2.3 0 1 0 4.6 0a2.3 2.3 0 1 0 -4.6 0M404.09 329.8a2.3 2.3 0 1 0 4.6 0a2.3 2.3 0 1 0 -4.6 0M408.11 327.3a2.3 2.3 0 1 0 4.6 0a2.3 2.3 0 1 0 -4.6 0M416.06 363.6a2.3 2.3 0 1 0 4.6 0a2.3 2.3 0 1 0 -4.6 0M417.93 410.1a2.3 2.3 0 1 0 4.6 0a2.3 2.3 0 1 0 -4.6 0M424.78 350.7a2.3 2.3 0 1 0 4.6 0a2.3 2.3 0 1 0 -4.6 0M431.07 388.3a2.3 2.3 0 1 0 4.6 0a2.3 2.3 0 1 0 -4.6 0M405.20 375.6a2.3 2.3 0 1 0 4.6 0a2.3 2.3 0 1 0 -4.6 0M419.06 379.1a2.3 2.3 0 1 0 4.6 0a2.3 2.3 0 1 0 -4.6 0M415.60 406.0a2.3 2.3 0 1 0 4.6 0a2.3 2.3 0 1 0 -4.6 0M419.22 410.7a2.3 2.3 0 1 0 4.6 0a2.3 2.3 0 1 0 -4.6 0M421.44 402.9a2.3 2.3 0 1 0 4.6 0a2.3 2.3 0 1 0 -4.6 0M402.69 396.3a2.3 2.3 0 1 0 4.6 0a2.3 2.3 0 1 0 -4.6 0M455.57 361.7a2.3 2.3 0 1 0 4.6 0a2.3 2.3 0 1 0 -4.6 0M398.98 390.1a2.3 2.3 0 1 0 4.6 0a2.3 2.3 0 1 0 -4.6 0M400.08 349.4a2.3 2.3 0 1 0 4.6 0a2.3 2.3 0 1 0 -4.6 0M415.62 361.9a2.3 2.3 0 1 0 4.6 0a2.3 2.3 0 1 0 -4.6 0M406.97 393.3a2.3 2.3 0 1 0 4.6 0a2.3 2.3 0 1 0 -4.6 0M412.51 415.5a2.3 2.3 0 1 0 4.6 0a2.3 2.3 0 1 0 -4.6 0M405.68 420.4a2.3 2.3 0 1 0 4.6 0a2.3 2.3 0 1 0 -4.6 0M403.00 404.5a2.3 2.3 0 1 0 4.6 0a2.3 2.3 0 1 0 -4.6 0M410.38 323.2a2.3 2.3 0 1 0 4.6 0a2.3 2.3 0 1 0 -4.6 0M401.72 411.8a2.3 2.3 0 1 0 4.6 0a2.3 2.3 0 1 0 -4.6 0M444.47 404.1a2.3 2.3 0 1 0 4.6 0a2.3 2.3 0 1 0 -4.6 0M435.93 365.7a2.3 2.3 0 1 0 4.6 0a2.3 2.3 0 1 0 -4.6 0M400.35 316.4a2.3 2.3 0 1 0 4.6 0a2.3 2.3 0 1 0 -4.6 0M414.38 369.9a2.3 2.3 0 1 0 4.6 0a2.3 2.3 0 1 0 -4.6 0M399.59 321.3a2.3 2.3 0 1 0 4.6 0a2.3 2.3 0 1 0 -4.6 0M400.59 335.9a2.3 2.3 0 1 0 4.6 0a2.3 2.3 0 1 0 -4.6 0M418.39 367.9a2.3 2.3 0 1 0 4.6 0a2.3 2.3 0 1 0 -4.6 0M410.38 375.1a2.3 2.3 0 1 0 4.6 0a2.3 2.3 0 1 0 -4.6 0M439.65 389.0a2.3 2.3 0 1 0 4.6 0a2.3 2.3 0 1 0 -4.6 0M428.29 398.6a2.3 2.3 0 1 0 4.6 0a2.3 2.3 0 1 0 -4.6 0M400.69 320.2a2.3 2.3 0 1 0 4.6 0a2.3 2.3 0 1 0 -4.6 0M409.61 340.9a2.3 2.3 0 1 0 4.6 0a2.3 2.3 0 1 0 -4.6 0M411.48 356.8a2.3 2.3 0 1 0 4.6 0a2.3 2.3 0 1 0 -4.6 0M407.73 387.3a2.3 2.3 0 1 0 4.6 0a2.3 2.3 0 1 0 -4.6 0M401.30 401.1a2.3 2.3 0 1 0 4.6 0a2.3 2.3 0 1 0 -4.6 0M403.34 416.6a2.3 2.3 0 1 0 4.6 0a2.3 2.3 0 1 0 -4.6 0M440.02 366.1a2.3 2.3 0 1 0 4.6 0a2.3 2.3 0 1 0 -4.6 0M401.71 357.4a2.3 2.3 0 1 0 4.6 0a2.3 2.3 0 1 0 -4.6 0M412.34 357.0a2.3 2.3 0 1 0 4.6 0a2.3 2.3 0 1 0 -4.6 0M417.85 350.0a2.3 2.3 0 1 0 4.6 0a2.3 2.3 0 1 0 -4.6 0M402.74 352.0a2.3 2.3 0 1 0 4.6 0a2.3 2.3 0 1 0 -4.6 0M427.41 412.9a2.3 2.3 0 1 0 4.6 0a2.3 2.3 0 1 0 -4.6 0M411.84 413.6a2.3 2.3 0 1 0 4.6 0a2.3 2.3 0 1 0 -4.6 0M418.10 362.7a2.3 2.3 0 1 0 4.6 0a2.3 2.3 0 1 0 -4.6 0M404.17 378.3a2.3 2.3 0 1 0 4.6 0a2.3 2.3 0 1 0 -4.6 0M420.40 340.1a2.3 2.3 0 1 0 4.6 0a2.3 2.3 0 1 0 -4.6 0M402.63 418.3a2.3 2.3 0 1 0 4.6 0a2.3 2.3 0 1 0 -4.6 0M434.43 365.1a2.3 2.3 0 1 0 4.6 0a2.3 2.3 0 1 0 -4.6 0M412.34 358.5a2.3 2.3 0 1 0 4.6 0a2.3 2.3 0 1 0 -4.6 0M423.49 381.3a2.3 2.3 0 1 0 4.6 0a2.3 2.3 0 1 0 -4.6 0M428.60 390.0a2.3 2.3 0 1 0 4.6 0a2.3 2.3 0 1 0 -4.6 0M403.93 397.4a2.3 2.3 0 1 0 4.6 0a2.3 2.3 0 1 0 -4.6 0M428.09 390.6a2.3 2.3 0 1 0 4.6 0a2.3 2.3 0 1 0 -4.6 0M406.53 355.0a2.3 2.3 0 1 0 4.6 0a2.3 2.3 0 1 0 -4.6 0M400.19 408.5a2.3 2.3 0 1 0 4.6 0a2.3 2.3 0 1 0 -4.6 0M431.21 408.4a2.3 2.3 0 1 0 4.6 0a2.3 2.3 0 1 0 -4.6 0M406.37 406.9a2.3 2.3 0 1 0 4.6 0a2.3 2.3 0 1 0 -4.6 0M415.50 375.9a2.3 2.3 0 1 0 4.6 0a2.3 2.3 0 1 0 -4.6 0M400.84 401.0a2.3 2.3 0 1 0 4.6 0a2.3 2.3 0 1 0 -4.6 0M408.54 400.8a2.3 2.3 0 1 0 4.6 0a2.3 2.3 0 1 0 -4.6 0M402.14 353.0a2.3 2.3 0 1 0 4.6 0a2.3 2.3 0 1 0 -4.6 0M402.12 375.0a2.3 2.3 0 1 0 4.6 0a2.3 2.3 0 1 0 -4.6 0M398.08 321.6a2.3 2.3 0 1 0 4.6 0a2.3 2.3 0 1 0 -4.6 0M422.13 369.9a2.3 2.3 0 1 0 4.6 0a2.3 2.3 0 1 0 -4.6 0M404.43 406.5a2.3 2.3 0 1 0 4.6 0a2.3 2.3 0 1 0 -4.6 0M405.23 315.3a2.3 2.3 0 1 0 4.6 0a2.3 2.3 0 1 0 -4.6 0M429.60 406.8a2.3 2.3 0 1 0 4.6 0a2.3 2.3 0 1 0 -4.6 0M414.99 378.3a2.3 2.3 0 1 0 4.6 0a2.3 2.3 0 1 0 -4.6 0M398.22 347.6a2.3 2.3 0 1 0 4.6 0a2.3 2.3 0 1 0 -4.6 0M425.03 366.1a2.3 2.3 0 1 0 4.6 0a2.3 2.3 0 1 0 -4.6 0M403.34 355.5a2.3 2.3 0 1 0 4.6 0a2.3 2.3 0 1 0 -4.6 0M398.14 347.7a2.3 2.3 0 1 0 4.6 0a2.3 2.3 0 1 0 -4.6 0M409.08 359.4a2.3 2.3 0 1 0 4.6 0a2.3 2.3 0 1 0 -4.6 0M421.75 387.0a2.3 2.3 0 1 0 4.6 0a2.3 2.3 0 1 0 -4.6 0M412.46 389.6a2.3 2.3 0 1 0 4.6 0a2.3 2.3 0 1 0 -4.6 0M408.79 361.5a2.3 2.3 0 1 0 4.6 0a2.3 2.3 0 1 0 -4.6 0M430.52 382.1a2.3 2.3 0 1 0 4.6 0a2.3 2.3 0 1 0 -4.6 0M416.74 352.4a2.3 2.3 0 1 0 4.6 0a2.3 2.3 0 1 0 -4.6 0M400.25 382.5a2.3 2.3 0 1 0 4.6 0a2.3 2.3 0 1 0 -4.6 0M400.08 359.7a2.3 2.3 0 1 0 4.6 0a2.3 2.3 0 1 0 -4.6 0M452.02 394.9a2.3 2.3 0 1 0 4.6 0a2.3 2.3 0 1 0 -4.6 0M401.31 389.7a2.3 2.3 0 1 0 4.6 0a2.3 2.3 0 1 0 -4.6 0M423.06 397.7a2.3 2.3 0 1 0 4.6 0a2.3 2.3 0 1 0 -4.6 0M433.67 395.0a2.3 2.3 0 1 0 4.6 0a2.3 2.3 0 1 0 -4.6 0M444.71 402.0a2.3 2.3 0 1 0 4.6 0a2.3 2.3 0 1 0 -4.6 0M399.71 314.3a2.3 2.3 0 1 0 4.6 0a2.3 2.3 0 1 0 -4.6 0M399.25 340.3a2.3 2.3 0 1 0 4.6 0a2.3 2.3 0 1 0 -4.6 0M417.08 411.0a2.3 2.3 0 1 0 4.6 0a2.3 2.3 0 1 0 -4.6 0M424.97 395.9a2.3 2.3 0 1 0 4.6 0a2.3 2.3 0 1 0 -4.6 0M429.04 408.9a2.3 2.3 0 1 0 4.6 0a2.3 2.3 0 1 0 -4.6 0M424.73 364.6a2.3 2.3 0 1 0 4.6 0a2.3 2.3 0 1 0 -4.6 0M423.85 404.6a2.3 2.3 0 1 0 4.6 0a2.3 2.3 0 1 0 -4.6 0M413.12 374.5a2.3 2.3 0 1 0 4.6 0a2.3 2.3 0 1 0 -4.6 0M429.10 379.8a2.3 2.3 0 1 0 4.6 0a2.3 2.3 0 1 0 -4.6 0M408.77 329.5a2.3 2.3 0 1 0 4.6 0a2.3 2.3 0 1 0 -4.6 0M408.10 347.5a2.3 2.3 0 1 0 4.6 0a2.3 2.3 0 1 0 -4.6 0M440.35 358.6a2.3 2.3 0 1 0 4.6 0a2.3 2.3 0 1 0 -4.6 0M406.95 366.3a2.3 2.3 0 1 0 4.6 0a2.3 2.3 0 1 0 -4.6 0M408.54 381.2a2.3 2.3 0 1 0 4.6 0a2.3 2.3 0 1 0 -4.6 0M418.64 352.7a2.3 2.3 0 1 0 4.6 0a2.3 2.3 0 1 0 -4.6 0M402.60 390.9a2.3 2.3 0 1 0 4.6 0a2.3 2.3 0 1 0 -4.6 0M404.15 314.3a2.3 2.3 0 1 0 4.6 0a2.3 2.3 0 1 0 -4.6 0M421.45 378.4a2.3 2.3 0 1 0 4.6 0a2.3 2.3 0 1 0 -4.6 0M408.14 410.9a2.3 2.3 0 1 0 4.6 0a2.3 2.3 0 1 0 -4.6 0M402.39 349.7a2.3 2.3 0 1 0 4.6 0a2.3 2.3 0 1 0 -4.6 0M405.85 388.6a2.3 2.3 0 1 0 4.6 0a2.3 2.3 0 1 0 -4.6 0M407.83 369.4a2.3 2.3 0 1 0 4.6 0a2.3 2.3 0 1 0 -4.6 0M413.80 368.2a2.3 2.3 0 1 0 4.6 0a2.3 2.3 0 1 0 -4.6 0M425.20 354.7a2.3 2.3 0 1 0 4.6 0a2.3 2.3 0 1 0 -4.6 0M402.63 353.4a2.3 2.3 0 1 0 4.6 0a2.3 2.3 0 1 0 -4.6 0M418.49 342.2a2.3 2.3 0 1 0 4.6 0a2.3 2.3 0 1 0 -4.6 0M410.95 358.7a2.3 2.3 0 1 0 4.6 0a2.3 2.3 0 1 0 -4.6 0M411.18 359.0a2.3 2.3 0 1 0 4.6 0a2.3 2.3 0 1 0 -4.6 0M414.11 410.7a2.3 2.3 0 1 0 4.6 0a2.3 2.3 0 1 0 -4.6 0M408.31 377.6a2.3 2.3 0 1 0 4.6 0a2.3 2.3 0 1 0 -4.6 0M434.60 376.0a2.3 2.3 0 1 0 4.6 0a2.3 2.3 0 1 0 -4.6 0M430.78 395.8a2.3 2.3 0 1 0 4.6 0a2.3 2.3 0 1 0 -4.6 0M420.91 403.7a2.3 2.3 0 1 0 4.6 0a2.3 2.3 0 1 0 -4.6 0M402.38 329.6a2.3 2.3 0 1 0 4.6 0a2.3 2.3 0 1 0 -4.6 0M399.85 332.7a2.3 2.3 0 1 0 4.6 0a2.3 2.3 0 1 0 -4.6 0M403.03 341.3a2.3 2.3 0 1 0 4.6 0a2.3 2.3 0 1 0 -4.6 0M414.80 330.9a2.3 2.3 0 1 0 4.6 0a2.3 2.3 0 1 0 -4.6 0M440.17 391.1a2.3 2.3 0 1 0 4.6 0a2.3 2.3 0 1 0 -4.6 0M404.28 396.9a2.3 2.3 0 1 0 4.6 0a2.3 2.3 0 1 0 -4.6 0M404.68 400.0a2.3 2.3 0 1 0 4.6 0a2.3 2.3 0 1 0 -4.6 0M429.96 368.5a2.3 2.3 0 1 0 4.6 0a2.3 2.3 0 1 0 -4.6 0M402.30 387.5a2.3 2.3 0 1 0 4.6 0a2.3 2.3 0 1 0 -4.6 0M408.89 351.2a2.3 2.3 0 1 0 4.6 0a2.3 2.3 0 1 0 -4.6 0M412.93 347.0a2.3 2.3 0 1 0 4.6 0a2.3 2.3 0 1 0 -4.6 0M404.66 343.9a2.3 2.3 0 1 0 4.6 0a2.3 2.3 0 1 0 -4.6 0M404.75 353.9a2.3 2.3 0 1 0 4.6 0a2.3 2.3 0 1 0 -4.6 0M418.11 399.6a2.3 2.3 0 1 0 4.6 0a2.3 2.3 0 1 0 -4.6 0M433.46 357.9a2.3 2.3 0 1 0 4.6 0a2.3 2.3 0 1 0 -4.6 0M420.07 422.2a2.3 2.3 0 1 0 4.6 0a2.3 2.3 0 1 0 -4.6 0M434.20 405.7a2.3 2.3 0 1 0 4.6 0a2.3 2.3 0 1 0 -4.6 0M418.08 324.0a2.3 2.3 0 1 0 4.6 0a2.3 2.3 0 1 0 -4.6 0M438.44 368.4a2.3 2.3 0 1 0 4.6 0a2.3 2.3 0 1 0 -4.6 0M399.26 401.0a2.3 2.3 0 1 0 4.6 0a2.3 2.3 0 1 0 -4.6 0M400.66 378.9a2.3 2.3 0 1 0 4.6 0a2.3 2.3 0 1 0 -4.6 0M410.44 410.9a2.3 2.3 0 1 0 4.6 0a2.3 2.3 0 1 0 -4.6 0M420.08 397.0a2.3 2.3 0 1 0 4.6 0a2.3 2.3 0 1 0 -4.6 0M405.89 395.2a2.3 2.3 0 1 0 4.6 0a2.3 2.3 0 1 0 -4.6 0M431.25 393.5a2.3 2.3 0 1 0 4.6 0a2.3 2.3 0 1 0 -4.6 0M399.55 344.6a2.3 2.3 0 1 0 4.6 0a2.3 2.3 0 1 0 -4.6 0M429.23 352.0a2.3 2.3 0 1 0 4.6 0a2.3 2.3 0 1 0 -4.6 0M416.92 343.6a2.3 2.3 0 1 0 4.6 0a2.3 2.3 0 1 0 -4.6 0M406.52 343.3a2.3 2.3 0 1 0 4.6 0a2.3 2.3 0 1 0 -4.6 0M407.71 319.7a2.3 2.3 0 1 0 4.6 0a2.3 2.3 0 1 0 -4.6 0M409.96 411.0a2.3 2.3 0 1 0 4.6 0a2.3 2.3 0 1 0 -4.6 0M415.78 364.3a2.3 2.3 0 1 0 4.6 0a2.3 2.3 0 1 0 -4.6 0M408.36 396.7a2.3 2.3 0 1 0 4.6 0a2.3 2.3 0 1 0 -4.6 0M437.09 375.4a2.3 2.3 0 1 0 4.6 0a2.3 2.3 0 1 0 -4.6 0M438.19 380.8a2.3 2.3 0 1 0 4.6 0a2.3 2.3 0 1 0 -4.6 0M404.24 373.8a2.3 2.3 0 1 0 4.6 0a2.3 2.3 0 1 0 -4.6 0M430.52 345.7a2.3 2.3 0 1 0 4.6 0a2.3 2.3 0 1 0 -4.6 0M413.05 375.0a2.3 2.3 0 1 0 4.6 0a2.3 2.3 0 1 0 -4.6 0M410.51 400.8a2.3 2.3 0 1 0 4.6 0a2.3 2.3 0 1 0 -4.6 0M408.38 357.8a2.3 2.3 0 1 0 4.6 0a2.3 2.3 0 1 0 -4.6 0M456.89 396.0a2.3 2.3 0 1 0 4.6 0a2.3 2.3 0 1 0 -4.6 0M407.30 382.5a2.3 2.3 0 1 0 4.6 0a2.3 2.3 0 1 0 -4.6 0M419.53 359.0a2.3 2.3 0 1 0 4.6 0a2.3 2.3 0 1 0 -4.6 0M440.57 370.2a2.3 2.3 0 1 0 4.6 0a2.3 2.3 0 1 0 -4.6 0M406.76 411.1a2.3 2.3 0 1 0 4.6 0a2.3 2.3 0 1 0 -4.6 0M410.40 391.5a2.3 2.3 0 1 0 4.6 0a2.3 2.3 0 1 0 -4.6 0M407.70 316.5a2.3 2.3 0 1 0 4.6 0a2.3 2.3 0 1 0 -4.6 0M402.26 306.6a2.3 2.3 0 1 0 4.6 0a2.3 2.3 0 1 0 -4.6 0M401.39 406.4a2.3 2.3 0 1 0 4.6 0a2.3 2.3 0 1 0 -4.6 0M426.87 367.8a2.3 2.3 0 1 0 4.6 0a2.3 2.3 0 1 0 -4.6 0M410.25 336.2a2.3 2.3 0 1 0 4.6 0a2.3 2.3 0 1 0 -4.6 0M430.02 370.5a2.3 2.3 0 1 0 4.6 0a2.3 2.3 0 1 0 -4.6 0M422.98 352.4a2.3 2.3 0 1 0 4.6 0a2.3 2.3 0 1 0 -4.6 0M409.50 402.7a2.3 2.3 0 1 0 4.6 0a2.3 2.3 0 1 0 -4.6 0M424.14 376.9a2.3 2.3 0 1 0 4.6 0a2.3 2.3 0 1 0 -4.6 0M439.84 395.3a2.3 2.3 0 1 0 4.6 0a2.3 2.3 0 1 0 -4.6 0M445.23 343.1a2.3 2.3 0 1 0 4.6 0a2.3 2.3 0 1 0 -4.6 0M402.87 303.4a2.3 2.3 0 1 0 4.6 0a2.3 2.3 0 1 0 -4.6 0M413.25 368.4a2.3 2.3 0 1 0 4.6 0a2.3 2.3 0 1 0 -4.6 0M429.27 389.7a2.3 2.3 0 1 0 4.6 0a2.3 2.3 0 1 0 -4.6 0M410.93 401.7a2.3 2.3 0 1 0 4.6 0a2.3 2.3 0 1 0 -4.6 0M401.98 405.4a2.3 2.3 0 1 0 4.6 0a2.3 2.3 0 1 0 -4.6 0M416.98 347.0a2.3 2.3 0 1 0 4.6 0a2.3 2.3 0 1 0 -4.6 0M438.32 395.2a2.3 2.3 0 1 0 4.6 0a2.3 2.3 0 1 0 -4.6 0M420.11 371.0a2.3 2.3 0 1 0 4.6 0a2.3 2.3 0 1 0 -4.6 0M451.52 409.0a2.3 2.3 0 1 0 4.6 0a2.3 2.3 0 1 0 -4.6 0M426.97 360.7a2.3 2.3 0 1 0 4.6 0a2.3 2.3 0 1 0 -4.6 0M404.05 400.1a2.3 2.3 0 1 0 4.6 0a2.3 2.3 0 1 0 -4.6 0M410.96 375.3a2.3 2.3 0 1 0 4.6 0a2.3 2.3 0 1 0 -4.6 0M406.61 371.0a2.3 2.3 0 1 0 4.6 0a2.3 2.3 0 1 0 -4.6 0M463.29 370.8a2.3 2.3 0 1 0 4.6 0a2.3 2.3 0 1 0 -4.6 0M404.86 386.4a2.3 2.3 0 1 0 4.6 0a2.3 2.3 0 1 0 -4.6 0M404.46 378.2a2.3 2.3 0 1 0 4.6 0a2.3 2.3 0 1 0 -4.6 0M429.33 398.9a2.3 2.3 0 1 0 4.6 0a2.3 2.3 0 1 0 -4.6 0M403.81 377.5a2.3 2.3 0 1 0 4.6 0a2.3 2.3 0 1 0 -4.6 0M423.62 376.8a2.3 2.3 0 1 0 4.6 0a2.3 2.3 0 1 0 -4.6 0M403.33 389.6a2.3 2.3 0 1 0 4.6 0a2.3 2.3 0 1 0 -4.6 0M399.59 361.2a2.3 2.3 0 1 0 4.6 0a2.3 2.3 0 1 0 -4.6 0M409.84 386.2a2.3 2.3 0 1 0 4.6 0a2.3 2.3 0 1 0 -4.6 0M400.46 329.9a2.3 2.3 0 1 0 4.6 0a2.3 2.3 0 1 0 -4.6 0M403.61 399.5a2.3 2.3 0 1 0 4.6 0a2.3 2.3 0 1 0 -4.6 0M406.23 409.1a2.3 2.3 0 1 0 4.6 0a2.3 2.3 0 1 0 -4.6 0M417.43 361.6a2.3 2.3 0 1 0 4.6 0a2.3 2.3 0 1 0 -4.6 0M410.74 386.7a2.3 2.3 0 1 0 4.6 0a2.3 2.3 0 1 0 -4.6 0M403.18 310.4a2.3 2.3 0 1 0 4.6 0a2.3 2.3 0 1 0 -4.6 0M414.87 372.0a2.3 2.3 0 1 0 4.6 0a2.3 2.3 0 1 0 -4.6 0M423.26 395.3a2.3 2.3 0 1 0 4.6 0a2.3 2.3 0 1 0 -4.6 0M416.16 370.3a2.3 2.3 0 1 0 4.6 0a2.3 2.3 0 1 0 -4.6 0M400.55 375.4a2.3 2.3 0 1 0 4.6 0a2.3 2.3 0 1 0 -4.6 0M446.48 382.2a2.3 2.3 0 1 0 4.6 0a2.3 2.3 0 1 0 -4.6 0M401.25 395.6a2.3 2.3 0 1 0 4.6 0a2.3 2.3 0 1 0 -4.6 0M420.32 379.5a2.3 2.3 0 1 0 4.6 0a2.3 2.3 0 1 0 -4.6 0M412.55 356.4a2.3 2.3 0 1 0 4.6 0a2.3 2.3 0 1 0 -4.6 0M407.58 383.2a2.3 2.3 0 1 0 4.6 0a2.3 2.3 0 1 0 -4.6 0M451.72 363.3a2.3 2.3 0 1 0 4.6 0a2.3 2.3 0 1 0 -4.6 0M419.25 376.2a2.3 2.3 0 1 0 4.6 0a2.3 2.3 0 1 0 -4.6 0M421.45 414.5a2.3 2.3 0 1 0 4.6 0a2.3 2.3 0 1 0 -4.6 0M421.22 402.0a2.3 2.3 0 1 0 4.6 0a2.3 2.3 0 1 0 -4.6 0M403.00 422.8a2.3 2.3 0 1 0 4.6 0a2.3 2.3 0 1 0 -4.6 0M414.03 349.2a2.3 2.3 0 1 0 4.6 0a2.3 2.3 0 1 0 -4.6 0M404.35 362.6a2.3 2.3 0 1 0 4.6 0a2.3 2.3 0 1 0 -4.6 0M401.51 337.0a2.3 2.3 0 1 0 4.6 0a2.3 2.3 0 1 0 -4.6 0M413.04 371.0a2.3 2.3 0 1 0 4.6 0a2.3 2.3 0 1 0 -4.6 0M404.66 389.9a2.3 2.3 0 1 0 4.6 0a2.3 2.3 0 1 0 -4.6 0M405.43 325.0a2.3 2.3 0 1 0 4.6 0a2.3 2.3 0 1 0 -4.6 0M404.19 348.1a2.3 2.3 0 1 0 4.6 0a2.3 2.3 0 1 0 -4.6 0M407.46 348.1a2.3 2.3 0 1 0 4.6 0a2.3 2.3 0 1 0 -4.6 0M412.12 336.2a2.3 2.3 0 1 0 4.6 0a2.3 2.3 0 1 0 -4.6 0M406.72 347.5a2.3 2.3 0 1 0 4.6 0a2.3 2.3 0 1 0 -4.6 0M399.59 345.3a2.3 2.3 0 1 0 4.6 0a2.3 2.3 0 1 0 -4.6 0M399.26 361.2a2.3 2.3 0 1 0 4.6 0a2.3 2.3 0 1 0 -4.6 0M398.87 345.9a2.3 2.3 0 1 0 4.6 0a2.3 2.3 0 1 0 -4.6 0M427.06 388.0a2.3 2.3 0 1 0 4.6 0a2.3 2.3 0 1 0 -4.6 0M405.10 391.7a2.3 2.3 0 1 0 4.6 0a2.3 2.3 0 1 0 -4.6 0M430.19 381.0a2.3 2.3 0 1 0 4.6 0a2.3 2.3 0 1 0 -4.6 0M410.58 381.8a2.3 2.3 0 1 0 4.6 0a2.3 2.3 0 1 0 -4.6 0M421.49 345.0a2.3 2.3 0 1 0 4.6 0a2.3 2.3 0 1 0 -4.6 0M408.06 407.3a2.3 2.3 0 1 0 4.6 0a2.3 2.3 0 1 0 -4.6 0M437.52 411.4a2.3 2.3 0 1 0 4.6 0a2.3 2.3 0 1 0 -4.6 0M419.61 411.9a2.3 2.3 0 1 0 4.6 0a2.3 2.3 0 1 0 -4.6 0M415.85 337.1a2.3 2.3 0 1 0 4.6 0a2.3 2.3 0 1 0 -4.6 0M424.07 402.7a2.3 2.3 0 1 0 4.6 0a2.3 2.3 0 1 0 -4.6 0M409.80 346.8a2.3 2.3 0 1 0 4.6 0a2.3 2.3 0 1 0 -4.6 0M436.29 396.5a2.3 2.3 0 1 0 4.6 0a2.3 2.3 0 1 0 -4.6 0M460.20 412.3a2.3 2.3 0 1 0 4.6 0a2.3 2.3 0 1 0 -4.6 0M420.61 383.8a2.3 2.3 0 1 0 4.6 0a2.3 2.3 0 1 0 -4.6 0M424.66 364.4a2.3 2.3 0 1 0 4.6 0a2.3 2.3 0 1 0 -4.6 0M406.13 320.2a2.3 2.3 0 1 0 4.6 0a2.3 2.3 0 1 0 -4.6 0M398.25 346.1a2.3 2.3 0 1 0 4.6 0a2.3 2.3 0 1 0 -4.6 0M417.24 371.5a2.3 2.3 0 1 0 4.6 0a2.3 2.3 0 1 0 -4.6 0M411.57 390.1a2.3 2.3 0 1 0 4.6 0a2.3 2.3 0 1 0 -4.6 0M417.33 373.7a2.3 2.3 0 1 0 4.6 0a2.3 2.3 0 1 0 -4.6 0M402.89 418.1a2.3 2.3 0 1 0 4.6 0a2.3 2.3 0 1 0 -4.6 0M397.79 343.7a2.3 2.3 0 1 0 4.6 0a2.3 2.3 0 1 0 -4.6 0M430.73 360.5a2.3 2.3 0 1 0 4.6 0a2.3 2.3 0 1 0 -4.6 0M425.21 387.8a2.3 2.3 0 1 0 4.6 0a2.3 2.3 0 1 0 -4.6 0M434.94 401.5a2.3 2.3 0 1 0 4.6 0a2.3 2.3 0 1 0 -4.6 0M434.65 368.3a2.3 2.3 0 1 0 4.6 0a2.3 2.3 0 1 0 -4.6 0M408.60 384.7a2.3 2.3 0 1 0 4.6 0a2.3 2.3 0 1 0 -4.6 0M397.96 309.0a2.3 2.3 0 1 0 4.6 0a2.3 2.3 0 1 0 -4.6 0M411.95 398.2a2.3 2.3 0 1 0 4.6 0a2.3 2.3 0 1 0 -4.6 0M427.40 372.8a2.3 2.3 0 1 0 4.6 0a2.3 2.3 0 1 0 -4.6 0M416.94 381.4a2.3 2.3 0 1 0 4.6 0a2.3 2.3 0 1 0 -4.6 0M412.27 397.6a2.3 2.3 0 1 0 4.6 0a2.3 2.3 0 1 0 -4.6 0M426.38 408.7a2.3 2.3 0 1 0 4.6 0a2.3 2.3 0 1 0 -4.6 0M417.05 381.4a2.3 2.3 0 1 0 4.6 0a2.3 2.3 0 1 0 -4.6 0M426.28 372.3a2.3 2.3 0 1 0 4.6 0a2.3 2.3 0 1 0 -4.6 0M437.14 366.1a2.3 2.3 0 1 0 4.6 0a2.3 2.3 0 1 0 -4.6 0M414.45 362.7a2.3 2.3 0 1 0 4.6 0a2.3 2.3 0 1 0 -4.6 0M443.34 367.9a2.3 2.3 0 1 0 4.6 0a2.3 2.3 0 1 0 -4.6 0M398.05 333.8a2.3 2.3 0 1 0 4.6 0a2.3 2.3 0 1 0 -4.6 0M416.84 392.1a2.3 2.3 0 1 0 4.6 0a2.3 2.3 0 1 0 -4.6 0M425.95 408.3a2.3 2.3 0 1 0 4.6 0a2.3 2.3 0 1 0 -4.6 0M410.23 388.5a2.3 2.3 0 1 0 4.6 0a2.3 2.3 0 1 0 -4.6 0M399.19 364.6a2.3 2.3 0 1 0 4.6 0a2.3 2.3 0 1 0 -4.6 0M422.15 338.5a2.3 2.3 0 1 0 4.6 0a2.3 2.3 0 1 0 -4.6 0M414.06 328.4a2.3 2.3 0 1 0 4.6 0a2.3 2.3 0 1 0 -4.6 0M415.23 380.6a2.3 2.3 0 1 0 4.6 0a2.3 2.3 0 1 0 -4.6 0M436.61 402.2a2.3 2.3 0 1 0 4.6 0a2.3 2.3 0 1 0 -4.6 0M411.89 372.5a2.3 2.3 0 1 0 4.6 0a2.3 2.3 0 1 0 -4.6 0M409.41 357.2a2.3 2.3 0 1 0 4.6 0a2.3 2.3 0 1 0 -4.6 0M410.75 400.4a2.3 2.3 0 1 0 4.6 0a2.3 2.3 0 1 0 -4.6 0M416.32 333.8a2.3 2.3 0 1 0 4.6 0a2.3 2.3 0 1 0 -4.6 0M419.04 358.9a2.3 2.3 0 1 0 4.6 0a2.3 2.3 0 1 0 -4.6 0M403.91 328.2a2.3 2.3 0 1 0 4.6 0a2.3 2.3 0 1 0 -4.6 0M411.30 330.1a2.3 2.3 0 1 0 4.6 0a2.3 2.3 0 1 0 -4.6 0M405.20 369.7a2.3 2.3 0 1 0 4.6 0a2.3 2.3 0 1 0 -4.6 0M404.17 391.2a2.3 2.3 0 1 0 4.6 0a2.3 2.3 0 1 0 -4.6 0M400.66 413.8a2.3 2.3 0 1 0 4.6 0a2.3 2.3 0 1 0 -4.6 0M420.19 388.7a2.3 2.3 0 1 0 4.6 0a2.3 2.3 0 1 0 -4.6 0M407.16 372.0a2.3 2.3 0 1 0 4.6 0a2.3 2.3 0 1 0 -4.6 0M418.79 376.5a2.3 2.3 0 1 0 4.6 0a2.3 2.3 0 1 0 -4.6 0M429.66 395.4a2.3 2.3 0 1 0 4.6 0a2.3 2.3 0 1 0 -4.6 0M424.44 370.8a2.3 2.3 0 1 0 4.6 0a2.3 2.3 0 1 0 -4.6 0M413.18 400.8a2.3 2.3 0 1 0 4.6 0a2.3 2.3 0 1 0 -4.6 0M412.17 418.7a2.3 2.3 0 1 0 4.6 0a2.3 2.3 0 1 0 -4.6 0M403.29 369.8a2.3 2.3 0 1 0 4.6 0a2.3 2.3 0 1 0 -4.6 0M403.39 384.0a2.3 2.3 0 1 0 4.6 0a2.3 2.3 0 1 0 -4.6 0M429.26 334.7a2.3 2.3 0 1 0 4.6 0a2.3 2.3 0 1 0 -4.6 0M411.16 336.9a2.3 2.3 0 1 0 4.6 0a2.3 2.3 0 1 0 -4.6 0M399.12 377.1a2.3 2.3 0 1 0 4.6 0a2.3 2.3 0 1 0 -4.6 0M398.25 311.3a2.3 2.3 0 1 0 4.6 0a2.3 2.3 0 1 0 -4.6 0M405.60 315.5a2.3 2.3 0 1 0 4.6 0a2.3 2.3 0 1 0 -4.6 0M400.89 389.3a2.3 2.3 0 1 0 4.6 0a2.3 2.3 0 1 0 -4.6 0M437.56 350.7a2.3 2.3 0 1 0 4.6 0a2.3 2.3 0 1 0 -4.6 0M407.59 408.7a2.3 2.3 0 1 0 4.6 0a2.3 2.3 0 1 0 -4.6 0M402.73 356.1a2.3 2.3 0 1 0 4.6 0a2.3 2.3 0 1 0 -4.6 0M431.39 388.2a2.3 2.3 0 1 0 4.6 0a2.3 2.3 0 1 0 -4.6 0M418.53 400.6a2.3 2.3 0 1 0 4.6 0a2.3 2.3 0 1 0 -4.6 0M398.78 318.1a2.3 2.3 0 1 0 4.6 0a2.3 2.3 0 1 0 -4.6 0M401.26 358.2a2.3 2.3 0 1 0 4.6 0a2.3 2.3 0 1 0 -4.6 0M451.69 407.3a2.3 2.3 0 1 0 4.6 0a2.3 2.3 0 1 0 -4.6 0M404.45 319.0a2.3 2.3 0 1 0 4.6 0a2.3 2.3 0 1 0 -4.6 0M440.57 365.7a2.3 2.3 0 1 0 4.6 0a2.3 2.3 0 1 0 -4.6 0M433.82 399.8a2.3 2.3 0 1 0 4.6 0a2.3 2.3 0 1 0 -4.6 0M437.35 363.9a2.3 2.3 0 1 0 4.6 0a2.3 2.3 0 1 0 -4.6 0M403.92 362.4a2.3 2.3 0 1 0 4.6 0a2.3 2.3 0 1 0 -4.6 0M399.47 333.6a2.3 2.3 0 1 0 4.6 0a2.3 2.3 0 1 0 -4.6 0M402.32 308.0a2.3 2.3 0 1 0 4.6 0a2.3 2.3 0 1 0 -4.6 0M427.46 404.9a2.3 2.3 0 1 0 4.6 0a2.3 2.3 0 1 0 -4.6 0M398.12 300.7a2.3 2.3 0 1 0 4.6 0a2.3 2.3 0 1 0 -4.6 0M399.51 380.7a2.3 2.3 0 1 0 4.6 0a2.3 2.3 0 1 0 -4.6 0M402.62 361.1a2.3 2.3 0 1 0 4.6 0a2.3 2.3 0 1 0 -4.6 0M429.34 411.6a2.3 2.3 0 1 0 4.6 0a2.3 2.3 0 1 0 -4.6 0M428.53 416.5a2.3 2.3 0 1 0 4.6 0a2.3 2.3 0 1 0 -4.6 0M400.98 348.0a2.3 2.3 0 1 0 4.6 0a2.3 2.3 0 1 0 -4.6 0M399.77 327.2a2.3 2.3 0 1 0 4.6 0a2.3 2.3 0 1 0 -4.6 0M401.29 344.9a2.3 2.3 0 1 0 4.6 0a2.3 2.3 0 1 0 -4.6 0M452.84 403.9a2.3 2.3 0 1 0 4.6 0a2.3 2.3 0 1 0 -4.6 0M410.71 382.3a2.3 2.3 0 1 0 4.6 0a2.3 2.3 0 1 0 -4.6 0M419.48 358.5a2.3 2.3 0 1 0 4.6 0a2.3 2.3 0 1 0 -4.6 0M400.49 350.2a2.3 2.3 0 1 0 4.6 0a2.3 2.3 0 1 0 -4.6 0M406.25 422.7a2.3 2.3 0 1 0 4.6 0a2.3 2.3 0 1 0 -4.6 0M401.50 316.4a2.3 2.3 0 1 0 4.6 0a2.3 2.3 0 1 0 -4.6 0M434.63 378.3a2.3 2.3 0 1 0 4.6 0a2.3 2.3 0 1 0 -4.6 0M419.99 397.6a2.3 2.3 0 1 0 4.6 0a2.3 2.3 0 1 0 -4.6 0M437.31 389.1a2.3 2.3 0 1 0 4.6 0a2.3 2.3 0 1 0 -4.6 0M399.94 400.2a2.3 2.3 0 1 0 4.6 0a2.3 2.3 0 1 0 -4.6 0M415.79 413.8a2.3 2.3 0 1 0 4.6 0a2.3 2.3 0 1 0 -4.6 0M425.24 355.7a2.3 2.3 0 1 0 4.6 0a2.3 2.3 0 1 0 -4.6 0M405.91 400.1a2.3 2.3 0 1 0 4.6 0a2.3 2.3 0 1 0 -4.6 0M409.69 356.8a2.3 2.3 0 1 0 4.6 0a2.3 2.3 0 1 0 -4.6 0M410.44 325.6a2.3 2.3 0 1 0 4.6 0a2.3 2.3 0 1 0 -4.6 0M436.72 408.2a2.3 2.3 0 1 0 4.6 0a2.3 2.3 0 1 0 -4.6 0M417.33 348.2a2.3 2.3 0 1 0 4.6 0a2.3 2.3 0 1 0 -4.6 0M403.70 418.0a2.3 2.3 0 1 0 4.6 0a2.3 2.3 0 1 0 -4.6 0M416.16 412.6a2.3 2.3 0 1 0 4.6 0a2.3 2.3 0 1 0 -4.6 0M420.00 372.8a2.3 2.3 0 1 0 4.6 0a2.3 2.3 0 1 0 -4.6 0M399.74 401.3a2.3 2.3 0 1 0 4.6 0a2.3 2.3 0 1 0 -4.6 0M397.83 344.3a2.3 2.3 0 1 0 4.6 0a2.3 2.3 0 1 0 -4.6 0M430.55 407.7a2.3 2.3 0 1 0 4.6 0a2.3 2.3 0 1 0 -4.6 0M428.02 396.6a2.3 2.3 0 1 0 4.6 0a2.3 2.3 0 1 0 -4.6 0M408.48 380.0a2.3 2.3 0 1 0 4.6 0a2.3 2.3 0 1 0 -4.6 0M410.11 378.1a2.3 2.3 0 1 0 4.6 0a2.3 2.3 0 1 0 -4.6 0M423.53 388.9a2.3 2.3 0 1 0 4.6 0a2.3 2.3 0 1 0 -4.6 0M402.27 356.0a2.3 2.3 0 1 0 4.6 0a2.3 2.3 0 1 0 -4.6 0M411.73 411.7a2.3 2.3 0 1 0 4.6 0a2.3 2.3 0 1 0 -4.6 0M409.92 400.8a2.3 2.3 0 1 0 4.6 0a2.3 2.3 0 1 0 -4.6 0M402.57 399.3a2.3 2.3 0 1 0 4.6 0a2.3 2.3 0 1 0 -4.6 0M418.95 417.3a2.3 2.3 0 1 0 4.6 0a2.3 2.3 0 1 0 -4.6 0M416.36 377.9a2.3 2.3 0 1 0 4.6 0a2.3 2.3 0 1 0 -4.6 0M417.15 347.9a2.3 2.3 0 1 0 4.6 0a2.3 2.3 0 1 0 -4.6 0M399.96 383.7a2.3 2.3 0 1 0 4.6 0a2.3 2.3 0 1 0 -4.6 0M456.76 397.0a2.3 2.3 0 1 0 4.6 0a2.3 2.3 0 1 0 -4.6 0M428.61 368.6a2.3 2.3 0 1 0 4.6 0a2.3 2.3 0 1 0 -4.6 0M441.12 398.8a2.3 2.3 0 1 0 4.6 0a2.3 2.3 0 1 0 -4.6 0M414.08 337.4a2.3 2.3 0 1 0 4.6 0a2.3 2.3 0 1 0 -4.6 0M441.73 407.8a2.3 2.3 0 1 0 4.6 0a2.3 2.3 0 1 0 -4.6 0M415.47 391.6a2.3 2.3 0 1 0 4.6 0a2.3 2.3 0 1 0 -4.6 0M461.33 367.6a2.3 2.3 0 1 0 4.6 0a2.3 2.3 0 1 0 -4.6 0M407.22 334.1a2.3 2.3 0 1 0 4.6 0a2.3 2.3 0 1 0 -4.6 0M404.31 342.8a2.3 2.3 0 1 0 4.6 0a2.3 2.3 0 1 0 -4.6 0M413.02 408.1a2.3 2.3 0 1 0 4.6 0a2.3 2.3 0 1 0 -4.6 0M424.88 319.8a2.3 2.3 0 1 0 4.6 0a2.3 2.3 0 1 0 -4.6 0M425.58 371.5a2.3 2.3 0 1 0 4.6 0a2.3 2.3 0 1 0 -4.6 0M405.02 339.5a2.3 2.3 0 1 0 4.6 0a2.3 2.3 0 1 0 -4.6 0M400.17 410.7a2.3 2.3 0 1 0 4.6 0a2.3 2.3 0 1 0 -4.6 0M414.02 420.9a2.3 2.3 0 1 0 4.6 0a2.3 2.3 0 1 0 -4.6 0M427.36 394.3a2.3 2.3 0 1 0 4.6 0a2.3 2.3 0 1 0 -4.6 0M403.00 324.5a2.3 2.3 0 1 0 4.6 0a2.3 2.3 0 1 0 -4.6 0M453.64 379.0a2.3 2.3 0 1 0 4.6 0a2.3 2.3 0 1 0 -4.6 0M403.28 403.7a2.3 2.3 0 1 0 4.6 0a2.3 2.3 0 1 0 -4.6 0M404.42 319.8a2.3 2.3 0 1 0 4.6 0a2.3 2.3 0 1 0 -4.6 0M400.48 421.7a2.3 2.3 0 1 0 4.6 0a2.3 2.3 0 1 0 -4.6 0M417.13 416.9a2.3 2.3 0 1 0 4.6 0a2.3 2.3 0 1 0 -4.6 0M423.73 375.4a2.3 2.3 0 1 0 4.6 0a2.3 2.3 0 1 0 -4.6 0M400.32 314.5a2.3 2.3 0 1 0 4.6 0a2.3 2.3 0 1 0 -4.6 0M419.46 413.8a2.3 2.3 0 1 0 4.6 0a2.3 2.3 0 1 0 -4.6 0M405.41 394.6a2.3 2.3 0 1 0 4.6 0a2.3 2.3 0 1 0 -4.6 0M422.18 367.1a2.3 2.3 0 1 0 4.6 0a2.3 2.3 0 1 0 -4.6 0M428.93 390.9a2.3 2.3 0 1 0 4.6 0a2.3 2.3 0 1 0 -4.6 0M401.15 376.1a2.3 2.3 0 1 0 4.6 0a2.3 2.3 0 1 0 -4.6 0M410.92 394.1a2.3 2.3 0 1 0 4.6 0a2.3 2.3 0 1 0 -4.6 0M409.52 364.6a2.3 2.3 0 1 0 4.6 0a2.3 2.3 0 1 0 -4.6 0M410.57 405.4a2.3 2.3 0 1 0 4.6 0a2.3 2.3 0 1 0 -4.6 0M414.22 338.1a2.3 2.3 0 1 0 4.6 0a2.3 2.3 0 1 0 -4.6 0M419.89 357.6a2.3 2.3 0 1 0 4.6 0a2.3 2.3 0 1 0 -4.6 0M409.42 416.0a2.3 2.3 0 1 0 4.6 0a2.3 2.3 0 1 0 -4.6 0M403.84 328.0a2.3 2.3 0 1 0 4.6 0a2.3 2.3 0 1 0 -4.6 0M397.76 383.0a2.3 2.3 0 1 0 4.6 0a2.3 2.3 0 1 0 -4.6 0M429.36 382.1a2.3 2.3 0 1 0 4.6 0a2.3 2.3 0 1 0 -4.6 0M428.66 395.0a2.3 2.3 0 1 0 4.6 0a2.3 2.3 0 1 0 -4.6 0M435.66 367.9a2.3 2.3 0 1 0 4.6 0a2.3 2.3 0 1 0 -4.6 0M399.67 326.6a2.3 2.3 0 1 0 4.6 0a2.3 2.3 0 1 0 -4.6 0M405.06 415.7a2.3 2.3 0 1 0 4.6 0a2.3 2.3 0 1 0 -4.6 0M421.74 320.1a2.3 2.3 0 1 0 4.6 0a2.3 2.3 0 1 0 -4.6 0M402.06 344.7a2.3 2.3 0 1 0 4.6 0a2.3 2.3 0 1 0 -4.6 0M398.42 356.7a2.3 2.3 0 1 0 4.6 0a2.3 2.3 0 1 0 -4.6 0M437.06 344.6a2.3 2.3 0 1 0 4.6 0a2.3 2.3 0 1 0 -4.6 0M408.68 408.4a2.3 2.3 0 1 0 4.6 0a2.3 2.3 0 1 0 -4.6 0M408.42 395.0a2.3 2.3 0 1 0 4.6 0a2.3 2.3 0 1 0 -4.6 0M426.95 367.9a2.3 2.3 0 1 0 4.6 0a2.3 2.3 0 1 0 -4.6 0M414.29 343.0a2.3 2.3 0 1 0 4.6 0a2.3 2.3 0 1 0 -4.6 0M432.45 355.2a2.3 2.3 0 1 0 4.6 0a2.3 2.3 0 1 0 -4.6 0M405.77 406.3a2.3 2.3 0 1 0 4.6 0a2.3 2.3 0 1 0 -4.6 0M451.25 384.6a2.3 2.3 0 1 0 4.6 0a2.3 2.3 0 1 0 -4.6 0M421.26 404.6a2.3 2.3 0 1 0 4.6 0a2.3 2.3 0 1 0 -4.6 0M425.50 384.3a2.3 2.3 0 1 0 4.6 0a2.3 2.3 0 1 0 -4.6 0M412.83 421.7a2.3 2.3 0 1 0 4.6 0a2.3 2.3 0 1 0 -4.6 0M398.16 364.1a2.3 2.3 0 1 0 4.6 0a2.3 2.3 0 1 0 -4.6 0M400.65 357.4a2.3 2.3 0 1 0 4.6 0a2.3 2.3 0 1 0 -4.6 0M404.99 418.8a2.3 2.3 0 1 0 4.6 0a2.3 2.3 0 1 0 -4.6 0M399.80 308.5a2.3 2.3 0 1 0 4.6 0a2.3 2.3 0 1 0 -4.6 0M407.91 337.4a2.3 2.3 0 1 0 4.6 0a2.3 2.3 0 1 0 -4.6 0M406.04 321.5a2.3 2.3 0 1 0 4.6 0a2.3 2.3 0 1 0 -4.6 0M406.78 412.3a2.3 2.3 0 1 0 4.6 0a2.3 2.3 0 1 0 -4.6 0M414.37 399.5a2.3 2.3 0 1 0 4.6 0a2.3 2.3 0 1 0 -4.6 0M415.17 377.0a2.3 2.3 0 1 0 4.6 0a2.3 2.3 0 1 0 -4.6 0M402.91 342.9a2.3 2.3 0 1 0 4.6 0a2.3 2.3 0 1 0 -4.6 0M405.44 352.8a2.3 2.3 0 1 0 4.6 0a2.3 2.3 0 1 0 -4.6 0M404.88 396.6a2.3 2.3 0 1 0 4.6 0a2.3 2.3 0 1 0 -4.6 0M399.14 298.4a2.3 2.3 0 1 0 4.6 0a2.3 2.3 0 1 0 -4.6 0M420.66 410.3a2.3 2.3 0 1 0 4.6 0a2.3 2.3 0 1 0 -4.6 0M413.06 377.3a2.3 2.3 0 1 0 4.6 0a2.3 2.3 0 1 0 -4.6 0M422.66 405.9a2.3 2.3 0 1 0 4.6 0a2.3 2.3 0 1 0 -4.6 0M400.29 324.5a2.3 2.3 0 1 0 4.6 0a2.3 2.3 0 1 0 -4.6 0M420.30 409.5a2.3 2.3 0 1 0 4.6 0a2.3 2.3 0 1 0 -4.6 0M407.66 407.9a2.3 2.3 0 1 0 4.6 0a2.3 2.3 0 1 0 -4.6 0M419.90 384.8a2.3 2.3 0 1 0 4.6 0a2.3 2.3 0 1 0 -4.6 0M416.74 365.5a2.3 2.3 0 1 0 4.6 0a2.3 2.3 0 1 0 -4.6 0M400.94 359.5a2.3 2.3 0 1 0 4.6 0a2.3 2.3 0 1 0 -4.6 0M399.07 334.2a2.3 2.3 0 1 0 4.6 0a2.3 2.3 0 1 0 -4.6 0M400.78 417.9a2.3 2.3 0 1 0 4.6 0a2.3 2.3 0 1 0 -4.6 0M400.46 340.2a2.3 2.3 0 1 0 4.6 0a2.3 2.3 0 1 0 -4.6 0M423.70 414.0a2.3 2.3 0 1 0 4.6 0a2.3 2.3 0 1 0 -4.6 0M441.56 405.9a2.3 2.3 0 1 0 4.6 0a2.3 2.3 0 1 0 -4.6 0M452.46 415.4a2.3 2.3 0 1 0 4.6 0a2.3 2.3 0 1 0 -4.6 0M425.39 363.7a2.3 2.3 0 1 0 4.6 0a2.3 2.3 0 1 0 -4.6 0M409.54 385.9a2.3 2.3 0 1 0 4.6 0a2.3 2.3 0 1 0 -4.6 0M411.66 316.5a2.3 2.3 0 1 0 4.6 0a2.3 2.3 0 1 0 -4.6 0M409.71 352.0a2.3 2.3 0 1 0 4.6 0a2.3 2.3 0 1 0 -4.6 0M425.18 370.5a2.3 2.3 0 1 0 4.6 0a2.3 2.3 0 1 0 -4.6 0M411.67 341.3a2.3 2.3 0 1 0 4.6 0a2.3 2.3 0 1 0 -4.6 0M442.13 403.4a2.3 2.3 0 1 0 4.6 0a2.3 2.3 0 1 0 -4.6 0M400.90 316.9a2.3 2.3 0 1 0 4.6 0a2.3 2.3 0 1 0 -4.6 0M416.01 349.0a2.3 2.3 0 1 0 4.6 0a2.3 2.3 0 1 0 -4.6 0M401.65 317.2a2.3 2.3 0 1 0 4.6 0a2.3 2.3 0 1 0 -4.6 0M413.92 410.9a2.3 2.3 0 1 0 4.6 0a2.3 2.3 0 1 0 -4.6 0M431.10 356.9a2.3 2.3 0 1 0 4.6 0a2.3 2.3 0 1 0 -4.6 0M406.25 368.1a2.3 2.3 0 1 0 4.6 0a2.3 2.3 0 1 0 -4.6 0M402.74 342.6a2.3 2.3 0 1 0 4.6 0a2.3 2.3 0 1 0 -4.6 0" fill="none" stroke="#1a476f" stroke-width="1.3"/>
<path d="M391.3 278.4V430.4H684" fill="none" stroke="#404040" stroke-width="1.1"/>
<line x1="385.8" y1="422.1" x2="391.3" y2="422.1" stroke="#404040" stroke-width="1.1"/>
<text transform="translate(380.80 422.10) scale(0.95 1) rotate(-90)" text-anchor="middle" class="tk">0</text>
<line x1="385.8" y1="389.6" x2="391.3" y2="389.6" stroke="#404040" stroke-width="1.1"/>
<text transform="translate(380.80 389.60) scale(0.95 1) rotate(-90)" text-anchor="middle" class="tk">.1</text>
<line x1="385.8" y1="357.1" x2="391.3" y2="357.1" stroke="#404040" stroke-width="1.1"/>
<text transform="translate(380.80 357.10) scale(0.95 1) rotate(-90)" text-anchor="middle" class="tk">.2</text>
<line x1="385.8" y1="324.6" x2="391.3" y2="324.6" stroke="#404040" stroke-width="1.1"/>
<text transform="translate(380.80 324.60) scale(0.95 1) rotate(-90)" text-anchor="middle" class="tk">.3</text>
<line x1="385.8" y1="292.1" x2="391.3" y2="292.1" stroke="#404040" stroke-width="1.1"/>
<text transform="translate(380.80 292.10) scale(0.95 1) rotate(-90)" text-anchor="middle" class="tk">.4</text>
<line x1="399.8" y1="430.4" x2="399.8" y2="435.6" stroke="#404040" stroke-width="1.1"/>
<text transform="translate(399.80 451.80) scale(0.95 1)" text-anchor="middle" class="tk">0</text>
<line x1="468.7" y1="430.4" x2="468.7" y2="435.6" stroke="#404040" stroke-width="1.1"/>
<text transform="translate(468.68 451.80) scale(0.95 1)" text-anchor="middle" class="tk">2</text>
<line x1="537.6" y1="430.4" x2="537.6" y2="435.6" stroke="#404040" stroke-width="1.1"/>
<text transform="translate(537.56 451.80) scale(0.95 1)" text-anchor="middle" class="tk">4</text>
<line x1="606.4" y1="430.4" x2="606.4" y2="435.6" stroke="#404040" stroke-width="1.1"/>
<text transform="translate(606.44 451.80) scale(0.95 1)" text-anchor="middle" class="tk">6</text>
<line x1="675.3" y1="430.4" x2="675.3" y2="435.6" stroke="#404040" stroke-width="1.1"/>
<text transform="translate(675.32 451.80) scale(0.95 1)" text-anchor="middle" class="tk">8</text>
<text transform="translate(537.65 465.70) scale(0.95 1)" text-anchor="middle" class="at">rEPAP</text>
<text transform="translate(369.70 354.40) scale(0.95 1) rotate(-90)" text-anchor="middle" class="at">rCFTI</text>
<text transform="translate(348.50 272.50) scale(0.95 1)" text-anchor="start" class="tt">rCFTI = 0.0741 + 0.0773 rEPAP − 0.0085 rEPAP</text>
<text transform="translate(649.00 263.50) scale(0.88 1)" text-anchor="start" class="sp">2</text>
<text transform="translate(393.70 482.60) scale(0.95 1)" text-anchor="start" class="nt"><tspan font-style="italic">n</tspan> = 3293</text>
<text transform="translate(450.70 482.60) scale(0.93 1)" text-anchor="start" class="nt">RMSE = 0.0777</text>
</svg></body></html>
